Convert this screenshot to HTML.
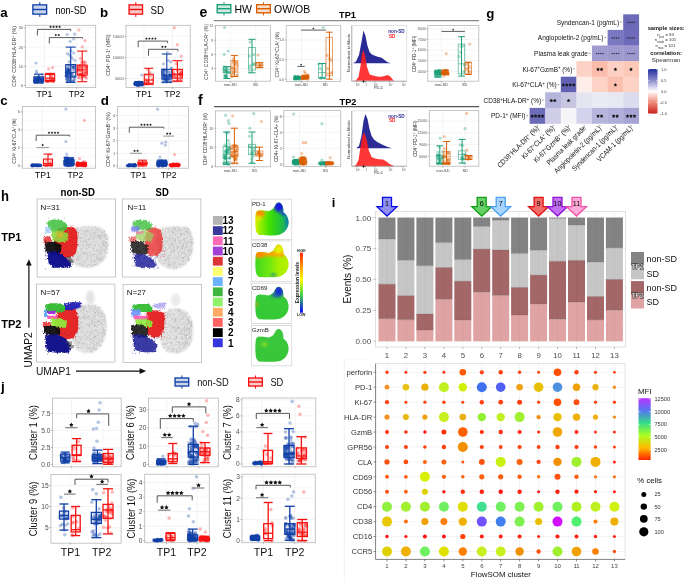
<!DOCTYPE html>
<html><head><meta charset="utf-8"><style>
html,body{margin:0;padding:0;background:#fff;overflow:hidden}
svg{display:block;font-family:"Liberation Sans", sans-serif;will-change:transform}
</style></head><body>
<svg width="685" height="582" viewBox="0 0 685 582">
<defs></defs>
<text x="0.2" y="16.9" font-size="13.3" font-weight="bold" fill="#000">a</text>
<text x="100" y="17.1" font-size="13.3" font-weight="bold" fill="#000">b</text>
<text x="0.2" y="104.6" font-size="13.3" font-weight="bold" fill="#000">c</text>
<text x="100.8" y="105" font-size="13.3" font-weight="bold" fill="#000">d</text>
<line x1="39.8" y1="2.2" x2="39.8" y2="16.9" stroke="#0f3fa6" stroke-width="1"/>
<rect x="32.9" y="4.9" width="13.7" height="9.2" fill="#fff" stroke="#0f3fa6" stroke-width="1.4"/>
<rect x="33.8" y="5.8" width="11.9" height="7.4" fill="#0f3fa6" stroke="none" stroke-width="1" fill-opacity="0.22"/>
<line x1="32.9" y1="9.5" x2="46.6" y2="9.5" stroke="#0f3fa6" stroke-width="1.4"/>
<text transform="translate(55.4 14) scale(0.870 1)" font-size="10.5" fill="#000">non-SD</text>
<line x1="135.8" y1="2.2" x2="135.8" y2="16.9" stroke="#f70f0f" stroke-width="1"/>
<rect x="129.1" y="4.9" width="13.4" height="9.2" fill="#fff" stroke="#f70f0f" stroke-width="1.4"/>
<rect x="130" y="5.8" width="11.6" height="7.4" fill="#f70f0f" stroke="none" stroke-width="1" fill-opacity="0.22"/>
<line x1="129.1" y1="9.5" x2="142.5" y2="9.5" stroke="#f70f0f" stroke-width="1.4"/>
<text transform="translate(150.4 14) scale(0.930 1)" font-size="10.5" fill="#000">SD</text>
<rect x="25.3" y="25.3" width="70.4" height="62.1" fill="#fff" stroke="none" stroke-width="1"/>
<line x1="25.3" y1="85.5" x2="95.7" y2="85.5" stroke="#ececec" stroke-width="0.6"/>
<line x1="25.3" y1="75.9" x2="95.7" y2="75.9" stroke="#f4f4f4" stroke-width="0.5"/>
<line x1="25.3" y1="66.3" x2="95.7" y2="66.3" stroke="#ececec" stroke-width="0.6"/>
<line x1="25.3" y1="56.7" x2="95.7" y2="56.7" stroke="#f4f4f4" stroke-width="0.5"/>
<line x1="25.3" y1="47.1" x2="95.7" y2="47.1" stroke="#ececec" stroke-width="0.6"/>
<line x1="25.3" y1="37.5" x2="95.7" y2="37.5" stroke="#f4f4f4" stroke-width="0.5"/>
<line x1="25.3" y1="27.9" x2="95.7" y2="27.9" stroke="#ececec" stroke-width="0.6"/>
<line x1="44.5" y1="25.3" x2="44.5" y2="87.4" stroke="#ececec" stroke-width="0.6"/>
<line x1="76.7" y1="25.3" x2="76.7" y2="87.4" stroke="#ececec" stroke-width="0.6"/>
<rect x="25.3" y="25.3" width="70.4" height="62.1" fill="none" stroke="#b8b8b8" stroke-width="0.8"/>
<line x1="23.8" y1="85.5" x2="25.3" y2="85.5" stroke="#777" stroke-width="0.5"/>
<text x="23.1" y="86.9" font-size="4" text-anchor="end" fill="#555555">0</text>
<line x1="23.8" y1="66.3" x2="25.3" y2="66.3" stroke="#777" stroke-width="0.5"/>
<text x="23.1" y="67.7" font-size="4" text-anchor="end" fill="#555555">10</text>
<line x1="23.8" y1="47.1" x2="25.3" y2="47.1" stroke="#777" stroke-width="0.5"/>
<text x="23.1" y="48.5" font-size="4" text-anchor="end" fill="#555555">20</text>
<line x1="23.8" y1="27.9" x2="25.3" y2="27.9" stroke="#777" stroke-width="0.5"/>
<text x="23.1" y="29.3" font-size="4" text-anchor="end" fill="#555555">30</text>
<line x1="44.5" y1="87.4" x2="44.5" y2="88.9" stroke="#777" stroke-width="0.5"/>
<line x1="76.7" y1="87.4" x2="76.7" y2="88.9" stroke="#777" stroke-width="0.5"/>
<text transform="translate(16.3 56.3) rotate(-90)" font-size="5.3" text-anchor="middle" fill="#333">CD4<tspan baseline-shift="super" font-size="3.2">+</tspan> CD38<tspan baseline-shift="super" font-size="3.2">+</tspan>HLA-DR<tspan baseline-shift="super" font-size="3.2">+</tspan> (%)</text>
<g fill="#0f3fa6" fill-opacity="0.3">
<circle cx="35" cy="80.9" r="1.6"/>
<circle cx="40.5" cy="79.5" r="1.6"/>
<circle cx="40.1" cy="81.4" r="1.6"/>
<circle cx="43" cy="81.5" r="1.6"/>
<circle cx="41.6" cy="81.3" r="1.6"/>
<circle cx="37" cy="79.6" r="1.6"/>
<circle cx="37.8" cy="82.1" r="1.6"/>
<circle cx="40.2" cy="82.2" r="1.6"/>
<circle cx="34.7" cy="77" r="1.6"/>
<circle cx="38.5" cy="77.5" r="1.6"/>
<circle cx="36" cy="81" r="1.6"/>
<circle cx="35.5" cy="80.2" r="1.6"/>
<circle cx="35" cy="79.1" r="1.6"/>
<circle cx="41.1" cy="79.4" r="1.6"/>
<circle cx="35.6" cy="81.4" r="1.6"/>
<circle cx="36.6" cy="78.4" r="1.6"/>
<circle cx="37.9" cy="80.2" r="1.6"/>
<circle cx="42" cy="79.5" r="1.6"/>
<circle cx="35.2" cy="77.8" r="1.6"/>
<circle cx="38.4" cy="79.2" r="1.6"/>
<circle cx="39.2" cy="77.5" r="1.6"/>
<circle cx="42.1" cy="74.4" r="1.6"/>
<circle cx="41.5" cy="79.7" r="1.6"/>
<circle cx="41.9" cy="80" r="1.6"/>
<circle cx="36.9" cy="78.5" r="1.6"/>
<circle cx="38.1" cy="81.8" r="1.6"/>
<circle cx="37.6" cy="78.3" r="1.6"/>
<circle cx="42.1" cy="78.9" r="1.6"/>
<circle cx="42.7" cy="77.6" r="1.6"/>
<circle cx="35.8" cy="78.2" r="1.6"/>
<circle cx="36" cy="63" r="1.6"/>
<circle cx="36.5" cy="71.1" r="1.6"/>
<circle cx="36.5" cy="73" r="1.6"/>
</g>
<g fill="#0f3fa6" fill-opacity="0.45">
<circle cx="39.6" cy="79.8" r="1.6"/>
<circle cx="34.6" cy="81.1" r="1.6"/>
<circle cx="37.7" cy="80.2" r="1.6"/>
<circle cx="42.7" cy="79.4" r="1.6"/>
<circle cx="38.9" cy="78.6" r="1.6"/>
<circle cx="40.3" cy="79.1" r="1.6"/>
<circle cx="42.2" cy="82.3" r="1.6"/>
<circle cx="42" cy="78.1" r="1.6"/>
<circle cx="37.9" cy="78" r="1.6"/>
<circle cx="35.4" cy="80.3" r="1.6"/>
<circle cx="35.1" cy="79" r="1.6"/>
<circle cx="36.3" cy="82.2" r="1.6"/>
<circle cx="37.4" cy="81.7" r="1.6"/>
<circle cx="34.5" cy="82.3" r="1.6"/>
<circle cx="35.4" cy="81.7" r="1.6"/>
<circle cx="34.7" cy="80.5" r="1.6"/>
<circle cx="39.8" cy="77.6" r="1.6"/>
<circle cx="36.7" cy="81.8" r="1.6"/>
<circle cx="37.6" cy="80.6" r="1.6"/>
<circle cx="41.8" cy="81.9" r="1.6"/>
<circle cx="38.5" cy="76.9" r="1.6"/>
<circle cx="35.3" cy="79.8" r="1.6"/>
<circle cx="37.5" cy="82" r="1.6"/>
<circle cx="41.6" cy="81.1" r="1.6"/>
<circle cx="34.7" cy="81.7" r="1.6"/>
</g>
<line x1="38.8" y1="74.2" x2="38.8" y2="83" stroke="#0f3fa6" stroke-width="1.1"/>
<line x1="34" y1="74.2" x2="43.5" y2="74.2" stroke="#0f3fa6" stroke-width="1.1"/>
<line x1="34" y1="83" x2="43.5" y2="83" stroke="#0f3fa6" stroke-width="1.1"/>
<rect x="34" y="76.9" width="9.5" height="4.8" fill="none" stroke="#0f3fa6" stroke-width="1.1"/>
<line x1="34" y1="79.2" x2="43.5" y2="79.2" stroke="#0f3fa6" stroke-width="1.1"/>
<g fill="#f70f0f" fill-opacity="0.3">
<circle cx="47.4" cy="81.5" r="1.6"/>
<circle cx="47.5" cy="80.3" r="1.6"/>
<circle cx="51.1" cy="74.5" r="1.6"/>
<circle cx="53.4" cy="81.4" r="1.6"/>
<circle cx="52.9" cy="79.5" r="1.6"/>
<circle cx="49.8" cy="80.8" r="1.6"/>
<circle cx="51.3" cy="79.1" r="1.6"/>
<circle cx="52.6" cy="80.7" r="1.6"/>
<circle cx="46.4" cy="80.8" r="1.6"/>
<circle cx="51.4" cy="77.3" r="1.6"/>
<circle cx="53.5" cy="80.3" r="1.6"/>
<circle cx="52.4" cy="78.8" r="1.6"/>
<circle cx="52.1" cy="76.3" r="1.6"/>
<circle cx="49.8" cy="74.2" r="1.6"/>
<circle cx="47.3" cy="81.2" r="1.6"/>
<circle cx="52.5" cy="79.1" r="1.6"/>
<circle cx="48.6" cy="68.8" r="1.6"/>
<circle cx="52.6" cy="67.6" r="1.6"/>
</g>
<line x1="50" y1="73.4" x2="50" y2="81.7" stroke="#f70f0f" stroke-width="1.1"/>
<line x1="45.2" y1="73.4" x2="54.8" y2="73.4" stroke="#f70f0f" stroke-width="1.1"/>
<line x1="45.2" y1="81.7" x2="54.8" y2="81.7" stroke="#f70f0f" stroke-width="1.1"/>
<rect x="45.2" y="74.4" width="9.5" height="6.1" fill="none" stroke="#f70f0f" stroke-width="1.1"/>
<line x1="45.2" y1="78.2" x2="54.8" y2="78.2" stroke="#f70f0f" stroke-width="1.1"/>
<g fill="#0f3fa6" fill-opacity="0.3">
<circle cx="66.6" cy="73.4" r="1.6"/>
<circle cx="73.2" cy="81.5" r="1.6"/>
<circle cx="68.6" cy="75" r="1.6"/>
<circle cx="67.4" cy="81.6" r="1.6"/>
<circle cx="70" cy="78.8" r="1.6"/>
<circle cx="74.4" cy="70.1" r="1.6"/>
<circle cx="73.6" cy="76.7" r="1.6"/>
<circle cx="68.5" cy="79.5" r="1.6"/>
<circle cx="67.5" cy="53.7" r="1.6"/>
<circle cx="74.5" cy="78" r="1.6"/>
<circle cx="71.3" cy="73.9" r="1.6"/>
<circle cx="72.5" cy="73.7" r="1.6"/>
<circle cx="67" cy="75.2" r="1.6"/>
<circle cx="66.7" cy="71.5" r="1.6"/>
<circle cx="72.4" cy="65.7" r="1.6"/>
<circle cx="70" cy="65.6" r="1.6"/>
<circle cx="66.9" cy="70.3" r="1.6"/>
<circle cx="74.6" cy="76.6" r="1.6"/>
<circle cx="71.9" cy="74.6" r="1.6"/>
<circle cx="73.4" cy="67" r="1.6"/>
<circle cx="67" cy="71" r="1.6"/>
<circle cx="73.9" cy="80.6" r="1.6"/>
<circle cx="66.8" cy="70" r="1.6"/>
<circle cx="74" cy="67.6" r="1.6"/>
<circle cx="70.3" cy="73.5" r="1.6"/>
<circle cx="69.3" cy="79.3" r="1.6"/>
<circle cx="71.2" cy="80" r="1.6"/>
<circle cx="74.5" cy="79.6" r="1.6"/>
<circle cx="68.6" cy="68.7" r="1.6"/>
<circle cx="67.4" cy="65.3" r="1.6"/>
<circle cx="70.9" cy="77.2" r="1.6"/>
<circle cx="68.3" cy="70" r="1.6"/>
<circle cx="67.2" cy="81.7" r="1.6"/>
<circle cx="67.7" cy="71.4" r="1.6"/>
<circle cx="66.7" cy="73.9" r="1.6"/>
<circle cx="68" cy="68.6" r="1.6"/>
<circle cx="69" cy="81.6" r="1.6"/>
<circle cx="68.9" cy="81.6" r="1.6"/>
<circle cx="73" cy="81.2" r="1.6"/>
<circle cx="68.8" cy="70.4" r="1.6"/>
<circle cx="70.7" cy="81.5" r="1.6"/>
<circle cx="67.8" cy="70.5" r="1.6"/>
<circle cx="69.3" cy="74.5" r="1.6"/>
<circle cx="66.4" cy="68" r="1.6"/>
<circle cx="68.5" cy="70.1" r="1.6"/>
<circle cx="66.3" cy="76.6" r="1.6"/>
<circle cx="72.8" cy="69.2" r="1.6"/>
<circle cx="71.2" cy="76.1" r="1.6"/>
<circle cx="67.9" cy="77" r="1.6"/>
<circle cx="70.5" cy="73.6" r="1.6"/>
<circle cx="74.6" cy="34.2" r="1.6"/>
<circle cx="67.2" cy="34.6" r="1.6"/>
<circle cx="73.6" cy="39" r="1.6"/>
<circle cx="70.1" cy="41.3" r="1.6"/>
<circle cx="70.7" cy="50.9" r="1.6"/>
<circle cx="73.7" cy="52.9" r="1.6"/>
<circle cx="69.7" cy="54.8" r="1.6"/>
<circle cx="70.8" cy="56.7" r="1.6"/>
<circle cx="72.4" cy="58.6" r="1.6"/>
<circle cx="75" cy="60.5" r="1.6"/>
<circle cx="69.3" cy="61.5" r="1.6"/>
</g>
<g fill="#0f3fa6" fill-opacity="0.45">
<circle cx="72.6" cy="67.3" r="1.6"/>
<circle cx="69.8" cy="70.7" r="1.6"/>
<circle cx="66.7" cy="75.7" r="1.6"/>
<circle cx="66.8" cy="79.4" r="1.6"/>
<circle cx="68.5" cy="68.9" r="1.6"/>
<circle cx="67" cy="78.8" r="1.6"/>
<circle cx="74" cy="67.1" r="1.6"/>
<circle cx="68.7" cy="70.1" r="1.6"/>
<circle cx="68.8" cy="77.5" r="1.6"/>
<circle cx="67.6" cy="73.7" r="1.6"/>
<circle cx="68.6" cy="74" r="1.6"/>
<circle cx="75" cy="65" r="1.6"/>
<circle cx="68.4" cy="72.2" r="1.6"/>
<circle cx="69" cy="65" r="1.6"/>
<circle cx="66.2" cy="75.5" r="1.6"/>
<circle cx="70.5" cy="75.1" r="1.6"/>
<circle cx="68" cy="73" r="1.6"/>
<circle cx="66.2" cy="72.9" r="1.6"/>
</g>
<line x1="70.7" y1="47.1" x2="70.7" y2="82.4" stroke="#0f3fa6" stroke-width="1.1"/>
<line x1="65.7" y1="47.1" x2="75.7" y2="47.1" stroke="#0f3fa6" stroke-width="1.1"/>
<line x1="65.7" y1="82.4" x2="75.7" y2="82.4" stroke="#0f3fa6" stroke-width="1.1"/>
<rect x="65.7" y="64.6" width="10" height="12.3" fill="none" stroke="#0f3fa6" stroke-width="1.1"/>
<line x1="65.7" y1="72.3" x2="75.7" y2="72.3" stroke="#0f3fa6" stroke-width="1.1"/>
<g fill="#f70f0f" fill-opacity="0.3">
<circle cx="80.4" cy="74.2" r="1.6"/>
<circle cx="82.8" cy="74.7" r="1.6"/>
<circle cx="77.8" cy="72.1" r="1.6"/>
<circle cx="78.2" cy="69.3" r="1.6"/>
<circle cx="80.1" cy="67.6" r="1.6"/>
<circle cx="83.7" cy="75.9" r="1.6"/>
<circle cx="83.9" cy="71.9" r="1.6"/>
<circle cx="83.8" cy="62.8" r="1.6"/>
<circle cx="80.3" cy="58.4" r="1.6"/>
<circle cx="82.3" cy="76.9" r="1.6"/>
<circle cx="81.9" cy="70.1" r="1.6"/>
<circle cx="81.9" cy="66.8" r="1.6"/>
<circle cx="78.8" cy="77.8" r="1.6"/>
<circle cx="85.7" cy="77.1" r="1.6"/>
<circle cx="79.5" cy="74.8" r="1.6"/>
<circle cx="86.5" cy="71.5" r="1.6"/>
<circle cx="86.1" cy="66.8" r="1.6"/>
<circle cx="77.9" cy="68.9" r="1.6"/>
<circle cx="81.8" cy="78.5" r="1.6"/>
<circle cx="85.1" cy="67.2" r="1.6"/>
<circle cx="86.4" cy="78.2" r="1.6"/>
<circle cx="81.7" cy="62.4" r="1.6"/>
<circle cx="80.1" cy="74.4" r="1.6"/>
<circle cx="79.6" cy="67.9" r="1.6"/>
<circle cx="86.2" cy="67.7" r="1.6"/>
<circle cx="79.6" cy="74.4" r="1.6"/>
<circle cx="82.9" cy="68.3" r="1.6"/>
<circle cx="79" cy="77.5" r="1.6"/>
<circle cx="82.4" cy="73.7" r="1.6"/>
<circle cx="86.3" cy="67.7" r="1.6"/>
<circle cx="78.9" cy="30" r="1.6"/>
<circle cx="85.1" cy="40.6" r="1.6"/>
<circle cx="82.3" cy="46.9" r="1.6"/>
<circle cx="85.7" cy="62.5" r="1.6"/>
<circle cx="84" cy="61.5" r="1.6"/>
</g>
<g fill="#f70f0f" fill-opacity="0.45">
<circle cx="85.8" cy="73.2" r="1.6"/>
<circle cx="77.9" cy="70.3" r="1.6"/>
<circle cx="82.1" cy="75.9" r="1.6"/>
<circle cx="80.4" cy="70.7" r="1.6"/>
<circle cx="80.8" cy="74.3" r="1.6"/>
<circle cx="85.3" cy="72.3" r="1.6"/>
<circle cx="84.5" cy="75.9" r="1.6"/>
<circle cx="78.8" cy="66.2" r="1.6"/>
<circle cx="84.1" cy="65.2" r="1.6"/>
<circle cx="80.3" cy="65.5" r="1.6"/>
</g>
<line x1="82.2" y1="51.1" x2="82.2" y2="81.7" stroke="#f70f0f" stroke-width="1.1"/>
<line x1="77.2" y1="51.1" x2="87.2" y2="51.1" stroke="#f70f0f" stroke-width="1.1"/>
<line x1="77.2" y1="81.7" x2="87.2" y2="81.7" stroke="#f70f0f" stroke-width="1.1"/>
<rect x="77.2" y="65.1" width="10" height="10" fill="none" stroke="#f70f0f" stroke-width="1.1"/>
<line x1="77.2" y1="69.9" x2="87.2" y2="69.9" stroke="#f70f0f" stroke-width="1.1"/>
<path d="M37.4 35.6 V29.4 H70.7 V31.2" fill="none" stroke="#333" stroke-width="0.8"/>
<path d="M50.60 25.57 L51.01 26.35 L51.88 26.51 L51.27 27.14 L51.39 28.01 L50.60 27.62 L49.81 28.01 L49.93 27.14 L49.32 26.51 L50.19 26.35 Z" fill="#111"/>
<path d="M53.60 25.57 L54.01 26.35 L54.88 26.51 L54.27 27.14 L54.39 28.01 L53.60 27.62 L52.81 28.01 L52.93 27.14 L52.32 26.51 L53.19 26.35 Z" fill="#111"/>
<path d="M56.60 25.57 L57.01 26.35 L57.88 26.51 L57.27 27.14 L57.39 28.01 L56.60 27.62 L55.81 28.01 L55.93 27.14 L55.32 26.51 L56.19 26.35 Z" fill="#111"/>
<path d="M59.60 25.57 L60.01 26.35 L60.88 26.51 L60.27 27.14 L60.39 28.01 L59.60 27.62 L58.81 28.01 L58.93 27.14 L58.32 26.51 L59.19 26.35 Z" fill="#111"/>
<path d="M49.3 43.5 V37.6 H82.5 V38.6" fill="none" stroke="#333" stroke-width="0.8"/>
<path d="M55.80 33.77 L56.21 34.55 L57.08 34.71 L56.47 35.34 L56.59 36.21 L55.80 35.82 L55.01 36.21 L55.13 35.34 L54.52 34.71 L55.39 34.55 Z" fill="#111"/>
<path d="M58.80 33.77 L59.21 34.55 L60.08 34.71 L59.47 35.34 L59.59 36.21 L58.80 35.82 L58.01 36.21 L58.13 35.34 L57.52 34.71 L58.39 34.55 Z" fill="#111"/>
<text x="44.5" y="97" font-size="8.6" text-anchor="middle" fill="#000">TP1</text>
<text x="76.7" y="97" font-size="8.6" text-anchor="middle" fill="#000">TP2</text>
<rect x="126" y="25.3" width="64.2" height="62.1" fill="#fff" stroke="none" stroke-width="1"/>
<line x1="126" y1="78.5" x2="190.2" y2="78.5" stroke="#ececec" stroke-width="0.6"/>
<line x1="126" y1="67.9" x2="190.2" y2="67.9" stroke="#f4f4f4" stroke-width="0.5"/>
<line x1="126" y1="57.4" x2="190.2" y2="57.4" stroke="#ececec" stroke-width="0.6"/>
<line x1="126" y1="46.8" x2="190.2" y2="46.8" stroke="#f4f4f4" stroke-width="0.5"/>
<line x1="126" y1="36.2" x2="190.2" y2="36.2" stroke="#ececec" stroke-width="0.6"/>
<line x1="144" y1="25.3" x2="144" y2="87.4" stroke="#ececec" stroke-width="0.6"/>
<line x1="172.5" y1="25.3" x2="172.5" y2="87.4" stroke="#ececec" stroke-width="0.6"/>
<rect x="126" y="25.3" width="64.2" height="62.1" fill="none" stroke="#b8b8b8" stroke-width="0.8"/>
<line x1="124.5" y1="78.5" x2="126" y2="78.5" stroke="#777" stroke-width="0.5"/>
<text x="123.8" y="79.9" font-size="4" text-anchor="end" fill="#555555">5000</text>
<line x1="124.5" y1="57.4" x2="126" y2="57.4" stroke="#777" stroke-width="0.5"/>
<text x="123.8" y="58.8" font-size="4" text-anchor="end" fill="#555555">10000</text>
<line x1="124.5" y1="36.2" x2="126" y2="36.2" stroke="#777" stroke-width="0.5"/>
<text x="123.8" y="37.6" font-size="4" text-anchor="end" fill="#555555">15000</text>
<line x1="144" y1="87.4" x2="144" y2="88.9" stroke="#777" stroke-width="0.5"/>
<line x1="172.5" y1="87.4" x2="172.5" y2="88.9" stroke="#777" stroke-width="0.5"/>
<text transform="translate(110.4 55.1) rotate(-90)" font-size="5.2" text-anchor="middle" fill="#333">CD4<tspan baseline-shift="super" font-size="3.15">+</tspan> PD-1<tspan baseline-shift="super" font-size="3.15">+</tspan> (MFI)</text>
<g fill="#0f3fa6" fill-opacity="0.3">
<circle cx="141.8" cy="83.8" r="1.6"/>
<circle cx="140.7" cy="85" r="1.6"/>
<circle cx="138" cy="84" r="1.6"/>
<circle cx="138" cy="84.3" r="1.6"/>
<circle cx="138.9" cy="81.8" r="1.6"/>
<circle cx="137.7" cy="84" r="1.6"/>
<circle cx="137.4" cy="84.1" r="1.6"/>
<circle cx="135.2" cy="83" r="1.6"/>
<circle cx="136.9" cy="84.7" r="1.6"/>
<circle cx="142.5" cy="84.8" r="1.6"/>
<circle cx="135.7" cy="82.9" r="1.6"/>
<circle cx="138.7" cy="83.3" r="1.6"/>
<circle cx="139.7" cy="85.2" r="1.6"/>
<circle cx="141.6" cy="84" r="1.6"/>
<circle cx="136.4" cy="84" r="1.6"/>
<circle cx="136.8" cy="85" r="1.6"/>
<circle cx="136.7" cy="83.7" r="1.6"/>
<circle cx="137.9" cy="84.2" r="1.6"/>
<circle cx="138.3" cy="84.1" r="1.6"/>
<circle cx="142.4" cy="84.9" r="1.6"/>
<circle cx="141.5" cy="84.9" r="1.6"/>
<circle cx="141.7" cy="84.1" r="1.6"/>
<circle cx="134.8" cy="83.9" r="1.6"/>
<circle cx="134.9" cy="84.1" r="1.6"/>
<circle cx="140.4" cy="83.6" r="1.6"/>
<circle cx="141.9" cy="75.1" r="1.6"/>
</g>
<g fill="#0f3fa6" fill-opacity="0.45">
<circle cx="139.4" cy="83.9" r="1.6"/>
<circle cx="137.8" cy="85.3" r="1.6"/>
<circle cx="141.3" cy="82.5" r="1.6"/>
<circle cx="142.5" cy="82.7" r="1.6"/>
<circle cx="135.5" cy="84.5" r="1.6"/>
<circle cx="138.9" cy="84.8" r="1.6"/>
<circle cx="142.3" cy="83.2" r="1.6"/>
<circle cx="139.9" cy="83.1" r="1.6"/>
<circle cx="138.4" cy="83" r="1.6"/>
<circle cx="135" cy="83.6" r="1.6"/>
<circle cx="136.5" cy="83" r="1.6"/>
<circle cx="139.9" cy="82.5" r="1.6"/>
<circle cx="135.7" cy="84.4" r="1.6"/>
<circle cx="139.8" cy="84.5" r="1.6"/>
<circle cx="135.6" cy="83.2" r="1.6"/>
<circle cx="138.9" cy="85.1" r="1.6"/>
<circle cx="137.8" cy="83.5" r="1.6"/>
<circle cx="139.5" cy="84.6" r="1.6"/>
<circle cx="137.1" cy="85.2" r="1.6"/>
<circle cx="142.4" cy="83.9" r="1.6"/>
<circle cx="141.8" cy="83.4" r="1.6"/>
<circle cx="136.6" cy="83.9" r="1.6"/>
<circle cx="142.4" cy="84.5" r="1.6"/>
<circle cx="137.1" cy="83.2" r="1.6"/>
<circle cx="138.7" cy="85.2" r="1.6"/>
<circle cx="138.1" cy="83.3" r="1.6"/>
<circle cx="140.1" cy="84.5" r="1.6"/>
<circle cx="136.5" cy="82.5" r="1.6"/>
<circle cx="137.4" cy="85.2" r="1.6"/>
<circle cx="140.2" cy="84" r="1.6"/>
</g>
<line x1="138.7" y1="81.5" x2="138.7" y2="85.3" stroke="#0f3fa6" stroke-width="1.1"/>
<line x1="134.2" y1="81.5" x2="143.2" y2="81.5" stroke="#0f3fa6" stroke-width="1.1"/>
<line x1="134.2" y1="85.3" x2="143.2" y2="85.3" stroke="#0f3fa6" stroke-width="1.1"/>
<rect x="134.2" y="82.9" width="9" height="1.5" fill="none" stroke="#0f3fa6" stroke-width="1.1"/>
<line x1="134.2" y1="83.6" x2="143.2" y2="83.6" stroke="#0f3fa6" stroke-width="1.1"/>
<g fill="#f70f0f" fill-opacity="0.3">
<circle cx="150.8" cy="76.1" r="1.6"/>
<circle cx="145" cy="84.2" r="1.6"/>
<circle cx="150.1" cy="72.5" r="1.6"/>
<circle cx="147.8" cy="81.2" r="1.6"/>
<circle cx="147.8" cy="69.5" r="1.6"/>
<circle cx="147.4" cy="81.5" r="1.6"/>
<circle cx="146.1" cy="79.4" r="1.6"/>
<circle cx="144.8" cy="84.2" r="1.6"/>
<circle cx="147" cy="81.3" r="1.6"/>
<circle cx="147.6" cy="84.2" r="1.6"/>
<circle cx="152.5" cy="79.7" r="1.6"/>
<circle cx="145.8" cy="83.5" r="1.6"/>
<circle cx="152.6" cy="84" r="1.6"/>
<circle cx="146.4" cy="74.8" r="1.6"/>
</g>
<line x1="148.8" y1="68.3" x2="148.8" y2="84.4" stroke="#f70f0f" stroke-width="1.1"/>
<line x1="144.3" y1="68.3" x2="153.3" y2="68.3" stroke="#f70f0f" stroke-width="1.1"/>
<line x1="144.3" y1="84.4" x2="153.3" y2="84.4" stroke="#f70f0f" stroke-width="1.1"/>
<rect x="144.3" y="74.3" width="9" height="8.9" fill="none" stroke="#f70f0f" stroke-width="1.1"/>
<line x1="144.3" y1="80" x2="153.3" y2="80" stroke="#f70f0f" stroke-width="1.1"/>
<g fill="#0f3fa6" fill-opacity="0.3">
<circle cx="163.2" cy="71.1" r="1.6"/>
<circle cx="166.6" cy="82" r="1.6"/>
<circle cx="169.7" cy="75.5" r="1.6"/>
<circle cx="169.9" cy="76.1" r="1.6"/>
<circle cx="170.5" cy="74.8" r="1.6"/>
<circle cx="162.7" cy="82.2" r="1.6"/>
<circle cx="164.9" cy="78.5" r="1.6"/>
<circle cx="163.4" cy="64" r="1.6"/>
<circle cx="164" cy="78.3" r="1.6"/>
<circle cx="171.1" cy="81.5" r="1.6"/>
<circle cx="167.5" cy="78.2" r="1.6"/>
<circle cx="170.7" cy="71.8" r="1.6"/>
<circle cx="165.7" cy="79.3" r="1.6"/>
<circle cx="170.1" cy="76.9" r="1.6"/>
<circle cx="166.3" cy="69.8" r="1.6"/>
<circle cx="164.6" cy="78.7" r="1.6"/>
<circle cx="169.3" cy="74.3" r="1.6"/>
<circle cx="170.8" cy="61.9" r="1.6"/>
<circle cx="163.3" cy="79.9" r="1.6"/>
<circle cx="167.7" cy="77.2" r="1.6"/>
<circle cx="167.9" cy="71.5" r="1.6"/>
<circle cx="164.3" cy="77.2" r="1.6"/>
<circle cx="165.6" cy="81.8" r="1.6"/>
<circle cx="163.6" cy="73.8" r="1.6"/>
<circle cx="164.1" cy="69.6" r="1.6"/>
<circle cx="164.6" cy="81.5" r="1.6"/>
<circle cx="167.7" cy="78.2" r="1.6"/>
<circle cx="168.2" cy="72.2" r="1.6"/>
<circle cx="164.1" cy="76.9" r="1.6"/>
<circle cx="162.4" cy="73.1" r="1.6"/>
<circle cx="165.2" cy="79.6" r="1.6"/>
<circle cx="168.4" cy="60.5" r="1.6"/>
<circle cx="164" cy="73.6" r="1.6"/>
<circle cx="165.1" cy="72" r="1.6"/>
<circle cx="164.1" cy="76.7" r="1.6"/>
<circle cx="169.5" cy="77.6" r="1.6"/>
<circle cx="167.2" cy="81.3" r="1.6"/>
<circle cx="162.9" cy="69.5" r="1.6"/>
<circle cx="163.2" cy="76.9" r="1.6"/>
<circle cx="165.9" cy="79.2" r="1.6"/>
<circle cx="167.3" cy="52.3" r="1.6"/>
</g>
<g fill="#0f3fa6" fill-opacity="0.45">
<circle cx="163.1" cy="71.6" r="1.6"/>
<circle cx="168.6" cy="79.3" r="1.6"/>
<circle cx="164.8" cy="75.3" r="1.6"/>
<circle cx="170.9" cy="76.9" r="1.6"/>
<circle cx="167.4" cy="76.9" r="1.6"/>
<circle cx="166" cy="76.1" r="1.6"/>
<circle cx="171.3" cy="68" r="1.6"/>
<circle cx="164.1" cy="76" r="1.6"/>
<circle cx="164.1" cy="70.2" r="1.6"/>
<circle cx="170.4" cy="81.8" r="1.6"/>
<circle cx="169.7" cy="75.1" r="1.6"/>
<circle cx="170.2" cy="75.4" r="1.6"/>
<circle cx="163.8" cy="74.5" r="1.6"/>
<circle cx="167.3" cy="81.6" r="1.6"/>
</g>
<line x1="166.8" y1="54" x2="166.8" y2="82.3" stroke="#0f3fa6" stroke-width="1.1"/>
<line x1="161.8" y1="54" x2="171.8" y2="54" stroke="#0f3fa6" stroke-width="1.1"/>
<line x1="161.8" y1="82.3" x2="171.8" y2="82.3" stroke="#0f3fa6" stroke-width="1.1"/>
<rect x="161.8" y="69.4" width="10" height="9.7" fill="none" stroke="#0f3fa6" stroke-width="1.1"/>
<line x1="161.8" y1="75.1" x2="171.8" y2="75.1" stroke="#0f3fa6" stroke-width="1.1"/>
<g fill="#f70f0f" fill-opacity="0.3">
<circle cx="173.3" cy="81" r="1.6"/>
<circle cx="178.6" cy="73.9" r="1.6"/>
<circle cx="173.6" cy="75.6" r="1.6"/>
<circle cx="179.5" cy="70.1" r="1.6"/>
<circle cx="179.9" cy="73.8" r="1.6"/>
<circle cx="177.5" cy="80.6" r="1.6"/>
<circle cx="173.4" cy="69.9" r="1.6"/>
<circle cx="177.4" cy="81" r="1.6"/>
<circle cx="176.3" cy="63.6" r="1.6"/>
<circle cx="181.5" cy="80.7" r="1.6"/>
<circle cx="174.1" cy="76" r="1.6"/>
<circle cx="180.6" cy="80.7" r="1.6"/>
<circle cx="181.9" cy="74.6" r="1.6"/>
<circle cx="179.5" cy="74.8" r="1.6"/>
<circle cx="180.2" cy="75.9" r="1.6"/>
<circle cx="174.6" cy="81.1" r="1.6"/>
<circle cx="181.7" cy="71.5" r="1.6"/>
<circle cx="177.3" cy="70.8" r="1.6"/>
<circle cx="181.5" cy="72.9" r="1.6"/>
<circle cx="181.1" cy="72.6" r="1.6"/>
<circle cx="174.4" cy="74.4" r="1.6"/>
<circle cx="180" cy="74.4" r="1.6"/>
<circle cx="181.3" cy="75.3" r="1.6"/>
<circle cx="173.5" cy="72.7" r="1.6"/>
<circle cx="176.1" cy="76" r="1.6"/>
<circle cx="179.7" cy="79.8" r="1.6"/>
<circle cx="174.3" cy="74" r="1.6"/>
<circle cx="181" cy="77" r="1.6"/>
<circle cx="175.4" cy="77.3" r="1.6"/>
<circle cx="180.2" cy="73.7" r="1.6"/>
<circle cx="174.2" cy="27.7" r="1.6"/>
<circle cx="177.4" cy="44.7" r="1.6"/>
<circle cx="181.2" cy="56.1" r="1.6"/>
</g>
<line x1="177.4" y1="60.7" x2="177.4" y2="81.2" stroke="#f70f0f" stroke-width="1.1"/>
<line x1="172.4" y1="60.7" x2="182.4" y2="60.7" stroke="#f70f0f" stroke-width="1.1"/>
<line x1="172.4" y1="81.2" x2="182.4" y2="81.2" stroke="#f70f0f" stroke-width="1.1"/>
<rect x="172.4" y="69.4" width="10" height="8.7" fill="none" stroke="#f70f0f" stroke-width="1.1"/>
<line x1="172.4" y1="74.3" x2="182.4" y2="74.3" stroke="#f70f0f" stroke-width="1.1"/>
<path d="M138.2 47.3 V41.1 H167.6 V43.2" fill="none" stroke="#333" stroke-width="0.8"/>
<path d="M146.40 37.27 L146.81 38.05 L147.68 38.21 L147.07 38.84 L147.19 39.71 L146.40 39.32 L145.61 39.71 L145.73 38.84 L145.12 38.21 L145.99 38.05 Z" fill="#111"/>
<path d="M149.40 37.27 L149.81 38.05 L150.68 38.21 L150.07 38.84 L150.19 39.71 L149.40 39.32 L148.61 39.71 L148.73 38.84 L148.12 38.21 L148.99 38.05 Z" fill="#111"/>
<path d="M152.40 37.27 L152.81 38.05 L153.68 38.21 L153.07 38.84 L153.19 39.71 L152.40 39.32 L151.61 39.71 L151.73 38.84 L151.12 38.21 L151.99 38.05 Z" fill="#111"/>
<path d="M155.40 37.27 L155.81 38.05 L156.68 38.21 L156.07 38.84 L156.19 39.71 L155.40 39.32 L154.61 39.71 L154.73 38.84 L154.12 38.21 L154.99 38.05 Z" fill="#111"/>
<path d="M148.5 55.8 V49.3 H177.9 V51.4" fill="none" stroke="#333" stroke-width="0.8"/>
<path d="M162.40 45.47 L162.81 46.25 L163.68 46.41 L163.07 47.04 L163.19 47.91 L162.40 47.52 L161.61 47.91 L161.73 47.04 L161.12 46.41 L161.99 46.25 Z" fill="#111"/>
<path d="M165.40 45.47 L165.81 46.25 L166.68 46.41 L166.07 47.04 L166.19 47.91 L165.40 47.52 L164.61 47.91 L164.73 47.04 L164.12 46.41 L164.99 46.25 Z" fill="#111"/>
<text x="144" y="97" font-size="8.6" text-anchor="middle" fill="#000">TP1</text>
<text x="172.5" y="97" font-size="8.6" text-anchor="middle" fill="#000">TP2</text>
<rect x="22.3" y="106.4" width="73.2" height="61.8" fill="#fff" stroke="none" stroke-width="1"/>
<line x1="22.3" y1="165.8" x2="95.5" y2="165.8" stroke="#ececec" stroke-width="0.6"/>
<line x1="22.3" y1="156.8" x2="95.5" y2="156.8" stroke="#f4f4f4" stroke-width="0.5"/>
<line x1="22.3" y1="147.8" x2="95.5" y2="147.8" stroke="#ececec" stroke-width="0.6"/>
<line x1="22.3" y1="138.8" x2="95.5" y2="138.8" stroke="#f4f4f4" stroke-width="0.5"/>
<line x1="22.3" y1="129.8" x2="95.5" y2="129.8" stroke="#ececec" stroke-width="0.6"/>
<line x1="22.3" y1="120.8" x2="95.5" y2="120.8" stroke="#f4f4f4" stroke-width="0.5"/>
<line x1="22.3" y1="111.8" x2="95.5" y2="111.8" stroke="#ececec" stroke-width="0.6"/>
<line x1="42.3" y1="106.4" x2="42.3" y2="168.2" stroke="#ececec" stroke-width="0.6"/>
<line x1="75.5" y1="106.4" x2="75.5" y2="168.2" stroke="#ececec" stroke-width="0.6"/>
<rect x="22.3" y="106.4" width="73.2" height="61.8" fill="none" stroke="#b8b8b8" stroke-width="0.8"/>
<line x1="20.8" y1="165.8" x2="22.3" y2="165.8" stroke="#777" stroke-width="0.5"/>
<text x="20.1" y="167.2" font-size="4" text-anchor="end" fill="#555555">0</text>
<line x1="20.8" y1="147.8" x2="22.3" y2="147.8" stroke="#777" stroke-width="0.5"/>
<text x="20.1" y="149.2" font-size="4" text-anchor="end" fill="#555555">2</text>
<line x1="20.8" y1="129.8" x2="22.3" y2="129.8" stroke="#777" stroke-width="0.5"/>
<text x="20.1" y="131.2" font-size="4" text-anchor="end" fill="#555555">4</text>
<line x1="20.8" y1="111.8" x2="22.3" y2="111.8" stroke="#777" stroke-width="0.5"/>
<text x="20.1" y="113.2" font-size="4" text-anchor="end" fill="#555555">6</text>
<line x1="42.3" y1="168.2" x2="42.3" y2="169.7" stroke="#777" stroke-width="0.5"/>
<line x1="75.5" y1="168.2" x2="75.5" y2="169.7" stroke="#777" stroke-width="0.5"/>
<text transform="translate(15.8 141) rotate(-90)" font-size="4.8" text-anchor="middle" fill="#333">CD4<tspan baseline-shift="super" font-size="2.85">+</tspan> Ki-67<tspan baseline-shift="super" font-size="2.85">+</tspan>CLA<tspan baseline-shift="super" font-size="2.85">+</tspan> (%)</text>
<g fill="#0f3fa6" fill-opacity="0.3">
<circle cx="34.4" cy="165.7" r="1.6"/>
<circle cx="40.9" cy="165.7" r="1.6"/>
<circle cx="37.2" cy="165.7" r="1.6"/>
<circle cx="35.2" cy="165.4" r="1.6"/>
<circle cx="38.9" cy="165.8" r="1.6"/>
<circle cx="36" cy="165.5" r="1.6"/>
<circle cx="33.6" cy="165.2" r="1.6"/>
<circle cx="38.7" cy="165.5" r="1.6"/>
<circle cx="32.4" cy="165.1" r="1.6"/>
<circle cx="39.4" cy="165.3" r="1.6"/>
</g>
<g fill="#0f3fa6" fill-opacity="0.45">
<circle cx="37.8" cy="165.5" r="1.6"/>
<circle cx="37.3" cy="164.7" r="1.6"/>
<circle cx="34.8" cy="165.1" r="1.6"/>
<circle cx="32.3" cy="165.8" r="1.6"/>
<circle cx="37.5" cy="165.6" r="1.6"/>
<circle cx="36.6" cy="165.3" r="1.6"/>
<circle cx="33.2" cy="164.8" r="1.6"/>
<circle cx="37.9" cy="165.6" r="1.6"/>
<circle cx="32" cy="165.8" r="1.6"/>
<circle cx="33" cy="165.4" r="1.6"/>
<circle cx="34" cy="165.4" r="1.6"/>
<circle cx="37.3" cy="165.2" r="1.6"/>
<circle cx="37.6" cy="165.6" r="1.6"/>
<circle cx="33.2" cy="165.3" r="1.6"/>
<circle cx="34.2" cy="164.8" r="1.6"/>
<circle cx="32.9" cy="165.6" r="1.6"/>
<circle cx="39.8" cy="165.1" r="1.6"/>
<circle cx="35.6" cy="165" r="1.6"/>
<circle cx="32.1" cy="165.5" r="1.6"/>
<circle cx="37.1" cy="165.1" r="1.6"/>
<circle cx="37.8" cy="165.4" r="1.6"/>
<circle cx="40.4" cy="165.3" r="1.6"/>
<circle cx="34.2" cy="165" r="1.6"/>
<circle cx="32.4" cy="164.8" r="1.6"/>
<circle cx="35.7" cy="165.2" r="1.6"/>
<circle cx="32.5" cy="165.5" r="1.6"/>
<circle cx="32.1" cy="165" r="1.6"/>
<circle cx="40.5" cy="165.2" r="1.6"/>
<circle cx="33.8" cy="165.6" r="1.6"/>
<circle cx="36.6" cy="165.1" r="1.6"/>
<circle cx="39.3" cy="165.1" r="1.6"/>
<circle cx="34.8" cy="165.6" r="1.6"/>
<circle cx="32.4" cy="165.5" r="1.6"/>
<circle cx="39" cy="164.8" r="1.6"/>
<circle cx="32.1" cy="165" r="1.6"/>
</g>
<line x1="36.5" y1="165.1" x2="36.5" y2="165.8" stroke="#0f3fa6" stroke-width="1.1"/>
<line x1="36.5" y1="165.1" x2="36.5" y2="165.1" stroke="#0f3fa6" stroke-width="1.1"/>
<line x1="36.5" y1="165.8" x2="36.5" y2="165.8" stroke="#0f3fa6" stroke-width="1.1"/>
<rect x="31.5" y="165.4" width="10" height="0.4" fill="none" stroke="#0f3fa6" stroke-width="1.1"/>
<line x1="31.5" y1="165.6" x2="41.5" y2="165.6" stroke="#0f3fa6" stroke-width="1.1"/>
<g fill="#f70f0f" fill-opacity="0.3">
<circle cx="45.9" cy="165.6" r="1.6"/>
<circle cx="50" cy="164.5" r="1.6"/>
<circle cx="51.6" cy="163.9" r="1.6"/>
<circle cx="50" cy="163.2" r="1.6"/>
<circle cx="46.6" cy="165.4" r="1.6"/>
<circle cx="51.1" cy="161" r="1.6"/>
<circle cx="46.6" cy="160.4" r="1.6"/>
<circle cx="45.9" cy="163.7" r="1.6"/>
<circle cx="51.3" cy="165.7" r="1.6"/>
<circle cx="49.1" cy="164.2" r="1.6"/>
<circle cx="49.6" cy="154.6" r="1.6"/>
</g>
<line x1="48" y1="154.1" x2="48" y2="165.8" stroke="#f70f0f" stroke-width="1.1"/>
<line x1="43.5" y1="154.1" x2="52.5" y2="154.1" stroke="#f70f0f" stroke-width="1.1"/>
<line x1="43.5" y1="165.8" x2="52.5" y2="165.8" stroke="#f70f0f" stroke-width="1.1"/>
<rect x="43.5" y="159.1" width="9" height="6.3" fill="none" stroke="#f70f0f" stroke-width="1.1"/>
<line x1="43.5" y1="163.6" x2="52.5" y2="163.6" stroke="#f70f0f" stroke-width="1.1"/>
<g fill="#0f3fa6" fill-opacity="0.3">
<circle cx="70.8" cy="165.4" r="1.6"/>
<circle cx="71.6" cy="165" r="1.6"/>
<circle cx="70.2" cy="161.6" r="1.6"/>
<circle cx="67.7" cy="163.5" r="1.6"/>
<circle cx="68.1" cy="162.1" r="1.6"/>
<circle cx="68.1" cy="160.8" r="1.6"/>
<circle cx="72.5" cy="164.8" r="1.6"/>
<circle cx="65.3" cy="160.7" r="1.6"/>
<circle cx="72.5" cy="164.3" r="1.6"/>
<circle cx="64.7" cy="164.7" r="1.6"/>
<circle cx="66.4" cy="165.2" r="1.6"/>
<circle cx="66.9" cy="162.1" r="1.6"/>
<circle cx="72.6" cy="161.2" r="1.6"/>
<circle cx="69" cy="165.7" r="1.6"/>
<circle cx="67.9" cy="165" r="1.6"/>
<circle cx="72.5" cy="164" r="1.6"/>
<circle cx="66.6" cy="164.7" r="1.6"/>
<circle cx="68.6" cy="165.2" r="1.6"/>
<circle cx="69.3" cy="165.5" r="1.6"/>
<circle cx="71.3" cy="164.5" r="1.6"/>
<circle cx="71.3" cy="164.3" r="1.6"/>
<circle cx="70.3" cy="164.8" r="1.6"/>
<circle cx="67.6" cy="163.6" r="1.6"/>
<circle cx="67.4" cy="164.3" r="1.6"/>
<circle cx="65.9" cy="165" r="1.6"/>
<circle cx="72.1" cy="163.7" r="1.6"/>
<circle cx="70.5" cy="161.4" r="1.6"/>
<circle cx="71.2" cy="161.7" r="1.6"/>
<circle cx="66" cy="163.9" r="1.6"/>
<circle cx="68.4" cy="159.8" r="1.6"/>
<circle cx="71.5" cy="164.9" r="1.6"/>
<circle cx="69.7" cy="161.5" r="1.6"/>
<circle cx="65.6" cy="163" r="1.6"/>
<circle cx="68.7" cy="161.3" r="1.6"/>
<circle cx="72.5" cy="162.7" r="1.6"/>
<circle cx="66.6" cy="161.2" r="1.6"/>
<circle cx="66.2" cy="160.7" r="1.6"/>
<circle cx="67.2" cy="163.9" r="1.6"/>
<circle cx="70.8" cy="165.5" r="1.6"/>
<circle cx="72.1" cy="160.1" r="1.6"/>
<circle cx="65.9" cy="109.1" r="1.6"/>
<circle cx="65.9" cy="141.5" r="1.6"/>
<circle cx="66.7" cy="154.1" r="1.6"/>
</g>
<g fill="#0f3fa6" fill-opacity="0.45">
<circle cx="69.2" cy="163.2" r="1.6"/>
<circle cx="67.5" cy="164.5" r="1.6"/>
<circle cx="73.3" cy="164.3" r="1.6"/>
<circle cx="65.4" cy="159.9" r="1.6"/>
<circle cx="65.4" cy="158" r="1.6"/>
<circle cx="73.4" cy="162.7" r="1.6"/>
<circle cx="71.1" cy="159.4" r="1.6"/>
<circle cx="66.3" cy="162.3" r="1.6"/>
<circle cx="65.5" cy="160.6" r="1.6"/>
<circle cx="68" cy="164.1" r="1.6"/>
<circle cx="68.1" cy="165.5" r="1.6"/>
<circle cx="70.7" cy="159.4" r="1.6"/>
<circle cx="70.2" cy="161.7" r="1.6"/>
<circle cx="65.8" cy="162" r="1.6"/>
<circle cx="68.1" cy="160.9" r="1.6"/>
<circle cx="72.7" cy="159.8" r="1.6"/>
<circle cx="69.7" cy="162.3" r="1.6"/>
<circle cx="68.3" cy="159.7" r="1.6"/>
<circle cx="71" cy="163.9" r="1.6"/>
<circle cx="71.5" cy="158.7" r="1.6"/>
<circle cx="72.2" cy="160.1" r="1.6"/>
<circle cx="70.3" cy="160.3" r="1.6"/>
<circle cx="67.3" cy="162.1" r="1.6"/>
<circle cx="65.4" cy="160.7" r="1.6"/>
<circle cx="71.5" cy="162.4" r="1.6"/>
<circle cx="70.2" cy="160" r="1.6"/>
<circle cx="68.3" cy="163.8" r="1.6"/>
<circle cx="70.1" cy="162.1" r="1.6"/>
<circle cx="70.6" cy="162.5" r="1.6"/>
<circle cx="66.1" cy="158.3" r="1.6"/>
<circle cx="71.5" cy="160.5" r="1.6"/>
<circle cx="68.9" cy="162.7" r="1.6"/>
<circle cx="64.8" cy="157.9" r="1.6"/>
<circle cx="65.9" cy="161.4" r="1.6"/>
<circle cx="73" cy="159.5" r="1.6"/>
<circle cx="65.4" cy="161.6" r="1.6"/>
<circle cx="69.4" cy="161.1" r="1.6"/>
<circle cx="69.1" cy="160" r="1.6"/>
<circle cx="72" cy="160.6" r="1.6"/>
<circle cx="68.2" cy="161.6" r="1.6"/>
<circle cx="66.4" cy="158.1" r="1.6"/>
<circle cx="68" cy="160.3" r="1.6"/>
<circle cx="65.6" cy="159.6" r="1.6"/>
<circle cx="67.7" cy="157.8" r="1.6"/>
<circle cx="67" cy="165.3" r="1.6"/>
<circle cx="64.6" cy="162.6" r="1.6"/>
<circle cx="68.3" cy="162.4" r="1.6"/>
<circle cx="67.7" cy="160.1" r="1.6"/>
<circle cx="66.5" cy="163.7" r="1.6"/>
<circle cx="73" cy="159.8" r="1.6"/>
<circle cx="66.5" cy="161.5" r="1.6"/>
<circle cx="68" cy="159.3" r="1.6"/>
<circle cx="65.7" cy="164.1" r="1.6"/>
<circle cx="71.8" cy="159.5" r="1.6"/>
<circle cx="68.7" cy="160.7" r="1.6"/>
<circle cx="66.5" cy="161.2" r="1.6"/>
<circle cx="67.7" cy="158" r="1.6"/>
<circle cx="71.9" cy="160.6" r="1.6"/>
<circle cx="68.7" cy="159.2" r="1.6"/>
<circle cx="69.4" cy="163.4" r="1.6"/>
</g>
<line x1="69" y1="157.7" x2="69" y2="165.8" stroke="#0f3fa6" stroke-width="1.1"/>
<line x1="64" y1="157.7" x2="74" y2="157.7" stroke="#0f3fa6" stroke-width="1.1"/>
<line x1="64" y1="165.8" x2="74" y2="165.8" stroke="#0f3fa6" stroke-width="1.1"/>
<rect x="64" y="160.4" width="10" height="4.5" fill="none" stroke="#0f3fa6" stroke-width="1.1"/>
<line x1="64" y1="163.1" x2="74" y2="163.1" stroke="#0f3fa6" stroke-width="1.1"/>
<g fill="#f70f0f" fill-opacity="0.3">
<circle cx="83" cy="163.8" r="1.6"/>
<circle cx="84.6" cy="163.8" r="1.6"/>
<circle cx="80.4" cy="164.7" r="1.6"/>
<circle cx="80.8" cy="164.6" r="1.6"/>
<circle cx="85.6" cy="165.3" r="1.6"/>
<circle cx="77.7" cy="165.4" r="1.6"/>
<circle cx="82.7" cy="164.5" r="1.6"/>
<circle cx="82.7" cy="164.2" r="1.6"/>
<circle cx="77.3" cy="163" r="1.6"/>
<circle cx="82.5" cy="163.4" r="1.6"/>
<circle cx="83.1" cy="165.7" r="1.6"/>
<circle cx="85.4" cy="165.8" r="1.6"/>
<circle cx="80" cy="163.6" r="1.6"/>
<circle cx="85.8" cy="165.7" r="1.6"/>
<circle cx="81.6" cy="164.9" r="1.6"/>
<circle cx="81.4" cy="165.6" r="1.6"/>
<circle cx="85.1" cy="165.7" r="1.6"/>
<circle cx="77.3" cy="165.4" r="1.6"/>
<circle cx="83.5" cy="165.4" r="1.6"/>
<circle cx="82.6" cy="164" r="1.6"/>
<circle cx="80" cy="164" r="1.6"/>
<circle cx="84.8" cy="163.8" r="1.6"/>
<circle cx="80.3" cy="164.9" r="1.6"/>
<circle cx="81.3" cy="165.1" r="1.6"/>
<circle cx="81.7" cy="165.2" r="1.6"/>
<circle cx="83.9" cy="165.1" r="1.6"/>
<circle cx="78.9" cy="164.5" r="1.6"/>
<circle cx="80.9" cy="163.8" r="1.6"/>
<circle cx="80.8" cy="163.8" r="1.6"/>
<circle cx="82" cy="164.3" r="1.6"/>
<circle cx="84.4" cy="120.3" r="1.6"/>
<circle cx="79.6" cy="158.6" r="1.6"/>
<circle cx="84.4" cy="161.3" r="1.6"/>
</g>
<g fill="#f70f0f" fill-opacity="0.45">
<circle cx="81.5" cy="164.5" r="1.6"/>
<circle cx="81.6" cy="164.9" r="1.6"/>
<circle cx="82.9" cy="162.7" r="1.6"/>
<circle cx="80" cy="163.3" r="1.6"/>
<circle cx="79.7" cy="164.8" r="1.6"/>
<circle cx="82.7" cy="164" r="1.6"/>
<circle cx="77.4" cy="163.3" r="1.6"/>
<circle cx="85" cy="163.5" r="1.6"/>
<circle cx="77.4" cy="164.1" r="1.6"/>
<circle cx="77.1" cy="164.9" r="1.6"/>
<circle cx="85.3" cy="165.2" r="1.6"/>
<circle cx="82.9" cy="163.9" r="1.6"/>
<circle cx="85.2" cy="163.3" r="1.6"/>
<circle cx="82.6" cy="163.9" r="1.6"/>
<circle cx="83.3" cy="163.8" r="1.6"/>
<circle cx="83.1" cy="163.9" r="1.6"/>
<circle cx="83" cy="165.1" r="1.6"/>
<circle cx="83.9" cy="164.4" r="1.6"/>
<circle cx="78.6" cy="165.5" r="1.6"/>
<circle cx="84" cy="165.7" r="1.6"/>
<circle cx="82.9" cy="162.9" r="1.6"/>
<circle cx="84.4" cy="164.6" r="1.6"/>
<circle cx="82.1" cy="163.3" r="1.6"/>
<circle cx="79.7" cy="165" r="1.6"/>
<circle cx="79.9" cy="164.5" r="1.6"/>
<circle cx="82.8" cy="164.4" r="1.6"/>
<circle cx="77.5" cy="162.9" r="1.6"/>
<circle cx="77.4" cy="164" r="1.6"/>
<circle cx="84.3" cy="165.4" r="1.6"/>
<circle cx="85.3" cy="164" r="1.6"/>
<circle cx="77.1" cy="164.4" r="1.6"/>
<circle cx="82.3" cy="164.6" r="1.6"/>
<circle cx="85.8" cy="162.8" r="1.6"/>
<circle cx="80.7" cy="164.3" r="1.6"/>
<circle cx="82.8" cy="165.5" r="1.6"/>
<circle cx="78.4" cy="165.1" r="1.6"/>
<circle cx="77" cy="165.8" r="1.6"/>
<circle cx="78.1" cy="163.6" r="1.6"/>
<circle cx="77.8" cy="162.8" r="1.6"/>
<circle cx="78.2" cy="163.1" r="1.6"/>
</g>
<line x1="81.5" y1="162.7" x2="81.5" y2="165.8" stroke="#f70f0f" stroke-width="1.1"/>
<line x1="76.5" y1="162.7" x2="86.5" y2="162.7" stroke="#f70f0f" stroke-width="1.1"/>
<line x1="76.5" y1="165.8" x2="86.5" y2="165.8" stroke="#f70f0f" stroke-width="1.1"/>
<rect x="76.5" y="163.6" width="10" height="1.8" fill="none" stroke="#f70f0f" stroke-width="1.1"/>
<line x1="76.5" y1="164.5" x2="86.5" y2="164.5" stroke="#f70f0f" stroke-width="1.1"/>
<path d="M36.2 141 V135.2 H69.6 V136.6" fill="none" stroke="#333" stroke-width="0.8"/>
<path d="M49.00 131.37 L49.41 132.15 L50.28 132.31 L49.67 132.94 L49.79 133.81 L49.00 133.42 L48.21 133.81 L48.33 132.94 L47.72 132.31 L48.59 132.15 Z" fill="#111"/>
<path d="M52.00 131.37 L52.41 132.15 L53.28 132.31 L52.67 132.94 L52.79 133.81 L52.00 133.42 L51.21 133.81 L51.33 132.94 L50.72 132.31 L51.59 132.15 Z" fill="#111"/>
<path d="M55.00 131.37 L55.41 132.15 L56.28 132.31 L55.67 132.94 L55.79 133.81 L55.00 133.42 L54.21 133.81 L54.33 132.94 L53.72 132.31 L54.59 132.15 Z" fill="#111"/>
<path d="M58.00 131.37 L58.41 132.15 L59.28 132.31 L58.67 132.94 L58.79 133.81 L58.00 133.42 L57.21 133.81 L57.33 132.94 L56.72 132.31 L57.59 132.15 Z" fill="#111"/>
<line x1="36.5" y1="147.6" x2="48.9" y2="147.6" stroke="#888" stroke-width="0.9"/>
<path d="M42.70 143.77 L43.11 144.55 L43.98 144.71 L43.37 145.34 L43.49 146.21 L42.70 145.82 L41.91 146.21 L42.03 145.34 L41.42 144.71 L42.29 144.55 Z" fill="#111"/>
<text x="43" y="178.3" font-size="8.6" text-anchor="middle" fill="#000">TP1</text>
<text x="75.5" y="178.3" font-size="8.6" text-anchor="middle" fill="#000">TP2</text>
<rect x="117.5" y="106.4" width="70.9" height="61.8" fill="#fff" stroke="none" stroke-width="1"/>
<line x1="117.5" y1="165.9" x2="188.4" y2="165.9" stroke="#ececec" stroke-width="0.6"/>
<line x1="117.5" y1="159.6" x2="188.4" y2="159.6" stroke="#f4f4f4" stroke-width="0.5"/>
<line x1="117.5" y1="153.3" x2="188.4" y2="153.3" stroke="#ececec" stroke-width="0.6"/>
<line x1="117.5" y1="147" x2="188.4" y2="147" stroke="#f4f4f4" stroke-width="0.5"/>
<line x1="117.5" y1="140.7" x2="188.4" y2="140.7" stroke="#ececec" stroke-width="0.6"/>
<line x1="117.5" y1="134.4" x2="188.4" y2="134.4" stroke="#f4f4f4" stroke-width="0.5"/>
<line x1="117.5" y1="128.1" x2="188.4" y2="128.1" stroke="#ececec" stroke-width="0.6"/>
<line x1="117.5" y1="121.8" x2="188.4" y2="121.8" stroke="#f4f4f4" stroke-width="0.5"/>
<line x1="117.5" y1="115.5" x2="188.4" y2="115.5" stroke="#ececec" stroke-width="0.6"/>
<line x1="138.5" y1="106.4" x2="138.5" y2="168.2" stroke="#ececec" stroke-width="0.6"/>
<line x1="168.6" y1="106.4" x2="168.6" y2="168.2" stroke="#ececec" stroke-width="0.6"/>
<rect x="117.5" y="106.4" width="70.9" height="61.8" fill="none" stroke="#b8b8b8" stroke-width="0.8"/>
<line x1="116" y1="165.9" x2="117.5" y2="165.9" stroke="#777" stroke-width="0.5"/>
<text x="115.3" y="167.3" font-size="4" text-anchor="end" fill="#555555">0</text>
<line x1="116" y1="153.3" x2="117.5" y2="153.3" stroke="#777" stroke-width="0.5"/>
<text x="115.3" y="154.7" font-size="4" text-anchor="end" fill="#555555">1</text>
<line x1="116" y1="140.7" x2="117.5" y2="140.7" stroke="#777" stroke-width="0.5"/>
<text x="115.3" y="142.1" font-size="4" text-anchor="end" fill="#555555">2</text>
<line x1="116" y1="128.1" x2="117.5" y2="128.1" stroke="#777" stroke-width="0.5"/>
<text x="115.3" y="129.5" font-size="4" text-anchor="end" fill="#555555">3</text>
<line x1="116" y1="115.5" x2="117.5" y2="115.5" stroke="#777" stroke-width="0.5"/>
<text x="115.3" y="116.9" font-size="4" text-anchor="end" fill="#555555">4</text>
<line x1="138.5" y1="168.2" x2="138.5" y2="169.7" stroke="#777" stroke-width="0.5"/>
<line x1="168.6" y1="168.2" x2="168.6" y2="169.7" stroke="#777" stroke-width="0.5"/>
<text transform="translate(110.2 139.5) rotate(-90)" font-size="5.3" text-anchor="middle" fill="#333">CD4<tspan baseline-shift="super" font-size="3.16">+</tspan> Ki-67<tspan baseline-shift="super" font-size="3.16">+</tspan>GzmB<tspan baseline-shift="super" font-size="3.16">+</tspan> (%)</text>
<g fill="#0f3fa6" fill-opacity="0.3">
<circle cx="128.5" cy="165.4" r="1.6"/>
<circle cx="134.7" cy="165.4" r="1.6"/>
<circle cx="131.4" cy="165.9" r="1.6"/>
<circle cx="127.5" cy="165.9" r="1.6"/>
<circle cx="130.3" cy="165.4" r="1.6"/>
<circle cx="132.2" cy="165" r="1.6"/>
<circle cx="130.9" cy="165.3" r="1.6"/>
<circle cx="133.1" cy="165.9" r="1.6"/>
<circle cx="128.3" cy="165.9" r="1.6"/>
<circle cx="134.2" cy="165.4" r="1.6"/>
</g>
<g fill="#0f3fa6" fill-opacity="0.45">
<circle cx="132.8" cy="165.4" r="1.6"/>
<circle cx="130.8" cy="165.1" r="1.6"/>
<circle cx="134.1" cy="165.4" r="1.6"/>
<circle cx="134.1" cy="164.7" r="1.6"/>
<circle cx="129.6" cy="165.2" r="1.6"/>
<circle cx="135.8" cy="165.8" r="1.6"/>
<circle cx="134.4" cy="165" r="1.6"/>
<circle cx="132.5" cy="165.5" r="1.6"/>
<circle cx="134.5" cy="164.7" r="1.6"/>
<circle cx="129.8" cy="165.1" r="1.6"/>
<circle cx="135" cy="165.4" r="1.6"/>
<circle cx="133.2" cy="165.4" r="1.6"/>
<circle cx="135.1" cy="165.1" r="1.6"/>
<circle cx="129.5" cy="164.9" r="1.6"/>
<circle cx="129.4" cy="165.9" r="1.6"/>
<circle cx="132.3" cy="165.4" r="1.6"/>
<circle cx="135" cy="164.9" r="1.6"/>
<circle cx="134.5" cy="165.8" r="1.6"/>
<circle cx="134.8" cy="164.9" r="1.6"/>
<circle cx="129.5" cy="165.2" r="1.6"/>
<circle cx="134.3" cy="164.8" r="1.6"/>
<circle cx="135.2" cy="165" r="1.6"/>
<circle cx="127.8" cy="165.5" r="1.6"/>
<circle cx="134.2" cy="165.2" r="1.6"/>
<circle cx="133.8" cy="165.6" r="1.6"/>
<circle cx="129.1" cy="164.7" r="1.6"/>
<circle cx="133.1" cy="165.1" r="1.6"/>
<circle cx="128.9" cy="165.3" r="1.6"/>
<circle cx="133.8" cy="165.6" r="1.6"/>
<circle cx="131.1" cy="164.9" r="1.6"/>
<circle cx="134.3" cy="165.8" r="1.6"/>
<circle cx="129.1" cy="164.9" r="1.6"/>
<circle cx="135.1" cy="165.2" r="1.6"/>
<circle cx="131.7" cy="164.8" r="1.6"/>
<circle cx="132.3" cy="165.3" r="1.6"/>
</g>
<line x1="131.5" y1="164.9" x2="131.5" y2="165.9" stroke="#0f3fa6" stroke-width="1.1"/>
<line x1="131.5" y1="164.9" x2="131.5" y2="164.9" stroke="#0f3fa6" stroke-width="1.1"/>
<line x1="131.5" y1="165.9" x2="131.5" y2="165.9" stroke="#0f3fa6" stroke-width="1.1"/>
<rect x="126.5" y="165.3" width="10" height="0.6" fill="none" stroke="#0f3fa6" stroke-width="1.1"/>
<line x1="126.5" y1="165.6" x2="136.5" y2="165.6" stroke="#0f3fa6" stroke-width="1.1"/>
<g fill="#f70f0f" fill-opacity="0.3">
<circle cx="140.5" cy="164.2" r="1.6"/>
<circle cx="138.8" cy="162.9" r="1.6"/>
<circle cx="140.1" cy="163.2" r="1.6"/>
<circle cx="139.9" cy="163.3" r="1.6"/>
<circle cx="139.1" cy="164.5" r="1.6"/>
<circle cx="138.9" cy="165.7" r="1.6"/>
<circle cx="143" cy="165.7" r="1.6"/>
<circle cx="145.5" cy="163.8" r="1.6"/>
<circle cx="142.2" cy="164.6" r="1.6"/>
<circle cx="146.1" cy="162.1" r="1.6"/>
<circle cx="145.8" cy="163.5" r="1.6"/>
<circle cx="139" cy="162.7" r="1.6"/>
<circle cx="143.3" cy="162.3" r="1.6"/>
<circle cx="141.7" cy="164.7" r="1.6"/>
</g>
<line x1="142.5" y1="160.2" x2="142.5" y2="165.9" stroke="#f70f0f" stroke-width="1.1"/>
<line x1="138" y1="160.2" x2="147" y2="160.2" stroke="#f70f0f" stroke-width="1.1"/>
<line x1="138" y1="165.9" x2="147" y2="165.9" stroke="#f70f0f" stroke-width="1.1"/>
<rect x="138" y="162.1" width="9" height="2.5" fill="none" stroke="#f70f0f" stroke-width="1.1"/>
<line x1="138" y1="163.4" x2="147" y2="163.4" stroke="#f70f0f" stroke-width="1.1"/>
<g fill="#0f3fa6" fill-opacity="0.3">
<circle cx="160.1" cy="162.2" r="1.6"/>
<circle cx="166.3" cy="163.5" r="1.6"/>
<circle cx="157.6" cy="165.5" r="1.6"/>
<circle cx="164.8" cy="163.9" r="1.6"/>
<circle cx="160.6" cy="162.2" r="1.6"/>
<circle cx="158.8" cy="165.9" r="1.6"/>
<circle cx="157.5" cy="164.2" r="1.6"/>
<circle cx="165" cy="165.4" r="1.6"/>
<circle cx="162.2" cy="162.8" r="1.6"/>
<circle cx="159.2" cy="165.3" r="1.6"/>
<circle cx="161.4" cy="164.8" r="1.6"/>
<circle cx="165.7" cy="165.5" r="1.6"/>
<circle cx="159.5" cy="163.4" r="1.6"/>
<circle cx="162.6" cy="164.9" r="1.6"/>
<circle cx="158.7" cy="164.9" r="1.6"/>
<circle cx="159.1" cy="164.7" r="1.6"/>
<circle cx="164.4" cy="164.8" r="1.6"/>
<circle cx="163.9" cy="162.5" r="1.6"/>
<circle cx="159.3" cy="165.2" r="1.6"/>
<circle cx="158.2" cy="160.8" r="1.6"/>
<circle cx="158.3" cy="165.8" r="1.6"/>
<circle cx="163" cy="165" r="1.6"/>
<circle cx="162" cy="165.5" r="1.6"/>
<circle cx="160" cy="164.2" r="1.6"/>
<circle cx="159.4" cy="163.1" r="1.6"/>
<circle cx="163" cy="164.6" r="1.6"/>
<circle cx="163.9" cy="163" r="1.6"/>
<circle cx="164.8" cy="164.8" r="1.6"/>
<circle cx="162.7" cy="164.4" r="1.6"/>
<circle cx="159.3" cy="164.4" r="1.6"/>
<circle cx="158.1" cy="165.5" r="1.6"/>
<circle cx="164.1" cy="164.3" r="1.6"/>
<circle cx="161.2" cy="160.4" r="1.6"/>
<circle cx="164" cy="162.5" r="1.6"/>
<circle cx="158" cy="164" r="1.6"/>
<circle cx="164.8" cy="164.5" r="1.6"/>
<circle cx="160.5" cy="164.1" r="1.6"/>
<circle cx="165.1" cy="165.3" r="1.6"/>
<circle cx="165.3" cy="164.4" r="1.6"/>
<circle cx="161.9" cy="162.4" r="1.6"/>
<circle cx="157.6" cy="109.2" r="1.6"/>
<circle cx="165.7" cy="142" r="1.6"/>
<circle cx="161.8" cy="143.2" r="1.6"/>
<circle cx="165.3" cy="145.1" r="1.6"/>
<circle cx="159.9" cy="157.1" r="1.6"/>
</g>
<g fill="#0f3fa6" fill-opacity="0.45">
<circle cx="165" cy="165" r="1.6"/>
<circle cx="159" cy="164" r="1.6"/>
<circle cx="162.9" cy="164" r="1.6"/>
<circle cx="162.2" cy="165.9" r="1.6"/>
<circle cx="162.1" cy="163.7" r="1.6"/>
<circle cx="163.9" cy="165.3" r="1.6"/>
<circle cx="165.3" cy="161.8" r="1.6"/>
<circle cx="163.9" cy="164.3" r="1.6"/>
<circle cx="164.3" cy="164" r="1.6"/>
<circle cx="165.4" cy="165.6" r="1.6"/>
<circle cx="162" cy="161.1" r="1.6"/>
<circle cx="162.3" cy="163.3" r="1.6"/>
<circle cx="157.7" cy="163.2" r="1.6"/>
<circle cx="159.5" cy="161" r="1.6"/>
<circle cx="158.4" cy="165" r="1.6"/>
<circle cx="164.9" cy="164.6" r="1.6"/>
<circle cx="158.4" cy="165.7" r="1.6"/>
<circle cx="159.3" cy="162.4" r="1.6"/>
<circle cx="162.9" cy="165.8" r="1.6"/>
<circle cx="162.2" cy="163" r="1.6"/>
<circle cx="158.4" cy="162.4" r="1.6"/>
<circle cx="164" cy="161.5" r="1.6"/>
<circle cx="158.6" cy="165.7" r="1.6"/>
<circle cx="162" cy="163.4" r="1.6"/>
<circle cx="158.6" cy="164.5" r="1.6"/>
<circle cx="158.7" cy="163.9" r="1.6"/>
<circle cx="165.2" cy="162.9" r="1.6"/>
<circle cx="162.7" cy="165.2" r="1.6"/>
<circle cx="159" cy="162.1" r="1.6"/>
<circle cx="165.9" cy="161.7" r="1.6"/>
<circle cx="161.3" cy="163.9" r="1.6"/>
<circle cx="162.2" cy="161.7" r="1.6"/>
<circle cx="166" cy="163.9" r="1.6"/>
<circle cx="160.5" cy="162" r="1.6"/>
<circle cx="160.5" cy="164.7" r="1.6"/>
<circle cx="166.3" cy="163.7" r="1.6"/>
<circle cx="165.7" cy="161.8" r="1.6"/>
<circle cx="165.1" cy="161.8" r="1.6"/>
<circle cx="162.2" cy="165.6" r="1.6"/>
<circle cx="165.9" cy="161.1" r="1.6"/>
<circle cx="161.3" cy="164.6" r="1.6"/>
<circle cx="160.8" cy="162.7" r="1.6"/>
<circle cx="158.1" cy="163.2" r="1.6"/>
<circle cx="162" cy="163.7" r="1.6"/>
<circle cx="158.8" cy="165.8" r="1.6"/>
<circle cx="164.5" cy="161" r="1.6"/>
<circle cx="163.2" cy="161.2" r="1.6"/>
<circle cx="165.5" cy="161.8" r="1.6"/>
<circle cx="157.8" cy="161.4" r="1.6"/>
<circle cx="159.9" cy="162.7" r="1.6"/>
<circle cx="160" cy="162.5" r="1.6"/>
<circle cx="165.8" cy="163.2" r="1.6"/>
<circle cx="159.8" cy="162.8" r="1.6"/>
<circle cx="161.4" cy="163.3" r="1.6"/>
<circle cx="160.1" cy="161.1" r="1.6"/>
<circle cx="163.3" cy="164.4" r="1.6"/>
<circle cx="162.8" cy="165.3" r="1.6"/>
<circle cx="162.1" cy="161.1" r="1.6"/>
<circle cx="161.7" cy="164.5" r="1.6"/>
<circle cx="158.8" cy="163.2" r="1.6"/>
</g>
<line x1="162" y1="160.2" x2="162" y2="165.9" stroke="#0f3fa6" stroke-width="1.1"/>
<line x1="157" y1="160.2" x2="167" y2="160.2" stroke="#0f3fa6" stroke-width="1.1"/>
<line x1="157" y1="165.9" x2="167" y2="165.9" stroke="#0f3fa6" stroke-width="1.1"/>
<rect x="157" y="162.1" width="10" height="3.2" fill="none" stroke="#0f3fa6" stroke-width="1.1"/>
<line x1="157" y1="164" x2="167" y2="164" stroke="#0f3fa6" stroke-width="1.1"/>
<g fill="#f70f0f" fill-opacity="0.3">
<circle cx="173.4" cy="165.5" r="1.6"/>
<circle cx="174.1" cy="165.1" r="1.6"/>
<circle cx="174.1" cy="165.3" r="1.6"/>
<circle cx="176.5" cy="165" r="1.6"/>
<circle cx="172.6" cy="165.8" r="1.6"/>
<circle cx="173.5" cy="164.4" r="1.6"/>
<circle cx="175" cy="165" r="1.6"/>
<circle cx="173.5" cy="165.5" r="1.6"/>
<circle cx="172.9" cy="165.4" r="1.6"/>
<circle cx="177.1" cy="165.2" r="1.6"/>
<circle cx="177.6" cy="165.6" r="1.6"/>
<circle cx="174.5" cy="164.6" r="1.6"/>
<circle cx="174" cy="164.9" r="1.6"/>
<circle cx="171.7" cy="165.3" r="1.6"/>
<circle cx="172.7" cy="164.2" r="1.6"/>
<circle cx="171.3" cy="165.6" r="1.6"/>
<circle cx="175.2" cy="165.9" r="1.6"/>
<circle cx="175.2" cy="165.1" r="1.6"/>
<circle cx="170.8" cy="165.6" r="1.6"/>
<circle cx="178.3" cy="165.9" r="1.6"/>
<circle cx="172.9" cy="165.2" r="1.6"/>
<circle cx="177.6" cy="165.7" r="1.6"/>
<circle cx="177.5" cy="165.7" r="1.6"/>
<circle cx="178.6" cy="165.8" r="1.6"/>
<circle cx="171.8" cy="165.7" r="1.6"/>
<circle cx="173.8" cy="164.6" r="1.6"/>
<circle cx="178.2" cy="164.7" r="1.6"/>
<circle cx="170.1" cy="165" r="1.6"/>
<circle cx="170.4" cy="165.8" r="1.6"/>
<circle cx="175.1" cy="165.7" r="1.6"/>
<circle cx="174.5" cy="154.6" r="1.6"/>
</g>
<g fill="#f70f0f" fill-opacity="0.45">
<circle cx="177" cy="164.2" r="1.6"/>
<circle cx="179" cy="164.9" r="1.6"/>
<circle cx="174.7" cy="164.9" r="1.6"/>
<circle cx="173.5" cy="164.6" r="1.6"/>
<circle cx="175.4" cy="165.2" r="1.6"/>
<circle cx="178.5" cy="165.2" r="1.6"/>
<circle cx="174.7" cy="164.6" r="1.6"/>
<circle cx="173.4" cy="165.7" r="1.6"/>
<circle cx="175.1" cy="165.1" r="1.6"/>
<circle cx="177.9" cy="164.8" r="1.6"/>
<circle cx="174.4" cy="164.1" r="1.6"/>
<circle cx="175.6" cy="165.1" r="1.6"/>
<circle cx="173.1" cy="164" r="1.6"/>
<circle cx="177.3" cy="164.9" r="1.6"/>
<circle cx="172.9" cy="165.6" r="1.6"/>
<circle cx="177.4" cy="164.1" r="1.6"/>
<circle cx="171" cy="164.9" r="1.6"/>
<circle cx="176.2" cy="164.2" r="1.6"/>
<circle cx="178.9" cy="164.3" r="1.6"/>
<circle cx="173.8" cy="164.2" r="1.6"/>
<circle cx="172.6" cy="165.6" r="1.6"/>
<circle cx="174.5" cy="164.9" r="1.6"/>
<circle cx="171.6" cy="165.5" r="1.6"/>
<circle cx="175.4" cy="164.7" r="1.6"/>
<circle cx="178.9" cy="165.2" r="1.6"/>
<circle cx="170.4" cy="164.7" r="1.6"/>
<circle cx="177.1" cy="165.1" r="1.6"/>
<circle cx="176.2" cy="165.3" r="1.6"/>
<circle cx="172.7" cy="165.9" r="1.6"/>
<circle cx="175.3" cy="164.3" r="1.6"/>
<circle cx="171.8" cy="164.6" r="1.6"/>
<circle cx="175" cy="165" r="1.6"/>
<circle cx="175.8" cy="165.4" r="1.6"/>
<circle cx="179" cy="164.9" r="1.6"/>
<circle cx="173.7" cy="164.8" r="1.6"/>
<circle cx="171.4" cy="165.7" r="1.6"/>
<circle cx="171" cy="164.5" r="1.6"/>
<circle cx="171.5" cy="165.7" r="1.6"/>
<circle cx="177.4" cy="164.9" r="1.6"/>
<circle cx="177.3" cy="164.7" r="1.6"/>
</g>
<line x1="174.5" y1="163.4" x2="174.5" y2="165.9" stroke="#f70f0f" stroke-width="1.1"/>
<line x1="174.5" y1="163.4" x2="174.5" y2="163.4" stroke="#f70f0f" stroke-width="1.1"/>
<line x1="174.5" y1="165.9" x2="174.5" y2="165.9" stroke="#f70f0f" stroke-width="1.1"/>
<rect x="169.5" y="164.4" width="10" height="1.3" fill="none" stroke="#f70f0f" stroke-width="1.1"/>
<line x1="169.5" y1="165.1" x2="179.5" y2="165.1" stroke="#f70f0f" stroke-width="1.1"/>
<path d="M129.3 132.8 V127.2 H163.7 V128.6" fill="none" stroke="#333" stroke-width="0.8"/>
<path d="M141.50 123.37 L141.91 124.15 L142.78 124.31 L142.17 124.94 L142.29 125.81 L141.50 125.42 L140.71 125.81 L140.83 124.94 L140.22 124.31 L141.09 124.15 Z" fill="#111"/>
<path d="M144.50 123.37 L144.91 124.15 L145.78 124.31 L145.17 124.94 L145.29 125.81 L144.50 125.42 L143.71 125.81 L143.83 124.94 L143.22 124.31 L144.09 124.15 Z" fill="#111"/>
<path d="M147.50 123.37 L147.91 124.15 L148.78 124.31 L148.17 124.94 L148.29 125.81 L147.50 125.42 L146.71 125.81 L146.83 124.94 L146.22 124.31 L147.09 124.15 Z" fill="#111"/>
<path d="M150.50 123.37 L150.91 124.15 L151.78 124.31 L151.17 124.94 L151.29 125.81 L150.50 125.42 L149.71 125.81 L149.83 124.94 L149.22 124.31 L150.09 124.15 Z" fill="#111"/>
<line x1="130.1" y1="153.3" x2="142" y2="153.3" stroke="#888" stroke-width="0.9"/>
<path d="M134.55 149.47 L134.96 150.25 L135.83 150.41 L135.22 151.04 L135.34 151.91 L134.55 151.52 L133.76 151.91 L133.88 151.04 L133.27 150.41 L134.14 150.25 Z" fill="#111"/>
<path d="M137.55 149.47 L137.96 150.25 L138.83 150.41 L138.22 151.04 L138.34 151.91 L137.55 151.52 L136.76 151.91 L136.88 151.04 L136.27 150.41 L137.14 150.25 Z" fill="#111"/>
<line x1="163.2" y1="136.1" x2="174.1" y2="136.1" stroke="#888" stroke-width="0.9"/>
<path d="M167.15 132.27 L167.56 133.05 L168.43 133.21 L167.82 133.84 L167.94 134.71 L167.15 134.32 L166.36 134.71 L166.48 133.84 L165.87 133.21 L166.74 133.05 Z" fill="#111"/>
<path d="M170.15 132.27 L170.56 133.05 L171.43 133.21 L170.82 133.84 L170.94 134.71 L170.15 134.32 L169.36 134.71 L169.48 133.84 L168.87 133.21 L169.74 133.05 Z" fill="#111"/>
<text x="138.5" y="178.3" font-size="8.6" text-anchor="middle" fill="#000">TP1</text>
<text x="168.6" y="178.3" font-size="8.6" text-anchor="middle" fill="#000">TP2</text>
<text x="199.5" y="17.1" font-size="14" font-weight="bold" fill="#000">e</text>
<text x="198" y="105.4" font-size="14" font-weight="bold" fill="#000">f</text>
<line x1="224" y1="2.2" x2="224" y2="15.4" stroke="#1b9e77" stroke-width="1"/>
<rect x="217.2" y="4.7" width="13.6" height="8.1" fill="#fff" stroke="#1b9e77" stroke-width="1.4"/>
<rect x="218.1" y="5.6" width="11.8" height="6.3" fill="#1b9e77" stroke="none" stroke-width="1" fill-opacity="0.22"/>
<line x1="217.2" y1="8.7" x2="230.8" y2="8.7" stroke="#1b9e77" stroke-width="1.4"/>
<text x="234.4" y="12.8" font-size="10.5" fill="#000">HW</text>
<line x1="263.5" y1="2.2" x2="263.5" y2="15.4" stroke="#d95f02" stroke-width="1"/>
<rect x="256.7" y="4.7" width="13.6" height="8.1" fill="#fff" stroke="#d95f02" stroke-width="1.4"/>
<rect x="257.6" y="5.6" width="11.8" height="6.3" fill="#d95f02" stroke="none" stroke-width="1" fill-opacity="0.22"/>
<line x1="256.7" y1="8.7" x2="270.3" y2="8.7" stroke="#d95f02" stroke-width="1.4"/>
<text x="274" y="12.8" font-size="10.5" fill="#000">OW/OB</text>
<line x1="213.7" y1="20.6" x2="479" y2="20.6" stroke="#8a8a8a" stroke-width="1.3"/>
<text x="347.5" y="18.2" font-size="9.2" text-anchor="middle" font-weight="bold" fill="#000">TP1</text>
<line x1="214" y1="106.6" x2="479" y2="106.6" stroke="#555" stroke-width="1.1"/>
<text x="348" y="105.3" font-size="9.2" text-anchor="middle" font-weight="bold" fill="#000">TP2</text>
<rect x="215.5" y="25.6" width="55" height="55.6" fill="#fff" stroke="none" stroke-width="1"/>
<line x1="215.5" y1="68.5" x2="270.5" y2="68.5" stroke="#ececec" stroke-width="0.6"/>
<line x1="215.5" y1="61.5" x2="270.5" y2="61.5" stroke="#f4f4f4" stroke-width="0.5"/>
<line x1="215.5" y1="54.4" x2="270.5" y2="54.4" stroke="#ececec" stroke-width="0.6"/>
<line x1="215.5" y1="47.3" x2="270.5" y2="47.3" stroke="#f4f4f4" stroke-width="0.5"/>
<line x1="215.5" y1="40.2" x2="270.5" y2="40.2" stroke="#ececec" stroke-width="0.6"/>
<line x1="215.5" y1="33.2" x2="270.5" y2="33.2" stroke="#f4f4f4" stroke-width="0.5"/>
<line x1="215.5" y1="26.1" x2="270.5" y2="26.1" stroke="#ececec" stroke-width="0.6"/>
<line x1="230.4" y1="25.6" x2="230.4" y2="81.2" stroke="#ececec" stroke-width="0.6"/>
<line x1="255.7" y1="25.6" x2="255.7" y2="81.2" stroke="#ececec" stroke-width="0.6"/>
<rect x="215.5" y="25.6" width="55" height="55.6" fill="none" stroke="#b8b8b8" stroke-width="0.8"/>
<line x1="214" y1="68.5" x2="215.5" y2="68.5" stroke="#777" stroke-width="0.5"/>
<text x="213.3" y="69.8" font-size="3.5" text-anchor="end" fill="#555555">3</text>
<line x1="214" y1="54.4" x2="215.5" y2="54.4" stroke="#777" stroke-width="0.5"/>
<text x="213.3" y="55.7" font-size="3.5" text-anchor="end" fill="#555555">6</text>
<line x1="214" y1="40.2" x2="215.5" y2="40.2" stroke="#777" stroke-width="0.5"/>
<text x="213.3" y="41.5" font-size="3.5" text-anchor="end" fill="#555555">9</text>
<line x1="214" y1="26.1" x2="215.5" y2="26.1" stroke="#777" stroke-width="0.5"/>
<text x="213.3" y="27.4" font-size="3.5" text-anchor="end" fill="#555555">12</text>
<line x1="230.4" y1="81.2" x2="230.4" y2="82.7" stroke="#777" stroke-width="0.5"/>
<line x1="255.7" y1="81.2" x2="255.7" y2="82.7" stroke="#777" stroke-width="0.5"/>
<text transform="translate(208.4 52) rotate(-90)" font-size="4.9" text-anchor="middle" fill="#333">CD4<tspan baseline-shift="super" font-size="3.0">+</tspan> CD38<tspan baseline-shift="super" font-size="3.0">+</tspan>HLA-DR<tspan baseline-shift="super" font-size="3.0">+</tspan> (%)</text>
<g fill="#1b9e77" fill-opacity="0.35">
<circle cx="229.8" cy="72.7" r="1.6"/>
<circle cx="225.5" cy="71.3" r="1.6"/>
<circle cx="227.2" cy="71.8" r="1.6"/>
<circle cx="224.4" cy="72.2" r="1.6"/>
<circle cx="227" cy="76.5" r="1.6"/>
<circle cx="226.1" cy="70.4" r="1.6"/>
<circle cx="226.2" cy="67.3" r="1.6"/>
<circle cx="224.1" cy="66.9" r="1.6"/>
<circle cx="224.4" cy="69" r="1.6"/>
<circle cx="228.9" cy="72.5" r="1.6"/>
<circle cx="225.9" cy="76.7" r="1.6"/>
<circle cx="225.2" cy="76.7" r="1.6"/>
<circle cx="224.9" cy="75.7" r="1.6"/>
<circle cx="225.4" cy="75.6" r="1.6"/>
<circle cx="225.1" cy="76.4" r="1.6"/>
<circle cx="223.9" cy="70.1" r="1.6"/>
<circle cx="227.8" cy="71.7" r="1.6"/>
<circle cx="225.8" cy="71.7" r="1.6"/>
<circle cx="224.6" cy="27.5" r="1.6"/>
<circle cx="228.1" cy="51.1" r="1.6"/>
<circle cx="224.2" cy="54.4" r="1.6"/>
</g>
<line x1="226.8" y1="66.7" x2="226.8" y2="78.5" stroke="#1b9e77" stroke-width="1"/>
<line x1="223.3" y1="66.7" x2="230.3" y2="66.7" stroke="#1b9e77" stroke-width="1"/>
<line x1="223.3" y1="78.5" x2="230.3" y2="78.5" stroke="#1b9e77" stroke-width="1"/>
<rect x="223.3" y="66.7" width="7" height="6.1" fill="none" stroke="#1b9e77" stroke-width="0.8" stroke-opacity="0.7"/>
<line x1="223.3" y1="69.3" x2="230.3" y2="69.3" stroke="#1b9e77" stroke-width="0.8" stroke-opacity="0.7"/>
<g fill="#d95f02" fill-opacity="0.35">
<circle cx="233.3" cy="63.2" r="1.6"/>
<circle cx="235.4" cy="69.5" r="1.6"/>
<circle cx="231.9" cy="76.6" r="1.6"/>
<circle cx="234.8" cy="65" r="1.6"/>
<circle cx="233.5" cy="61.2" r="1.6"/>
<circle cx="234.4" cy="61.3" r="1.6"/>
<circle cx="233.1" cy="72.9" r="1.6"/>
<circle cx="231.7" cy="74.5" r="1.6"/>
<circle cx="233.2" cy="58.7" r="1.6"/>
<circle cx="232.7" cy="70.7" r="1.6"/>
<circle cx="232" cy="66.8" r="1.6"/>
<circle cx="235.8" cy="62.6" r="1.6"/>
<circle cx="233" cy="68.3" r="1.6"/>
<circle cx="233.8" cy="72.2" r="1.6"/>
<circle cx="237" cy="65.4" r="1.6"/>
<circle cx="236.1" cy="71.6" r="1.6"/>
<circle cx="236.8" cy="75.2" r="1.6"/>
<circle cx="236.7" cy="62.9" r="1.6"/>
</g>
<line x1="234.4" y1="55.6" x2="234.4" y2="76.6" stroke="#d95f02" stroke-width="1"/>
<line x1="230.9" y1="55.6" x2="237.9" y2="55.6" stroke="#d95f02" stroke-width="1"/>
<line x1="230.9" y1="76.6" x2="237.9" y2="76.6" stroke="#d95f02" stroke-width="1"/>
<rect x="230.9" y="60.5" width="7" height="16" fill="none" stroke="#d95f02" stroke-width="0.8" stroke-opacity="0.7"/>
<line x1="230.9" y1="68.1" x2="237.9" y2="68.1" stroke="#d95f02" stroke-width="0.8" stroke-opacity="0.7"/>
<g fill="#1b9e77" fill-opacity="0.35">
<circle cx="254.6" cy="63.8" r="1.6"/>
<circle cx="253.5" cy="54.7" r="1.6"/>
<circle cx="253.3" cy="63.9" r="1.6"/>
<circle cx="249.1" cy="72.1" r="1.6"/>
<circle cx="249.1" cy="56.1" r="1.6"/>
<circle cx="249.9" cy="67.4" r="1.6"/>
<circle cx="250.1" cy="42.1" r="1.6"/>
</g>
<line x1="252" y1="39.3" x2="252" y2="72.8" stroke="#1b9e77" stroke-width="1"/>
<line x1="248.5" y1="39.3" x2="255.5" y2="39.3" stroke="#1b9e77" stroke-width="1"/>
<line x1="248.5" y1="72.8" x2="255.5" y2="72.8" stroke="#1b9e77" stroke-width="1"/>
<rect x="248.5" y="47.6" width="7" height="22.4" fill="none" stroke="#1b9e77" stroke-width="0.8" stroke-opacity="0.7"/>
<line x1="248.5" y1="65.2" x2="255.5" y2="65.2" stroke="#1b9e77" stroke-width="0.8" stroke-opacity="0.7"/>
<g fill="#d95f02" fill-opacity="0.35">
<circle cx="260.6" cy="65.7" r="1.6"/>
<circle cx="258.4" cy="66.1" r="1.6"/>
<circle cx="256.3" cy="63.8" r="1.6"/>
<circle cx="261.5" cy="64.1" r="1.6"/>
<circle cx="261.1" cy="65.5" r="1.6"/>
<circle cx="258.1" cy="55.1" r="1.6"/>
</g>
<line x1="259.4" y1="62.7" x2="259.4" y2="67.6" stroke="#d95f02" stroke-width="1"/>
<line x1="255.9" y1="62.7" x2="262.9" y2="62.7" stroke="#d95f02" stroke-width="1"/>
<line x1="255.9" y1="67.6" x2="262.9" y2="67.6" stroke="#d95f02" stroke-width="1"/>
<rect x="255.9" y="62.7" width="7" height="5" fill="none" stroke="#d95f02" stroke-width="0.8" stroke-opacity="0.7"/>
<line x1="255.9" y1="65.2" x2="262.9" y2="65.2" stroke="#d95f02" stroke-width="0.8" stroke-opacity="0.7"/>
<text x="230.4" y="86" font-size="3.9" text-anchor="middle" fill="#444">non-SD</text>
<text x="255.7" y="86" font-size="3.9" text-anchor="middle" fill="#444">SD</text>
<rect x="286.2" y="25.6" width="54.5" height="56" fill="#fff" stroke="none" stroke-width="1"/>
<line x1="286.2" y1="79.2" x2="340.7" y2="79.2" stroke="#ececec" stroke-width="0.6"/>
<line x1="286.2" y1="69.4" x2="340.7" y2="69.4" stroke="#f4f4f4" stroke-width="0.5"/>
<line x1="286.2" y1="59.6" x2="340.7" y2="59.6" stroke="#ececec" stroke-width="0.6"/>
<line x1="286.2" y1="49.8" x2="340.7" y2="49.8" stroke="#f4f4f4" stroke-width="0.5"/>
<line x1="286.2" y1="40" x2="340.7" y2="40" stroke="#ececec" stroke-width="0.6"/>
<line x1="301.5" y1="25.6" x2="301.5" y2="81.6" stroke="#ececec" stroke-width="0.6"/>
<line x1="325.2" y1="25.6" x2="325.2" y2="81.6" stroke="#ececec" stroke-width="0.6"/>
<rect x="286.2" y="25.6" width="54.5" height="56" fill="none" stroke="#b8b8b8" stroke-width="0.8"/>
<line x1="284.7" y1="79.2" x2="286.2" y2="79.2" stroke="#777" stroke-width="0.5"/>
<text x="284" y="80.5" font-size="3.5" text-anchor="end" fill="#555555">0.0</text>
<line x1="284.7" y1="59.6" x2="286.2" y2="59.6" stroke="#777" stroke-width="0.5"/>
<text x="284" y="60.9" font-size="3.5" text-anchor="end" fill="#555555">0.5</text>
<line x1="284.7" y1="40" x2="286.2" y2="40" stroke="#777" stroke-width="0.5"/>
<text x="284" y="41.3" font-size="3.5" text-anchor="end" fill="#555555">1.0</text>
<line x1="301.5" y1="81.6" x2="301.5" y2="83.1" stroke="#777" stroke-width="0.5"/>
<line x1="325.2" y1="81.6" x2="325.2" y2="83.1" stroke="#777" stroke-width="0.5"/>
<text transform="translate(278.5 54.7) rotate(-90)" font-size="4.8" text-anchor="middle" fill="#333">CD4<tspan baseline-shift="super" font-size="3.0">+</tspan> Ki-67<tspan baseline-shift="super" font-size="3.0">+</tspan>CLA<tspan baseline-shift="super" font-size="3.0">+</tspan> (%)</text>
<g fill="#1b9e77" fill-opacity="0.35">
<circle cx="298.6" cy="77.5" r="1.6"/>
<circle cx="296.9" cy="78.8" r="1.6"/>
<circle cx="297.5" cy="77.6" r="1.6"/>
<circle cx="300.1" cy="77.4" r="1.6"/>
<circle cx="295.1" cy="77.4" r="1.6"/>
<circle cx="299.1" cy="77.6" r="1.6"/>
<circle cx="294.5" cy="79.1" r="1.6"/>
<circle cx="298.7" cy="76.4" r="1.6"/>
<circle cx="299.3" cy="78.9" r="1.6"/>
<circle cx="295.9" cy="79.2" r="1.6"/>
</g>
<g fill="#1b9e77" fill-opacity="0.45">
<circle cx="300.4" cy="77.5" r="1.6"/>
<circle cx="297.7" cy="77.2" r="1.6"/>
<circle cx="294.6" cy="78.4" r="1.6"/>
<circle cx="296.8" cy="78.1" r="1.6"/>
<circle cx="296.2" cy="78.6" r="1.6"/>
<circle cx="298.7" cy="78.8" r="1.6"/>
<circle cx="295.7" cy="77.1" r="1.6"/>
<circle cx="297.5" cy="78.4" r="1.6"/>
<circle cx="300.1" cy="77.8" r="1.6"/>
<circle cx="296.1" cy="78.1" r="1.6"/>
<circle cx="295.1" cy="76.4" r="1.6"/>
<circle cx="296.4" cy="77.4" r="1.6"/>
<circle cx="297.7" cy="76.6" r="1.6"/>
<circle cx="295.3" cy="76.8" r="1.6"/>
<circle cx="298" cy="77.1" r="1.6"/>
<circle cx="299.1" cy="77.8" r="1.6"/>
<circle cx="295" cy="76.6" r="1.6"/>
<circle cx="296.5" cy="78.3" r="1.6"/>
<circle cx="294.6" cy="78.6" r="1.6"/>
<circle cx="295.5" cy="78.3" r="1.6"/>
<circle cx="297.1" cy="77" r="1.6"/>
<circle cx="296.3" cy="78.8" r="1.6"/>
<circle cx="296.5" cy="77.7" r="1.6"/>
<circle cx="294.7" cy="78.7" r="1.6"/>
<circle cx="300.5" cy="79.2" r="1.6"/>
</g>
<line x1="297.4" y1="76.1" x2="297.4" y2="79.2" stroke="#1b9e77" stroke-width="1"/>
<line x1="297.4" y1="76.1" x2="297.4" y2="76.1" stroke="#1b9e77" stroke-width="1"/>
<line x1="297.4" y1="79.2" x2="297.4" y2="79.2" stroke="#1b9e77" stroke-width="1"/>
<rect x="293.9" y="77.2" width="7" height="1.6" fill="none" stroke="#1b9e77" stroke-width="0.8" stroke-opacity="0.7"/>
<line x1="293.9" y1="78" x2="300.9" y2="78" stroke="#1b9e77" stroke-width="0.8" stroke-opacity="0.7"/>
<g fill="#d95f02" fill-opacity="0.35">
<circle cx="307.4" cy="76.3" r="1.6"/>
<circle cx="307.9" cy="79.1" r="1.6"/>
<circle cx="303.1" cy="77.4" r="1.6"/>
<circle cx="307" cy="77.1" r="1.6"/>
<circle cx="307.3" cy="76.3" r="1.6"/>
<circle cx="306.7" cy="78.5" r="1.6"/>
<circle cx="304.1" cy="78.6" r="1.6"/>
<circle cx="303.2" cy="78.4" r="1.6"/>
<circle cx="307.2" cy="79" r="1.6"/>
<circle cx="304.1" cy="76.9" r="1.6"/>
<circle cx="304.4" cy="71.4" r="1.6"/>
<circle cx="305.5" cy="73.3" r="1.6"/>
</g>
<g fill="#d95f02" fill-opacity="0.45">
<circle cx="307.3" cy="77.8" r="1.6"/>
<circle cx="302.3" cy="78.3" r="1.6"/>
<circle cx="306" cy="77" r="1.6"/>
<circle cx="306.5" cy="76" r="1.6"/>
<circle cx="308" cy="75.7" r="1.6"/>
<circle cx="305.2" cy="77.3" r="1.6"/>
<circle cx="303.9" cy="78.6" r="1.6"/>
<circle cx="302.6" cy="76.9" r="1.6"/>
<circle cx="303.1" cy="76.5" r="1.6"/>
<circle cx="308.2" cy="77.5" r="1.6"/>
<circle cx="302.3" cy="78.8" r="1.6"/>
<circle cx="303.3" cy="77.5" r="1.6"/>
<circle cx="302.1" cy="76.4" r="1.6"/>
<circle cx="307.4" cy="75.9" r="1.6"/>
<circle cx="304.7" cy="76.1" r="1.6"/>
<circle cx="306.2" cy="78.1" r="1.6"/>
<circle cx="304.7" cy="77.2" r="1.6"/>
<circle cx="304.8" cy="77.9" r="1.6"/>
<circle cx="307.3" cy="76.6" r="1.6"/>
<circle cx="303.1" cy="75.7" r="1.6"/>
<circle cx="304.8" cy="78" r="1.6"/>
<circle cx="304.2" cy="77" r="1.6"/>
<circle cx="302.6" cy="78.4" r="1.6"/>
<circle cx="305" cy="77.9" r="1.6"/>
<circle cx="307.8" cy="75.4" r="1.6"/>
</g>
<line x1="305.2" y1="74.5" x2="305.2" y2="79.2" stroke="#d95f02" stroke-width="1"/>
<line x1="305.2" y1="74.5" x2="305.2" y2="74.5" stroke="#d95f02" stroke-width="1"/>
<line x1="305.2" y1="79.2" x2="305.2" y2="79.2" stroke="#d95f02" stroke-width="1"/>
<rect x="301.7" y="76.1" width="7" height="2.4" fill="none" stroke="#d95f02" stroke-width="0.8" stroke-opacity="0.7"/>
<line x1="301.7" y1="77.2" x2="308.7" y2="77.2" stroke="#d95f02" stroke-width="0.8" stroke-opacity="0.7"/>
<g fill="#1b9e77" fill-opacity="0.35">
<circle cx="320.8" cy="78" r="1.6"/>
<circle cx="321.1" cy="78" r="1.6"/>
<circle cx="324.5" cy="78" r="1.6"/>
<circle cx="319.1" cy="64.2" r="1.6"/>
<circle cx="320.1" cy="68.6" r="1.6"/>
<circle cx="323.2" cy="27.5" r="1.6"/>
</g>
<line x1="322.1" y1="63.5" x2="322.1" y2="78" stroke="#1b9e77" stroke-width="1"/>
<line x1="318.6" y1="63.5" x2="325.6" y2="63.5" stroke="#1b9e77" stroke-width="1"/>
<line x1="318.6" y1="78" x2="325.6" y2="78" stroke="#1b9e77" stroke-width="1"/>
<rect x="318.6" y="63.5" width="7" height="14.5" fill="none" stroke="#1b9e77" stroke-width="0.8" stroke-opacity="0.7"/>
<line x1="318.6" y1="72.5" x2="325.6" y2="72.5" stroke="#1b9e77" stroke-width="0.8" stroke-opacity="0.7"/>
<g fill="#d95f02" fill-opacity="0.35">
<circle cx="331.7" cy="72.4" r="1.6"/>
<circle cx="329.7" cy="58.4" r="1.6"/>
<circle cx="327.1" cy="55.3" r="1.6"/>
<circle cx="331.5" cy="60.4" r="1.6"/>
<circle cx="328" cy="68.7" r="1.6"/>
</g>
<line x1="329.4" y1="32.2" x2="329.4" y2="79.2" stroke="#d95f02" stroke-width="1"/>
<line x1="326.1" y1="32.2" x2="332.6" y2="32.2" stroke="#d95f02" stroke-width="1"/>
<line x1="326.1" y1="79.2" x2="332.6" y2="79.2" stroke="#d95f02" stroke-width="1"/>
<rect x="326.1" y="37.3" width="6.5" height="38.4" fill="none" stroke="#d95f02" stroke-width="0.8" stroke-opacity="0.7"/>
<line x1="326.1" y1="73.3" x2="332.6" y2="73.3" stroke="#d95f02" stroke-width="0.8" stroke-opacity="0.7"/>
<line x1="301.1" y1="30.1" x2="325.8" y2="30.1" stroke="#333" stroke-width="0.8"/>
<path d="M313.45 27.39 L313.79 28.02 L314.50 28.15 L313.99 28.66 L314.10 29.37 L313.45 29.06 L312.80 29.37 L312.91 28.66 L312.40 28.15 L313.11 28.02 Z" fill="#111"/>
<line x1="297.4" y1="66.4" x2="304.8" y2="66.4" stroke="#333" stroke-width="0.8"/>
<path d="M301.10 63.69 L301.44 64.32 L302.15 64.45 L301.64 64.96 L301.75 65.67 L301.10 65.36 L300.45 65.67 L300.56 64.96 L300.05 64.45 L300.76 64.32 Z" fill="#111"/>
<text x="301.5" y="86" font-size="3.9" text-anchor="middle" fill="#444">non-SD</text>
<text x="325.2" y="86" font-size="3.9" text-anchor="middle" fill="#444">SD</text>
<rect x="351.8" y="25.6" width="55" height="55.6" fill="#fff" stroke="#d0d0d0" stroke-width="0.6"/>
<line x1="351.8" y1="25.6" x2="351.8" y2="81.2" stroke="#999" stroke-width="0.7"/>
<path d="M353 63.3 L356 61.5 L359 55 L361.5 42 L363.5 30.5 L365.5 36 L367.5 46 L369.7 52.2 L372 54.5 L375 55.8 L378.4 57 L381 57.5 L383 58.8 L385.5 60.8 L387.7 62.2 L390.8 63.3 Z" fill="#2b2b96" stroke="none" stroke-width="1" fill-opacity="1.0"/>
<path d="M352.5 80.8 L356 80.3 L358.5 77 L360.5 66 L362 54 L363.3 50.3 L365 55 L367 67 L369.7 74.4 L373 75.5 L377 76.6 L381 76.8 L384.5 76 L387.7 75 L390 76.2 L392.5 79.2 L394 80.8 Z" fill="#ff1a1a" stroke="none" stroke-width="1" fill-opacity="0.88"/>
<line x1="351.8" y1="81.2" x2="406.8" y2="81.2" stroke="#999" stroke-width="0.7"/>
<line x1="357" y1="81.2" x2="357" y2="82.7" stroke="#666" stroke-width="0.5"/>
<line x1="365.5" y1="81.2" x2="365.5" y2="82.7" stroke="#666" stroke-width="0.5"/>
<line x1="375" y1="81.2" x2="375" y2="82.7" stroke="#666" stroke-width="0.5"/>
<line x1="389.5" y1="81.2" x2="389.5" y2="82.7" stroke="#666" stroke-width="0.5"/>
<line x1="403" y1="81.2" x2="403" y2="82.7" stroke="#666" stroke-width="0.5"/>
<text x="356" y="85.5" font-size="2.6" fill="#444">10<tspan font-size="1.8" baseline-shift="super">0</tspan></text>
<text x="374" y="85.5" font-size="2.6" fill="#444">10<tspan font-size="1.8" baseline-shift="super">0</tspan></text>
<text x="388.5" y="85.5" font-size="2.6" fill="#444">10<tspan font-size="1.8" baseline-shift="super">0</tspan></text>
<text x="402" y="85.5" font-size="2.6" fill="#444">10<tspan font-size="1.8" baseline-shift="super">0</tspan></text>
<text x="365.5" y="85.5" font-size="2.6" fill="#444">1</text>
<circle cx="363.5" cy="81.4" r="1" fill="#000"/>
<text x="378.5" y="89.4" font-size="4" text-anchor="middle" fill="#333">PD-1</text>
<text transform="translate(349.9 53) rotate(-90)" font-size="4.3" text-anchor="middle" fill="#333">Normalized to Mode</text>
<text x="388.3" y="32.9" font-size="4.6" font-weight="bold" fill="#2b2b96">non-SD</text>
<text x="388.9" y="37.5" font-size="4.6" font-weight="bold" fill="#ff1a1a">SD</text>
<rect x="427.8" y="25.6" width="51" height="55.6" fill="#fff" stroke="none" stroke-width="1"/>
<line x1="427.8" y1="71.3" x2="478.8" y2="71.3" stroke="#ececec" stroke-width="0.6"/>
<line x1="427.8" y1="66" x2="478.8" y2="66" stroke="#f4f4f4" stroke-width="0.5"/>
<line x1="427.8" y1="60.6" x2="478.8" y2="60.6" stroke="#ececec" stroke-width="0.6"/>
<line x1="427.8" y1="55.3" x2="478.8" y2="55.3" stroke="#f4f4f4" stroke-width="0.5"/>
<line x1="427.8" y1="50" x2="478.8" y2="50" stroke="#ececec" stroke-width="0.6"/>
<line x1="427.8" y1="44.7" x2="478.8" y2="44.7" stroke="#f4f4f4" stroke-width="0.5"/>
<line x1="427.8" y1="39.4" x2="478.8" y2="39.4" stroke="#ececec" stroke-width="0.6"/>
<line x1="427.8" y1="34" x2="478.8" y2="34" stroke="#f4f4f4" stroke-width="0.5"/>
<line x1="427.8" y1="28.7" x2="478.8" y2="28.7" stroke="#ececec" stroke-width="0.6"/>
<line x1="441.4" y1="25.6" x2="441.4" y2="81.2" stroke="#ececec" stroke-width="0.6"/>
<line x1="464.6" y1="25.6" x2="464.6" y2="81.2" stroke="#ececec" stroke-width="0.6"/>
<rect x="427.8" y="25.6" width="51" height="55.6" fill="none" stroke="#b8b8b8" stroke-width="0.8"/>
<line x1="426.3" y1="71.3" x2="427.8" y2="71.3" stroke="#777" stroke-width="0.5"/>
<text x="425.6" y="72.6" font-size="3.5" text-anchor="end" fill="#555555">4000</text>
<line x1="426.3" y1="60.6" x2="427.8" y2="60.6" stroke="#777" stroke-width="0.5"/>
<text x="425.6" y="61.9" font-size="3.5" text-anchor="end" fill="#555555">5000</text>
<line x1="426.3" y1="50" x2="427.8" y2="50" stroke="#777" stroke-width="0.5"/>
<text x="425.6" y="51.3" font-size="3.5" text-anchor="end" fill="#555555">6000</text>
<line x1="426.3" y1="39.4" x2="427.8" y2="39.4" stroke="#777" stroke-width="0.5"/>
<text x="425.6" y="40.6" font-size="3.5" text-anchor="end" fill="#555555">7000</text>
<line x1="426.3" y1="28.7" x2="427.8" y2="28.7" stroke="#777" stroke-width="0.5"/>
<text x="425.6" y="30" font-size="3.5" text-anchor="end" fill="#555555">8000</text>
<line x1="441.4" y1="81.2" x2="441.4" y2="82.7" stroke="#777" stroke-width="0.5"/>
<line x1="464.6" y1="81.2" x2="464.6" y2="82.7" stroke="#777" stroke-width="0.5"/>
<text transform="translate(416.2 54) rotate(-90)" font-size="4.6" text-anchor="middle" fill="#333">CD4<tspan baseline-shift="super" font-size="3.0">+</tspan> PD-1<tspan baseline-shift="super" font-size="3.0">+</tspan> (MFI)</text>
<g fill="#1b9e77" fill-opacity="0.35">
<circle cx="438.8" cy="72.5" r="1.6"/>
<circle cx="440.3" cy="72.7" r="1.6"/>
<circle cx="438.4" cy="73.7" r="1.6"/>
<circle cx="440.6" cy="74.1" r="1.6"/>
<circle cx="440.3" cy="72.3" r="1.6"/>
<circle cx="435.9" cy="73" r="1.6"/>
<circle cx="439.5" cy="72.9" r="1.6"/>
<circle cx="437" cy="75.3" r="1.6"/>
<circle cx="439.7" cy="70.3" r="1.6"/>
<circle cx="439.1" cy="71.9" r="1.6"/>
<circle cx="440.1" cy="73.9" r="1.6"/>
<circle cx="435.6" cy="75.1" r="1.6"/>
<circle cx="437.2" cy="71.6" r="1.6"/>
<circle cx="439.5" cy="73.6" r="1.6"/>
<circle cx="440.8" cy="74.4" r="1.6"/>
<circle cx="439.4" cy="73.7" r="1.6"/>
<circle cx="435.1" cy="71.9" r="1.6"/>
<circle cx="438.7" cy="71.2" r="1.6"/>
</g>
<g fill="#1b9e77" fill-opacity="0.45">
<circle cx="438.3" cy="76" r="1.6"/>
<circle cx="435.6" cy="71.5" r="1.6"/>
<circle cx="439.1" cy="70.7" r="1.6"/>
<circle cx="436.1" cy="75" r="1.6"/>
<circle cx="440.1" cy="73.8" r="1.6"/>
<circle cx="435.6" cy="72.9" r="1.6"/>
<circle cx="435.5" cy="76.5" r="1.6"/>
<circle cx="436" cy="71.5" r="1.6"/>
<circle cx="436.7" cy="73.1" r="1.6"/>
<circle cx="437.2" cy="72.2" r="1.6"/>
<circle cx="440.4" cy="75.7" r="1.6"/>
<circle cx="439.2" cy="73.2" r="1.6"/>
</g>
<line x1="438" y1="70.2" x2="438" y2="77.2" stroke="#1b9e77" stroke-width="1"/>
<line x1="434.5" y1="70.2" x2="441.5" y2="70.2" stroke="#1b9e77" stroke-width="1"/>
<line x1="434.5" y1="77.2" x2="441.5" y2="77.2" stroke="#1b9e77" stroke-width="1"/>
<rect x="434.5" y="70.8" width="7" height="3.7" fill="none" stroke="#1b9e77" stroke-width="0.8" stroke-opacity="0.7"/>
<line x1="434.5" y1="72.9" x2="441.5" y2="72.9" stroke="#1b9e77" stroke-width="0.8" stroke-opacity="0.7"/>
<g fill="#d95f02" fill-opacity="0.35">
<circle cx="445.1" cy="74.5" r="1.6"/>
<circle cx="443.6" cy="73.4" r="1.6"/>
<circle cx="445.5" cy="70.7" r="1.6"/>
<circle cx="445.3" cy="74.2" r="1.6"/>
<circle cx="448" cy="74.3" r="1.6"/>
<circle cx="448.2" cy="73.4" r="1.6"/>
<circle cx="442.2" cy="71" r="1.6"/>
<circle cx="445.5" cy="73.7" r="1.6"/>
<circle cx="446.8" cy="70.6" r="1.6"/>
<circle cx="447.4" cy="73.8" r="1.6"/>
<circle cx="446.8" cy="72.6" r="1.6"/>
<circle cx="445.9" cy="71.8" r="1.6"/>
<circle cx="445.9" cy="72.6" r="1.6"/>
<circle cx="444.2" cy="71.8" r="1.6"/>
<circle cx="443.7" cy="73.9" r="1.6"/>
<circle cx="447" cy="70.3" r="1.6"/>
<circle cx="447.4" cy="73.4" r="1.6"/>
<circle cx="447.9" cy="73.9" r="1.6"/>
<circle cx="446.2" cy="53.7" r="1.6"/>
<circle cx="443.9" cy="76.1" r="1.6"/>
</g>
<g fill="#d95f02" fill-opacity="0.45">
<circle cx="446.6" cy="71.1" r="1.6"/>
<circle cx="446" cy="72.1" r="1.6"/>
<circle cx="445.4" cy="72.7" r="1.6"/>
<circle cx="442.3" cy="72.4" r="1.6"/>
<circle cx="444" cy="72.7" r="1.6"/>
<circle cx="445" cy="70.3" r="1.6"/>
<circle cx="443.5" cy="72.6" r="1.6"/>
<circle cx="444.2" cy="73.1" r="1.6"/>
<circle cx="442" cy="73.5" r="1.6"/>
<circle cx="444.8" cy="70.7" r="1.6"/>
<circle cx="445.5" cy="72.3" r="1.6"/>
<circle cx="443" cy="72.8" r="1.6"/>
</g>
<line x1="445.1" y1="70.2" x2="445.1" y2="74.5" stroke="#d95f02" stroke-width="1"/>
<line x1="441.6" y1="70.2" x2="448.6" y2="70.2" stroke="#d95f02" stroke-width="1"/>
<line x1="441.6" y1="74.5" x2="448.6" y2="74.5" stroke="#d95f02" stroke-width="1"/>
<rect x="441.6" y="70.2" width="7" height="3.7" fill="none" stroke="#d95f02" stroke-width="0.8" stroke-opacity="0.7"/>
<line x1="441.6" y1="72.4" x2="448.6" y2="72.4" stroke="#d95f02" stroke-width="0.8" stroke-opacity="0.7"/>
<g fill="#1b9e77" fill-opacity="0.35">
<circle cx="464.4" cy="65" r="1.6"/>
<circle cx="460.7" cy="52.3" r="1.6"/>
<circle cx="463.1" cy="46" r="1.6"/>
<circle cx="461.1" cy="46.5" r="1.6"/>
<circle cx="463.7" cy="71.6" r="1.6"/>
<circle cx="459" cy="56.7" r="1.6"/>
</g>
<line x1="461.5" y1="36.7" x2="461.5" y2="76.1" stroke="#1b9e77" stroke-width="1"/>
<line x1="458.2" y1="36.7" x2="464.8" y2="36.7" stroke="#1b9e77" stroke-width="1"/>
<line x1="458.2" y1="76.1" x2="464.8" y2="76.1" stroke="#1b9e77" stroke-width="1"/>
<rect x="458.2" y="44.1" width="6.5" height="29.8" fill="none" stroke="#1b9e77" stroke-width="0.8" stroke-opacity="0.7"/>
<line x1="458.2" y1="63.8" x2="464.8" y2="63.8" stroke="#1b9e77" stroke-width="0.8" stroke-opacity="0.7"/>
<g fill="#d95f02" fill-opacity="0.35">
<circle cx="466.5" cy="63.9" r="1.6"/>
<circle cx="468.9" cy="71.1" r="1.6"/>
<circle cx="470.4" cy="72.1" r="1.6"/>
<circle cx="469.2" cy="66.1" r="1.6"/>
<circle cx="466.5" cy="69.5" r="1.6"/>
<circle cx="469.7" cy="44.1" r="1.6"/>
</g>
<line x1="468.3" y1="62.2" x2="468.3" y2="74.5" stroke="#d95f02" stroke-width="1"/>
<line x1="465.1" y1="62.2" x2="471.6" y2="62.2" stroke="#d95f02" stroke-width="1"/>
<line x1="465.1" y1="74.5" x2="471.6" y2="74.5" stroke="#d95f02" stroke-width="1"/>
<rect x="465.1" y="62.8" width="6.5" height="11.2" fill="none" stroke="#d95f02" stroke-width="0.8" stroke-opacity="0.7"/>
<line x1="465.1" y1="68.1" x2="471.6" y2="68.1" stroke="#d95f02" stroke-width="0.8" stroke-opacity="0.7"/>
<line x1="441.4" y1="31.4" x2="464.9" y2="31.4" stroke="#333" stroke-width="0.8"/>
<path d="M453.15 28.68 L453.49 29.32 L454.20 29.45 L453.69 29.96 L453.80 30.67 L453.15 30.36 L452.50 30.67 L452.61 29.96 L452.10 29.45 L452.81 29.32 Z" fill="#111"/>
<text x="441.4" y="86" font-size="3.9" text-anchor="middle" fill="#444">non-SD</text>
<text x="464.6" y="86" font-size="3.9" text-anchor="middle" fill="#444">SD</text>
<rect x="215.5" y="110.9" width="55" height="55.9" fill="#fff" stroke="none" stroke-width="1"/>
<line x1="215.5" y1="166.2" x2="270.5" y2="166.2" stroke="#ececec" stroke-width="0.6"/>
<line x1="215.5" y1="156.7" x2="270.5" y2="156.7" stroke="#f4f4f4" stroke-width="0.5"/>
<line x1="215.5" y1="147.2" x2="270.5" y2="147.2" stroke="#ececec" stroke-width="0.6"/>
<line x1="215.5" y1="137.7" x2="270.5" y2="137.7" stroke="#f4f4f4" stroke-width="0.5"/>
<line x1="215.5" y1="128.2" x2="270.5" y2="128.2" stroke="#ececec" stroke-width="0.6"/>
<line x1="230.4" y1="110.9" x2="230.4" y2="166.8" stroke="#ececec" stroke-width="0.6"/>
<line x1="254.5" y1="110.9" x2="254.5" y2="166.8" stroke="#ececec" stroke-width="0.6"/>
<rect x="215.5" y="110.9" width="55" height="55.9" fill="none" stroke="#b8b8b8" stroke-width="0.8"/>
<line x1="214" y1="166.2" x2="215.5" y2="166.2" stroke="#777" stroke-width="0.5"/>
<text x="213.3" y="167.5" font-size="3.5" text-anchor="end" fill="#555555">0</text>
<line x1="214" y1="147.2" x2="215.5" y2="147.2" stroke="#777" stroke-width="0.5"/>
<text x="213.3" y="148.5" font-size="3.5" text-anchor="end" fill="#555555">10</text>
<line x1="214" y1="128.2" x2="215.5" y2="128.2" stroke="#777" stroke-width="0.5"/>
<text x="213.3" y="129.5" font-size="3.5" text-anchor="end" fill="#555555">20</text>
<line x1="230.4" y1="166.8" x2="230.4" y2="168.3" stroke="#777" stroke-width="0.5"/>
<line x1="254.5" y1="166.8" x2="254.5" y2="168.3" stroke="#777" stroke-width="0.5"/>
<text transform="translate(207.3 139.3) rotate(-90)" font-size="4.5" text-anchor="middle" fill="#333">CD4<tspan baseline-shift="super" font-size="3.0">+</tspan> CD38<tspan baseline-shift="super" font-size="3.0">+</tspan>HLA-DR<tspan baseline-shift="super" font-size="3.0">+</tspan> (%)</text>
<g fill="#1b9e77" fill-opacity="0.35">
<circle cx="223.9" cy="163.8" r="1.6"/>
<circle cx="227.5" cy="162.4" r="1.6"/>
<circle cx="226" cy="156.3" r="1.6"/>
<circle cx="228.9" cy="148.1" r="1.6"/>
<circle cx="223.8" cy="163.1" r="1.6"/>
<circle cx="227" cy="149.6" r="1.6"/>
<circle cx="226" cy="146.2" r="1.6"/>
<circle cx="229.2" cy="157.9" r="1.6"/>
<circle cx="229.4" cy="158.1" r="1.6"/>
<circle cx="227.4" cy="153.1" r="1.6"/>
<circle cx="224.9" cy="155.5" r="1.6"/>
<circle cx="225" cy="158.4" r="1.6"/>
<circle cx="225.1" cy="158.7" r="1.6"/>
<circle cx="226.2" cy="151.3" r="1.6"/>
<circle cx="224.9" cy="163.4" r="1.6"/>
<circle cx="224.7" cy="156.9" r="1.6"/>
<circle cx="228.2" cy="140.6" r="1.6"/>
<circle cx="227.5" cy="152.2" r="1.6"/>
<circle cx="225.3" cy="152" r="1.6"/>
<circle cx="229.7" cy="162.4" r="1.6"/>
<circle cx="224.8" cy="144.9" r="1.6"/>
<circle cx="227" cy="162.5" r="1.6"/>
<circle cx="224.4" cy="161.7" r="1.6"/>
<circle cx="228.9" cy="152.3" r="1.6"/>
<circle cx="228.9" cy="164.3" r="1.6"/>
<circle cx="225.1" cy="150.8" r="1.6"/>
<circle cx="228.2" cy="132.5" r="1.6"/>
<circle cx="228.6" cy="149.5" r="1.6"/>
<circle cx="225.2" cy="158.3" r="1.6"/>
<circle cx="225.5" cy="157.9" r="1.6"/>
<circle cx="226.5" cy="152" r="1.6"/>
<circle cx="229.1" cy="147.4" r="1.6"/>
<circle cx="224.5" cy="156.8" r="1.6"/>
<circle cx="227.8" cy="149.8" r="1.6"/>
<circle cx="227.2" cy="164.1" r="1.6"/>
<circle cx="226.3" cy="132.9" r="1.6"/>
<circle cx="227.1" cy="151" r="1.6"/>
<circle cx="229" cy="149" r="1.6"/>
<circle cx="224.8" cy="154.7" r="1.6"/>
<circle cx="229" cy="144" r="1.6"/>
<circle cx="225.7" cy="115.3" r="1.6"/>
<circle cx="228.4" cy="120.6" r="1.6"/>
<circle cx="228.9" cy="123.4" r="1.6"/>
</g>
<line x1="226.6" y1="132" x2="226.6" y2="164.3" stroke="#1b9e77" stroke-width="1"/>
<line x1="223.1" y1="132" x2="230.1" y2="132" stroke="#1b9e77" stroke-width="1"/>
<line x1="223.1" y1="164.3" x2="230.1" y2="164.3" stroke="#1b9e77" stroke-width="1"/>
<rect x="223.1" y="146.6" width="7" height="12" fill="none" stroke="#1b9e77" stroke-width="0.8" stroke-opacity="0.7"/>
<line x1="223.1" y1="154.2" x2="230.1" y2="154.2" stroke="#1b9e77" stroke-width="0.8" stroke-opacity="0.7"/>
<g fill="#d95f02" fill-opacity="0.35">
<circle cx="237.1" cy="146.9" r="1.6"/>
<circle cx="232.9" cy="163.2" r="1.6"/>
<circle cx="235.1" cy="145.6" r="1.6"/>
<circle cx="233.6" cy="146.3" r="1.6"/>
<circle cx="232.8" cy="148.3" r="1.6"/>
<circle cx="232.5" cy="154.8" r="1.6"/>
<circle cx="232" cy="156.4" r="1.6"/>
<circle cx="236.6" cy="157.5" r="1.6"/>
<circle cx="236.2" cy="159.4" r="1.6"/>
<circle cx="237" cy="163.1" r="1.6"/>
<circle cx="231.6" cy="154.1" r="1.6"/>
<circle cx="235.6" cy="155.5" r="1.6"/>
<circle cx="233.3" cy="145.4" r="1.6"/>
<circle cx="235.3" cy="146.7" r="1.6"/>
<circle cx="234.7" cy="151.1" r="1.6"/>
<circle cx="233.2" cy="151.8" r="1.6"/>
<circle cx="237.4" cy="148.9" r="1.6"/>
<circle cx="231.3" cy="148.3" r="1.6"/>
<circle cx="236" cy="155.4" r="1.6"/>
<circle cx="236.6" cy="151" r="1.6"/>
<circle cx="234.5" cy="159.8" r="1.6"/>
<circle cx="235" cy="158.5" r="1.6"/>
<circle cx="237.5" cy="154.7" r="1.6"/>
<circle cx="232.7" cy="155.9" r="1.6"/>
<circle cx="235.2" cy="150.9" r="1.6"/>
<circle cx="235.9" cy="150.4" r="1.6"/>
<circle cx="233.6" cy="156.6" r="1.6"/>
<circle cx="235.7" cy="159.7" r="1.6"/>
<circle cx="233.7" cy="148.8" r="1.6"/>
<circle cx="234.6" cy="158.6" r="1.6"/>
<circle cx="235.1" cy="153.1" r="1.6"/>
<circle cx="235.5" cy="145.6" r="1.6"/>
<circle cx="233.3" cy="152.3" r="1.6"/>
<circle cx="235.2" cy="155.1" r="1.6"/>
<circle cx="234.7" cy="146.7" r="1.6"/>
<circle cx="232.7" cy="115.8" r="1.6"/>
</g>
<line x1="234.4" y1="128.2" x2="234.4" y2="163.3" stroke="#d95f02" stroke-width="1"/>
<line x1="230.9" y1="128.2" x2="237.9" y2="128.2" stroke="#d95f02" stroke-width="1"/>
<line x1="230.9" y1="163.3" x2="237.9" y2="163.3" stroke="#d95f02" stroke-width="1"/>
<rect x="230.9" y="145.3" width="7" height="11.4" fill="none" stroke="#d95f02" stroke-width="0.8" stroke-opacity="0.7"/>
<line x1="230.9" y1="151.9" x2="237.9" y2="151.9" stroke="#d95f02" stroke-width="0.8" stroke-opacity="0.7"/>
<g fill="#1b9e77" fill-opacity="0.35">
<circle cx="249.5" cy="136.2" r="1.6"/>
<circle cx="251.1" cy="147.3" r="1.6"/>
<circle cx="253.9" cy="149.8" r="1.6"/>
<circle cx="252.1" cy="153.3" r="1.6"/>
<circle cx="251.7" cy="158.9" r="1.6"/>
<circle cx="249.4" cy="146.3" r="1.6"/>
<circle cx="251.3" cy="153" r="1.6"/>
<circle cx="255.1" cy="147.3" r="1.6"/>
<circle cx="253.2" cy="155.9" r="1.6"/>
<circle cx="251.7" cy="150.8" r="1.6"/>
<circle cx="251.9" cy="162.3" r="1.6"/>
<circle cx="253.9" cy="152.2" r="1.6"/>
<circle cx="253.6" cy="113.6" r="1.6"/>
<circle cx="249.8" cy="128.2" r="1.6"/>
</g>
<line x1="252" y1="132" x2="252" y2="163.3" stroke="#1b9e77" stroke-width="1"/>
<line x1="248.5" y1="132" x2="255.5" y2="132" stroke="#1b9e77" stroke-width="1"/>
<line x1="248.5" y1="163.3" x2="255.5" y2="163.3" stroke="#1b9e77" stroke-width="1"/>
<rect x="248.5" y="144.3" width="7" height="10.4" fill="none" stroke="#1b9e77" stroke-width="0.8" stroke-opacity="0.7"/>
<line x1="248.5" y1="147.6" x2="255.5" y2="147.6" stroke="#1b9e77" stroke-width="0.8" stroke-opacity="0.7"/>
<g fill="#d95f02" fill-opacity="0.35">
<circle cx="261.2" cy="155.5" r="1.6"/>
<circle cx="260.1" cy="154" r="1.6"/>
<circle cx="258.6" cy="153.9" r="1.6"/>
<circle cx="256.5" cy="154.8" r="1.6"/>
<circle cx="259" cy="155.5" r="1.6"/>
<circle cx="258.6" cy="152.3" r="1.6"/>
<circle cx="260.7" cy="154.2" r="1.6"/>
<circle cx="258.1" cy="151.8" r="1.6"/>
<circle cx="258.8" cy="152.7" r="1.6"/>
<circle cx="260.3" cy="156.8" r="1.6"/>
<circle cx="261.4" cy="121.5" r="1.6"/>
</g>
<line x1="259.4" y1="147.2" x2="259.4" y2="160.5" stroke="#d95f02" stroke-width="1"/>
<line x1="255.9" y1="147.2" x2="262.9" y2="147.2" stroke="#d95f02" stroke-width="1"/>
<line x1="255.9" y1="160.5" x2="262.9" y2="160.5" stroke="#d95f02" stroke-width="1"/>
<rect x="255.9" y="151" width="7" height="4.8" fill="none" stroke="#d95f02" stroke-width="0.8" stroke-opacity="0.7"/>
<line x1="255.9" y1="153.8" x2="262.9" y2="153.8" stroke="#d95f02" stroke-width="0.8" stroke-opacity="0.7"/>
<text x="230.4" y="171.5" font-size="3.9" text-anchor="middle" fill="#444">non-SD</text>
<text x="254.5" y="171.5" font-size="3.9" text-anchor="middle" fill="#444">SD</text>
<rect x="283.8" y="110.6" width="56.9" height="56" fill="#fff" stroke="none" stroke-width="1"/>
<line x1="283.8" y1="164.2" x2="340.7" y2="164.2" stroke="#ececec" stroke-width="0.6"/>
<line x1="283.8" y1="156.2" x2="340.7" y2="156.2" stroke="#f4f4f4" stroke-width="0.5"/>
<line x1="283.8" y1="148.3" x2="340.7" y2="148.3" stroke="#ececec" stroke-width="0.6"/>
<line x1="283.8" y1="140.3" x2="340.7" y2="140.3" stroke="#f4f4f4" stroke-width="0.5"/>
<line x1="283.8" y1="132.3" x2="340.7" y2="132.3" stroke="#ececec" stroke-width="0.6"/>
<line x1="283.8" y1="124.4" x2="340.7" y2="124.4" stroke="#f4f4f4" stroke-width="0.5"/>
<line x1="283.8" y1="116.4" x2="340.7" y2="116.4" stroke="#ececec" stroke-width="0.6"/>
<line x1="299.5" y1="110.6" x2="299.5" y2="166.6" stroke="#ececec" stroke-width="0.6"/>
<line x1="325.5" y1="110.6" x2="325.5" y2="166.6" stroke="#ececec" stroke-width="0.6"/>
<rect x="283.8" y="110.6" width="56.9" height="56" fill="none" stroke="#b8b8b8" stroke-width="0.8"/>
<line x1="282.3" y1="164.2" x2="283.8" y2="164.2" stroke="#777" stroke-width="0.5"/>
<text x="281.6" y="165.5" font-size="3.5" text-anchor="end" fill="#555555">0</text>
<line x1="282.3" y1="148.3" x2="283.8" y2="148.3" stroke="#777" stroke-width="0.5"/>
<text x="281.6" y="149.5" font-size="3.5" text-anchor="end" fill="#555555">2</text>
<line x1="282.3" y1="132.3" x2="283.8" y2="132.3" stroke="#777" stroke-width="0.5"/>
<text x="281.6" y="133.6" font-size="3.5" text-anchor="end" fill="#555555">4</text>
<line x1="282.3" y1="116.4" x2="283.8" y2="116.4" stroke="#777" stroke-width="0.5"/>
<text x="281.6" y="117.7" font-size="3.5" text-anchor="end" fill="#555555">6</text>
<line x1="299.5" y1="166.6" x2="299.5" y2="168.1" stroke="#777" stroke-width="0.5"/>
<line x1="325.5" y1="166.6" x2="325.5" y2="168.1" stroke="#777" stroke-width="0.5"/>
<text transform="translate(278.2 138.7) rotate(-90)" font-size="4.6" text-anchor="middle" fill="#333">CD4+ Ki-67+CLA+ (%)</text>
<g fill="#1b9e77" fill-opacity="0.35">
<circle cx="297.2" cy="162.7" r="1.6"/>
<circle cx="297.6" cy="161.2" r="1.6"/>
<circle cx="295.5" cy="161.1" r="1.6"/>
<circle cx="293.2" cy="161.6" r="1.6"/>
<circle cx="297.2" cy="163.6" r="1.6"/>
<circle cx="296.4" cy="162.4" r="1.6"/>
<circle cx="297.8" cy="161.3" r="1.6"/>
<circle cx="297.8" cy="162" r="1.6"/>
<circle cx="293.7" cy="162.5" r="1.6"/>
<circle cx="294.3" cy="162.6" r="1.6"/>
<circle cx="293.4" cy="162.6" r="1.6"/>
<circle cx="298.1" cy="161.5" r="1.6"/>
<circle cx="293.6" cy="114" r="1.6"/>
<circle cx="293.5" cy="157" r="1.6"/>
</g>
<g fill="#1b9e77" fill-opacity="0.45">
<circle cx="296.5" cy="161.2" r="1.6"/>
<circle cx="297.2" cy="164" r="1.6"/>
<circle cx="296" cy="161.4" r="1.6"/>
<circle cx="297.3" cy="164" r="1.6"/>
<circle cx="296.6" cy="162.5" r="1.6"/>
<circle cx="298.1" cy="160.2" r="1.6"/>
<circle cx="293.9" cy="160.7" r="1.6"/>
<circle cx="296.2" cy="162.9" r="1.6"/>
<circle cx="299.2" cy="164.2" r="1.6"/>
<circle cx="294.6" cy="163.1" r="1.6"/>
<circle cx="294.6" cy="163" r="1.6"/>
<circle cx="296.5" cy="160.8" r="1.6"/>
<circle cx="295.6" cy="162.2" r="1.6"/>
<circle cx="294.9" cy="164" r="1.6"/>
<circle cx="298" cy="160.7" r="1.6"/>
<circle cx="294.6" cy="160.8" r="1.6"/>
<circle cx="293.3" cy="163.4" r="1.6"/>
<circle cx="295.3" cy="162.1" r="1.6"/>
<circle cx="296" cy="162.4" r="1.6"/>
<circle cx="295.3" cy="161.9" r="1.6"/>
<circle cx="294.2" cy="161" r="1.6"/>
<circle cx="296.5" cy="160.5" r="1.6"/>
<circle cx="294.9" cy="164" r="1.6"/>
<circle cx="295.5" cy="162.1" r="1.6"/>
<circle cx="295" cy="161.9" r="1.6"/>
<circle cx="298" cy="163.1" r="1.6"/>
<circle cx="297.4" cy="163" r="1.6"/>
<circle cx="296.7" cy="161" r="1.6"/>
<circle cx="298.8" cy="162.4" r="1.6"/>
<circle cx="298.5" cy="162.4" r="1.6"/>
<circle cx="295.7" cy="164" r="1.6"/>
<circle cx="293.3" cy="161.7" r="1.6"/>
<circle cx="293.4" cy="160.8" r="1.6"/>
<circle cx="294.1" cy="161.8" r="1.6"/>
<circle cx="296.5" cy="160.5" r="1.6"/>
<circle cx="296.1" cy="161" r="1.6"/>
<circle cx="297.2" cy="161.5" r="1.6"/>
<circle cx="294.3" cy="163" r="1.6"/>
<circle cx="293.9" cy="160.9" r="1.6"/>
<circle cx="294.3" cy="160.5" r="1.6"/>
</g>
<line x1="296.1" y1="159.4" x2="296.1" y2="164.2" stroke="#1b9e77" stroke-width="1"/>
<line x1="293.6" y1="159.4" x2="298.6" y2="159.4" stroke="#1b9e77" stroke-width="1"/>
<line x1="293.6" y1="164.2" x2="298.6" y2="164.2" stroke="#1b9e77" stroke-width="1"/>
<rect x="292.6" y="161" width="7" height="2.8" fill="none" stroke="#1b9e77" stroke-width="0.8" stroke-opacity="0.7"/>
<line x1="292.6" y1="162.6" x2="299.6" y2="162.6" stroke="#1b9e77" stroke-width="0.8" stroke-opacity="0.7"/>
<g fill="#d95f02" fill-opacity="0.35">
<circle cx="301.3" cy="163.1" r="1.6"/>
<circle cx="303.3" cy="163.9" r="1.6"/>
<circle cx="300.4" cy="158" r="1.6"/>
<circle cx="302.8" cy="164.1" r="1.6"/>
<circle cx="304.4" cy="158.7" r="1.6"/>
<circle cx="302.6" cy="162.7" r="1.6"/>
<circle cx="304.1" cy="162.4" r="1.6"/>
<circle cx="300.6" cy="162.9" r="1.6"/>
<circle cx="305.1" cy="158.7" r="1.6"/>
<circle cx="300.6" cy="160.9" r="1.6"/>
<circle cx="305.7" cy="164.2" r="1.6"/>
<circle cx="306.1" cy="161.4" r="1.6"/>
<circle cx="305.8" cy="142.7" r="1.6"/>
<circle cx="303.2" cy="142.7" r="1.6"/>
<circle cx="301.7" cy="153.4" r="1.6"/>
</g>
<g fill="#d95f02" fill-opacity="0.45">
<circle cx="304.6" cy="162" r="1.6"/>
<circle cx="305.7" cy="161" r="1.6"/>
<circle cx="302.9" cy="163.6" r="1.6"/>
<circle cx="303.6" cy="158.7" r="1.6"/>
<circle cx="300.4" cy="160.8" r="1.6"/>
<circle cx="301.6" cy="163.3" r="1.6"/>
<circle cx="305.2" cy="158.5" r="1.6"/>
<circle cx="305.7" cy="162.8" r="1.6"/>
<circle cx="303.6" cy="164" r="1.6"/>
<circle cx="302" cy="158" r="1.6"/>
<circle cx="304" cy="158.2" r="1.6"/>
<circle cx="301.9" cy="163.9" r="1.6"/>
<circle cx="301.4" cy="161.3" r="1.6"/>
<circle cx="301" cy="159.5" r="1.6"/>
<circle cx="301.7" cy="159.2" r="1.6"/>
<circle cx="303.4" cy="163.8" r="1.6"/>
<circle cx="303.3" cy="163.6" r="1.6"/>
<circle cx="303.6" cy="159.2" r="1.6"/>
<circle cx="300.1" cy="161.3" r="1.6"/>
<circle cx="300.5" cy="160.9" r="1.6"/>
<circle cx="300.7" cy="160.1" r="1.6"/>
<circle cx="302.1" cy="160.5" r="1.6"/>
<circle cx="304" cy="161.8" r="1.6"/>
<circle cx="300.9" cy="163.2" r="1.6"/>
<circle cx="301.9" cy="158.2" r="1.6"/>
<circle cx="305.4" cy="158.8" r="1.6"/>
<circle cx="300.8" cy="161.1" r="1.6"/>
<circle cx="305.4" cy="163.6" r="1.6"/>
<circle cx="303" cy="163.5" r="1.6"/>
<circle cx="300.6" cy="160.8" r="1.6"/>
<circle cx="300.9" cy="161.2" r="1.6"/>
<circle cx="303" cy="160.8" r="1.6"/>
<circle cx="301.1" cy="161.9" r="1.6"/>
<circle cx="301.1" cy="161.6" r="1.6"/>
<circle cx="301.4" cy="163.4" r="1.6"/>
<circle cx="303" cy="158.6" r="1.6"/>
<circle cx="299.9" cy="158.5" r="1.6"/>
<circle cx="302.9" cy="158.2" r="1.6"/>
<circle cx="303.4" cy="159.2" r="1.6"/>
<circle cx="301.3" cy="159.8" r="1.6"/>
</g>
<line x1="303" y1="157" x2="303" y2="164.2" stroke="#d95f02" stroke-width="1"/>
<line x1="300.5" y1="157" x2="305.5" y2="157" stroke="#d95f02" stroke-width="1"/>
<line x1="300.5" y1="164.2" x2="305.5" y2="164.2" stroke="#d95f02" stroke-width="1"/>
<rect x="299.5" y="160.2" width="7" height="3.2" fill="none" stroke="#d95f02" stroke-width="0.8" stroke-opacity="0.7"/>
<line x1="299.5" y1="161.8" x2="306.5" y2="161.8" stroke="#d95f02" stroke-width="0.8" stroke-opacity="0.7"/>
<g fill="#1b9e77" fill-opacity="0.35">
<circle cx="323.7" cy="164" r="1.6"/>
<circle cx="324.5" cy="163.5" r="1.6"/>
<circle cx="321.5" cy="163.6" r="1.6"/>
<circle cx="324.5" cy="163.5" r="1.6"/>
<circle cx="322.3" cy="163.3" r="1.6"/>
<circle cx="325.2" cy="164.2" r="1.6"/>
<circle cx="319.4" cy="163.3" r="1.6"/>
<circle cx="325.3" cy="163.4" r="1.6"/>
<circle cx="321.9" cy="123.6" r="1.6"/>
<circle cx="321.9" cy="160.2" r="1.6"/>
</g>
<g fill="#1b9e77" fill-opacity="0.45">
<circle cx="320.9" cy="164.1" r="1.6"/>
<circle cx="323.6" cy="163" r="1.6"/>
<circle cx="321.5" cy="164" r="1.6"/>
<circle cx="320.6" cy="164" r="1.6"/>
<circle cx="321.4" cy="163.9" r="1.6"/>
<circle cx="325.6" cy="162.6" r="1.6"/>
<circle cx="322.4" cy="162.9" r="1.6"/>
<circle cx="324.3" cy="163.4" r="1.6"/>
<circle cx="324.1" cy="162.8" r="1.6"/>
<circle cx="320.6" cy="163.2" r="1.6"/>
<circle cx="324.7" cy="163.2" r="1.6"/>
<circle cx="319.9" cy="162.9" r="1.6"/>
<circle cx="321.5" cy="163.1" r="1.6"/>
<circle cx="325.4" cy="163.9" r="1.6"/>
<circle cx="324" cy="163.1" r="1.6"/>
<circle cx="324.6" cy="164" r="1.6"/>
<circle cx="325.1" cy="162.7" r="1.6"/>
<circle cx="324.6" cy="163" r="1.6"/>
<circle cx="323.1" cy="162.9" r="1.6"/>
<circle cx="324.5" cy="163.5" r="1.6"/>
<circle cx="324.8" cy="163" r="1.6"/>
<circle cx="325.4" cy="163.7" r="1.6"/>
<circle cx="325.3" cy="163.4" r="1.6"/>
<circle cx="325.5" cy="164" r="1.6"/>
<circle cx="320.9" cy="162.9" r="1.6"/>
</g>
<line x1="322.5" y1="162.6" x2="322.5" y2="164.2" stroke="#1b9e77" stroke-width="1"/>
<line x1="322.5" y1="162.6" x2="322.5" y2="162.6" stroke="#1b9e77" stroke-width="1"/>
<line x1="322.5" y1="164.2" x2="322.5" y2="164.2" stroke="#1b9e77" stroke-width="1"/>
<rect x="319" y="163" width="7" height="0.8" fill="none" stroke="#1b9e77" stroke-width="0.8" stroke-opacity="0.7"/>
<line x1="319" y1="163.4" x2="326" y2="163.4" stroke="#1b9e77" stroke-width="0.8" stroke-opacity="0.7"/>
<g fill="#d95f02" fill-opacity="0.35">
<circle cx="331.6" cy="164" r="1.6"/>
<circle cx="331.3" cy="163.5" r="1.6"/>
<circle cx="326.4" cy="162.7" r="1.6"/>
<circle cx="329.4" cy="164" r="1.6"/>
<circle cx="326.5" cy="163.9" r="1.6"/>
<circle cx="327" cy="164" r="1.6"/>
<circle cx="331.5" cy="163" r="1.6"/>
<circle cx="329" cy="163.3" r="1.6"/>
<circle cx="330.2" cy="157.8" r="1.6"/>
</g>
<g fill="#d95f02" fill-opacity="0.45">
<circle cx="328.5" cy="163.3" r="1.6"/>
<circle cx="328.6" cy="163.8" r="1.6"/>
<circle cx="330.3" cy="162.5" r="1.6"/>
<circle cx="326.9" cy="163.6" r="1.6"/>
<circle cx="330.8" cy="163.7" r="1.6"/>
<circle cx="330.5" cy="163.3" r="1.6"/>
<circle cx="327.1" cy="162.6" r="1.6"/>
<circle cx="326.6" cy="162.8" r="1.6"/>
<circle cx="327.5" cy="162.6" r="1.6"/>
<circle cx="332.4" cy="163.7" r="1.6"/>
<circle cx="327.8" cy="163.5" r="1.6"/>
<circle cx="330.2" cy="162.4" r="1.6"/>
<circle cx="328.8" cy="162.4" r="1.6"/>
<circle cx="332.4" cy="163.2" r="1.6"/>
<circle cx="332.6" cy="163.2" r="1.6"/>
<circle cx="331.6" cy="163.8" r="1.6"/>
<circle cx="329.7" cy="163.9" r="1.6"/>
<circle cx="327.5" cy="164.2" r="1.6"/>
<circle cx="329.2" cy="162.3" r="1.6"/>
<circle cx="327.9" cy="162.6" r="1.6"/>
<circle cx="327" cy="163.5" r="1.6"/>
<circle cx="331.8" cy="163.1" r="1.6"/>
<circle cx="328.7" cy="163.2" r="1.6"/>
<circle cx="332" cy="162.4" r="1.6"/>
<circle cx="326.8" cy="162.9" r="1.6"/>
</g>
<line x1="329.5" y1="162.2" x2="329.5" y2="164.2" stroke="#d95f02" stroke-width="1"/>
<line x1="329.5" y1="162.2" x2="329.5" y2="162.2" stroke="#d95f02" stroke-width="1"/>
<line x1="329.5" y1="164.2" x2="329.5" y2="164.2" stroke="#d95f02" stroke-width="1"/>
<rect x="326" y="162.6" width="7" height="1.2" fill="none" stroke="#d95f02" stroke-width="0.8" stroke-opacity="0.7"/>
<line x1="326" y1="163.2" x2="333" y2="163.2" stroke="#d95f02" stroke-width="0.8" stroke-opacity="0.7"/>
<text x="299.5" y="171.5" font-size="3.9" text-anchor="middle" fill="#444">non-SD</text>
<text x="325.5" y="171.5" font-size="3.9" text-anchor="middle" fill="#444">SD</text>
<rect x="351.8" y="110.9" width="55" height="55.3" fill="#fff" stroke="#d0d0d0" stroke-width="0.6"/>
<line x1="351.8" y1="110.9" x2="351.8" y2="166.2" stroke="#999" stroke-width="0.7"/>
<path d="M356.1 148.3 L359 146 L361.5 136 L363.5 121 L365.4 113.9 L367.5 119 L369.5 129 L371.6 135.9 L374 139.5 L377.2 142 L382.1 144.5 L387 146.8 L392 148.3 Z" fill="#2b2b96" stroke="none" stroke-width="1" fill-opacity="1.0"/>
<path d="M353.5 166.2 L356 165 L358.5 160 L360.5 147 L362.5 136 L364.2 132.5 L366.5 139 L369 151 L371.6 157 L375 158.5 L379 159.2 L383 159.5 L386.5 161.5 L389.5 164 L394.5 166.2 Z" fill="#ff1a1a" stroke="none" stroke-width="1" fill-opacity="0.88"/>
<line x1="351.8" y1="166.2" x2="406.8" y2="166.2" stroke="#999" stroke-width="0.7"/>
<line x1="357" y1="166.2" x2="357" y2="167.7" stroke="#666" stroke-width="0.5"/>
<line x1="365.5" y1="166.2" x2="365.5" y2="167.7" stroke="#666" stroke-width="0.5"/>
<line x1="375" y1="166.2" x2="375" y2="167.7" stroke="#666" stroke-width="0.5"/>
<line x1="389.5" y1="166.2" x2="389.5" y2="167.7" stroke="#666" stroke-width="0.5"/>
<line x1="403" y1="166.2" x2="403" y2="167.7" stroke="#666" stroke-width="0.5"/>
<text x="356" y="170.5" font-size="2.6" fill="#444">10<tspan font-size="1.8" baseline-shift="super">0</tspan></text>
<text x="374" y="170.5" font-size="2.6" fill="#444">10<tspan font-size="1.8" baseline-shift="super">0</tspan></text>
<text x="388.5" y="170.5" font-size="2.6" fill="#444">10<tspan font-size="1.8" baseline-shift="super">0</tspan></text>
<text x="402" y="170.5" font-size="2.6" fill="#444">10<tspan font-size="1.8" baseline-shift="super">0</tspan></text>
<text x="365.5" y="170.5" font-size="2.6" fill="#444">1</text>
<circle cx="363.5" cy="166.4" r="1" fill="#000"/>
<text x="378.5" y="174.4" font-size="4" text-anchor="middle" fill="#333">PD-1</text>
<text transform="translate(349.9 139.6) rotate(-90)" font-size="4.3" text-anchor="middle" fill="#333">Normalized to Mode</text>
<text x="388.3" y="117.6" font-size="4.6" font-weight="bold" fill="#2b2b96">non-SD</text>
<text x="388.9" y="122.2" font-size="4.6" font-weight="bold" fill="#ff1a1a">SD</text>
<rect x="429.3" y="110.6" width="49.5" height="55.6" fill="#fff" stroke="none" stroke-width="1"/>
<line x1="429.3" y1="156.3" x2="478.8" y2="156.3" stroke="#ececec" stroke-width="0.6"/>
<line x1="429.3" y1="150.4" x2="478.8" y2="150.4" stroke="#f4f4f4" stroke-width="0.5"/>
<line x1="429.3" y1="144.6" x2="478.8" y2="144.6" stroke="#ececec" stroke-width="0.6"/>
<line x1="429.3" y1="138.7" x2="478.8" y2="138.7" stroke="#f4f4f4" stroke-width="0.5"/>
<line x1="429.3" y1="132.8" x2="478.8" y2="132.8" stroke="#ececec" stroke-width="0.6"/>
<line x1="429.3" y1="127" x2="478.8" y2="127" stroke="#f4f4f4" stroke-width="0.5"/>
<line x1="429.3" y1="121.1" x2="478.8" y2="121.1" stroke="#ececec" stroke-width="0.6"/>
<line x1="442.9" y1="110.6" x2="442.9" y2="166.2" stroke="#ececec" stroke-width="0.6"/>
<line x1="465.2" y1="110.6" x2="465.2" y2="166.2" stroke="#ececec" stroke-width="0.6"/>
<rect x="429.3" y="110.6" width="49.5" height="55.6" fill="none" stroke="#b8b8b8" stroke-width="0.8"/>
<line x1="427.8" y1="156.3" x2="429.3" y2="156.3" stroke="#777" stroke-width="0.5"/>
<text x="427.1" y="157.6" font-size="3.5" text-anchor="end" fill="#555555">6000</text>
<line x1="427.8" y1="144.6" x2="429.3" y2="144.6" stroke="#777" stroke-width="0.5"/>
<text x="427.1" y="145.8" font-size="3.5" text-anchor="end" fill="#555555">9000</text>
<line x1="427.8" y1="132.8" x2="429.3" y2="132.8" stroke="#777" stroke-width="0.5"/>
<text x="427.1" y="134.1" font-size="3.5" text-anchor="end" fill="#555555">12000</text>
<line x1="427.8" y1="121.1" x2="429.3" y2="121.1" stroke="#777" stroke-width="0.5"/>
<text x="427.1" y="122.4" font-size="3.5" text-anchor="end" fill="#555555">15000</text>
<line x1="442.9" y1="166.2" x2="442.9" y2="167.7" stroke="#777" stroke-width="0.5"/>
<line x1="465.2" y1="166.2" x2="465.2" y2="167.7" stroke="#777" stroke-width="0.5"/>
<text transform="translate(416.8 138.7) rotate(-90)" font-size="4.6" text-anchor="middle" fill="#333">CD4<tspan baseline-shift="super" font-size="3.0">+</tspan> PD-1<tspan baseline-shift="super" font-size="3.0">+</tspan> (MFI)</text>
<g fill="#1b9e77" fill-opacity="0.35">
<circle cx="439.1" cy="146.9" r="1.6"/>
<circle cx="442.7" cy="157.8" r="1.6"/>
<circle cx="442.7" cy="156.9" r="1.6"/>
<circle cx="437.8" cy="163.4" r="1.6"/>
<circle cx="438.6" cy="155.3" r="1.6"/>
<circle cx="442.6" cy="156.4" r="1.6"/>
<circle cx="437.9" cy="163.4" r="1.6"/>
<circle cx="438.7" cy="163.3" r="1.6"/>
<circle cx="439.4" cy="160.4" r="1.6"/>
<circle cx="437.3" cy="155.5" r="1.6"/>
<circle cx="438.3" cy="155.6" r="1.6"/>
<circle cx="439.1" cy="162.7" r="1.6"/>
<circle cx="439.1" cy="157.1" r="1.6"/>
<circle cx="442.7" cy="151.8" r="1.6"/>
<circle cx="438.3" cy="158.7" r="1.6"/>
<circle cx="437.9" cy="155.3" r="1.6"/>
<circle cx="442.4" cy="163.3" r="1.6"/>
<circle cx="439.5" cy="155.4" r="1.6"/>
<circle cx="441.9" cy="163.5" r="1.6"/>
<circle cx="440.7" cy="158.5" r="1.6"/>
<circle cx="441.6" cy="163.5" r="1.6"/>
<circle cx="438.6" cy="159" r="1.6"/>
<circle cx="437.6" cy="152.3" r="1.6"/>
<circle cx="441.4" cy="160.6" r="1.6"/>
<circle cx="439.6" cy="160.7" r="1.6"/>
<circle cx="440.2" cy="138.1" r="1.6"/>
</g>
<line x1="439.8" y1="145.8" x2="439.8" y2="163.7" stroke="#1b9e77" stroke-width="1"/>
<line x1="436.3" y1="145.8" x2="443.3" y2="145.8" stroke="#1b9e77" stroke-width="1"/>
<line x1="436.3" y1="163.7" x2="443.3" y2="163.7" stroke="#1b9e77" stroke-width="1"/>
<rect x="436.3" y="155.1" width="7" height="8" fill="none" stroke="#1b9e77" stroke-width="0.8" stroke-opacity="0.7"/>
<line x1="436.3" y1="158.2" x2="443.3" y2="158.2" stroke="#1b9e77" stroke-width="0.8" stroke-opacity="0.7"/>
<g fill="#d95f02" fill-opacity="0.35">
<circle cx="448.6" cy="163.5" r="1.6"/>
<circle cx="447.5" cy="152.4" r="1.6"/>
<circle cx="449" cy="159.7" r="1.6"/>
<circle cx="444.3" cy="148.7" r="1.6"/>
<circle cx="447.9" cy="153.4" r="1.6"/>
<circle cx="447.9" cy="159" r="1.6"/>
<circle cx="447.3" cy="161" r="1.6"/>
<circle cx="445.2" cy="156.7" r="1.6"/>
<circle cx="443.9" cy="163.5" r="1.6"/>
<circle cx="447.3" cy="159.9" r="1.6"/>
<circle cx="448.6" cy="163.3" r="1.6"/>
<circle cx="445.2" cy="163.5" r="1.6"/>
<circle cx="444.8" cy="163.5" r="1.6"/>
<circle cx="444.9" cy="153.7" r="1.6"/>
<circle cx="444" cy="160.9" r="1.6"/>
<circle cx="447.7" cy="163.4" r="1.6"/>
<circle cx="449.6" cy="163.6" r="1.6"/>
<circle cx="448.5" cy="162.3" r="1.6"/>
<circle cx="445.7" cy="157.2" r="1.6"/>
<circle cx="447.9" cy="163.4" r="1.6"/>
<circle cx="443.9" cy="156.4" r="1.6"/>
<circle cx="448.7" cy="153.2" r="1.6"/>
<circle cx="445.5" cy="163.6" r="1.6"/>
<circle cx="443.5" cy="163.4" r="1.6"/>
<circle cx="447.4" cy="163.3" r="1.6"/>
<circle cx="444.3" cy="136.5" r="1.6"/>
</g>
<line x1="446.6" y1="141.5" x2="446.6" y2="163.7" stroke="#d95f02" stroke-width="1"/>
<line x1="443.1" y1="141.5" x2="450.1" y2="141.5" stroke="#d95f02" stroke-width="1"/>
<line x1="443.1" y1="163.7" x2="450.1" y2="163.7" stroke="#d95f02" stroke-width="1"/>
<rect x="443.1" y="151.4" width="7" height="11.7" fill="none" stroke="#d95f02" stroke-width="0.8" stroke-opacity="0.7"/>
<line x1="443.1" y1="156.3" x2="450.1" y2="156.3" stroke="#d95f02" stroke-width="0.8" stroke-opacity="0.7"/>
<g fill="#1b9e77" fill-opacity="0.35">
<circle cx="462.9" cy="158.9" r="1.6"/>
<circle cx="463.5" cy="154.6" r="1.6"/>
<circle cx="462.6" cy="145.3" r="1.6"/>
<circle cx="461.5" cy="157.5" r="1.6"/>
<circle cx="462.2" cy="158.6" r="1.6"/>
<circle cx="462.7" cy="157.5" r="1.6"/>
<circle cx="460.4" cy="144.9" r="1.6"/>
<circle cx="464.4" cy="163" r="1.6"/>
<circle cx="465.2" cy="154.6" r="1.6"/>
<circle cx="464" cy="158.9" r="1.6"/>
<circle cx="465" cy="128.7" r="1.6"/>
</g>
<line x1="462.1" y1="139.4" x2="462.1" y2="163.1" stroke="#1b9e77" stroke-width="1"/>
<line x1="458.6" y1="139.4" x2="465.6" y2="139.4" stroke="#1b9e77" stroke-width="1"/>
<line x1="458.6" y1="163.1" x2="465.6" y2="163.1" stroke="#1b9e77" stroke-width="1"/>
<rect x="458.6" y="150.8" width="7" height="8.6" fill="none" stroke="#1b9e77" stroke-width="0.8" stroke-opacity="0.7"/>
<line x1="458.6" y1="154.5" x2="465.6" y2="154.5" stroke="#1b9e77" stroke-width="0.8" stroke-opacity="0.7"/>
<g fill="#d95f02" fill-opacity="0.35">
<circle cx="466.7" cy="155.6" r="1.6"/>
<circle cx="470.1" cy="157.5" r="1.6"/>
<circle cx="468.7" cy="157.6" r="1.6"/>
<circle cx="468.2" cy="159.4" r="1.6"/>
<circle cx="466.7" cy="158.7" r="1.6"/>
<circle cx="469.9" cy="158.3" r="1.6"/>
<circle cx="466.7" cy="113.4" r="1.6"/>
<circle cx="467.1" cy="150.1" r="1.6"/>
</g>
<line x1="468.6" y1="155.5" x2="468.6" y2="159.4" stroke="#d95f02" stroke-width="1"/>
<line x1="465.1" y1="155.5" x2="472.1" y2="155.5" stroke="#d95f02" stroke-width="1"/>
<line x1="465.1" y1="159.4" x2="472.1" y2="159.4" stroke="#d95f02" stroke-width="1"/>
<rect x="465.1" y="155.5" width="7" height="3.9" fill="none" stroke="#d95f02" stroke-width="0.8" stroke-opacity="0.7"/>
<line x1="465.1" y1="156.7" x2="472.1" y2="156.7" stroke="#d95f02" stroke-width="0.8" stroke-opacity="0.7"/>
<text x="442.9" y="171.5" font-size="3.9" text-anchor="middle" fill="#444">non-SD</text>
<text x="465.2" y="171.5" font-size="3.9" text-anchor="middle" fill="#444">SD</text>
<text x="486.3" y="18.4" font-size="13.3" font-weight="bold" fill="#000">g</text>
<rect x="623.2" y="14.3" width="15.9" height="15.9" fill="#6a6ab8" stroke="none" stroke-width="1"/>
<rect x="607.6" y="29.9" width="15.9" height="15.9" fill="#7a78c0" stroke="none" stroke-width="1"/>
<rect x="623.2" y="29.9" width="15.9" height="15.9" fill="#6e6cba" stroke="none" stroke-width="1"/>
<rect x="592" y="45.5" width="15.9" height="15.9" fill="#a09cd2" stroke="none" stroke-width="1"/>
<rect x="607.6" y="45.5" width="15.9" height="15.9" fill="#9e9ad0" stroke="none" stroke-width="1"/>
<rect x="623.2" y="45.5" width="15.9" height="15.9" fill="#9c98cf" stroke="none" stroke-width="1"/>
<rect x="576.4" y="61.1" width="15.9" height="15.9" fill="#fdd2c6" stroke="none" stroke-width="1"/>
<rect x="592" y="61.1" width="15.9" height="15.9" fill="#fbbcab" stroke="none" stroke-width="1"/>
<rect x="607.6" y="61.1" width="15.9" height="15.9" fill="#fdd0c3" stroke="none" stroke-width="1"/>
<rect x="623.2" y="61.1" width="15.9" height="15.9" fill="#fcc8b8" stroke="none" stroke-width="1"/>
<rect x="560.8" y="76.7" width="15.9" height="15.9" fill="#6262b4" stroke="none" stroke-width="1"/>
<rect x="576.4" y="76.7" width="15.9" height="15.9" fill="#fdeeea" stroke="none" stroke-width="1"/>
<rect x="592" y="76.7" width="15.9" height="15.9" fill="#fdd3c7" stroke="none" stroke-width="1"/>
<rect x="607.6" y="76.7" width="15.9" height="15.9" fill="#fbbfae" stroke="none" stroke-width="1"/>
<rect x="623.2" y="76.7" width="15.9" height="15.9" fill="#fdd3c6" stroke="none" stroke-width="1"/>
<rect x="545.2" y="92.3" width="15.9" height="15.9" fill="#b4b4dc" stroke="none" stroke-width="1"/>
<rect x="560.8" y="92.3" width="15.9" height="15.9" fill="#c8c5e3" stroke="none" stroke-width="1"/>
<rect x="576.4" y="92.3" width="15.9" height="15.9" fill="#e5e5f2" stroke="none" stroke-width="1"/>
<rect x="592" y="92.3" width="15.9" height="15.9" fill="#ebebf5" stroke="none" stroke-width="1"/>
<rect x="607.6" y="92.3" width="15.9" height="15.9" fill="#e8e8f3" stroke="none" stroke-width="1"/>
<rect x="623.2" y="92.3" width="15.9" height="15.9" fill="#dddcef" stroke="none" stroke-width="1"/>
<rect x="529.6" y="107.9" width="15.9" height="15.9" fill="#6c6cb9" stroke="none" stroke-width="1"/>
<rect x="545.2" y="107.9" width="15.9" height="15.9" fill="#cfcde8" stroke="none" stroke-width="1"/>
<rect x="560.8" y="107.9" width="15.9" height="15.9" fill="#f5f5f8" stroke="none" stroke-width="1"/>
<rect x="576.4" y="107.9" width="15.9" height="15.9" fill="#d4d2ec" stroke="none" stroke-width="1"/>
<rect x="592" y="107.9" width="15.9" height="15.9" fill="#b8b5dd" stroke="none" stroke-width="1"/>
<rect x="607.6" y="107.9" width="15.9" height="15.9" fill="#b2afda" stroke="none" stroke-width="1"/>
<rect x="623.2" y="107.9" width="15.9" height="15.9" fill="#a7a3d5" stroke="none" stroke-width="1"/>
<path d="M627.77 21.35 L628.08 21.93 L628.73 22.04 L628.27 22.51 L628.36 23.16 L627.77 22.87 L627.19 23.16 L627.28 22.51 L626.82 22.04 L627.47 21.93 Z" fill="#222"/>
<path d="M629.92 21.35 L630.23 21.93 L630.88 22.04 L630.42 22.51 L630.51 23.16 L629.92 22.87 L629.34 23.16 L629.43 22.51 L628.97 22.04 L629.62 21.93 Z" fill="#222"/>
<path d="M632.07 21.35 L632.38 21.93 L633.03 22.04 L632.57 22.51 L632.66 23.16 L632.07 22.87 L631.49 23.16 L631.58 22.51 L631.12 22.04 L631.77 21.93 Z" fill="#222"/>
<path d="M634.23 21.35 L634.53 21.93 L635.18 22.04 L634.72 22.51 L634.81 23.16 L634.23 22.87 L633.64 23.16 L633.73 22.51 L633.27 22.04 L633.92 21.93 Z" fill="#222"/>
<path d="M612.17 36.95 L612.48 37.53 L613.13 37.64 L612.67 38.11 L612.76 38.76 L612.17 38.47 L611.59 38.76 L611.68 38.11 L611.22 37.64 L611.87 37.53 Z" fill="#222"/>
<path d="M614.32 36.95 L614.63 37.53 L615.28 37.64 L614.82 38.11 L614.91 38.76 L614.32 38.47 L613.74 38.76 L613.83 38.11 L613.37 37.64 L614.02 37.53 Z" fill="#222"/>
<path d="M616.47 36.95 L616.78 37.53 L617.43 37.64 L616.97 38.11 L617.06 38.76 L616.47 38.47 L615.89 38.76 L615.98 38.11 L615.52 37.64 L616.17 37.53 Z" fill="#222"/>
<path d="M618.62 36.95 L618.93 37.53 L619.58 37.64 L619.12 38.11 L619.21 38.76 L618.62 38.47 L618.04 38.76 L618.13 38.11 L617.67 37.64 L618.32 37.53 Z" fill="#222"/>
<path d="M627.77 36.95 L628.08 37.53 L628.73 37.64 L628.27 38.11 L628.36 38.76 L627.77 38.47 L627.19 38.76 L627.28 38.11 L626.82 37.64 L627.47 37.53 Z" fill="#222"/>
<path d="M629.92 36.95 L630.23 37.53 L630.88 37.64 L630.42 38.11 L630.51 38.76 L629.92 38.47 L629.34 38.76 L629.43 38.11 L628.97 37.64 L629.62 37.53 Z" fill="#222"/>
<path d="M632.07 36.95 L632.38 37.53 L633.03 37.64 L632.57 38.11 L632.66 38.76 L632.07 38.47 L631.49 38.76 L631.58 38.11 L631.12 37.64 L631.77 37.53 Z" fill="#222"/>
<path d="M634.23 36.95 L634.53 37.53 L635.18 37.64 L634.72 38.11 L634.81 38.76 L634.23 38.47 L633.64 38.76 L633.73 38.11 L633.27 37.64 L633.92 37.53 Z" fill="#222"/>
<path d="M596.57 52.55 L596.88 53.13 L597.53 53.24 L597.07 53.71 L597.16 54.36 L596.57 54.07 L595.99 54.36 L596.08 53.71 L595.62 53.24 L596.27 53.13 Z" fill="#222"/>
<path d="M598.72 52.55 L599.03 53.13 L599.68 53.24 L599.22 53.71 L599.31 54.36 L598.72 54.07 L598.14 54.36 L598.23 53.71 L597.77 53.24 L598.42 53.13 Z" fill="#222"/>
<path d="M600.87 52.55 L601.18 53.13 L601.83 53.24 L601.37 53.71 L601.46 54.36 L600.87 54.07 L600.29 54.36 L600.38 53.71 L599.92 53.24 L600.57 53.13 Z" fill="#222"/>
<path d="M603.02 52.55 L603.33 53.13 L603.98 53.24 L603.52 53.71 L603.61 54.36 L603.02 54.07 L602.44 54.36 L602.53 53.71 L602.07 53.24 L602.72 53.13 Z" fill="#222"/>
<path d="M612.17 52.55 L612.48 53.13 L613.13 53.24 L612.67 53.71 L612.76 54.36 L612.17 54.07 L611.59 54.36 L611.68 53.71 L611.22 53.24 L611.87 53.13 Z" fill="#222"/>
<path d="M614.32 52.55 L614.63 53.13 L615.28 53.24 L614.82 53.71 L614.91 54.36 L614.32 54.07 L613.74 54.36 L613.83 53.71 L613.37 53.24 L614.02 53.13 Z" fill="#222"/>
<path d="M616.47 52.55 L616.78 53.13 L617.43 53.24 L616.97 53.71 L617.06 54.36 L616.47 54.07 L615.89 54.36 L615.98 53.71 L615.52 53.24 L616.17 53.13 Z" fill="#222"/>
<path d="M618.62 52.55 L618.93 53.13 L619.58 53.24 L619.12 53.71 L619.21 54.36 L618.62 54.07 L618.04 54.36 L618.13 53.71 L617.67 53.24 L618.32 53.13 Z" fill="#222"/>
<path d="M627.77 52.55 L628.08 53.13 L628.73 53.24 L628.27 53.71 L628.36 54.36 L627.77 54.07 L627.19 54.36 L627.28 53.71 L626.82 53.24 L627.47 53.13 Z" fill="#222"/>
<path d="M629.92 52.55 L630.23 53.13 L630.88 53.24 L630.42 53.71 L630.51 54.36 L629.92 54.07 L629.34 54.36 L629.43 53.71 L628.97 53.24 L629.62 53.13 Z" fill="#222"/>
<path d="M632.07 52.55 L632.38 53.13 L633.03 53.24 L632.57 53.71 L632.66 54.36 L632.07 54.07 L631.49 54.36 L631.58 53.71 L631.12 53.24 L631.77 53.13 Z" fill="#222"/>
<path d="M634.23 52.55 L634.53 53.13 L635.18 53.24 L634.72 53.71 L634.81 54.36 L634.23 54.07 L633.64 54.36 L633.73 53.71 L633.27 53.24 L633.92 53.13 Z" fill="#222"/>
<path d="M598.05 67.44 L598.65 68.57 L599.90 68.79 L599.01 69.71 L599.20 70.97 L598.05 70.41 L596.90 70.97 L597.09 69.71 L596.20 68.79 L597.45 68.57 Z" fill="#111"/>
<path d="M601.55 67.44 L602.15 68.57 L603.40 68.79 L602.51 69.71 L602.70 70.97 L601.55 70.41 L600.40 70.97 L600.59 69.71 L599.70 68.79 L600.95 68.57 Z" fill="#111"/>
<path d="M615.40 67.44 L616.00 68.57 L617.25 68.79 L616.36 69.71 L616.55 70.97 L615.40 70.41 L614.25 70.97 L614.44 69.71 L613.55 68.79 L614.80 68.57 Z" fill="#111"/>
<path d="M631.00 67.44 L631.60 68.57 L632.85 68.79 L631.96 69.71 L632.15 70.97 L631.00 70.41 L629.85 70.97 L630.04 69.71 L629.15 68.79 L630.40 68.57 Z" fill="#111"/>
<path d="M563.35 83.04 L563.95 84.17 L565.20 84.39 L564.31 85.31 L564.50 86.57 L563.35 86.01 L562.20 86.57 L562.39 85.31 L561.50 84.39 L562.75 84.17 Z" fill="#111"/>
<path d="M566.85 83.04 L567.45 84.17 L568.70 84.39 L567.81 85.31 L568.00 86.57 L566.85 86.01 L565.70 86.57 L565.89 85.31 L565.00 84.39 L566.25 84.17 Z" fill="#111"/>
<path d="M570.35 83.04 L570.95 84.17 L572.20 84.39 L571.31 85.31 L571.50 86.57 L570.35 86.01 L569.20 86.57 L569.39 85.31 L568.50 84.39 L569.75 84.17 Z" fill="#111"/>
<path d="M573.85 83.04 L574.45 84.17 L575.70 84.39 L574.81 85.31 L575.00 86.57 L573.85 86.01 L572.70 86.57 L572.89 85.31 L572.00 84.39 L573.25 84.17 Z" fill="#111"/>
<path d="M615.40 83.04 L616.00 84.17 L617.25 84.39 L616.36 85.31 L616.55 86.57 L615.40 86.01 L614.25 86.57 L614.44 85.31 L613.55 84.39 L614.80 84.17 Z" fill="#111"/>
<path d="M551.25 98.64 L551.85 99.77 L553.10 99.99 L552.21 100.91 L552.40 102.17 L551.25 101.61 L550.10 102.17 L550.29 100.91 L549.40 99.99 L550.65 99.77 Z" fill="#111"/>
<path d="M554.75 98.64 L555.35 99.77 L556.60 99.99 L555.71 100.91 L555.90 102.17 L554.75 101.61 L553.60 102.17 L553.79 100.91 L552.90 99.99 L554.15 99.77 Z" fill="#111"/>
<path d="M568.60 98.64 L569.20 99.77 L570.45 99.99 L569.56 100.91 L569.75 102.17 L568.60 101.61 L567.45 102.17 L567.64 100.91 L566.75 99.99 L568.00 99.77 Z" fill="#111"/>
<path d="M532.15 114.24 L532.75 115.37 L534.00 115.59 L533.11 116.51 L533.30 117.77 L532.15 117.21 L531.00 117.77 L531.19 116.51 L530.30 115.59 L531.55 115.37 Z" fill="#111"/>
<path d="M535.65 114.24 L536.25 115.37 L537.50 115.59 L536.61 116.51 L536.80 117.77 L535.65 117.21 L534.50 117.77 L534.69 116.51 L533.80 115.59 L535.05 115.37 Z" fill="#111"/>
<path d="M539.15 114.24 L539.75 115.37 L541.00 115.59 L540.11 116.51 L540.30 117.77 L539.15 117.21 L538.00 117.77 L538.19 116.51 L537.30 115.59 L538.55 115.37 Z" fill="#111"/>
<path d="M542.65 114.24 L543.25 115.37 L544.50 115.59 L543.61 116.51 L543.80 117.77 L542.65 117.21 L541.50 117.77 L541.69 116.51 L540.80 115.59 L542.05 115.37 Z" fill="#111"/>
<path d="M598.05 114.24 L598.65 115.37 L599.90 115.59 L599.01 116.51 L599.20 117.77 L598.05 117.21 L596.90 117.77 L597.09 116.51 L596.20 115.59 L597.45 115.37 Z" fill="#111"/>
<path d="M601.55 114.24 L602.15 115.37 L603.40 115.59 L602.51 116.51 L602.70 117.77 L601.55 117.21 L600.40 117.77 L600.59 116.51 L599.70 115.59 L600.95 115.37 Z" fill="#111"/>
<path d="M613.65 114.24 L614.25 115.37 L615.50 115.59 L614.61 116.51 L614.80 117.77 L613.65 117.21 L612.50 117.77 L612.69 116.51 L611.80 115.59 L613.05 115.37 Z" fill="#111"/>
<path d="M617.15 114.24 L617.75 115.37 L619.00 115.59 L618.11 116.51 L618.30 117.77 L617.15 117.21 L616.00 117.77 L616.19 116.51 L615.30 115.59 L616.55 115.37 Z" fill="#111"/>
<path d="M627.50 114.24 L628.10 115.37 L629.35 115.59 L628.46 116.51 L628.65 117.77 L627.50 117.21 L626.35 117.77 L626.54 116.51 L625.65 115.59 L626.90 115.37 Z" fill="#111"/>
<path d="M631.00 114.24 L631.60 115.37 L632.85 115.59 L631.96 116.51 L632.15 117.77 L631.00 117.21 L629.85 117.77 L630.04 116.51 L629.15 115.59 L630.40 115.37 Z" fill="#111"/>
<path d="M634.50 114.24 L635.10 115.37 L636.35 115.59 L635.46 116.51 L635.65 117.77 L634.50 117.21 L633.35 117.77 L633.54 116.51 L632.65 115.59 L633.90 115.37 Z" fill="#111"/>
<line x1="620" y1="22.1" x2="621.7" y2="22.1" stroke="#444" stroke-width="0.6"/>
<text transform="translate(619.1 24.7) scale(0.890 1)" font-size="7.3" text-anchor="end" fill="#111">Syndencan-1 (pg/mL)</text>
<line x1="604.4" y1="37.7" x2="606.1" y2="37.7" stroke="#444" stroke-width="0.6"/>
<text transform="translate(603.5 40.3) scale(0.890 1)" font-size="7.3" text-anchor="end" fill="#111">Angiopoietin-2 (pg/mL)</text>
<line x1="588.8" y1="53.3" x2="590.5" y2="53.3" stroke="#444" stroke-width="0.6"/>
<text transform="translate(587.9 55.9) scale(0.890 1)" font-size="7.3" text-anchor="end" fill="#111">Plasma leak grade</text>
<line x1="573.2" y1="68.9" x2="574.9" y2="68.9" stroke="#444" stroke-width="0.6"/>
<text transform="translate(572.3 71.5) scale(0.890 1)" font-size="7.3" text-anchor="end" fill="#111">Ki-67<tspan baseline-shift="super" font-size="4.6">+</tspan>GzmB<tspan baseline-shift="super" font-size="4.6">+</tspan> (%)</text>
<line x1="557.6" y1="84.5" x2="559.3" y2="84.5" stroke="#444" stroke-width="0.6"/>
<text transform="translate(556.7 87.1) scale(0.890 1)" font-size="7.3" text-anchor="end" fill="#111">Ki-67<tspan baseline-shift="super" font-size="4.6">+</tspan>CLA<tspan baseline-shift="super" font-size="4.6">+</tspan> (%)</text>
<line x1="542" y1="100.1" x2="543.7" y2="100.1" stroke="#444" stroke-width="0.6"/>
<text transform="translate(541.1 102.7) scale(0.890 1)" font-size="7.3" text-anchor="end" fill="#111">CD38<tspan baseline-shift="super" font-size="4.6">+</tspan>HLA-DR<tspan baseline-shift="super" font-size="4.6">+</tspan> (%)</text>
<line x1="526.4" y1="115.7" x2="528.1" y2="115.7" stroke="#444" stroke-width="0.6"/>
<text transform="translate(525.5 118.3) scale(0.890 1)" font-size="7.3" text-anchor="end" fill="#111">PD-1<tspan baseline-shift="super" font-size="4.6">+</tspan> (MFI)</text>
<line x1="537.4" y1="125" x2="537.4" y2="126.7" stroke="#444" stroke-width="0.6"/>
<text transform="translate(539.4 128.9) rotate(-45) scale(0.860 1)" font-size="7.3" text-anchor="end" fill="#111">CD38<tspan baseline-shift="super" font-size="4.6">+</tspan>HLA-DR<tspan baseline-shift="super" font-size="4.6">+</tspan> (%)</text>
<line x1="553" y1="125" x2="553" y2="126.7" stroke="#444" stroke-width="0.6"/>
<text transform="translate(555 128.9) rotate(-45) scale(0.860 1)" font-size="7.3" text-anchor="end" fill="#111">Ki-67<tspan baseline-shift="super" font-size="4.6">+</tspan>CLA<tspan baseline-shift="super" font-size="4.6">+</tspan> (%)</text>
<line x1="568.6" y1="125" x2="568.6" y2="126.7" stroke="#444" stroke-width="0.6"/>
<text transform="translate(570.6 128.9) rotate(-45) scale(0.860 1)" font-size="7.3" text-anchor="end" fill="#111">Ki-67<tspan baseline-shift="super" font-size="4.6">+</tspan>GzmB<tspan baseline-shift="super" font-size="4.6">+</tspan> (%)</text>
<line x1="584.2" y1="125" x2="584.2" y2="126.7" stroke="#444" stroke-width="0.6"/>
<text transform="translate(586.2 128.9) rotate(-45) scale(0.860 1)" font-size="7.3" text-anchor="end" fill="#111">Plasma leak grade</text>
<line x1="599.8" y1="125" x2="599.8" y2="126.7" stroke="#444" stroke-width="0.6"/>
<text transform="translate(601.8 128.9) rotate(-45) scale(0.860 1)" font-size="7.3" text-anchor="end" fill="#111">Angiopoietin-2 (pg/mL)</text>
<line x1="615.4" y1="125" x2="615.4" y2="126.7" stroke="#444" stroke-width="0.6"/>
<text transform="translate(617.4 128.9) rotate(-45) scale(0.860 1)" font-size="7.3" text-anchor="end" fill="#111">Syndencan-1 (pg/mL)</text>
<line x1="631" y1="125" x2="631" y2="126.7" stroke="#444" stroke-width="0.6"/>
<text transform="translate(633 128.9) rotate(-45) scale(0.860 1)" font-size="7.3" text-anchor="end" fill="#111">VCAM-1 (pg/mL)</text>
<text transform="translate(666.2 30.3) scale(0.920 1)" font-size="6.2" text-anchor="middle" font-weight="bold" fill="#111">sample sizes:</text>
<text x="665.5" y="36.3" font-size="4.3" text-anchor="middle" fill="#333">n<tspan font-size="2.8" baseline-shift="sub">pair</tspan> = 94</text>
<text x="665.5" y="41.4" font-size="4.3" text-anchor="middle" fill="#333">n<tspan font-size="2.8" baseline-shift="sub">mode</tspan> = 101</text>
<text x="665.5" y="46.6" font-size="4.3" text-anchor="middle" fill="#333">n<tspan font-size="2.8" baseline-shift="sub">max</tspan> = 101</text>
<text transform="translate(666 55.3) scale(0.930 1)" font-size="6.2" text-anchor="middle" font-weight="bold" fill="#111">correlation:</text>
<text x="666" y="62.2" font-size="6.2" text-anchor="middle" fill="#333">Spearman</text>
<defs><linearGradient id="gcb" x1="0" y1="0" x2="0" y2="1"><stop offset="0" stop-color="#1f2f9e"/><stop offset="0.25" stop-color="#8a8acb"/><stop offset="0.5" stop-color="#ffffff"/><stop offset="0.75" stop-color="#f08a78"/><stop offset="1" stop-color="#c8201c"/></linearGradient></defs>
<rect x="648" y="69" width="9.5" height="44.6" fill="url(#gcb)" stroke="none" stroke-width="1"/>
<line x1="648" y1="69.5" x2="649.5" y2="69.5" stroke="#fff" stroke-width="0.5"/>
<line x1="656" y1="69.5" x2="657.5" y2="69.5" stroke="#fff" stroke-width="0.5"/>
<text x="661" y="70.9" font-size="4" fill="#444">1.0</text>
<line x1="648" y1="80.5" x2="649.5" y2="80.5" stroke="#fff" stroke-width="0.5"/>
<line x1="656" y1="80.5" x2="657.5" y2="80.5" stroke="#fff" stroke-width="0.5"/>
<text x="661" y="82" font-size="4" fill="#444">0.5</text>
<line x1="648" y1="91.6" x2="649.5" y2="91.6" stroke="#fff" stroke-width="0.5"/>
<line x1="656" y1="91.6" x2="657.5" y2="91.6" stroke="#fff" stroke-width="0.5"/>
<text x="661" y="93" font-size="4" fill="#444">0.0</text>
<line x1="648" y1="102.7" x2="649.5" y2="102.7" stroke="#fff" stroke-width="0.5"/>
<line x1="656" y1="102.7" x2="657.5" y2="102.7" stroke="#fff" stroke-width="0.5"/>
<text x="660" y="104.1" font-size="4" fill="#444">-0.5</text>
<line x1="648" y1="113.7" x2="649.5" y2="113.7" stroke="#fff" stroke-width="0.5"/>
<line x1="656" y1="113.7" x2="657.5" y2="113.7" stroke="#fff" stroke-width="0.5"/>
<text x="660" y="115.1" font-size="4" fill="#444">-1.0</text>
<defs><filter id="bl1" x="-20%" y="-20%" width="140%" height="140%"><feGaussianBlur stdDeviation="0.6"/></filter><filter id="rough" x="-30%" y="-30%" width="160%" height="160%"><feTurbulence type="fractalNoise" baseFrequency="0.7" numOctaves="2" seed="4" result="t"/><feDisplacementMap in="SourceGraphic" in2="t" scale="3.5" xChannelSelector="R" yChannelSelector="G" result="d"/><feGaussianBlur in="d" stdDeviation="0.35"/></filter><filter id="bl2" x="-20%" y="-20%" width="140%" height="140%"><feGaussianBlur stdDeviation="1.0"/></filter><filter id="bl05" x="-10%" y="-10%" width="120%" height="120%"><feGaussianBlur stdDeviation="0.4"/></filter><filter id="bl15" x="-50%" y="-50%" width="200%" height="200%"><feGaussianBlur stdDeviation="1.4"/></filter><linearGradient id="gpd1" x1="0" y1="0" x2="1" y2="0"><stop offset="0.08" stop-color="#e8f000"/><stop offset="0.2" stop-color="#a0f000"/><stop offset="0.45" stop-color="#40e000"/><stop offset="0.75" stop-color="#20c040"/><stop offset="0.95" stop-color="#1090a0"/></linearGradient><radialGradient id="gpdb" cx="0.72" cy="0.1" r="0.25"><stop offset="0" stop-color="#1020e0"/><stop offset="0.6" stop-color="#1040d0" stop-opacity="0.9"/><stop offset="1" stop-color="#20a080" stop-opacity="0"/></radialGradient><linearGradient id="gcd38" x1="0" y1="0" x2="1" y2="0"><stop offset="0.1" stop-color="#40d820"/><stop offset="0.45" stop-color="#70e810"/><stop offset="0.7" stop-color="#a8f000"/><stop offset="1" stop-color="#b8f000"/></linearGradient><linearGradient id="gcd69" x1="0" y1="0" x2="0" y2="1"><stop offset="0" stop-color="#3ccc3c"/><stop offset="1" stop-color="#34c834"/></linearGradient><linearGradient id="ggzmb" x1="0" y1="0" x2="0" y2="1"><stop offset="0" stop-color="#3ec83e"/><stop offset="1" stop-color="#36c636"/></linearGradient><linearGradient id="gexp" x1="0" y1="0" x2="0" y2="1"><stop offset="0" stop-color="#ff2000"/><stop offset="0.25" stop-color="#ffa000"/><stop offset="0.45" stop-color="#ffff00"/><stop offset="0.7" stop-color="#40d040"/><stop offset="1" stop-color="#0000ff"/></linearGradient></defs>
<text transform="translate(0.9 200.8) scale(0.950 1)" font-size="13.8" font-weight="bold" fill="#000">h</text>
<text transform="translate(77.8 195.7) scale(0.970 1)" font-size="10" text-anchor="middle" font-weight="bold" fill="#000">non-SD</text>
<text transform="translate(162.2 195.7) scale(0.950 1)" font-size="10" text-anchor="middle" font-weight="bold" fill="#000">SD</text>
<text x="1.2" y="241" font-size="11" font-weight="bold" fill="#000">TP1</text>
<text x="1.2" y="328.4" font-size="11" font-weight="bold" fill="#000">TP2</text>
<rect x="37.1" y="199" width="78.5" height="78" fill="#fff" stroke="#bdbdbd" stroke-width="0.8"/>
<path d="M72 232 L76 227.5 L86 226.3 L97.7 226.4 L104 229.5 L108 237 L108.3 247 L106 257 L100 264 L92 267.5 L82 267.4 L74 264.5 L68.5 260 L70 248 Z" fill="#dedede" filter="url(#bl2)"/>
<path d="M90.8 255.2h0M105.1 256.1h0M97.2 252.3h0M82.6 233h0M108 238.9h0M75.5 240.9h0M72.7 232.6h0M87.3 267.1h0M100.1 245.9h0M96.8 265.2h0M100.8 261h0M101.5 258.7h0M93.4 262.8h0M104.6 242.1h0M86.7 250.4h0M97.3 228.5h0M84.4 254h0M78 253.1h0M87.3 232.1h0M84.1 258.8h0M95.2 264.6h0M105.1 237.1h0M88.9 230.7h0M90.6 260.1h0M93.2 250.8h0M90.2 238.3h0M69.5 260.5h0M86.7 231.3h0M107.4 248.8h0M72.2 256.4h0M102.3 230.5h0M92.6 266.6h0M89.2 245.1h0M92.8 253h0M97.7 259.1h0M95.6 261.3h0M103.4 233.7h0M72.3 244.5h0M94.5 264.7h0M98.5 237.6h0M81.6 258h0M103.9 259h0M93.5 241.4h0M89.6 253.1h0M105.8 243.1h0M78.9 255.8h0M75.5 244.3h0M96 257h0M96 234.9h0M106.9 252.8h0M94.6 250.9h0M95.9 244.6h0M101.5 235.6h0M100.5 253.9h0M104.5 232.8h0M74.2 230.3h0M83.7 253.2h0M102.4 231.7h0M99.9 236.7h0M100.2 238.1h0M98.9 235.5h0M94 245.7h0M70.5 253.6h0M73.1 245.3h0M82.9 245.6h0M98.1 249.5h0M97.6 229.4h0M81.1 234.8h0M82.9 231.2h0M87.2 256.8h0M77.8 246.9h0M94.4 232.3h0M102.6 241.5h0M75.7 235.6h0M74.1 234.2h0M91.7 265h0M95.5 226.8h0M106.2 246.6h0M93.2 235.2h0M86.7 235.6h0M95.1 227.2h0M92.7 236.9h0M78.1 231.3h0M77.8 233.2h0M86.5 243.1h0M94.8 261.7h0M80 238.2h0M103.1 243.6h0M102.3 259.6h0M94.7 250.5h0M76.2 229.4h0M91.2 233.8h0M98 252h0M87.4 254.2h0M94.3 233.7h0M99.8 235.9h0M106.6 234.8h0M91.7 265.1h0M95.4 232.9h0M101.8 252.8h0M78.7 260.1h0M77.7 237.2h0M75 230.1h0M96.2 237.1h0M97.5 240.4h0M96.1 242.2h0M77.6 259.1h0M96.7 259.4h0M77.7 230.1h0M91.7 230.7h0M97.3 235.4h0M94 254.8h0M104.4 234.7h0M77.5 258.1h0M100.1 239.1h0M97.2 228.6h0M88.9 232.5h0M103.4 245.3h0M82.9 255.8h0M95.1 235.4h0M87.5 255.6h0M83.3 244.7h0M105.7 251.8h0M104.7 231.6h0M98.4 258.1h0M75 248.2h0M75.2 233.5h0M73.2 237h0M87.3 265.7h0M80 245.5h0M97.7 231.6h0M100.9 240.3h0M78.7 245.6h0M76 243.5h0M98.9 251.3h0M106.4 239.8h0M101.1 237.3h0M72.9 235.7h0M84.8 252.5h0M98.6 236.4h0M97.5 257.4h0M101.9 231.8h0M102.1 261.2h0M98.1 254.2h0M90.3 245.1h0M99.7 258.5h0M86.9 242.9h0M106.5 239.1h0M104.1 245.7h0M97.7 239.1h0M91.3 230.7h0M101.5 247.7h0M85.1 262.6h0M92 244.1h0M85.6 230.1h0M101.2 258.8h0M77.3 257h0M77.2 262.7h0M85.8 242h0M105.5 234.6h0M90.3 246.9h0M100.1 233.9h0M90.4 257.6h0M106.5 247.3h0M90.8 232.2h0M100.5 243.8h0M97 257.1h0M91.8 256h0M96.8 255.6h0M86.8 252.6h0M87.6 244.4h0M87.9 265.2h0M75.2 229.3h0M107 242.9h0M85.4 240.8h0M84.1 232.6h0M91.3 226.6h0M97.5 240.9h0M105.1 242.8h0M80.4 249.1h0M74.3 241.4h0M100 250.6h0M82 265.2h0M104.1 240.7h0M105.5 252.6h0M81.7 242.2h0M99.8 237h0M83.9 241.2h0M89.9 237.7h0M101.2 232.9h0M97.7 256h0M106.2 249h0M85.8 234.2h0M103.2 257.3h0M92.7 254h0M74.6 240.8h0M70.8 248.1h0M100 250h0M103.6 251.1h0M84.3 265.2h0M104.9 249.4h0M75.5 242.1h0M68.7 259.3h0M89 226.5h0M85 253.9h0M97.5 243.1h0M93 239.3h0M79.2 263.5h0M99.9 260.1h0M95.9 239.4h0M102.6 246.4h0M105.5 257.5h0M98.8 249.9h0M91.8 243.9h0M79.5 231h0M94.5 237.7h0M91.3 259.6h0M86.7 261.9h0M106.3 245.8h0M98.3 232.3h0M87.5 229.9h0M87 245.6h0M97.5 240.4h0M75.9 231.9h0M81.9 233h0M104.8 235.4h0M92.9 266.3h0M93.6 248.3h0M86.2 230.4h0M100.6 254.4h0M77.7 245.4h0M83.1 249.1h0M92 233h0M83.1 265.8h0M74.1 250.3h0M73.4 238h0M90.9 265.4h0M82.9 265.4h0M90.1 261.8h0M107.1 236.4h0M90.5 234.8h0M73.2 260.8h0M95.7 264.5h0M107.1 239.2h0M104.4 250.6h0M105.6 237.3h0M89 239.6h0M74.4 241.3h0M94.5 232.9h0M90.4 241.1h0M74.4 250.5h0M90.8 243.3h0M85.3 236.1h0M95.2 260.7h0M88.5 264.4h0M81.7 230h0M85.4 239h0M105.8 236.4h0M80.7 239.7h0M102.2 253h0M93.4 228.7h0M81.8 230.5h0M95.1 244.2h0M81.8 237.3h0M77.4 242.8h0M90.1 267.1h0M100.7 238.3h0M100.9 245.8h0M87.8 231.5h0M96.3 250.1h0M70.3 255.8h0M91.7 256.1h0M96.2 241.4h0M97.4 261.9h0M74.7 262.2h0M73.1 242h0M82.6 262.3h0M81.2 263.7h0M102.9 250.5h0M94.1 265.4h0M81.9 241.7h0M88.5 247.1h0M94.9 233.9h0M79.5 258h0M99.6 247.6h0M105.3 247.3h0M80.1 242.9h0M101.1 246.2h0M80.7 241.1h0M97.7 234.8h0M99.7 253.3h0M93.8 254.9h0M106.8 247.9h0M100.2 256.7h0M83.2 237.4h0M96.8 263.2h0M103 244.4h0M74.8 237.9h0M102.4 240h0M104 243.9h0M104.4 244.4h0M80.2 234.5h0M104.7 235.9h0M81.4 252.8h0M104.4 231.1h0M100.2 259.7h0M99.4 246h0M77.6 252h0M102 248.9h0M100.3 230.6h0M98.5 244.4h0M88.7 238.2h0M88.8 246.6h0M102.8 234.9h0M82.7 240.1h0M106.5 241.5h0M94.6 248.2h0M84.5 233h0M95 244.7h0M101.6 241.7h0M95.4 246.8h0M76.4 233.4h0M96.1 237h0M88.8 239.2h0M73.8 246.2h0M73.9 239h0M90.2 251.7h0M91.2 235.5h0M101.5 249.6h0M83 244.8h0M92.9 227.7h0M103.9 244.4h0M95.9 248.2h0M80.1 237.8h0M107.9 244.4h0M79.7 264.5h0M105.3 249h0M102.8 232.2h0M87 258.7h0M79.7 257h0M77.4 235.3h0M83.2 247.3h0M69.6 257.3h0M103.4 241h0M82.3 256.5h0M105.1 245.7h0M99.8 234.5h0M85.9 226.4h0M78.6 260.5h0M99.4 238.3h0M99.8 254.2h0M85.9 254h0M103 242.3h0M87.4 248.5h0M99 249.8h0M97.4 235.7h0M94.3 241.6h0M71.1 252.8h0M74.6 249h0M72.5 260.9h0M86.9 241.6h0M97.3 231h0M72.8 255h0M105.6 242.5h0M88.9 244.5h0M99.1 260.5h0M75.6 243h0M84.7 253.5h0M83.2 262.6h0M93.7 261h0M73.7 238.7h0M97.5 234.7h0M86.1 239.7h0M81.9 231.6h0M97.6 229.1h0M85 231.3h0M85.8 235.7h0M81.3 252.9h0M104.9 238.8h0M96.8 228.9h0M72.8 238.7h0M78.5 236.2h0M106.1 243.1h0M96.1 250.5h0M85.9 237.9h0M80.4 237.6h0M88.6 255.9h0M78.7 259.9h0M94.3 259.7h0M94.8 230.6h0M96.2 256.8h0M84.5 249.8h0M108 245.5h0M78.1 256.9h0M103.5 237.3h0M87.4 239.2h0M100.3 261h0M91.1 235h0M72.6 232.7h0M102.3 238.8h0M84.2 226.8h0M83.6 226.8h0M106.7 235.7h0M96.7 250.3h0M78.3 238.1h0M83.3 267.1h0M96.8 259.7h0M90 237.3h0M76.1 255.5h0M99.5 252.2h0M91.1 239.7h0M96.6 264.7h0M94.9 264.9h0M86.2 245.3h0M81.1 230.8h0M100.7 236.5h0M104 231.6h0M88.1 240.1h0M108.2 244.7h0M93.6 233.4h0M84.9 265.6h0M102.3 258.4h0M84.2 252.9h0M81.4 251.3h0M85.3 260.8h0M83.8 237.1h0M97.6 259.3h0M73.1 251h0M95 237.7h0M80.3 257.7h0M81.7 248.7h0M91.1 263.9h0M86.8 249.1h0M107.1 252h0M93.7 248.3h0M100 227.6h0M100.4 236.1h0M92.6 239.7h0M106.4 236.5h0M83.9 240.6h0M75.5 249.3h0M79.3 246.6h0M80.6 255.2h0M74.2 260.1h0M77.1 265h0M103 260.3h0M99 258.2h0M81.5 260.7h0M81 254.5h0M102.3 249.7h0M78.1 255h0M73.3 258.4h0M99.2 245.5h0M98.5 230.1h0M71.8 236.5h0M103.3 243.2h0M78.1 258.8h0M99.7 248.2h0M81.4 237.9h0M93.9 246.1h0M86.4 249.7h0M85.7 267.1h0M83.7 260.9h0M83.5 231.4h0M98 264.3h0M86.3 245.6h0M105.2 252.7h0M102.2 260.1h0M101.5 235.1h0M83.4 243.4h0M86.3 266.8h0M105.9 250.6h0M88.1 244.7h0M74.8 240.5h0M103.9 236h0M86.1 248.4h0M95.1 254.7h0M80.5 229.1h0M87.9 227.7h0M93.4 237.8h0" stroke="#808080" stroke-width="0.6" stroke-linecap="round" stroke-opacity="0.5"/>
<path d="M77.8 234h0M75.7 259.9h0M86.5 255.8h0M82.3 259.5h0M92.2 253.2h0M84.1 249.4h0M95.3 248.2h0M93.9 230.4h0M81.8 235.8h0M86.2 262.1h0M99.6 255.9h0M80.5 235.9h0M96.5 238.6h0M97.3 240.7h0M98.8 249.9h0M83.6 266.9h0M84 258h0M81 234.9h0M99.7 249h0M98.6 246.5h0M70 258.1h0M77.2 245.7h0M95 257.8h0M93.8 244.6h0M97.7 253.9h0M76.7 248.3h0M92.3 256.3h0M76.4 239.1h0M82.2 230.3h0M82.4 256.4h0M91.5 233.4h0M97.6 231.1h0M98.4 232.4h0M72.3 236.7h0M89 237.4h0M79.8 257.2h0M96.2 249.4h0M78.6 265.4h0M81.6 239.5h0M76.4 244h0M101.8 239h0M79.3 235h0M73.1 241.4h0M73.3 233.7h0M78.5 250.1h0M86.3 238.9h0M89.4 258.2h0M97.3 240.5h0M90.9 245.9h0M81.6 231.8h0M103.7 251.4h0M96.4 236.1h0M89.8 260.7h0M82.5 246.8h0M95 234.2h0M93.4 243.8h0M96.8 228h0M79.4 231.2h0M74.4 248.1h0M75.4 259h0M72.3 252h0M102.8 231.5h0M77.2 257.8h0M87.2 264.7h0M81.9 242.7h0M106.6 240.5h0M76.5 248.8h0M102.3 258.2h0M98.3 251.1h0M72.6 258.6h0M97.3 239.4h0M95.7 243.2h0M98.4 228.1h0M105.7 242.1h0M100.5 245.7h0M100.8 238.7h0M90.2 227.3h0M88 229.6h0M102.7 254.2h0M85.4 266.4h0M71.8 255.3h0M97.5 251.3h0M86 250.8h0M100.9 237.6h0M79.3 228h0M97.9 234.9h0M74.3 263.3h0M95 250.3h0M73.7 243.3h0M85.2 228.6h0M97.6 228h0M96.2 246.6h0M88.1 232.3h0M88.9 259.3h0M73.7 262.4h0M85.2 237.3h0M78 245.2h0M94.3 249.8h0M103.9 247.4h0M88.9 267h0M81.6 239.2h0M73.4 243.5h0M87.8 262.5h0M96.3 256.4h0M98.7 238.7h0M97.5 234.8h0M90.6 250.8h0M99.4 233.2h0M82.2 260.3h0M73.2 235h0M72.7 256.1h0M98.2 253h0M99.5 247.6h0M90.9 264.2h0M94.3 253.3h0M91.9 246.6h0M98.6 249.9h0M73.6 243.8h0M85.3 244.1h0M90.8 241.2h0M84.1 243.9h0M83.3 266.3h0M97.2 242.6h0M86.4 250.7h0M83.1 236.2h0M105.9 238.1h0M87 239.6h0M101.8 236.2h0M78.6 255.1h0M100.2 245.6h0M83.9 235.9h0M100.3 261.9h0M102.6 231h0M92.1 266.9h0M97 245.2h0M97.6 229.1h0M100.7 253.7h0M87.3 263h0M105.6 251.7h0M72.5 250.5h0M85.3 236.6h0M105.5 256.4h0M73.3 235.7h0M82.1 249.9h0M81.4 244.4h0M100.9 233.8h0M97.2 239.9h0M81.5 251.3h0M72.9 243.2h0M93.3 252.6h0M82.1 227.7h0M73.4 249.4h0M75.3 238.9h0M93.1 263.4h0M89 236.8h0M91.8 237.7h0M99.6 232.7h0M78.9 244.4h0M104.6 233.1h0M76.2 231.7h0M77 240h0M84.2 257.6h0M84.6 245.9h0M84.3 258.2h0M104.4 243.8h0M105.2 236.6h0M107.4 247.9h0M95.6 242h0M79.3 231.9h0M103.7 241.1h0M96.3 245.3h0M89.5 234.8h0M75.5 240.2h0M95.6 248.7h0M85.7 229.1h0M78.8 235h0M101.2 249h0M81.5 236.5h0M80.1 237.8h0M82.3 258.9h0M99.9 255.1h0M103.7 253.2h0M75 236.9h0M89.5 260.2h0M91.8 244h0M98.5 240.4h0M78.7 261.2h0M73.2 253.2h0M82.7 262.9h0M80.3 230.5h0M76.4 259.5h0M95.6 237.9h0M79.3 229.9h0M92.9 240.7h0M75.9 244.3h0M105.5 236.5h0M75.1 252.2h0M94.7 247.3h0M75.6 262.3h0M72.9 233.5h0M78.1 247.5h0M87.5 249.1h0M97.4 263.1h0M87.1 228h0M81.2 232.2h0M92.5 258.5h0M73.6 238.4h0M102.4 254.7h0M72.8 254.6h0M100.1 243.1h0M74.7 253.5h0M81.2 231.8h0M75.1 242.9h0M73.6 242.2h0M90.4 249h0M84.6 259.3h0M72 239.9h0M105.1 257.8h0M89.8 258.7h0M91.3 231.1h0M78.7 230.3h0M103.3 239.6h0M84.7 248.5h0M72.5 255.4h0M100.2 259.1h0M103.6 239.4h0M74.3 257.7h0M96.1 241.6h0M82.2 232.6h0M101.6 245.3h0M100.8 240.3h0M81.3 247.4h0M98.2 262.7h0M82.6 254.9h0M84.6 261.8h0M98.8 249.2h0M82.9 237.6h0M103.7 259.3h0M80.6 229.8h0M70.1 259.7h0M89.6 249.1h0M90 243.2h0M90.7 230h0M74 254h0M94 259.5h0M96.1 264.6h0M77.9 258.4h0M74.6 248.2h0M99.2 232.7h0M89.5 263.4h0M98.2 242.7h0M87.6 237.7h0M95.6 238.8h0M97.6 246.4h0M100.3 241.3h0M103.6 254.5h0M86.4 249.5h0M100.5 248.1h0M104.2 255.7h0M88 261.3h0M74.4 240.2h0M96.9 260.2h0M83.3 267.3h0M94.3 228.2h0M91.2 239.6h0M78.9 244.7h0M101.9 249.3h0M86.2 239h0M92.5 240.6h0M97.4 260.3h0M82.3 231.5h0M85.3 266.9h0M77.3 235.4h0M70.7 248.1h0M80.5 254.1h0M90.8 250.9h0M80.4 256.6h0M95.9 255.7h0M87.3 245.4h0M79.9 228h0M87 251.7h0M75.9 261.7h0M101 246.4h0M75.5 237.5h0M82.6 240.7h0M92.3 230.9h0M102.1 240.2h0M104.7 239.9h0M80.7 233.5h0M106.9 250.6h0M101.4 228.9h0M90.1 256.5h0M72.6 241.7h0M106.6 236.7h0M79 249.4h0M82.9 250.1h0M103.4 236.9h0M85.1 265.2h0M78.6 241.4h0M91.7 236h0M96.7 253.2h0M71.3 255h0M82.4 232.2h0M100.3 245.2h0M105.4 248.2h0M79.4 247.7h0M95.2 261h0M84.8 249.3h0M102.3 234.5h0M89.9 250h0M74.3 264.3h0M86 233.9h0M84.9 250.7h0M85.6 226.4h0M72.2 255.7h0M73.7 236.8h0M100.6 261.8h0M103.6 233.5h0M92.3 241.3h0M77.9 250.5h0" stroke="#f6f6f6" stroke-width="0.7" stroke-linecap="round" stroke-opacity="0.75"/>
<path d="M58 228 L66 227 L74 227.5 L77.3 232 L77.5 245 L76 253 L72 257 L64 258 L57 254 L54 242 Z" fill="#e41a1a" fill-opacity="0.95" filter="url(#rough)"/>
<path d="M78.5 232.6h0M54.5 249.1h0M55.4 233.1h0M64.1 259h0M61.1 236.2h0M65.1 231h0M63.2 249.3h0M61.1 252.6h0M57.4 229h0M69.1 240.9h0M76.8 229.1h0M72.3 248.3h0M62.3 229.9h0M68.7 251.3h0M65 241.6h0M70.7 246.2h0M63.7 231.8h0M64.8 244.2h0M76.3 259.3h0M67.3 236.7h0M58.4 246.9h0M72.1 233.9h0M70.8 259.5h0M62.9 257.4h0M64.1 247.7h0M75.5 232.4h0M61.7 259h0M54.2 235.9h0M65.1 250.8h0M69.2 257.1h0M70.2 225.6h0M54.4 226.7h0M63.9 226.4h0M66.4 247h0M57.9 254.6h0M63.5 258.1h0M62 246.6h0M66.9 234.4h0M73.2 225.6h0M59.1 236.4h0" stroke="#e41a1a" stroke-width="0.9" stroke-linecap="round" stroke-opacity="0.7"/>
<path d="M43.5 237 L50 236 L52 242 L46 245 L43.5 243 Z" fill="#e63030" fill-opacity="0.85" filter="url(#rough)"/>
<path d="M47 222 L52 219.5 L60 220 L67 224 L67.4 229 L62 231.5 L53 231.5 L48 228 Z" fill="#3cbf3c" fill-opacity="0.85" filter="url(#rough)"/>
<path d="M66.1 225.5h0M46.4 222.5h0M59.8 230.1h0M48.1 229.7h0M54.6 225.9h0M55.4 224.6h0M68.7 231.8h0M67 229h0M61.9 220.1h0M46.3 230.5h0M61.2 227.5h0M52.8 222h0M67 226h0M46 223.1h0M53.7 219h0M68.4 231.5h0M64.6 218.1h0M55.3 219.7h0M62.5 230.1h0M64 229.9h0M48.3 218.2h0M47.7 230.6h0M64.9 225.7h0M51 230.9h0M48.3 222.9h0M45.5 232.7h0M55.2 229.6h0M64.3 226.7h0M68.6 229.6h0M67.2 232.5h0" stroke="#3cbf3c" stroke-width="0.9" stroke-linecap="round" stroke-opacity="0.7"/>
<path d="M45 227 L50 226.5 L51 233 L45.5 233.5 Z" fill="#a8ccff" fill-opacity="0.8" filter="url(#rough)"/>
<path d="M52 231 L62 230.5 L68.5 234 L67.5 241.5 L59 242.5 L52 240 Z" fill="#8fd83a" fill-opacity="0.9" filter="url(#rough)"/>
<path d="M56 232 L64 233 L62 238 L57 237 Z" fill="#e8b030" fill-opacity="0.6" filter="url(#rough)"/>
<path d="M45 242.5 L55 241.5 L61.5 245 L61 253 L53 254.5 L45.5 252 Z" fill="#0c0c0c" fill-opacity="0.95" filter="url(#rough)"/>
<path d="M45.1 252h0M47.9 245.2h0M50.2 255.8h0M44.7 247h0M46 256h0M53.2 251.2h0M53.6 252.3h0M50.1 246.6h0M58 251.2h0M60.8 244.9h0M60 251.8h0M54.7 246.5h0M54.6 241.2h0M45.4 245h0M45.9 240.8h0M57.5 251.7h0M55.5 243.3h0M57.6 253.2h0M55.6 243.6h0M54.5 246.3h0M48.7 242.4h0M60.4 250.1h0M61.7 242.8h0M48.7 248.1h0M44.7 244.8h0" stroke="#0c0c0c" stroke-width="0.8" stroke-linecap="round" stroke-opacity="0.7"/>
<path d="M47 252 L56 251.5 L63 255 L69 260 L72 266.5 L64 267.8 L53 267.8 L48.5 263 Z" fill="#12128c" fill-opacity="0.97" filter="url(#rough)"/>
<path d="M60.6 259.3h0M71 261.1h0M63.4 261.3h0M67.5 257.1h0M45.5 268.9h0M67.7 252.4h0M48.6 254.3h0M63.9 252.5h0M46.1 259.5h0M45.7 255h0M56.2 254h0M45.6 255h0M52.3 256.3h0M57.1 256.9h0M54.6 250.4h0M68.9 264.2h0M59.3 250.1h0M52 267.4h0M58.3 254h0M68.5 267.2h0" stroke="#12128c" stroke-width="0.9" stroke-linecap="round" stroke-opacity="0.7"/>
<path d="M66 258 L70 256 L74 262 L71 264 Z" fill="#444444" fill-opacity="0.6" filter="url(#rough)"/>
<text x="40.6" y="209.5" font-size="8" fill="#111">N=31</text>
<rect x="122.3" y="199" width="78.5" height="78" fill="#fff" stroke="#bdbdbd" stroke-width="0.8"/>
<path d="M157 232 L162 227.5 L172 226.5 L187.4 227 L191 232 L193.2 240 L193 250 L190 259 L184 266 L175 269.6 L166 268 L159 263 L155.5 255 L156 243 Z" fill="#dedede" filter="url(#bl2)"/>
<path d="M159.9 240.3h0M180.9 253.6h0M184.5 233.9h0M163.1 263.6h0M186.9 242.9h0M165.3 251.2h0M166 254.1h0M175.3 263.3h0M168.7 264.7h0M184.6 236.9h0M175.5 241.2h0M170.4 244.7h0M184.5 249.7h0M182.3 247.6h0M182.1 257.7h0M191 245.8h0M168.6 248.1h0M168.8 240.3h0M170.6 243.1h0M172.1 251.3h0M179.7 252.1h0M168.1 228.1h0M183.6 242.6h0M165.7 247.5h0M159.9 235.6h0M158.3 244.4h0M189 241.9h0M173.3 264.9h0M157.4 233.6h0M165.4 266.2h0M174.7 252.8h0M191.5 252.1h0M188.4 233.6h0M182.6 249.7h0M165.2 258.6h0M160.7 248.3h0M189 245.9h0M172.7 248.8h0M162.5 238.5h0M183.8 244.8h0M158.4 243.3h0M177.4 245.7h0M186.8 256.3h0M165.4 253.9h0M160.2 260.6h0M160.4 252.8h0M165.4 237.9h0M159.7 260.7h0M178.4 253h0M165 260.8h0M169 268h0M164.5 250.9h0M169.4 245.2h0M174.6 240h0M186.4 246.6h0M166.4 237.5h0M175.6 236.1h0M190.9 237.2h0M179.3 227.6h0M181.1 241h0M181.2 233.4h0M185.2 255.8h0M190.3 250.4h0M173 266.9h0M173.4 266.5h0M181.9 252.2h0M174.4 228h0M176 233.6h0M160.9 263.8h0M176.5 267.6h0M188.5 231h0M173 228.5h0M179.9 265.5h0M176 266.8h0M192.6 249.7h0M174.1 240.6h0M182.3 246.3h0M161.5 247.4h0M158 238.2h0M158.7 247.5h0M184.8 228.6h0M178.9 247.3h0M175.2 234.4h0M160.4 239.9h0M176.9 248.5h0M174.1 243.1h0M180.1 233.3h0M166.2 261.2h0M187 249.9h0M187.2 237.5h0M169.1 229.8h0M181.3 247.6h0M188.7 229.5h0M181.4 249.5h0M165.3 236.1h0M168.4 266.9h0M192.1 238.4h0M174.4 267.7h0M169.2 238.4h0M187.8 229.5h0M179.9 243.3h0M178.4 249.2h0M184.9 254.4h0M189.4 242.2h0M179.4 229.2h0M183.4 233.3h0M182.5 250.1h0M185.9 253.6h0M187.9 260.2h0M191.3 242h0M187.7 249.5h0M172.1 246.3h0M190.8 232.4h0M165.3 244.7h0M171.9 244.5h0M175.1 238.6h0M181 242.2h0M175.6 238.6h0M172.7 250.5h0M189.7 236.6h0M162.4 232.7h0M177.3 237.3h0M181 245h0M179.6 230.3h0M188.1 242.6h0M187.1 227.6h0M178.7 253.2h0M171.5 232.8h0M165.9 231.8h0M177.2 238.4h0M163.4 254.4h0M167.8 229.9h0M162.5 239.7h0M159.7 246.9h0M174.6 228.4h0M187.2 242.8h0M183.2 233.5h0M161.7 254.7h0M175.2 227.1h0M187 247h0M170.8 229.7h0M181.5 253.1h0M191.3 239.2h0M170.5 265h0M184.3 252.4h0M191.3 241.1h0M181.1 262.7h0M172.6 243.5h0M180.2 249.8h0M173 230.7h0M164 232.3h0M181 244.2h0M176.3 267.4h0M175.8 246.4h0M181.5 231.3h0M159 249.7h0M188.2 234.4h0M185.9 247.2h0M182.9 245.8h0M188.2 243.4h0M163.9 247.3h0M169.1 255h0M166.4 250h0M162.1 239.7h0M172.3 236.6h0M159.8 248.9h0M183.6 253h0M171.2 238.7h0M188.4 250.6h0M184.3 238.5h0M169.6 246.9h0M180.6 233.8h0M161.6 240h0M192.6 242.3h0M163.1 228h0M173.3 241.4h0M174.1 268.1h0M189.2 250.9h0M184.4 251.2h0M181.7 244h0M177.5 232.5h0M183.9 227.2h0M176.1 257.3h0M173.5 247.1h0M188.7 258.2h0M176.4 226.9h0M179.3 231.4h0M189.8 253.3h0M167 257.2h0M188.7 229.5h0M164.9 261.1h0M173.1 265.4h0M177.1 258.2h0M170.6 248h0M163.6 237.8h0M187.4 256.6h0M174.7 251.2h0M186.6 227.9h0M185.6 263.9h0M190.6 242.5h0M191.3 250h0M165.5 231.1h0M181.1 234.8h0M186.9 260.4h0M167.8 258.4h0M172.5 232.3h0M160.4 258.8h0M167.4 249.9h0M178.8 243.2h0M180.1 264.5h0M182.7 248.3h0M159.5 252.3h0M173.5 238.1h0M170.5 246.1h0M160.2 242h0M192.9 239.6h0M165.1 246.9h0M187.3 254.6h0M191.5 236h0M179.9 232.8h0M180.9 236.5h0M163.5 264.1h0M188.9 260.1h0M177.8 247.7h0M175.6 238.5h0M175.1 264h0M163.4 248.4h0M177.3 246.3h0M181.4 264.5h0M174 239.2h0M183.2 242.5h0M190.4 233.4h0M191.6 242.7h0M185.8 240.3h0M185.9 244.4h0M173 257.9h0M173.5 232.2h0M171 237.1h0M167.9 227.5h0M183.9 264.4h0M177.8 229.9h0M183.7 261.5h0M185.3 238.8h0M185.9 230.8h0M176 260.9h0M182.8 248.4h0M187.6 256.8h0M182.9 228.2h0M165.2 259.5h0M169.1 248.9h0M190.4 254.5h0M176.1 244.3h0M183.7 264.7h0M187.4 231.9h0M183.6 260.2h0M178.5 254.7h0M189.1 255.1h0M182.1 257.8h0M165.1 247.5h0M184.7 227.1h0M175.6 229.7h0M163.8 244.6h0M190.8 250.6h0M186 231.4h0M178.3 237.6h0M175.4 242.8h0M158.9 244.6h0M170.5 248.3h0M186.1 258.2h0M182.3 235.1h0M162.1 241.7h0M191.3 253h0M191 245.8h0M181.4 234.2h0M192 237.4h0M172.1 244.5h0M169.2 264.2h0M182.3 245.8h0M176.8 239.9h0M171.3 249.9h0M193 241.9h0M191.5 249.2h0M179 256.5h0M169.8 232.3h0M163.7 254h0M177.4 247.5h0M175.2 241h0M168.3 262.9h0M185.5 247.7h0M187.3 231.6h0M162.8 247.1h0M160.7 238h0M164.5 239.9h0M159.4 255.5h0M160.1 237h0M183.9 246.9h0M165.1 234.7h0M177.9 248.8h0M175.5 240.1h0M173.8 232.5h0M171.8 262.7h0M191.7 251.5h0M168.2 231h0M190.7 255h0M178.4 258.6h0M163.9 229.9h0M172.5 231.9h0M165.5 237.8h0M178.8 258.7h0M172 246h0M169 260.1h0M184.8 240.7h0M182.6 240.3h0M187.3 232.5h0M157.8 253.7h0M181.7 243.6h0M188.9 229.5h0M174.7 249.7h0M179.7 267.1h0M190 231.5h0M167.5 266.2h0M170.2 249.1h0M182.6 241.2h0M183.2 242.9h0M189.6 242.4h0M166.3 243.4h0M174.5 258h0M164.8 241h0M176.8 256.2h0M180.3 247.4h0M190.8 241.7h0M186.6 245.7h0M172.3 238.7h0M171.8 242.2h0M178.5 264.6h0M160.8 233.7h0M178.8 227.5h0M178.9 242.3h0M169.3 236h0M173.2 263.4h0M171.4 261.1h0M184 256.9h0M192.9 239.8h0M156.1 242h0M180.9 255.5h0M158.9 262.3h0M173.5 250.7h0M174.1 247h0M183.3 258.2h0M184.8 242.7h0M169.7 265.3h0M184.8 242.9h0M189.1 251.2h0M182.8 257.5h0M171.4 231.6h0M188.6 257.6h0M174.3 248.7h0M174 246.2h0M189.7 234.1h0M169.9 252.2h0M183.4 239.5h0M169.4 260.2h0M189.3 249.1h0M170.2 257.8h0M168.4 244.3h0M185.3 250.6h0M166.8 259.5h0M165 263.2h0M177.2 234.5h0M167.8 237.8h0M169.1 258.5h0M169.7 227.9h0M176.3 251.5h0M170.9 265.6h0M178 226.9h0M171 251.2h0M165.6 249.3h0M179.6 241.7h0M180.7 229.3h0M181.5 233.4h0M168.8 264.3h0M183.9 254h0M174.8 254.8h0M170.8 255.8h0M163.4 241.8h0M173.8 234.6h0M181.1 236h0M166.9 240.7h0M188.5 260.6h0M172.7 235.2h0M170.4 234.9h0M181.5 248.7h0M182.7 258.6h0M185.3 244.2h0M188.4 240.4h0M177.6 245.9h0M182.1 261.8h0M174.5 249.9h0M172.4 233.4h0M176.5 258.4h0M168.1 233.6h0M173 227h0M173 233.6h0M180 259.1h0M189.1 232.8h0M187.5 245.3h0M187.5 242.9h0M167.2 241.7h0M169.3 239h0M192.6 250.6h0M190.6 242.7h0M176 231.1h0M171.6 252.7h0M180.6 256.1h0M185.8 261.5h0M186.5 231.9h0M179.7 239.7h0M190.9 239.6h0M182.8 251h0M188.8 258.8h0M170.1 262h0M183.7 245.7h0M178.4 229.9h0M180.3 235h0M181.4 233.6h0M173.3 262h0M181.7 230.1h0M172.7 232.6h0M179.1 250.2h0M162.5 247.1h0M178.8 237h0M188.6 228.8h0M184.1 235h0M183.9 248.3h0M157.1 232.3h0M193 244h0M178 231.6h0M169.4 258.3h0M181.7 234.3h0M190 234h0M178.1 240.2h0M184.3 256.7h0M164.7 256.2h0M191.5 251.6h0M188.8 260.2h0M172.8 251.8h0M166.5 228.5h0M178.9 243.6h0M187.5 232.3h0M169.7 255.5h0M191.9 243.7h0M184.3 238.5h0M189.1 255.4h0M182.5 245.6h0M191 234.8h0M188.7 258.8h0M170.7 244.5h0M166.2 241.8h0M164.4 245h0M174.5 228.9h0M177 236.5h0M188.5 229.3h0M170.9 253.5h0M188.6 252.3h0M170.2 240.5h0M168.4 256.3h0M179.6 240.7h0M182.8 257.2h0M171.1 229.3h0M183.7 246.3h0M185.9 249.5h0M175.6 228.8h0M162 255.3h0M169.2 247.6h0M188.9 260h0M158.1 241.9h0M171.9 243.3h0M157 254.4h0M159.8 244.5h0M176.3 243.3h0" stroke="#808080" stroke-width="0.6" stroke-linecap="round" stroke-opacity="0.5"/>
<path d="M190.4 256.4h0M193.2 240.9h0M173.1 242.3h0M188.2 242.3h0M181.1 234.1h0M175.9 238.1h0M189.9 242.3h0M191.4 250.9h0M168.4 250.2h0M190.6 256.4h0M186.6 250.9h0M178.8 232.5h0M186.9 254.1h0M179.9 239.6h0M184.3 249.2h0M184.6 255.8h0M187.2 256.5h0M170 267.7h0M189.6 255.4h0M171.9 248.1h0M186.8 252.1h0M173.1 261.1h0M156.3 243.8h0M164.9 252.7h0M168.9 252.7h0M189.3 244.2h0M187 246.7h0M172.1 227.8h0M167.6 246.9h0M177.1 236.1h0M179.8 254.1h0M166.7 230.9h0M166.4 235.7h0M165.9 258.6h0M186.2 260.8h0M156.4 251.8h0M187.6 253.8h0M178.3 244.8h0M186.5 249.5h0M168.8 247.9h0M173.3 234.6h0M180.9 262.5h0M180.1 226.9h0M170.8 259.5h0M160.4 248.3h0M181.3 249.5h0M168 227.2h0M182 233.7h0M178.2 249.1h0M182.8 231.3h0M188.4 234.5h0M182.7 242.8h0M181.9 256.6h0M170.9 267.3h0M172 246.6h0M182.5 233h0M189.3 240.8h0M189 232.8h0M160.2 252h0M164.6 245.5h0M163 257.7h0M183.3 256.1h0M177.5 230h0M182.5 250.1h0M180.2 262.2h0M174.6 239h0M157.8 256.8h0M180.6 253.8h0M174.8 246.1h0M190.2 242.7h0M184.2 265.1h0M192.7 245.3h0M161.4 247.7h0M174 243.2h0M185.1 237.3h0M166.2 262.3h0M164.3 257.7h0M165.8 244.1h0M173.2 237.1h0M190.4 233.4h0M156.5 245.5h0M183.4 250.1h0M181.2 237.8h0M170.6 229.3h0M170.3 258.9h0M167.4 234.5h0M175.8 265.1h0M179.8 231.2h0M171.8 236.4h0M186.1 244.5h0M172.2 264.3h0M166.7 245.8h0M192.5 239.7h0M175.8 254.4h0M168.1 253.6h0M171.4 262.3h0M176.5 257.8h0M177.1 256.5h0M170.2 232.9h0M169.2 240.5h0M175.3 247.2h0M182.1 229.4h0M160.2 257.4h0M174.7 268.2h0M187.9 244.1h0M168.5 245.2h0M184.5 246.4h0M183.7 248.6h0M183.5 247.8h0M177.4 244.6h0M176.9 250.6h0M159.4 250.9h0M190.5 236.9h0M184.7 237.5h0M182.4 238.7h0M178 259.9h0M175.2 237h0M167.1 250.4h0M183.4 234.2h0M158.1 236.5h0M179.4 243.9h0M184.3 257.8h0M169.4 251.9h0M161 252.8h0M179.9 236.7h0M180.6 232.5h0M192.1 250.1h0M190.3 255.3h0M163.6 258.1h0M178.7 242.8h0M181.6 259.3h0M181.1 235.9h0M171.9 266.4h0M193 241.3h0M162.7 237h0M174 232.7h0M164.4 258.1h0M156.2 252.9h0M170.9 257.1h0M165.3 247.1h0M188.1 242.3h0M166.6 266.8h0M169.5 249.8h0M160.8 244.2h0M164.2 228.8h0M160.4 254.5h0M176.1 242.4h0M182.3 236h0M178.4 244.5h0M160.8 259.9h0M162.4 261h0M184.2 245.3h0M172.6 235.3h0M160.8 256.5h0M169.5 250.8h0M169.4 238h0M161.6 259.4h0M171.8 233.1h0M188.4 233.1h0M164.1 233.3h0M176.6 260h0M182 262.3h0M171.4 245.3h0M159 237.8h0M188.3 238.8h0M190.2 232.6h0M171.4 262.4h0M167.2 237h0M156.3 249.5h0M176.2 235.6h0M165.3 253.8h0M162 260.4h0M188.4 244.6h0M160.4 251.1h0M166.6 231h0M182.2 250.6h0M165.7 237.2h0M182.8 266h0M168.8 251.7h0M163.8 246.5h0M177.4 239.7h0M178.3 249.9h0M171.1 232.9h0M176.1 252.1h0M179.1 264.7h0M178.4 259.8h0M190.5 252h0M186.7 250.2h0M171.9 233.4h0M173.6 257.2h0M175 267.2h0M169.5 227.3h0M171.6 249.8h0M184.6 236.6h0M162.7 263.2h0M176.8 232.4h0M175.1 259.8h0M157.6 232.9h0M177.9 255.7h0M178.2 266.3h0M163.1 228.5h0M175.8 241.6h0M170.4 243.5h0M188.8 238.8h0M181.6 251h0M166.2 265.8h0M165.1 239.5h0M162.8 256.7h0M181.6 242.2h0M159.9 252.2h0M168.2 250.2h0M188.2 230.3h0M163.9 244.9h0M186.9 239.8h0M182.7 265.9h0M168.7 267.7h0M189.6 238.3h0M163.6 243.4h0M184.5 251.2h0M190.1 245.2h0M172.4 233.7h0M165.8 264.2h0M165.4 265.1h0M185.8 251.1h0M159.9 262.2h0M166.1 266.9h0M172.1 242.4h0M181.1 238.8h0M159.5 234.4h0M165.4 234.8h0M177 240.1h0M163.6 264.3h0M155.9 250.3h0M156.6 250.5h0M156.5 246.7h0M178.8 249.8h0M163.7 262.6h0M169.4 249.9h0M171.1 260.4h0M161.8 236.3h0M172.5 250h0M192.9 241h0M188.6 230.6h0M175.1 252.3h0M187.1 240.6h0M178.4 267.6h0M192.2 250.8h0M168.3 254.5h0M183 255.8h0M181 243.1h0M182.5 241.7h0M164.3 230.8h0M176.4 233.8h0M166.1 239.3h0M169.5 244.5h0M192.2 249.2h0M176.2 243.8h0M176.1 261.6h0M175.2 248.6h0M168.7 234.5h0M163.5 230.3h0M166.2 228.2h0M171.2 251.2h0M159.8 259.1h0M172.5 253.4h0M171.7 260.7h0M181.1 231.7h0M176.2 237.9h0M183.7 242.5h0M163.9 228h0M165 266.6h0M157.4 244.2h0M171.8 255.8h0M167.5 230.1h0M165.6 253.2h0M189.2 230.8h0M165.6 264.8h0M177.6 243.7h0M163.7 253.1h0M157.7 248.2h0M166.3 244.3h0M178.5 258.2h0M181.1 245.2h0M168.2 253.5h0M172.8 266.5h0M175.4 251.7h0M180.6 247.3h0M174.1 255.1h0M167 247.8h0M176.4 239.6h0M162.2 244.4h0M171.6 245.1h0M165.2 247.2h0M177.1 230.9h0M180.3 257.1h0M162.9 237.2h0M156.9 246.8h0M181 244.2h0M177.7 252.6h0M174.6 266.4h0M182.1 245.7h0M165.3 232.2h0M179.9 259.5h0M170.3 230.2h0M165.9 257h0M184.6 243.8h0M188.9 243.3h0M189.1 256.9h0M158.8 238.8h0M170.4 247.2h0M175.5 237.9h0M156.7 251.1h0M180.6 229h0M167.2 251.6h0M171.2 235.9h0M180.6 239.4h0M173.2 264.1h0M160.9 253.6h0M164.3 265.5h0M169.9 248.4h0" stroke="#f6f6f6" stroke-width="0.7" stroke-linecap="round" stroke-opacity="0.75"/>
<path d="M147 228 L155 227.5 L161 230 L163 240 L162 250 L158 255.5 L150 256 L145 250 L144.5 238 Z" fill="#e83030" fill-opacity="0.8" filter="url(#rough)"/>
<path d="M149.9 237.1h0M163.5 256.5h0M164.4 254.6h0M153.5 246.8h0M162.5 239.6h0M162.8 251.1h0M149.1 237.3h0M157.8 231.2h0M148.5 232.1h0M145.3 254.6h0M164.4 251.8h0M153.8 249.5h0M157.8 239.9h0M154.2 230h0M148.2 236.8h0M150.7 246.8h0M148.2 233.5h0M161.8 250.6h0M163 250.5h0M147.2 241.4h0M160.9 251.4h0M147.9 241.2h0M155.7 226.3h0M148.2 249.4h0M157.3 240.1h0M155.3 242.6h0M150.4 228.7h0M159 250.3h0M152.4 250.2h0M160.8 247.8h0M160.4 256.4h0M143.9 255.7h0M152.7 250.5h0M158.8 229.1h0M155.6 228.8h0M158.7 236.7h0M151.1 234.6h0M160.4 246.2h0M149.4 249.3h0M147 251.3h0" stroke="#e83030" stroke-width="0.9" stroke-linecap="round" stroke-opacity="0.7"/>
<path d="M129 237 L136 236.5 L137 242.7 L130 243 Z" fill="#e85050" fill-opacity="0.7" filter="url(#rough)"/>
<path d="M132.5 222 L138 219.8 L146 220 L151.8 224 L151 229.5 L143 230.5 L134 229.5 Z" fill="#40c040" fill-opacity="0.8" filter="url(#rough)"/>
<path d="M144.5 228.8h0M144.7 231.8h0M146.5 224.7h0M144.2 226.1h0M137.4 222.5h0M148.8 229.5h0M152.5 227.7h0M142.3 223.7h0M146.7 227.2h0M152 228.5h0M139.6 222.1h0M132 229h0M140.5 223.7h0M132.2 225.1h0M151 222.1h0M147.6 228.7h0M145.7 226.5h0M136.6 227.5h0M144 231.5h0M142.5 223.2h0M151.2 226.9h0M138.6 227.2h0M134.4 220.9h0M150.7 224.6h0M148.9 221.2h0M141.5 221.5h0M148.9 226.5h0M139.8 223.6h0M135.7 221.2h0M146.4 222.6h0" stroke="#40c040" stroke-width="0.9" stroke-linecap="round" stroke-opacity="0.7"/>
<path d="M130.8 226.5 L139.5 226.4 L139 231.6 L131 231.6 Z" fill="#7a7ef0" fill-opacity="0.8" filter="url(#rough)"/>
<path d="M136 231 L147 230.5 L153.5 234 L152 241.5 L143 241.5 L136 239 Z" fill="#9ccf60" fill-opacity="0.75" filter="url(#rough)"/>
<path d="M135 231.5 L144 231.3 L143 234 L136 234.3 Z" fill="#ff66b8" fill-opacity="0.6" filter="url(#rough)"/>
<path d="M130.8 241.5 L141 241 L147.7 245 L147.5 254 L139 255.5 L131.5 252 Z" fill="#151515" fill-opacity="0.85" filter="url(#rough)"/>
<path d="M131.4 246.3h0M138.3 256.8h0M137 246.6h0M148.6 252.1h0M138.4 246.5h0M133.8 242.2h0M138.7 250.7h0M131.4 247.8h0M132.7 250h0M136.2 251.2h0M144.9 246.6h0M136.9 240.9h0M133.5 250.4h0M145.4 241.9h0M148.7 255.5h0M136.6 248.9h0M142.7 245.3h0M136.6 252.1h0M138.9 247.1h0M140.5 241.5h0M138.7 244.7h0M132.6 248.7h0M143.3 248.7h0M139.2 251.2h0M137.7 256.7h0M133.6 239.6h0M140.6 251.7h0M136.9 246.5h0M136.1 243.8h0M145.1 254.6h0" stroke="#151515" stroke-width="0.8" stroke-linecap="round" stroke-opacity="0.7"/>
<path d="M133.7 254.4 L143 254 L151 258 L157 264 L154 267.8 L143 267.8 L136 266.5 L134 260 Z" fill="#1a1a96" fill-opacity="0.82" filter="url(#rough)"/>
<path d="M139.5 262h0M144.3 254.7h0M151.5 261.4h0M158.3 267.8h0M156 256.9h0M135.1 266.1h0M135 264h0M136.8 264.3h0M133.6 254h0M155 261.2h0M144 268.8h0M152.8 256.3h0M150.8 259h0M144.4 257.8h0M138.2 257.6h0M139.4 255.7h0M155.2 258.9h0M146.9 266.1h0M150 255.1h0M157.3 268.2h0M154.3 258h0M154 263.3h0M133 258.8h0M150.6 261.6h0M157.1 265.8h0M154.2 269h0M141.2 267.8h0M132.3 265.9h0M134.5 260.9h0M143.8 253.7h0M148.9 265.7h0M138.1 256.6h0M152.5 261.4h0M132.7 257.7h0M157 257.1h0M139.8 260.1h0M155.5 266.1h0M142.3 263.7h0M132.9 253.6h0M142 263.2h0" stroke="#1a1a96" stroke-width="0.9" stroke-linecap="round" stroke-opacity="0.7"/>
<text x="127.5" y="209.5" font-size="8" fill="#111">N=11</text>
<rect x="36.4" y="284.1" width="78.5" height="78" fill="#fff" stroke="#bdbdbd" stroke-width="0.8"/>
<path d="M76 308 L84 304.5 L94 304.5 L101 308 L105 315 L106.6 325 L105.5 336 L101 346 L93 352.5 L83 352.8 L76 349 L72 340 L72.5 322 Z" fill="#dedede" filter="url(#bl2)"/>
<path d="M81.9 332.5h0M92.1 309.8h0M87.4 317.3h0M99 345.3h0M82 329h0M92.7 317.3h0M89.2 319.5h0M104.2 314.5h0M87 332.8h0M75.1 328.9h0M99.3 340h0M105 334.5h0M93 331.8h0M92.6 323.5h0M80.1 317.5h0M96.9 325.2h0M97.4 311.7h0M82.1 343.2h0M76.9 345.6h0M80.4 325.1h0M84.8 316.9h0M80.7 327.8h0M76.7 328.6h0M105.4 322.2h0M95.8 308.1h0M103.1 329.3h0M78.3 328.1h0M91.2 351.8h0M97.5 333.5h0M83.6 326.9h0M80.8 322.4h0M98.4 324.5h0M85.4 311.1h0M95.3 312.3h0M102 325.3h0M89.3 309.7h0M89.5 308.6h0M101.1 333h0M81.6 310.3h0M77 337.1h0M96.4 311.3h0M78.3 327.9h0M87.6 348.7h0M93.4 341.5h0M81.2 338.8h0M101.8 341.9h0M89.1 317.8h0M94.6 335.1h0M96.4 348.3h0M94.4 347.4h0M96.8 345.4h0M79.3 325.8h0M98.1 310.8h0M102.7 324.4h0M86.4 311.3h0M86.6 346.7h0M101.7 339.6h0M89.7 339.1h0M103.1 341h0M101.3 318.3h0M101.3 336.2h0M82.4 336.6h0M102.6 338.2h0M89.9 351.7h0M101.1 313.3h0M78.8 320.9h0M98.2 307.7h0M95.2 305.9h0M93.9 348.7h0M78.9 347.5h0M84.1 308h0M99.7 340h0M92.9 311.3h0M103.9 330.2h0M75 316.9h0M83 318h0M73.2 342.6h0M82.6 305.9h0M100 341.4h0M78.4 347.5h0M78.7 307.9h0M104.5 320.7h0M86.6 339.4h0M98.5 337.1h0M99.9 315.8h0M92.8 317.1h0M79.3 325.9h0M94.6 344.2h0M101.9 336.7h0M101 333.3h0M99.9 346.3h0M101.7 322.6h0M96.2 330.1h0M77.2 310h0M76.1 324.7h0M76.8 330.5h0M91.7 321.3h0M101.1 334.4h0M89.8 347.5h0M91.2 343h0M90 315.4h0M86.5 324.1h0M88.7 325h0M86.7 314.3h0M82.6 316.9h0M76 342.2h0M89.4 344.7h0M85.8 338.3h0M83.4 309.5h0M103.6 316.3h0M90.5 318.2h0M89.8 323.8h0M97.2 335.1h0M103.6 330.2h0M81 322.7h0M82.5 323.6h0M101.6 325.6h0M85.7 316.9h0M94 339.4h0M84.1 318.9h0M87.1 324.5h0M89.6 307.1h0M103.3 336.1h0M74.1 332.3h0M83.5 310.9h0M91.2 332.2h0M100.8 320h0M105.9 330.7h0M77.1 342.8h0M82.3 312.4h0M104.2 316.5h0M96.6 349.3h0M94.9 316.1h0M95.3 306.9h0M102.8 334.2h0M89.7 338h0M97.6 342.2h0M79.3 306.6h0M101.3 345.3h0M92.7 349.7h0M86.7 350.7h0M104.1 338.6h0M103.9 330.7h0M105.1 316h0M84.2 327.8h0M84.5 315.7h0M104.3 334.1h0M78.8 329h0M91.7 342.8h0M87.3 337.8h0M87.2 329.6h0M84.7 337.2h0M101.5 316.1h0M80.9 343.3h0M76.9 333.1h0M83.9 308.3h0M93.3 325.3h0M84 315.7h0M85.2 339h0M79.9 318h0M78.5 323.2h0M103.7 333h0M81.6 347.8h0M92.8 320.1h0M94.6 350.7h0M99.2 313.4h0M94.5 337.1h0M95.6 348.6h0M85.7 337.6h0M95.8 349.3h0M105.1 316.6h0M104.7 318.7h0M98.2 321.5h0M101.7 326.1h0M73.6 326.5h0M75.4 325.9h0M74.9 340.2h0M99.4 307.8h0M94.8 312.8h0M84.3 308h0M77.7 320.5h0M94.5 336.8h0M79 337.6h0M79 336.1h0M79.1 329h0M77.8 332.9h0M88.3 331.5h0M83.5 313.1h0M94.8 349.8h0M92 324.3h0M80.8 339.4h0M95.7 325.8h0M78.5 316.2h0M92.3 324h0M89 318.7h0M86.9 347.9h0M88.7 305.1h0M89.2 335.3h0M95.9 345h0M79.8 343.8h0M103.4 321.8h0M99.6 312.6h0M86.8 310.3h0M88 316.4h0M96.5 332.2h0M77.8 336.7h0M101.3 316.4h0M87.8 332.1h0M93.4 347h0M95.7 312.1h0M95 323.2h0M76 340.6h0M104.3 332.2h0M89.2 323.4h0M99.6 316.1h0M79.3 342.5h0M96.6 323.8h0M95.1 312.8h0M99.5 324.3h0M82.1 307.6h0M74.6 326.6h0M91.3 329.1h0M90.8 313.9h0M90.2 349.9h0M84 306.2h0M83.9 310.1h0M93.3 321.5h0M90.2 333.7h0M79.9 321.1h0M98.1 343.3h0M88.2 317.3h0M93 338.8h0M77.3 314.4h0M76.5 347.3h0M93.8 317.1h0M98.5 321.2h0M92.8 348.4h0M95.2 330.8h0M92.9 337.8h0M103 320.6h0M92 320.1h0M93.4 309.4h0M100.4 337.3h0M104.9 330.4h0M96.3 342.8h0M102.8 341.5h0M95.2 311.8h0M105.4 318.1h0M75.7 321.3h0M99.3 320.3h0M88.5 347.8h0M94.1 326.7h0M101.4 322.9h0M79.7 317h0M94.6 321.4h0M92.3 333.1h0M91.6 350.9h0M88.7 305.1h0M76 317.4h0M91.7 307.7h0M93.2 313.7h0M93.3 329.7h0M91.2 339.9h0M92.9 323.1h0M94.7 326h0M85.1 318.5h0M102.4 313.9h0M90.4 335.3h0M90 334.9h0M94.8 336h0M99.5 310.8h0M88.9 326.4h0M80.7 311h0M106.1 325.8h0M102.5 315.3h0M83.5 343.5h0M104.3 332.3h0M82.3 319.8h0M89.6 312.1h0M102.4 319.6h0M78 313.4h0M105.8 323.8h0M83.7 316.6h0M75.1 323.2h0M79 345.2h0M78.9 308.2h0M75.3 345.1h0M81.9 311.5h0M96.4 310.5h0M82.4 348.5h0M97.1 329.2h0M83.5 327.2h0M86.6 326h0M79.7 328.6h0M97.4 348.7h0M83.4 346.5h0M90.6 341.9h0M90 325.8h0M99.6 332.1h0M83.1 310.6h0M102.1 313h0M91.1 327.9h0M76.1 317.4h0M86.8 332.6h0M85.7 307.6h0M105.6 330.7h0M89.8 311.5h0M95.9 309.5h0M100.9 313.8h0M102.3 311.9h0M86.9 312.6h0M96.2 330.7h0M88.4 316.5h0M101.4 312.1h0M94.8 330.3h0M104 315.5h0M88.3 315h0M91.4 352.3h0M79.6 341.4h0M96 322.3h0M81 340h0M97.7 320.1h0M82.9 331h0M77.3 345.3h0M98.9 308.9h0M97.9 343.5h0M104.3 325.1h0M88.4 319.1h0M99.1 320.1h0M92.5 305.5h0M102 335.8h0M98.2 318.7h0M94.7 305.3h0M83.4 316.7h0M93.9 314.8h0M97.6 332h0M90.5 350.1h0M87.1 314.2h0M86.6 343.6h0M93.4 308.5h0M76.5 330.4h0M88.9 307h0M81.5 311.3h0M89.9 325.3h0M91.3 336.7h0M97.8 321.8h0M93.7 345.4h0M100.3 344.2h0M80.5 318.8h0M81.5 327.9h0M78.9 342.9h0M75 312.3h0M77.7 343.1h0M102.2 340.1h0M104.6 318.6h0M90.2 331.3h0M90.1 309.3h0M78.6 325.4h0M98.1 312.3h0M105.5 334.9h0M72.7 339.8h0M93.9 311.4h0M76.5 314h0M81.2 326.3h0M76 336.8h0M92.2 323.1h0M80.3 323h0M85.2 307.5h0M76.8 331.7h0M98.6 333.1h0M79.9 324.4h0M102.8 333h0M89.3 348.7h0M97.7 307.4h0M104.3 319h0M74.5 322.3h0M90.9 347.7h0M94.3 325.1h0M99.6 307.3h0M93.7 337.5h0M94.6 324.8h0M73.3 324.4h0M91.9 321h0M105.8 327h0M100.4 345.6h0M95.1 318.9h0M99.8 322h0M86 306.1h0M102.8 328h0M105.6 323.2h0M76.8 348.9h0M90.2 339.7h0M95.1 309.7h0M102.2 327.5h0M84.9 334.5h0M78.6 331.5h0M91.1 333.3h0M80.2 336.7h0M95.6 336.3h0M80.8 332.3h0M85.6 352h0M90.8 333.4h0M87.8 347.9h0M82.3 345.2h0M87.6 311.3h0M94.4 310.1h0M78.7 308h0M95.2 316.2h0M78 328.1h0M78.4 350.2h0M82.4 306.8h0M78.9 347.6h0M99.1 342h0M100.8 322.8h0M87.7 338.6h0M80.9 338.5h0M93.7 341.1h0M98.1 324.7h0M97.3 321.3h0M81.9 305.7h0M85.1 344h0M87.3 336.4h0M83.4 313.9h0M86.9 308.8h0M85.7 318.8h0M97.5 307.7h0M98.5 335.3h0M73.1 338.6h0M91.9 319.4h0M102 331.8h0M96.2 339.3h0M105 327.5h0M95.9 307.1h0M92.2 305.7h0M100 339.8h0M77.8 340.7h0M96 314.3h0M93.1 343.1h0M95.6 336.9h0M81.5 322.5h0M92.6 317.9h0M89.9 351.8h0M97.4 321.2h0M88.6 337h0M90.1 313h0M87.3 344.7h0M81.9 331.4h0M94.4 319.4h0M83.3 309.7h0M95.8 317h0M103.2 335.2h0M79.3 342.4h0M80.3 314.3h0M104.9 319.9h0M103.5 329.4h0M99.5 329.8h0M96.6 327.4h0M74.5 343.4h0M85.2 334.9h0M99.6 339.1h0M83.7 342.9h0M105.3 320.1h0M101.8 341.2h0M94.6 306.1h0M91 339.2h0M79.9 308.6h0M92.4 348.9h0M87.6 318.3h0M103 313.6h0M105.3 323.1h0M84.6 334.9h0M96.3 325.2h0M81.9 308.7h0M89.2 347.5h0M87.1 325.8h0M104.5 333.5h0M98.4 315h0M96.8 342h0M80.4 306.2h0M72.5 329.6h0" stroke="#808080" stroke-width="0.6" stroke-linecap="round" stroke-opacity="0.5"/>
<path d="M76.9 325.6h0M90.7 311.8h0M79 334h0M78 311.9h0M79.6 349.8h0M91.8 324.4h0M94.5 305.4h0M105.2 318.3h0M84 350.3h0M76.8 310.8h0M88.3 319.6h0M83 332.6h0M104.9 324.5h0M73.5 322.5h0M101.5 325.4h0M74.1 316.6h0M79.8 321.4h0M83 336.9h0M96.9 306.7h0M77 344.2h0M102.3 342.6h0M78.1 338h0M74.6 337.1h0M79.7 345.1h0M101.2 327.1h0M102.9 335.8h0M93.3 321.7h0M95.6 311.3h0M87.8 308.6h0M75.2 336.8h0M86.7 314.5h0M104.8 318.5h0M90.7 328.2h0M98.2 347.6h0M82.4 348.5h0M78.2 312h0M96.3 306.9h0M88.1 321.6h0M97.2 306.7h0M82.3 324h0M97.6 319.3h0M79.7 327.2h0M77.1 331.4h0M85.6 351.5h0M100 344.3h0M85.2 336.6h0M75.9 321.3h0M78 328.4h0M86 334.4h0M92.5 317.1h0M102.4 326.2h0M98.8 339.4h0M105.9 329.4h0M92.4 341.8h0M79.9 306.7h0M100.1 338h0M97.9 343.2h0M78.9 346.9h0M94.2 350.1h0M91.2 346.3h0M91.1 336.7h0M85.4 308h0M102.8 315.8h0M96.4 333.1h0M80.2 320.4h0M80.3 330.2h0M81.6 330.8h0M81.8 310.3h0M96.1 317.1h0M104.8 324.1h0M81.1 339.2h0M103.2 322.4h0M97.4 320.5h0M90.8 334.7h0M81.9 324.5h0M86.1 322h0M78.6 330.8h0M95.1 305.8h0M102.5 317h0M88.4 315h0M95.3 324.1h0M92.1 324.2h0M89.6 308.7h0M106 325.1h0M83.5 345.4h0M82.2 342.7h0M86.7 310.1h0M91.9 318h0M104.4 327.3h0M99.9 336.9h0M82.5 310.8h0M92.1 313.7h0M98.1 333.2h0M79.6 342h0M105.5 327.7h0M105.6 326.2h0M72.6 326.8h0M84.2 348.8h0M90.1 350.9h0M77.6 323h0M96.6 306.1h0M79.7 325.5h0M103.9 315.9h0M72.2 338.4h0M96.1 311.2h0M90.9 338.4h0M76.3 335.6h0M84.3 320.7h0M82.8 308.4h0M100 341.4h0M72.3 329.3h0M72.8 330.8h0M83 329.8h0M81.1 348.2h0M79.8 340.5h0M84.9 346.1h0M83.3 310.6h0M87.7 308.7h0M77.3 329.8h0M91.9 314.8h0M78.2 329.7h0M87.4 327.8h0M95.2 311.3h0M99.5 338.4h0M77.3 320.5h0M82.7 349.1h0M86.3 339h0M79.8 335.5h0M87.5 346.6h0M100.5 336.6h0M85.8 311.5h0M93.2 328.9h0M88.1 334.7h0M86 327.3h0M93.9 338.2h0M96.5 324.5h0M77.9 346.5h0M78.6 333.2h0M93.5 309.3h0M89.8 332.3h0M95.8 308.1h0M97.2 317.6h0M85.3 310.5h0M101.1 334.4h0M100.1 329.4h0M75.8 323.9h0M85.5 306.5h0M73.1 322.1h0M82.7 352.2h0M103.9 323.2h0M95.2 342.9h0M84.3 304.6h0M84.9 337.9h0M105.4 325.8h0M86.2 322.9h0M93 305.6h0M82.9 311.5h0M98.6 346.5h0M90.9 350.1h0M79.9 314h0M85.3 326.3h0M78.9 349h0M98 318.4h0M79.8 318.2h0M85.7 336.1h0M74.8 313.9h0M85.1 350.5h0M87.8 339.2h0M100.7 326.8h0M85 342h0M81.4 350.5h0M88.8 346.5h0M94.2 331.7h0M81.7 328.1h0M100.4 313.5h0M99 308.8h0M84.1 326.9h0M96.7 329.7h0M101.4 338h0M85.3 329.7h0M85.5 346.6h0M82.5 313.2h0M80.5 316.6h0M100 337.7h0M80.5 324.8h0M79.7 350.1h0M83.1 350.6h0M73.1 337.7h0M91.8 312h0M80.2 350h0M102 315.2h0M83.9 334.1h0M82.5 314.8h0M102.1 309.9h0M93.9 324.1h0M88.3 346.6h0M97.8 341.9h0M79.8 339.8h0M102.1 330.5h0M81 344.1h0M99.5 315.3h0M91.7 325.7h0M97.6 323.7h0M83 341.3h0M96.1 322h0M96.7 317.2h0M89.3 313.6h0M83.9 324.7h0M75.1 319.6h0M84.2 320.3h0M89.5 347.9h0M101.4 318.8h0M76.7 308.7h0M102.6 341.2h0M97.6 348.4h0M85.9 312.8h0M75.1 323.8h0M98.6 308.6h0M87.1 308.4h0M79.4 331.2h0M94.5 350h0M83.1 315.7h0M76 330.4h0M87.8 348.3h0M88.8 308.7h0M77 338.3h0M80.1 321.2h0M87.1 325.4h0M81.8 312h0M85.2 337.7h0M79.2 309.9h0M99.6 330h0M80.1 327.8h0M90.7 313.9h0M87.5 349.4h0M87.5 352.3h0M97 310.7h0M103.8 337.9h0M87.3 313.6h0M94.8 313.7h0M88 311.8h0M86.3 351.2h0M92.7 329.3h0M93.4 336.1h0M92.8 318.3h0M79.4 333.8h0M88.9 318.8h0M92.3 306.8h0M89.2 342.3h0M78.9 327.7h0M93.1 351.1h0M75.7 310.7h0M88.8 342.8h0M73 322.9h0M96.6 324.8h0M78.2 307.9h0M98.3 329.1h0M90.6 337.5h0M98.4 323.9h0M84.6 348.9h0M74.6 342h0M87.9 330.2h0M80.7 350h0M82.5 320h0M77.1 318.4h0M73 328.5h0M101.4 339.3h0M89.4 351.8h0M82.5 319.9h0M81.2 333.6h0M88.1 310.5h0M89 351.2h0M102.4 334.6h0M101.8 328h0M89.2 338.1h0M79 333.2h0M89.4 318.9h0M89.2 313.1h0M94.2 310h0M87.5 307.2h0M90.7 309.2h0M99.9 318.9h0M105 320.4h0M77 336.8h0M80.4 343.8h0M88.5 317.4h0M92.4 315.3h0M81.2 308.5h0M80.2 315.1h0M77.5 324.6h0M87.5 333.2h0M91.1 337.5h0M93.2 327.2h0M101.6 311.3h0M86.1 345.2h0M91.4 349.5h0M103.2 320.5h0M81.7 324.6h0M105.1 327.1h0M84.5 305.7h0M85.3 349.2h0M86.5 342.9h0M97.4 328.5h0M82.4 349.9h0M99.9 340.4h0M73.9 335.8h0M95.9 311h0M83.3 326.5h0M80.8 309.7h0M77.3 326.6h0M86.4 318h0M80.7 319.8h0M92.7 339h0M86.9 339h0M91.8 343.7h0M97.2 341.5h0M72.8 321.5h0M76 344.6h0M77.7 349.1h0M83.9 311.9h0" stroke="#f6f6f6" stroke-width="0.7" stroke-linecap="round" stroke-opacity="0.75"/>
<ellipse cx="90.3" cy="297.5" rx="4.3" ry="7" fill="#e4e4e4" filter="url(#bl2)"/>
<path d="M58 310 L66 309 L75 309 L78.4 316 L78 330 L74 338 L66 339.7 L58 336 L55 322 Z" fill="#e41a1a" fill-opacity="0.95" filter="url(#rough)"/>
<path d="M71.9 313.7h0M63.1 322.3h0M70.2 324.9h0M71 334.2h0M79 328.4h0M64.8 324.2h0M62.7 335.6h0M67.9 331h0M75.1 331h0M76.9 322.8h0M71.9 337.3h0M66.4 335.2h0M60.9 312.9h0M76 326.1h0M78.9 327.7h0M60.3 311.6h0M77.2 316h0M57.9 325.3h0M72.4 326.8h0M54.8 333.8h0M71.3 318.5h0M77.9 324.2h0M73.8 310.6h0M61.6 333h0M71.6 331.1h0M71.8 308.4h0M76.1 308.9h0M59.9 317.7h0M66.7 310.7h0M64.8 312.2h0M62.4 319.1h0M56.5 334.6h0M54.3 314.3h0M77.1 321.2h0M78.5 317.9h0M67.2 325.3h0M64.2 340.8h0M64.1 334.4h0M66.9 319.3h0M75.8 338.6h0" stroke="#e41a1a" stroke-width="0.9" stroke-linecap="round" stroke-opacity="0.7"/>
<path d="M42.6 322 L50.8 322 L50.8 327 L43 327.5 Z" fill="#e63030" fill-opacity="0.85" filter="url(#rough)"/>
<path d="M64 304 L72 302 L82 302.5 L81 307 L72 310.2 L65 310 Z" fill="#1a1ab4" fill-opacity="0.95" filter="url(#rough)"/>
<path d="M45.2 305 L50 303.3 L60 303.3 L65.2 306 L65 311 L58 312.7 L46 312.5 Z" fill="#33bb33" fill-opacity="0.97" filter="url(#rough)"/>
<path d="M44.5 310.8 L55.2 310.8 L55.2 314 L44.5 314 Z" fill="#a028e0" fill-opacity="0.95" filter="url(#rough)"/>
<path d="M43.9 310 L47 310 L47 317 L43.9 317 Z" fill="#60a8ff" fill-opacity="0.95" filter="url(#rough)"/>
<path d="M47.7 315.6 L57.7 315.6 L57.7 319 L47.7 319 Z" fill="#ff58b0" fill-opacity="0.95" filter="url(#rough)"/>
<path d="M50.8 319 L60 318.3 L67 321 L66 327.8 L56 327.8 L51 325 Z" fill="#8ee83a" fill-opacity="0.95" filter="url(#rough)"/>
<path d="M43.9 326 L55 325.9 L60.2 329 L60 335.3 L50 335.3 L44 333 Z" fill="#0c0c0c" fill-opacity="0.95" filter="url(#rough)"/>
<path d="M42.7 331.8h0M57 330.7h0M50.2 333.3h0M45.4 330.3h0M46.3 335.1h0M57.6 329.3h0M57.6 331.1h0M55 327.4h0M57.3 332.4h0M61.6 327.7h0M50.2 334.1h0M47.4 333.9h0M58.8 326.5h0M56.5 328h0M47.7 328.8h0M57.4 332.3h0M49.8 332.9h0M58.1 326.8h0M59.1 330.9h0M54.7 335.1h0" stroke="#0c0c0c" stroke-width="0.8" stroke-linecap="round" stroke-opacity="0.7"/>
<path d="M45.2 335 L56 334.6 L65 338 L70.9 345 L69 352.8 L56 352.8 L47 351.5 L45.5 343 Z" fill="#10108a" fill-opacity="0.97" filter="url(#rough)"/>
<path d="M49.8 343h0M64.1 333.4h0M54.9 344.6h0M56.6 343.8h0M67.7 335.5h0M64.4 339.1h0M46.1 342.9h0M47.4 342.8h0M48.5 342.5h0M47.6 354.2h0M49.7 342.5h0M61 347.4h0M47.4 351.1h0M54.4 334.9h0M56 346.3h0M54.1 348.5h0M52.6 350.4h0M70.5 350.4h0M45.5 342h0M59 341.2h0" stroke="#10108a" stroke-width="0.9" stroke-linecap="round" stroke-opacity="0.7"/>
<path d="M66 342 L71 341 L74 348 L70 349 Z" fill="#444444" fill-opacity="0.55" filter="url(#rough)"/>
<text x="40.6" y="294.6" font-size="8" fill="#111">N=57</text>
<rect x="123.1" y="284.4" width="78.5" height="78" fill="#fff" stroke="#bdbdbd" stroke-width="0.8"/>
<path d="M163 313 L170 309 L180 308.5 L187 312 L192 320 L193.2 330 L192 341 L187 349 L178 353.5 L168 352.5 L162 347 L159.5 335 L160 322 Z" fill="#e0e0e0" filter="url(#bl2)"/>
<path d="M165.1 327.3h0M172.4 352h0M181.3 349.6h0M184.4 329.7h0M181.1 311.8h0M174.1 314.6h0M178.3 328.5h0M181.1 312.4h0M185.1 335.9h0M171.8 350.6h0M179.4 333.8h0M168.9 309.7h0M191.4 335.5h0M161 333h0M185.5 329.7h0M179 347.4h0M167.8 316.9h0M190.4 323h0M162.4 318.7h0M185.4 314.2h0M178.9 333.6h0M160.7 340.4h0M177.1 319.1h0M174 320.3h0M185.2 345.6h0M178.1 310.1h0M182.8 318.5h0M175.5 331.8h0M179.6 311.5h0M185.7 342.1h0M161.3 339.4h0M190.7 329.7h0M168 335.6h0M183.4 318.1h0M191.1 323.4h0M180.7 333.4h0M182.1 337.7h0M183.9 329.6h0M182.7 342.6h0M177.9 342.4h0M184 322.8h0M187.3 319.6h0M189.4 323.3h0M184.4 334.9h0M166.9 344h0M169.8 325.2h0M177.2 330.6h0M191.1 322.8h0M187.9 318.7h0M179 310.4h0M186.5 319.2h0M183.9 333.7h0M176.7 338.5h0M184.3 342.2h0M170 315.1h0M171.5 342.1h0M172.7 350.9h0M182.7 311.2h0M167.2 316.9h0M186.1 326h0M160.6 337.7h0M187.7 313.5h0M162.7 340.1h0M186.2 334.9h0M178.3 331h0M170.3 345.2h0M167.5 334.8h0M176.3 323.1h0M182.8 316.7h0M173.3 327.3h0M185.1 316.2h0M176 309.2h0M189.7 336h0M174.3 340.1h0M176.8 325.6h0M187.1 328.2h0M185.1 347.6h0M177.3 313.1h0M165.9 343.3h0M164.1 334.6h0M188.1 325.4h0M177.4 327.3h0M191.4 324.8h0M162.3 326.2h0M186.6 328.9h0M164.2 344.4h0M166.8 338.6h0M171.6 318.9h0M163.7 338.9h0M180 349.3h0M176.7 328.9h0M187.3 341.9h0M170.9 344h0M188.8 323.4h0M184.2 341.2h0M189.1 323h0M162.6 316.8h0M177.9 351.4h0M189.3 344.9h0M181.5 310.1h0M175.6 330.4h0M173 348.9h0M184 344.2h0M171.2 332h0M191.3 340.4h0M180.6 334.1h0M177.3 336.2h0M177.9 338.6h0M170.2 335.9h0M186.7 330.1h0M179 327.2h0M177 321.1h0M170.7 337.6h0M178.3 310.6h0M172.9 319.5h0M191.4 325.1h0M180.9 342.9h0M176.3 336.8h0M192.3 324.2h0M173.2 348.9h0M167.4 343.6h0M165.1 344.1h0M187 324.2h0M172.8 322.2h0M185.3 332.4h0M174.9 329.4h0M175.9 339.6h0M169.8 314h0M189.2 345.2h0M189.5 343.6h0M162.7 338.9h0M191.4 325.7h0M188.5 344.1h0M177.8 342.4h0M182.9 312.5h0M186.1 342.7h0M190.8 327.2h0M180.9 331.8h0M173.6 349.5h0M176.4 350h0M183.4 313.9h0M189.6 344.2h0M163.3 331.9h0M179.3 309.5h0M182.4 342.9h0M178.3 320.8h0M172.5 321.1h0M167.6 337.3h0M173.5 310.5h0M163.1 319.3h0M189.7 320.7h0M164 337.9h0M188 335.2h0M172.8 315.2h0M179.3 347.8h0M176.5 336.7h0M167.8 342.4h0M180.7 312.8h0M162.6 336.9h0M172.4 328h0M178.3 352.6h0M182.3 318.6h0M178 313.8h0M180.8 314.1h0M192.6 326h0M189.8 328.3h0M190.3 337.5h0M175 344.3h0M181.9 323.5h0M189.4 329h0M170.3 351.4h0M166.7 327.8h0M185.6 343.9h0M166.1 337.8h0M181 313.2h0M189.4 322h0M184.4 327.9h0M187.4 341.7h0M181.7 331.5h0M173.5 334h0M184.6 314.5h0M176.7 317.4h0M175.5 318.5h0M181.1 351.3h0M185.7 336.6h0M187.3 313.5h0M191.3 329.2h0M184.5 315.9h0M177 342.1h0M187 335.7h0M184.6 325.7h0M172.2 350h0M182.9 323.7h0M167 315.1h0M188.4 333.4h0M175.3 309.3h0M178.5 343.9h0M181.2 348h0M174.1 313.4h0M174 321.5h0M178.8 326.7h0M173.4 330.9h0M179.2 342.6h0M185.3 349.7h0M166.9 314.4h0M178.8 315h0M181 315.3h0M175.5 350.5h0M189.9 317h0M181.9 345.1h0M170 310.8h0M186.8 323.1h0M176.4 331.1h0M167.8 328h0M181.9 319.2h0M171.6 309.6h0M173.9 328.1h0M185.3 324.9h0M186.7 335.1h0M177 349.2h0M185.1 313.2h0M182.6 336.6h0M190.8 326.3h0M186.7 329h0M188 328.6h0M183.2 319.1h0M170.6 331.6h0M169 323.2h0M169.8 311.7h0M184 345.3h0M186.9 313h0M182.8 334h0M175.1 327.8h0M180 346.6h0M169.6 330.5h0M181.3 324.7h0M167.7 312.8h0M186.6 344.3h0M182.5 318h0M191.4 333.3h0M171.7 326.4h0M164.6 327.1h0M189.3 320.4h0M174.1 317.2h0M182.1 338.9h0M191 322.3h0M173.6 319.9h0M186.2 338.4h0M169.4 321h0M164.4 317.9h0M191.2 331.4h0M177.9 318.9h0M180.7 346.1h0M188.6 338.9h0M176.2 350.8h0M166.1 318h0M177.9 327.5h0M166.5 327.3h0M166.6 330.2h0M172.1 330.3h0M190.5 325.9h0M179.2 342.1h0M192.1 322.2h0M177.6 318.4h0M186.1 341.1h0M167.3 337.1h0M175.1 321.6h0M191.9 338.4h0M189.3 342.4h0M165.1 320.9h0M164 313.2h0M179 328.3h0M186.9 343.4h0M190.8 337h0M174.2 324h0M187.7 331.8h0M163.3 347.8h0M170.3 337.7h0M175 337.6h0M177.3 329.1h0M175.4 318.9h0M192 340.5h0M169.1 326.9h0M189.5 333.3h0M180.4 345.1h0M179.7 310.3h0M179.9 344.3h0M190.7 338.5h0M187.9 342.7h0M190.1 340.6h0M178.1 337.5h0M186 345.9h0M191.3 323.9h0M168 313.6h0M181.1 330.6h0M170.5 349.2h0M178.2 325.8h0M174.2 327.3h0M163.6 318h0M177.8 326.8h0M183.2 345.4h0M171.8 314.4h0M163.6 347.5h0M166.3 344.2h0M186.2 337.4h0M177.6 308.8h0M174.2 335.2h0M185.5 323.3h0M171.6 343.5h0M185.8 317.3h0M164.1 343.5h0M191.8 322.9h0M180.4 329.4h0M182.9 334.4h0M178.8 321.3h0M185.2 323.3h0M186 333.8h0M167 332.5h0M170.7 309.4h0M176.5 352h0M171 316.5h0M177.2 351.3h0M187.2 322.2h0M176.7 352.8h0M191.6 323.2h0M161.5 321.6h0M180 321.5h0M183.2 347.4h0M162.5 343.7h0M189.1 338.1h0M188.7 330.7h0M162.4 329.1h0M180.2 332h0M191.9 334.8h0M167.3 340.1h0M188.6 320.5h0M163.3 331.3h0M175.3 338.3h0M191.2 324.5h0M185.1 344.3h0M168.5 347.4h0M179.5 323.6h0M185.2 335h0M190.5 332.3h0M164.1 322.4h0M191.5 340.1h0M174.4 339.3h0M183.8 347h0M178.2 347.8h0M187.3 328h0M187.4 344.2h0M175.4 320.3h0M181.9 338.6h0M188.7 320.3h0M176.2 311.2h0M188.5 328.1h0M164.6 344.8h0M169.5 338.3h0M176.1 339.4h0M188.8 333.4h0M169.4 323.7h0M189.3 322.1h0M191.3 325.6h0M182.3 350.9h0M181.3 313.4h0M184.4 346.2h0M186.5 338.2h0M185.6 339h0M172.7 318.2h0M188.3 324.4h0M171.7 324.4h0M186.5 330.7h0M175.9 330.5h0M186.2 326.5h0M179.6 310.1h0M189.3 337.3h0M179.1 311h0M166.3 329.5h0M182.4 332.1h0M170.8 328.7h0M166.9 350.8h0M192 325.9h0M189.1 337.5h0M187.7 346.6h0M176.9 324.9h0M167 350.9h0M184.2 330.5h0M174 332.1h0M175 319.4h0M173.2 344.8h0M189.3 331.4h0M175 322.4h0M172.6 313.9h0M189.2 333.1h0M169.7 325.7h0M170.1 316.4h0M184.2 332.2h0M191.5 330.3h0M160.9 330.8h0M184 344.3h0M190.5 326.9h0M185.3 343.2h0M172.2 327.2h0M190.1 336.2h0M162.4 344.3h0M187.9 319.1h0M188.8 338.9h0M184.4 337.3h0M192.3 327.2h0M174.7 350.4h0M171.2 322.1h0M187.2 322.6h0M182.2 339h0M177.8 309.6h0M167.6 347h0M182.7 339.4h0M187.3 319.9h0M171.4 342.4h0M163.8 312.9h0M190.2 324.2h0M181 333.7h0M176.9 345.2h0M185.3 335h0M189.5 333.7h0M178.7 328h0M179.2 341.1h0M172.7 345.9h0M183.8 330.9h0M182.2 351.3h0M185.7 331.2h0M183.5 322.8h0M183 329.1h0M179.6 318.6h0M184.6 327.5h0M189.6 316.7h0M175.7 320.1h0M186.4 324.5h0M187.1 312.4h0M181.4 319.3h0M189.6 331.4h0M183.9 348.9h0M173.6 348.5h0M170.1 342.7h0M170.7 320.6h0M164.1 321.1h0M169 348.7h0M175 321.8h0M191.3 321.1h0M185.3 321.6h0M187.1 321.4h0M185 313.5h0M186.3 339.3h0M176.1 337.9h0M182.8 333.5h0M177.8 327.9h0M172.5 339.1h0M185.4 315.9h0M180 316.1h0M173.5 325.1h0M181.3 343.9h0M180.7 337.5h0M182.4 328.8h0M183.6 316.1h0M187.1 316.8h0M168.8 339h0M190 322h0M187.3 341.3h0M189.1 328.9h0M186.2 330.7h0M180.2 328.2h0M188.7 320.6h0M183.5 343.3h0M170.1 339.6h0M188.5 329.3h0M177.8 333.9h0M186 333.7h0M165.5 324.2h0M175.2 326.5h0M179.5 350.8h0M167.7 318.1h0" stroke="#808080" stroke-width="0.6" stroke-linecap="round" stroke-opacity="0.5"/>
<path d="M168.5 350.4h0M174 313h0M184.1 341.7h0M172 330.6h0M174 324.3h0M180.6 328.8h0M170.2 330.3h0M177.8 310.3h0M170.3 319.9h0M168.8 324.6h0M168.8 325h0M182.6 319h0M169.4 341.2h0M181.5 322.3h0M169.1 340.7h0M172.2 344.7h0M182.2 319h0M178.6 348.8h0M180.9 347.9h0M170.9 321.3h0M177.8 324.7h0M177.2 319.9h0M166.5 335.9h0M163.3 318.9h0M162.5 339.5h0M164.8 320.8h0M188.4 332h0M175.2 323.3h0M176.9 343.5h0M171.6 314.7h0M165.7 340h0M175.6 350.4h0M166.9 340.6h0M172.6 321.2h0M183.7 322.9h0M167 328.7h0M173.8 312.3h0M192.7 326.4h0M171.7 314.2h0M164.5 316.8h0M161.9 333.2h0M181.3 346.8h0M168.3 344.7h0M184.7 311.1h0M166.2 317.6h0M188.8 342.1h0M161.6 319.4h0M165 336.7h0M174 351h0M187.7 321.3h0M168.7 331.1h0M173.2 344.3h0M166 347.5h0M179.3 326.2h0M192.1 324.2h0M174.4 343.4h0M187.6 321.9h0M174.8 349.9h0M185.8 322.2h0M185.6 313.7h0M172.8 334.3h0M178.9 336.1h0M181.8 316h0M177.8 310.2h0M166.4 330.9h0M172.2 339.3h0M164 331.7h0M173.7 317.3h0M189.9 324.2h0M169.5 344.8h0M178.1 335.1h0M183.5 332h0M187.1 333.5h0M175.7 349.2h0M175.9 339.6h0M177.4 350.4h0M162.1 321.2h0M165.1 347.7h0M169.1 319.6h0M179.9 340.4h0M168.1 345.7h0M174.7 330.9h0M171.8 329h0M192.1 321.5h0M171.3 352.5h0M169.9 312.7h0M188.8 326.5h0M181.4 321.9h0M163.8 318.4h0M185.3 332.8h0M181.8 341.3h0M178.8 339.1h0M166 316.8h0M174.2 346.4h0M167 343.5h0M187.4 341.6h0M163.2 314.3h0M186.7 318.4h0M160.3 334.8h0M183 345.5h0M183.6 335.4h0M171.6 350.2h0M168.5 328.9h0M163.3 334.4h0M182.6 331.7h0M172.1 310.5h0M180.9 310.4h0M185.1 336.3h0M188.6 338.2h0M185.2 321.2h0M191.2 334.9h0M178 325.8h0M187.9 336.9h0M178.2 336.1h0M169.1 328.1h0M184.2 345.1h0M171 322.3h0M177.4 330.1h0M173.1 322h0M171.3 349.6h0M180.6 313.4h0M165.5 325.3h0M166.1 313.2h0M185.3 330.6h0M164.6 331.7h0M182.4 346.1h0M174.2 318h0M160.8 335h0M177.3 353.3h0M167.8 310.9h0M177.4 339.8h0M167.4 320.9h0M165.9 346.5h0M178.9 320.9h0M171.6 320h0M185.4 322.7h0M171.1 350.4h0M168.4 340.1h0M190.4 322.2h0M185.9 322.8h0M165.4 339.8h0M171.1 329h0M188.4 315.7h0M167.1 336.2h0M167.4 328.8h0M166.9 337.1h0M181.6 310.7h0M169.6 343.9h0M169.9 349h0M191.7 340.3h0M173.3 324h0M165.7 348.2h0M190.9 340.4h0M190.4 323.6h0M162.3 330.1h0M187.7 337.7h0M173.4 330.4h0M167.6 326.1h0M180.1 340.3h0M170.4 337.5h0M173.1 341.8h0M167.6 350.9h0M185.3 314.8h0M185.8 318.1h0M183.5 310.7h0M186.5 324.2h0M182.7 311.6h0M176.3 325.9h0M164.4 327.5h0M191.9 323.9h0M186.6 345.1h0M179.1 336.3h0M192.2 328.5h0M186.7 330.2h0M184.6 316.4h0M185.2 349.8h0M183 341.3h0M171.9 316.3h0M172.3 313.2h0M190 327.8h0M174.9 335.7h0M172 340.4h0M189.4 332.7h0M170.5 343.9h0M163 322.2h0M176.1 347.1h0M179.2 329.2h0M180.6 350.4h0M172.1 316.9h0M177.6 314.6h0M167.7 338.1h0M174.7 316.5h0M187.9 337.1h0M178.3 330h0M191.4 337.6h0M181.7 350.2h0M167.3 330.7h0M178.7 323.1h0M179.4 334.7h0M190.6 329.3h0M173.2 333.2h0M188.7 342.6h0M168.3 336.2h0M164.6 332.7h0M177.2 339h0M162.6 341.2h0M167.5 323.2h0M189.6 340h0M163.3 335.8h0M169.5 344.5h0M163 341h0M173 315.6h0M168 344.5h0M180.6 326h0M160.8 340.8h0M177.6 318.2h0M177.5 312.1h0M165.5 330.3h0M181.1 313.5h0M176.2 333.4h0M177.6 321.4h0M167 322.1h0M167.8 351.8h0M165.2 317.8h0M160.6 326.2h0M178.3 338.1h0M166.9 335.9h0M187.3 314h0M177.8 350.4h0M173.3 337.3h0M185.3 324.9h0M163.1 339.7h0M175.7 333.4h0M164.3 332.6h0M174.3 337.9h0M162.6 321.4h0M177.7 343.3h0M181.8 309.7h0M191.2 326.3h0M187.7 324.7h0M168.1 331.4h0M176.4 314.5h0M180.1 346.4h0M165.5 336.3h0M177.6 318.1h0M188.4 314.7h0M185.8 311.8h0M189.5 320.7h0M183 338.4h0M182.2 343.2h0M168.6 328.3h0M179.5 340.5h0M173.3 324.4h0M180.6 312.7h0M177.7 326.5h0M182.5 323.2h0M161.4 339.9h0M170.3 311.7h0M176.4 314.8h0M161.7 333.6h0M174.1 310.6h0M177.8 331.4h0M179.1 313.4h0M172.6 347.5h0M177.3 315.1h0M164.4 345.4h0M167.3 335.3h0M171.3 322.2h0M171.9 336.4h0M171.6 323.6h0M171.6 346.7h0M185.1 325.6h0M184.1 338.8h0M183.3 322.8h0M181.1 346.8h0M192.7 325.9h0M184.1 314.9h0M176.4 314.6h0M185.7 332.6h0M176.1 346.9h0M190.4 334.9h0M174.3 339.1h0M176.3 316.7h0M190.4 340.7h0M177.4 346.2h0M170.7 321.1h0M186 348.3h0M178.3 332.3h0M180.2 326h0M173.8 311.6h0M179.3 344.7h0M171.4 340.1h0M184.2 339.4h0M165.4 328.6h0M179.8 348.2h0M166 344.2h0M164.8 332.6h0M169.7 339.7h0M173.9 320.8h0M177.4 348.6h0M188.6 332.6h0M183.6 350.1h0M183.4 336.3h0M185.5 313.6h0M178.8 320.3h0M176.3 312.3h0M169.1 331.8h0M192.4 336.5h0M186.8 326.1h0M163.6 322.3h0M182.3 333.8h0M163.3 318.3h0M182.6 350.8h0M174.5 331.8h0M189.7 341.8h0M182.2 332.9h0M187 323.1h0M182.4 313h0M191.2 329.3h0M174.9 312h0" stroke="#f6f6f6" stroke-width="0.7" stroke-linecap="round" stroke-opacity="0.75"/>
<ellipse cx="175.6" cy="300" rx="4.8" ry="6.5" fill="#ececec" filter="url(#bl2)"/>
<path d="M146.8 311 L156 310.2 L164.4 313 L164.4 328 L161 336 L153 338.4 L147 333 L146 320 Z" fill="#e41a1a" fill-opacity="0.92" filter="url(#rough)"/>
<path d="M147.7 333.9h0M159.6 326.5h0M155.8 319.8h0M161.4 339.2h0M146.4 317h0M161 330.2h0M161.2 313h0M153.3 323.4h0M145 326.4h0M148 324.3h0M160.9 311.6h0M164.6 332h0M152.3 311.6h0M159.2 322.2h0M165.8 323.4h0M157.6 319.3h0M147.7 321.5h0M149.2 324.5h0M149.8 331.3h0M162.8 329.8h0M150.6 310.4h0M160.6 321.2h0M165.4 312.5h0M157.7 335.5h0M151.1 321h0M150.1 309.2h0M165.1 321.2h0M162.2 308.8h0M163.8 324h0M162.3 318.2h0M149.5 323.1h0M153.3 319.1h0M148.3 309.6h0M144.9 313.2h0M148.9 334.7h0M158.7 326.2h0M146.1 318.5h0M164.9 336.6h0M163.7 319.9h0M158.4 316.5h0" stroke="#e41a1a" stroke-width="0.9" stroke-linecap="round" stroke-opacity="0.7"/>
<path d="M151.8 305 L160 302.7 L166.9 303 L165 308 L156 309 Z" fill="#8a80e8" fill-opacity="0.6" filter="url(#rough)"/>
<path d="M132.4 306 L138 304 L148 304 L152.5 307 L152 312 L142 312 L133 311.5 Z" fill="#33bb33" fill-opacity="0.95" filter="url(#rough)"/>
<path d="M131.2 309.6 L140.6 309.6 L140.6 315 L135 317 L131.2 316 Z" fill="#6a94ff" fill-opacity="0.9" filter="url(#rough)"/>
<path d="M133.7 315.8 L148 315.8 L148 319.6 L133.7 319.6 Z" fill="#ff58b0" fill-opacity="0.9" filter="url(#rough)"/>
<path d="M135.5 319.5 L146 319 L153 321 L152 327.1 L142 327.1 L136 325 Z" fill="#8ee83a" fill-opacity="0.9" filter="url(#rough)"/>
<path d="M131.2 325 L141 324.6 L148 328 L147.5 337.2 L139 337.2 L132 334 Z" fill="#141414" fill-opacity="0.9" filter="url(#rough)"/>
<path d="M142.4 331.4h0M141.3 323.9h0M134.3 327.5h0M140 327.9h0M137.1 330.8h0M140.9 328.7h0M136.6 332h0M142.1 334.6h0M142.2 325h0M136.7 333.1h0M143.8 337.2h0M144.2 332.4h0M141.8 327.3h0M141.1 328.8h0M136.3 326.6h0M148.6 338.2h0M135.8 331.1h0M131 336h0M135 336.4h0M134.3 331.1h0M143.4 332.4h0M147.6 334.6h0M139.2 329.2h0M137.5 330.2h0M146.1 323.6h0" stroke="#141414" stroke-width="0.8" stroke-linecap="round" stroke-opacity="0.7"/>
<path d="M132.4 335 L142 334.6 L152 339 L157.5 346 L155 352.2 L143 352.2 L135 350 L133 342 Z" fill="#161694" fill-opacity="0.85" filter="url(#rough)"/>
<path d="M139.4 347.5h0M134 349.6h0M140.8 351.3h0M137.6 349h0M155 339.8h0M146.8 349.1h0M157.4 344.9h0M156 351.4h0M158.2 337.3h0M143.7 345.8h0M148.1 335.2h0M147.1 352.1h0M146.1 336.8h0M139.6 351.8h0M142.7 334.8h0M138.9 344.9h0M135.5 343.2h0M144.5 346.8h0M138.7 337h0M144 336.8h0M146.6 341.2h0M154.8 336.9h0M145.8 338.8h0M134.8 335.9h0M146.6 343.8h0M148.3 347.1h0M133 353.1h0M157.2 338.5h0M135.7 349.5h0M133.3 346.3h0M139.6 353h0M134.7 343.2h0M134.4 335.7h0M151 349.3h0M135.3 353.6h0" stroke="#161694" stroke-width="0.9" stroke-linecap="round" stroke-opacity="0.7"/>
<text x="126.7" y="294.9" font-size="8" fill="#111">N=27</text>
<line x1="28.9" y1="327.6" x2="28.9" y2="263" stroke="#111" stroke-width="1.2"/>
<path d="M26.1 265.5 L28.9 259.2 L31.7 265.5 Z" fill="#111" stroke="none" stroke-width="1"/>
<text transform="translate(31.5 367.4) rotate(-90)" font-size="10.2" fill="#111">UMAP2</text>
<text x="35.9" y="374.9" font-size="10.2" fill="#111">UMAP1</text>
<line x1="76" y1="371.1" x2="141" y2="371.1" stroke="#111" stroke-width="1.2"/>
<path d="M139.6 368.3 L146.2 371.1 L139.6 373.9 Z" fill="#111" stroke="none" stroke-width="1"/>
<rect x="212.9" y="216" width="9.8" height="8.8" fill="#b4b4b4" stroke="none" stroke-width="1"/>
<text x="233.6" y="224.1" font-size="10" text-anchor="end" font-weight="bold" fill="#000">13</text>
<rect x="212.9" y="226.2" width="9.8" height="8.8" fill="#3a3a9c" stroke="none" stroke-width="1"/>
<text x="233.6" y="234.3" font-size="10" text-anchor="end" font-weight="bold" fill="#000">12</text>
<rect x="212.9" y="236.4" width="9.8" height="8.8" fill="#ff6ab8" stroke="none" stroke-width="1"/>
<text x="233.6" y="244.5" font-size="10" text-anchor="end" font-weight="bold" fill="#000">11</text>
<rect x="212.9" y="246.6" width="9.8" height="8.8" fill="#a33fd6" stroke="none" stroke-width="1"/>
<text x="233.6" y="254.7" font-size="10" text-anchor="end" font-weight="bold" fill="#000">10</text>
<rect x="212.9" y="256.8" width="9.8" height="8.8" fill="#dd3535" stroke="none" stroke-width="1"/>
<text x="233.6" y="264.9" font-size="10" text-anchor="end" font-weight="bold" fill="#000">9</text>
<rect x="212.9" y="267" width="9.8" height="8.8" fill="#ffff70" stroke="none" stroke-width="1"/>
<text x="233.6" y="275.1" font-size="10" text-anchor="end" font-weight="bold" fill="#000">8</text>
<rect x="212.9" y="277.2" width="9.8" height="8.8" fill="#6cb2ff" stroke="none" stroke-width="1"/>
<text x="233.6" y="285.3" font-size="10" text-anchor="end" font-weight="bold" fill="#000">7</text>
<rect x="212.9" y="287.4" width="9.8" height="8.8" fill="#3fb53f" stroke="none" stroke-width="1"/>
<text x="233.6" y="295.5" font-size="10" text-anchor="end" font-weight="bold" fill="#000">6</text>
<rect x="212.9" y="297.6" width="9.8" height="8.8" fill="#8ff06a" stroke="none" stroke-width="1"/>
<text x="233.6" y="305.7" font-size="10" text-anchor="end" font-weight="bold" fill="#000">5</text>
<rect x="212.9" y="307.8" width="9.8" height="8.8" fill="#ffab66" stroke="none" stroke-width="1"/>
<text x="233.6" y="315.9" font-size="10" text-anchor="end" font-weight="bold" fill="#000">4</text>
<rect x="212.9" y="318" width="9.8" height="8.8" fill="#ff6363" stroke="none" stroke-width="1"/>
<text x="233.6" y="326.1" font-size="10" text-anchor="end" font-weight="bold" fill="#000">3</text>
<rect x="212.9" y="328.2" width="9.8" height="8.8" fill="#000000" stroke="none" stroke-width="1"/>
<text x="233.6" y="336.3" font-size="10" text-anchor="end" font-weight="bold" fill="#000">2</text>
<rect x="212.9" y="338.4" width="9.8" height="8.8" fill="#3535dc" stroke="none" stroke-width="1"/>
<text x="233.6" y="346.5" font-size="10" text-anchor="end" font-weight="bold" fill="#000">1</text>
<rect x="251.4" y="199.1" width="40.4" height="40.4" fill="#fff" stroke="#cfcfcf" stroke-width="0.7"/>
<clipPath id="cp199"><path d="M4.3 15 C4.6 12.5 6 11.2 8 11.2 C11 11.2 14 11.8 17 12.2 C19 11.8 20.5 10.5 22 9.5 C23.5 7 25 3.5 27 3.5 C29.5 3.5 31.5 6 31.9 10 L32 13.4 C34.5 14.5 36.5 17.5 37.1 21.7 C37.5 25.5 36.5 28.5 35 30.5 C33 33.5 30 35.3 27 35.8 C22 36.6 12 36.3 7.6 36 C5.5 34.5 4.5 32.5 4.3 30 C3.8 26 3.8 20 4.3 15 Z"/></clipPath>
<g transform="translate(251.4 199.1)"><g clip-path="url(#cp199)">
<rect x="0" y="0" width="40" height="40" fill="url(#gpd1)"/>
<ellipse cx="8.5" cy="14.5" rx="5" ry="3.6" fill="#ff8800" filter="url(#bl15)"/>
<ellipse cx="7" cy="19" rx="3" ry="2.5" fill="#f0e000" filter="url(#bl15)"/>
<ellipse cx="27.5" cy="7.5" rx="4.8" ry="5.5" fill="#1818e0" filter="url(#bl15)"/>
<ellipse cx="33" cy="14" rx="4" ry="2" fill="#1830d8" filter="url(#bl15)"/>
<ellipse cx="36.5" cy="21" rx="1.6" ry="6" fill="#1070b0" filter="url(#bl15)"/>
</g></g>
<text x="252" y="205.5" font-size="6" fill="#222">PD-1</text>
<rect x="251.4" y="240.9" width="40.4" height="40.4" fill="#fff" stroke="#cfcfcf" stroke-width="0.7"/>
<clipPath id="cp240"><path d="M4.3 15 C4.6 12.5 6 11.2 8 11.2 C11 11.2 14 11.8 17 12.2 C19 11.8 20.5 10.5 22 9.5 C23.5 7 25 3.5 27 3.5 C29.5 3.5 31.5 6 31.9 10 L32 13.4 C34.5 14.5 36.5 17.5 37.1 21.7 C37.5 25.5 36.5 28.5 35 30.5 C33 33.5 30 35.3 27 35.8 C22 36.6 12 36.3 7.6 36 C5.5 34.5 4.5 32.5 4.3 30 C3.8 26 3.8 20 4.3 15 Z"/></clipPath>
<g transform="translate(251.4 240.9)"><g clip-path="url(#cp240)">
<rect x="0" y="0" width="40" height="40" fill="url(#gcd38)"/>
<rect x="3" y="10" width="31" height="5.5" fill="#ffa000" filter="url(#bl15)"/>
<ellipse cx="8" cy="13.5" rx="5" ry="3.5" fill="#ff8800" filter="url(#bl15)"/>
<ellipse cx="27.5" cy="8" rx="4.5" ry="5" fill="#e8f000" filter="url(#bl15)"/>
<ellipse cx="26" cy="4.5" rx="2" ry="1.5" fill="#ffb000" filter="url(#bl15)"/>
<ellipse cx="22" cy="34" rx="3" ry="1.2" fill="#1080a0" filter="url(#bl15)"/>
</g></g>
<text x="252" y="247.3" font-size="6" fill="#222">CD38</text>
<rect x="251.4" y="283.2" width="40.4" height="40.4" fill="#fff" stroke="#cfcfcf" stroke-width="0.7"/>
<clipPath id="cp283"><path d="M4.3 15 C4.6 12.5 6 11.2 8 11.2 C11 11.2 14 11.8 17 12.2 C19 11.8 20.5 10.5 22 9.5 C23.5 7 25 3.5 27 3.5 C29.5 3.5 31.5 6 31.9 10 L32 13.4 C34.5 14.5 36.5 17.5 37.1 21.7 C37.5 25.5 36.5 28.5 35 30.5 C33 33.5 30 35.3 27 35.8 C22 36.6 12 36.3 7.6 36 C5.5 34.5 4.5 32.5 4.3 30 C3.8 26 3.8 20 4.3 15 Z"/></clipPath>
<g transform="translate(251.4 283.2)"><g clip-path="url(#cp283)">
<rect x="0" y="0" width="40" height="40" fill="url(#gcd69)"/>
<ellipse cx="27.5" cy="8" rx="4.8" ry="5.5" fill="#1830d0" filter="url(#bl15)"/>
<ellipse cx="24" cy="12" rx="4" ry="1.6" fill="#2050c0" filter="url(#bl15)"/>
<ellipse cx="5" cy="21" rx="1.5" ry="1.5" fill="#ff9000" filter="url(#bl15)"/>
</g></g>
<text x="252" y="289.6" font-size="6" fill="#222">CD69</text>
<rect x="251.4" y="325.4" width="40.4" height="40.4" fill="#fff" stroke="#cfcfcf" stroke-width="0.7"/>
<clipPath id="cp325"><path d="M4.3 15 C4.6 12.5 6 11.2 8 11.2 C11 11.2 14 11.8 17 12.2 C19 11.8 20.5 10.5 22 9.5 C23.5 7 25 3.5 27 3.5 C29.5 3.5 31.5 6 31.9 10 L32 13.4 C34.5 14.5 36.5 17.5 37.1 21.7 C37.5 25.5 36.5 28.5 35 30.5 C33 33.5 30 35.3 27 35.8 C22 36.6 12 36.3 7.6 36 C5.5 34.5 4.5 32.5 4.3 30 C3.8 26 3.8 20 4.3 15 Z"/></clipPath>
<g transform="translate(251.4 325.4)"><g clip-path="url(#cp325)">
<rect x="0" y="0" width="40" height="40" fill="url(#ggzmb)"/>
<ellipse cx="13" cy="19" rx="3" ry="1.8" fill="#90e020" filter="url(#bl15)"/>
</g></g>
<text x="252" y="331.8" font-size="6" fill="#222">GzmB</text>
<rect x="300" y="252.7" width="2.9" height="60" fill="url(#gexp)" stroke="none" stroke-width="1"/>
<text x="301.3" y="251.6" font-size="3.4" text-anchor="middle" font-weight="bold" fill="#222">HIGH</text>
<text x="301.3" y="315.8" font-size="3.6" text-anchor="middle" font-weight="bold" fill="#222">LOW</text>
<text transform="translate(298.7 282.7) rotate(-90)" font-size="4.9" text-anchor="middle" font-weight="bold" fill="#222">Expression levels</text>
<text x="331.8" y="207" font-size="13" font-weight="bold" fill="#000">i</text>
<rect x="375.5" y="211.5" width="250.1" height="135.5" fill="#fff" stroke="#d9d9d9" stroke-width="0.8"/>
<line x1="375.5" y1="341.3" x2="625.6" y2="341.3" stroke="#ebebeb" stroke-width="0.6"/>
<line x1="375.5" y1="310.4" x2="625.6" y2="310.4" stroke="#ebebeb" stroke-width="0.6"/>
<line x1="375.5" y1="279.4" x2="625.6" y2="279.4" stroke="#ebebeb" stroke-width="0.6"/>
<line x1="375.5" y1="248.5" x2="625.6" y2="248.5" stroke="#ebebeb" stroke-width="0.6"/>
<line x1="375.5" y1="217.6" x2="625.6" y2="217.6" stroke="#ebebeb" stroke-width="0.6"/>
<line x1="375.5" y1="325.8" x2="625.6" y2="325.8" stroke="#f5f5f5" stroke-width="0.5"/>
<line x1="375.5" y1="294.9" x2="625.6" y2="294.9" stroke="#f5f5f5" stroke-width="0.5"/>
<line x1="375.5" y1="264" x2="625.6" y2="264" stroke="#f5f5f5" stroke-width="0.5"/>
<line x1="375.5" y1="233.1" x2="625.6" y2="233.1" stroke="#f5f5f5" stroke-width="0.5"/>
<line x1="387" y1="211.5" x2="387" y2="347" stroke="#ebebeb" stroke-width="0.6"/>
<line x1="405.9" y1="211.5" x2="405.9" y2="347" stroke="#ebebeb" stroke-width="0.6"/>
<line x1="424.9" y1="211.5" x2="424.9" y2="347" stroke="#ebebeb" stroke-width="0.6"/>
<line x1="443.9" y1="211.5" x2="443.9" y2="347" stroke="#ebebeb" stroke-width="0.6"/>
<line x1="462.8" y1="211.5" x2="462.8" y2="347" stroke="#ebebeb" stroke-width="0.6"/>
<line x1="481.8" y1="211.5" x2="481.8" y2="347" stroke="#ebebeb" stroke-width="0.6"/>
<line x1="500.7" y1="211.5" x2="500.7" y2="347" stroke="#ebebeb" stroke-width="0.6"/>
<line x1="519.6" y1="211.5" x2="519.6" y2="347" stroke="#ebebeb" stroke-width="0.6"/>
<line x1="538.6" y1="211.5" x2="538.6" y2="347" stroke="#ebebeb" stroke-width="0.6"/>
<line x1="557.5" y1="211.5" x2="557.5" y2="347" stroke="#ebebeb" stroke-width="0.6"/>
<line x1="576.5" y1="211.5" x2="576.5" y2="347" stroke="#ebebeb" stroke-width="0.6"/>
<line x1="595.5" y1="211.5" x2="595.5" y2="347" stroke="#ebebeb" stroke-width="0.6"/>
<line x1="614.4" y1="211.5" x2="614.4" y2="347" stroke="#ebebeb" stroke-width="0.6"/>
<rect x="378.5" y="217.6" width="17" height="21.5" fill="#838383" stroke="none" stroke-width="1"/>
<rect x="378.5" y="239.1" width="17" height="45" fill="#c6c6c6" stroke="none" stroke-width="1"/>
<rect x="378.5" y="284.2" width="17" height="34.6" fill="#a36767" stroke="none" stroke-width="1"/>
<rect x="378.5" y="318.8" width="17" height="22.5" fill="#e0a3a3" stroke="none" stroke-width="1"/>
<line x1="378.5" y1="239.1" x2="395.5" y2="239.1" stroke="#555" stroke-width="0.4" stroke-dasharray="0.8 0.8"/>
<line x1="378.5" y1="284.2" x2="395.5" y2="284.2" stroke="#555" stroke-width="0.4" stroke-dasharray="0.8 0.8"/>
<line x1="378.5" y1="318.8" x2="395.5" y2="318.8" stroke="#555" stroke-width="0.4" stroke-dasharray="0.8 0.8"/>
<line x1="387" y1="217.6" x2="387" y2="341.3" stroke="#000" stroke-width="0.4" stroke-opacity="0.08"/>
<rect x="397.4" y="217.6" width="17" height="42.8" fill="#838383" stroke="none" stroke-width="1"/>
<rect x="397.4" y="260.4" width="17" height="35.3" fill="#c6c6c6" stroke="none" stroke-width="1"/>
<rect x="397.4" y="295.7" width="17" height="24.1" fill="#a36767" stroke="none" stroke-width="1"/>
<rect x="397.4" y="319.8" width="17" height="21.5" fill="#e0a3a3" stroke="none" stroke-width="1"/>
<line x1="397.4" y1="260.4" x2="414.4" y2="260.4" stroke="#555" stroke-width="0.4" stroke-dasharray="0.8 0.8"/>
<line x1="397.4" y1="295.7" x2="414.4" y2="295.7" stroke="#555" stroke-width="0.4" stroke-dasharray="0.8 0.8"/>
<line x1="397.4" y1="319.8" x2="414.4" y2="319.8" stroke="#555" stroke-width="0.4" stroke-dasharray="0.8 0.8"/>
<line x1="405.9" y1="217.6" x2="405.9" y2="341.3" stroke="#000" stroke-width="0.4" stroke-opacity="0.08"/>
<rect x="416.4" y="217.6" width="17" height="48.2" fill="#838383" stroke="none" stroke-width="1"/>
<rect x="416.4" y="265.8" width="17" height="48.1" fill="#c6c6c6" stroke="none" stroke-width="1"/>
<rect x="416.4" y="314" width="17" height="16.1" fill="#a36767" stroke="none" stroke-width="1"/>
<rect x="416.4" y="330" width="17" height="11.3" fill="#e0a3a3" stroke="none" stroke-width="1"/>
<line x1="416.4" y1="265.8" x2="433.4" y2="265.8" stroke="#555" stroke-width="0.4" stroke-dasharray="0.8 0.8"/>
<line x1="416.4" y1="314" x2="433.4" y2="314" stroke="#555" stroke-width="0.4" stroke-dasharray="0.8 0.8"/>
<line x1="416.4" y1="330" x2="433.4" y2="330" stroke="#555" stroke-width="0.4" stroke-dasharray="0.8 0.8"/>
<line x1="424.9" y1="217.6" x2="424.9" y2="341.3" stroke="#000" stroke-width="0.4" stroke-opacity="0.08"/>
<rect x="435.4" y="217.6" width="17" height="25.1" fill="#838383" stroke="none" stroke-width="1"/>
<rect x="435.4" y="242.7" width="17" height="24.7" fill="#c6c6c6" stroke="none" stroke-width="1"/>
<rect x="435.4" y="267.5" width="17" height="32" fill="#a36767" stroke="none" stroke-width="1"/>
<rect x="435.4" y="299.5" width="17" height="41.8" fill="#e0a3a3" stroke="none" stroke-width="1"/>
<line x1="435.4" y1="242.7" x2="452.4" y2="242.7" stroke="#555" stroke-width="0.4" stroke-dasharray="0.8 0.8"/>
<line x1="435.4" y1="267.5" x2="452.4" y2="267.5" stroke="#555" stroke-width="0.4" stroke-dasharray="0.8 0.8"/>
<line x1="435.4" y1="299.5" x2="452.4" y2="299.5" stroke="#555" stroke-width="0.4" stroke-dasharray="0.8 0.8"/>
<line x1="443.9" y1="217.6" x2="443.9" y2="341.3" stroke="#000" stroke-width="0.4" stroke-opacity="0.08"/>
<rect x="454.3" y="217.6" width="17" height="42.1" fill="#838383" stroke="none" stroke-width="1"/>
<rect x="454.3" y="259.7" width="17" height="21.5" fill="#c6c6c6" stroke="none" stroke-width="1"/>
<rect x="454.3" y="281.2" width="17" height="39" fill="#a36767" stroke="none" stroke-width="1"/>
<rect x="454.3" y="320.1" width="17" height="21.2" fill="#e0a3a3" stroke="none" stroke-width="1"/>
<line x1="454.3" y1="259.7" x2="471.3" y2="259.7" stroke="#555" stroke-width="0.4" stroke-dasharray="0.8 0.8"/>
<line x1="454.3" y1="281.2" x2="471.3" y2="281.2" stroke="#555" stroke-width="0.4" stroke-dasharray="0.8 0.8"/>
<line x1="454.3" y1="320.1" x2="471.3" y2="320.1" stroke="#555" stroke-width="0.4" stroke-dasharray="0.8 0.8"/>
<line x1="462.8" y1="217.6" x2="462.8" y2="341.3" stroke="#000" stroke-width="0.4" stroke-opacity="0.08"/>
<rect x="473.2" y="217.6" width="17" height="9" fill="#838383" stroke="none" stroke-width="1"/>
<rect x="473.2" y="226.6" width="17" height="22.5" fill="#c6c6c6" stroke="none" stroke-width="1"/>
<rect x="473.2" y="249.1" width="17" height="43.3" fill="#a36767" stroke="none" stroke-width="1"/>
<rect x="473.2" y="292.4" width="17" height="48.9" fill="#e0a3a3" stroke="none" stroke-width="1"/>
<line x1="473.2" y1="226.6" x2="490.2" y2="226.6" stroke="#555" stroke-width="0.4" stroke-dasharray="0.8 0.8"/>
<line x1="473.2" y1="249.1" x2="490.2" y2="249.1" stroke="#555" stroke-width="0.4" stroke-dasharray="0.8 0.8"/>
<line x1="473.2" y1="292.4" x2="490.2" y2="292.4" stroke="#555" stroke-width="0.4" stroke-dasharray="0.8 0.8"/>
<line x1="481.8" y1="217.6" x2="481.8" y2="341.3" stroke="#000" stroke-width="0.4" stroke-opacity="0.08"/>
<rect x="492.2" y="217.6" width="17" height="2.8" fill="#838383" stroke="none" stroke-width="1"/>
<rect x="492.2" y="220.4" width="17" height="29.6" fill="#c6c6c6" stroke="none" stroke-width="1"/>
<rect x="492.2" y="250" width="17" height="45.6" fill="#a36767" stroke="none" stroke-width="1"/>
<rect x="492.2" y="295.7" width="17" height="45.6" fill="#e0a3a3" stroke="none" stroke-width="1"/>
<line x1="492.2" y1="220.4" x2="509.2" y2="220.4" stroke="#555" stroke-width="0.4" stroke-dasharray="0.8 0.8"/>
<line x1="492.2" y1="250" x2="509.2" y2="250" stroke="#555" stroke-width="0.4" stroke-dasharray="0.8 0.8"/>
<line x1="492.2" y1="295.7" x2="509.2" y2="295.7" stroke="#555" stroke-width="0.4" stroke-dasharray="0.8 0.8"/>
<line x1="500.7" y1="217.6" x2="500.7" y2="341.3" stroke="#000" stroke-width="0.4" stroke-opacity="0.08"/>
<rect x="511.1" y="217.6" width="17" height="36" fill="#838383" stroke="none" stroke-width="1"/>
<rect x="511.1" y="253.6" width="17" height="33.8" fill="#c6c6c6" stroke="none" stroke-width="1"/>
<rect x="511.1" y="287.4" width="17" height="27.6" fill="#a36767" stroke="none" stroke-width="1"/>
<rect x="511.1" y="315" width="17" height="26.3" fill="#e0a3a3" stroke="none" stroke-width="1"/>
<line x1="511.1" y1="253.6" x2="528.1" y2="253.6" stroke="#555" stroke-width="0.4" stroke-dasharray="0.8 0.8"/>
<line x1="511.1" y1="287.4" x2="528.1" y2="287.4" stroke="#555" stroke-width="0.4" stroke-dasharray="0.8 0.8"/>
<line x1="511.1" y1="315" x2="528.1" y2="315" stroke="#555" stroke-width="0.4" stroke-dasharray="0.8 0.8"/>
<line x1="519.6" y1="217.6" x2="519.6" y2="341.3" stroke="#000" stroke-width="0.4" stroke-opacity="0.08"/>
<rect x="530.1" y="217.6" width="17" height="32.8" fill="#838383" stroke="none" stroke-width="1"/>
<rect x="530.1" y="250.4" width="17" height="24.7" fill="#c6c6c6" stroke="none" stroke-width="1"/>
<rect x="530.1" y="275.1" width="17" height="28.9" fill="#a36767" stroke="none" stroke-width="1"/>
<rect x="530.1" y="304.1" width="17" height="37.2" fill="#e0a3a3" stroke="none" stroke-width="1"/>
<line x1="530.1" y1="250.4" x2="547.1" y2="250.4" stroke="#555" stroke-width="0.4" stroke-dasharray="0.8 0.8"/>
<line x1="530.1" y1="275.1" x2="547.1" y2="275.1" stroke="#555" stroke-width="0.4" stroke-dasharray="0.8 0.8"/>
<line x1="530.1" y1="304.1" x2="547.1" y2="304.1" stroke="#555" stroke-width="0.4" stroke-dasharray="0.8 0.8"/>
<line x1="538.6" y1="217.6" x2="538.6" y2="341.3" stroke="#000" stroke-width="0.4" stroke-opacity="0.08"/>
<rect x="549" y="217.6" width="17" height="1" fill="#838383" stroke="none" stroke-width="1"/>
<rect x="549" y="218.6" width="17" height="42.7" fill="#c6c6c6" stroke="none" stroke-width="1"/>
<rect x="549" y="261.3" width="17" height="58.1" fill="#a36767" stroke="none" stroke-width="1"/>
<rect x="549" y="319.4" width="17" height="21.9" fill="#e0a3a3" stroke="none" stroke-width="1"/>
<line x1="549" y1="218.6" x2="566" y2="218.6" stroke="#555" stroke-width="0.4" stroke-dasharray="0.8 0.8"/>
<line x1="549" y1="261.3" x2="566" y2="261.3" stroke="#555" stroke-width="0.4" stroke-dasharray="0.8 0.8"/>
<line x1="549" y1="319.4" x2="566" y2="319.4" stroke="#555" stroke-width="0.4" stroke-dasharray="0.8 0.8"/>
<line x1="557.5" y1="217.6" x2="557.5" y2="341.3" stroke="#000" stroke-width="0.4" stroke-opacity="0.08"/>
<rect x="568" y="217.6" width="17" height="7.4" fill="#838383" stroke="none" stroke-width="1"/>
<rect x="568" y="225" width="17" height="35.4" fill="#c6c6c6" stroke="none" stroke-width="1"/>
<rect x="568" y="260.4" width="17" height="41.7" fill="#a36767" stroke="none" stroke-width="1"/>
<rect x="568" y="302.1" width="17" height="39.2" fill="#e0a3a3" stroke="none" stroke-width="1"/>
<line x1="568" y1="225" x2="585" y2="225" stroke="#555" stroke-width="0.4" stroke-dasharray="0.8 0.8"/>
<line x1="568" y1="260.4" x2="585" y2="260.4" stroke="#555" stroke-width="0.4" stroke-dasharray="0.8 0.8"/>
<line x1="568" y1="302.1" x2="585" y2="302.1" stroke="#555" stroke-width="0.4" stroke-dasharray="0.8 0.8"/>
<line x1="576.5" y1="217.6" x2="576.5" y2="341.3" stroke="#000" stroke-width="0.4" stroke-opacity="0.08"/>
<rect x="587" y="217.6" width="17" height="44.5" fill="#838383" stroke="none" stroke-width="1"/>
<rect x="587" y="262.1" width="17" height="34.4" fill="#c6c6c6" stroke="none" stroke-width="1"/>
<rect x="587" y="296.5" width="17" height="23.4" fill="#a36767" stroke="none" stroke-width="1"/>
<rect x="587" y="319.9" width="17" height="21.4" fill="#e0a3a3" stroke="none" stroke-width="1"/>
<line x1="587" y1="262.1" x2="604" y2="262.1" stroke="#555" stroke-width="0.4" stroke-dasharray="0.8 0.8"/>
<line x1="587" y1="296.5" x2="604" y2="296.5" stroke="#555" stroke-width="0.4" stroke-dasharray="0.8 0.8"/>
<line x1="587" y1="319.9" x2="604" y2="319.9" stroke="#555" stroke-width="0.4" stroke-dasharray="0.8 0.8"/>
<line x1="595.5" y1="217.6" x2="595.5" y2="341.3" stroke="#000" stroke-width="0.4" stroke-opacity="0.08"/>
<rect x="605.9" y="217.6" width="17" height="30.3" fill="#838383" stroke="none" stroke-width="1"/>
<rect x="605.9" y="247.9" width="17" height="31.5" fill="#c6c6c6" stroke="none" stroke-width="1"/>
<rect x="605.9" y="279.4" width="17" height="30.9" fill="#a36767" stroke="none" stroke-width="1"/>
<rect x="605.9" y="310.4" width="17" height="30.9" fill="#e0a3a3" stroke="none" stroke-width="1"/>
<line x1="605.9" y1="247.9" x2="622.9" y2="247.9" stroke="#555" stroke-width="0.4" stroke-dasharray="0.8 0.8"/>
<line x1="605.9" y1="279.4" x2="622.9" y2="279.4" stroke="#555" stroke-width="0.4" stroke-dasharray="0.8 0.8"/>
<line x1="605.9" y1="310.4" x2="622.9" y2="310.4" stroke="#555" stroke-width="0.4" stroke-dasharray="0.8 0.8"/>
<line x1="614.4" y1="217.6" x2="614.4" y2="341.3" stroke="#000" stroke-width="0.4" stroke-opacity="0.08"/>
<line x1="373.5" y1="341.3" x2="375.5" y2="341.3" stroke="#888" stroke-width="0.6"/>
<text x="371.2" y="344.2" font-size="8" text-anchor="end" fill="#4d4d4d">0.00</text>
<line x1="373.5" y1="310.4" x2="375.5" y2="310.4" stroke="#888" stroke-width="0.6"/>
<text x="371.2" y="313.3" font-size="8" text-anchor="end" fill="#4d4d4d">0.25</text>
<line x1="373.5" y1="279.4" x2="375.5" y2="279.4" stroke="#888" stroke-width="0.6"/>
<text x="371.2" y="282.3" font-size="8" text-anchor="end" fill="#4d4d4d">0.50</text>
<line x1="373.5" y1="248.5" x2="375.5" y2="248.5" stroke="#888" stroke-width="0.6"/>
<text x="371.2" y="251.4" font-size="8" text-anchor="end" fill="#4d4d4d">0.75</text>
<line x1="373.5" y1="217.6" x2="375.5" y2="217.6" stroke="#888" stroke-width="0.6"/>
<text x="371.2" y="220.5" font-size="8" text-anchor="end" fill="#4d4d4d">1.00</text>
<line x1="387" y1="347" x2="387" y2="349" stroke="#888" stroke-width="0.6"/>
<text x="387" y="358.2" font-size="7.8" text-anchor="middle" fill="#4d4d4d">1</text>
<line x1="405.9" y1="347" x2="405.9" y2="349" stroke="#888" stroke-width="0.6"/>
<text x="405.9" y="358.2" font-size="7.8" text-anchor="middle" fill="#4d4d4d">2</text>
<line x1="424.9" y1="347" x2="424.9" y2="349" stroke="#888" stroke-width="0.6"/>
<text x="424.9" y="358.2" font-size="7.8" text-anchor="middle" fill="#4d4d4d">3</text>
<line x1="443.9" y1="347" x2="443.9" y2="349" stroke="#888" stroke-width="0.6"/>
<text x="443.9" y="358.2" font-size="7.8" text-anchor="middle" fill="#4d4d4d">4</text>
<line x1="462.8" y1="347" x2="462.8" y2="349" stroke="#888" stroke-width="0.6"/>
<text x="462.8" y="358.2" font-size="7.8" text-anchor="middle" fill="#4d4d4d">5</text>
<line x1="481.8" y1="347" x2="481.8" y2="349" stroke="#888" stroke-width="0.6"/>
<text x="481.8" y="358.2" font-size="7.8" text-anchor="middle" fill="#4d4d4d">6</text>
<line x1="500.7" y1="347" x2="500.7" y2="349" stroke="#888" stroke-width="0.6"/>
<text x="500.7" y="358.2" font-size="7.8" text-anchor="middle" fill="#4d4d4d">7</text>
<line x1="519.6" y1="347" x2="519.6" y2="349" stroke="#888" stroke-width="0.6"/>
<text x="519.6" y="358.2" font-size="7.8" text-anchor="middle" fill="#4d4d4d">8</text>
<line x1="538.6" y1="347" x2="538.6" y2="349" stroke="#888" stroke-width="0.6"/>
<text x="538.6" y="358.2" font-size="7.8" text-anchor="middle" fill="#4d4d4d">9</text>
<line x1="557.5" y1="347" x2="557.5" y2="349" stroke="#888" stroke-width="0.6"/>
<text x="557.5" y="358.2" font-size="7.8" text-anchor="middle" fill="#4d4d4d">10</text>
<line x1="576.5" y1="347" x2="576.5" y2="349" stroke="#888" stroke-width="0.6"/>
<text x="576.5" y="358.2" font-size="7.8" text-anchor="middle" fill="#4d4d4d">11</text>
<line x1="595.5" y1="347" x2="595.5" y2="349" stroke="#888" stroke-width="0.6"/>
<text x="595.5" y="358.2" font-size="7.8" text-anchor="middle" fill="#4d4d4d">12</text>
<line x1="614.4" y1="347" x2="614.4" y2="349" stroke="#888" stroke-width="0.6"/>
<text x="614.4" y="358.2" font-size="7.8" text-anchor="middle" fill="#4d4d4d">13</text>
<text transform="translate(350.9 279) rotate(-90)" font-size="10" text-anchor="middle" fill="#111">Events (%)</text>
<path d="M382.5 197.4 H391.5 V206.6 H397 L387 216 L377 206.6 H382.5 V197.4 Z" fill="#9090f0" stroke="#0a0ae8" stroke-width="1.3" stroke-linejoin="miter"/>
<text x="387" y="205.9" font-size="7.2" text-anchor="middle" fill="#000">1</text>
<path d="M477.2 197.4 H486.2 V206.6 H491.8 L481.8 216 L471.8 206.6 H477.2 V197.4 Z" fill="#66d066" stroke="#10a010" stroke-width="1.3" stroke-linejoin="miter"/>
<text x="481.8" y="205.9" font-size="7.2" text-anchor="middle" fill="#000">6</text>
<path d="M496.2 197.4 H505.2 V206.6 H510.7 L500.7 216 L490.7 206.6 H496.2 V197.4 Z" fill="#a8d4ff" stroke="#4aa0f0" stroke-width="1.3" stroke-linejoin="miter"/>
<text x="500.7" y="205.9" font-size="7.2" text-anchor="middle" fill="#000">7</text>
<path d="M534.1 197.4 H543.1 V206.6 H548.6 L538.6 216 L528.6 206.6 H534.1 V197.4 Z" fill="#f06a6a" stroke="#e01010" stroke-width="1.3" stroke-linejoin="miter"/>
<text x="538.6" y="205.9" font-size="7.2" text-anchor="middle" fill="#000">9</text>
<path d="M553 197.4 H562 V206.6 H567.5 L557.5 216 L547.5 206.6 H553 V197.4 Z" fill="#c070f0" stroke="#9010d8" stroke-width="1.3" stroke-linejoin="miter"/>
<text x="557.5" y="205.9" font-size="7.2" text-anchor="middle" fill="#000">10</text>
<path d="M572 197.4 H581 V206.6 H586.5 L576.5 216 L566.5 206.6 H572 V197.4 Z" fill="#ffaad8" stroke="#f050a8" stroke-width="1.3" stroke-linejoin="miter"/>
<text x="576.5" y="205.9" font-size="7.2" text-anchor="middle" fill="#000">11</text>
<rect x="631" y="252" width="13" height="13.4" fill="#838383" stroke="none" stroke-width="1"/>
<rect x="631" y="265.4" width="13" height="13.9" fill="#c6c6c6" stroke="none" stroke-width="1"/>
<rect x="631" y="281.1" width="13" height="13.2" fill="#a36767" stroke="none" stroke-width="1"/>
<rect x="631" y="294.3" width="13" height="14.2" fill="#e0a3a3" stroke="none" stroke-width="1"/>
<text transform="translate(637.5 269.4) scale(0.950 1)" font-size="7" text-anchor="middle" fill="#fff" stroke="#222" stroke-width="1.1" paint-order="stroke">TP1</text>
<text transform="translate(637.5 298.4) scale(0.950 1)" font-size="7" text-anchor="middle" fill="#fff" stroke="#222" stroke-width="1.1" paint-order="stroke">TP2</text>
<text x="646.6" y="261.6" font-size="9" fill="#111">non-SD</text>
<text x="646.6" y="276.5" font-size="9" fill="#111">SD</text>
<text x="646.6" y="290.7" font-size="9" fill="#111">non-SD</text>
<text x="646.6" y="305.1" font-size="9" fill="#111">SD</text>
<line x1="344.3" y1="359" x2="344.3" y2="582" stroke="#efefef" stroke-width="0.8"/>
<line x1="344.3" y1="359" x2="372" y2="359" stroke="#f3f3f3" stroke-width="0.6"/>
<rect x="375.6" y="363.7" width="249.5" height="195.7" fill="#fff" stroke="#d9d9d9" stroke-width="0.8"/>
<line x1="375.6" y1="372.3" x2="625.1" y2="372.3" stroke="#ececec" stroke-width="0.6"/>
<line x1="375.6" y1="387.2" x2="625.1" y2="387.2" stroke="#ececec" stroke-width="0.6"/>
<line x1="375.6" y1="402.2" x2="625.1" y2="402.2" stroke="#ececec" stroke-width="0.6"/>
<line x1="375.6" y1="417.1" x2="625.1" y2="417.1" stroke="#ececec" stroke-width="0.6"/>
<line x1="375.6" y1="432" x2="625.1" y2="432" stroke="#ececec" stroke-width="0.6"/>
<line x1="375.6" y1="447" x2="625.1" y2="447" stroke="#ececec" stroke-width="0.6"/>
<line x1="375.6" y1="461.9" x2="625.1" y2="461.9" stroke="#ececec" stroke-width="0.6"/>
<line x1="375.6" y1="476.8" x2="625.1" y2="476.8" stroke="#ececec" stroke-width="0.6"/>
<line x1="375.6" y1="491.7" x2="625.1" y2="491.7" stroke="#ececec" stroke-width="0.6"/>
<line x1="375.6" y1="506.7" x2="625.1" y2="506.7" stroke="#ececec" stroke-width="0.6"/>
<line x1="375.6" y1="521.6" x2="625.1" y2="521.6" stroke="#ececec" stroke-width="0.6"/>
<line x1="375.6" y1="536.5" x2="625.1" y2="536.5" stroke="#ececec" stroke-width="0.6"/>
<line x1="375.6" y1="551.5" x2="625.1" y2="551.5" stroke="#ececec" stroke-width="0.6"/>
<line x1="387" y1="363.7" x2="387" y2="559.4" stroke="#ececec" stroke-width="0.6"/>
<line x1="405.9" y1="363.7" x2="405.9" y2="559.4" stroke="#ececec" stroke-width="0.6"/>
<line x1="424.9" y1="363.7" x2="424.9" y2="559.4" stroke="#ececec" stroke-width="0.6"/>
<line x1="443.9" y1="363.7" x2="443.9" y2="559.4" stroke="#ececec" stroke-width="0.6"/>
<line x1="462.8" y1="363.7" x2="462.8" y2="559.4" stroke="#ececec" stroke-width="0.6"/>
<line x1="481.8" y1="363.7" x2="481.8" y2="559.4" stroke="#ececec" stroke-width="0.6"/>
<line x1="500.7" y1="363.7" x2="500.7" y2="559.4" stroke="#ececec" stroke-width="0.6"/>
<line x1="519.6" y1="363.7" x2="519.6" y2="559.4" stroke="#ececec" stroke-width="0.6"/>
<line x1="538.6" y1="363.7" x2="538.6" y2="559.4" stroke="#ececec" stroke-width="0.6"/>
<line x1="557.5" y1="363.7" x2="557.5" y2="559.4" stroke="#ececec" stroke-width="0.6"/>
<line x1="576.5" y1="363.7" x2="576.5" y2="559.4" stroke="#ececec" stroke-width="0.6"/>
<line x1="595.5" y1="363.7" x2="595.5" y2="559.4" stroke="#ececec" stroke-width="0.6"/>
<line x1="614.4" y1="363.7" x2="614.4" y2="559.4" stroke="#ececec" stroke-width="0.6"/>
<line x1="375.6" y1="363.7" x2="375.6" y2="559.4" stroke="#444" stroke-width="0.6"/>
<line x1="375.6" y1="559.4" x2="625.1" y2="559.4" stroke="#444" stroke-width="0.6"/>
<line x1="373.6" y1="372.3" x2="375.6" y2="372.3" stroke="#444" stroke-width="0.6"/>
<text x="372.2" y="375" font-size="7.6" text-anchor="end" fill="#333">perforin</text>
<line x1="373.6" y1="387.2" x2="375.6" y2="387.2" stroke="#444" stroke-width="0.6"/>
<text x="372.2" y="389.9" font-size="7.6" text-anchor="end" fill="#333">PD-1</text>
<line x1="373.6" y1="402.2" x2="375.6" y2="402.2" stroke="#444" stroke-width="0.6"/>
<text x="372.2" y="404.9" font-size="7.6" text-anchor="end" fill="#333">Ki-67</text>
<line x1="373.6" y1="417.1" x2="375.6" y2="417.1" stroke="#444" stroke-width="0.6"/>
<text x="372.2" y="419.8" font-size="7.6" text-anchor="end" fill="#333">HLA-DR</text>
<line x1="373.6" y1="432" x2="375.6" y2="432" stroke="#444" stroke-width="0.6"/>
<text x="372.2" y="434.7" font-size="7.6" text-anchor="end" fill="#333">GzmB</text>
<line x1="373.6" y1="447" x2="375.6" y2="447" stroke="#444" stroke-width="0.6"/>
<text x="372.2" y="449.7" font-size="7.6" text-anchor="end" fill="#333">GPR56</text>
<line x1="373.6" y1="461.9" x2="375.6" y2="461.9" stroke="#444" stroke-width="0.6"/>
<text x="372.2" y="464.6" font-size="7.6" text-anchor="end" fill="#333">CLA</text>
<line x1="373.6" y1="476.8" x2="375.6" y2="476.8" stroke="#444" stroke-width="0.6"/>
<text x="372.2" y="479.5" font-size="7.6" text-anchor="end" fill="#333">CD69</text>
<line x1="373.6" y1="491.7" x2="375.6" y2="491.7" stroke="#444" stroke-width="0.6"/>
<text x="372.2" y="494.4" font-size="7.6" text-anchor="end" fill="#333">CD56</text>
<line x1="373.6" y1="506.7" x2="375.6" y2="506.7" stroke="#444" stroke-width="0.6"/>
<text x="372.2" y="509.4" font-size="7.6" text-anchor="end" fill="#333">CD4</text>
<line x1="373.6" y1="521.6" x2="375.6" y2="521.6" stroke="#444" stroke-width="0.6"/>
<text x="372.2" y="524.3" font-size="7.6" text-anchor="end" fill="#333">CD38</text>
<line x1="373.6" y1="536.5" x2="375.6" y2="536.5" stroke="#444" stroke-width="0.6"/>
<text x="372.2" y="539.2" font-size="7.6" text-anchor="end" fill="#333">CD16</text>
<line x1="373.6" y1="551.5" x2="375.6" y2="551.5" stroke="#444" stroke-width="0.6"/>
<text x="372.2" y="554.2" font-size="7.6" text-anchor="end" fill="#333">CCR5</text>
<line x1="387" y1="559.4" x2="387" y2="561.4" stroke="#444" stroke-width="0.6"/>
<text x="387" y="568.2" font-size="6" text-anchor="middle" fill="#444">1</text>
<line x1="405.9" y1="559.4" x2="405.9" y2="561.4" stroke="#444" stroke-width="0.6"/>
<text x="405.9" y="568.2" font-size="6" text-anchor="middle" fill="#444">2</text>
<line x1="424.9" y1="559.4" x2="424.9" y2="561.4" stroke="#444" stroke-width="0.6"/>
<text x="424.9" y="568.2" font-size="6" text-anchor="middle" fill="#444">3</text>
<line x1="443.9" y1="559.4" x2="443.9" y2="561.4" stroke="#444" stroke-width="0.6"/>
<text x="443.9" y="568.2" font-size="6" text-anchor="middle" fill="#444">4</text>
<line x1="462.8" y1="559.4" x2="462.8" y2="561.4" stroke="#444" stroke-width="0.6"/>
<text x="462.8" y="568.2" font-size="6" text-anchor="middle" fill="#444">5</text>
<line x1="481.8" y1="559.4" x2="481.8" y2="561.4" stroke="#444" stroke-width="0.6"/>
<text x="481.8" y="568.2" font-size="6" text-anchor="middle" fill="#444">6</text>
<line x1="500.7" y1="559.4" x2="500.7" y2="561.4" stroke="#444" stroke-width="0.6"/>
<text x="500.7" y="568.2" font-size="6" text-anchor="middle" fill="#444">7</text>
<line x1="519.6" y1="559.4" x2="519.6" y2="561.4" stroke="#444" stroke-width="0.6"/>
<text x="519.6" y="568.2" font-size="6" text-anchor="middle" fill="#444">8</text>
<line x1="538.6" y1="559.4" x2="538.6" y2="561.4" stroke="#444" stroke-width="0.6"/>
<text x="538.6" y="568.2" font-size="6" text-anchor="middle" fill="#444">9</text>
<line x1="557.5" y1="559.4" x2="557.5" y2="561.4" stroke="#444" stroke-width="0.6"/>
<text x="557.5" y="568.2" font-size="6" text-anchor="middle" fill="#444">10</text>
<line x1="576.5" y1="559.4" x2="576.5" y2="561.4" stroke="#444" stroke-width="0.6"/>
<text x="576.5" y="568.2" font-size="6" text-anchor="middle" fill="#444">11</text>
<line x1="595.5" y1="559.4" x2="595.5" y2="561.4" stroke="#444" stroke-width="0.6"/>
<text x="595.5" y="568.2" font-size="6" text-anchor="middle" fill="#444">12</text>
<line x1="614.4" y1="559.4" x2="614.4" y2="561.4" stroke="#444" stroke-width="0.6"/>
<text x="614.4" y="568.2" font-size="6" text-anchor="middle" fill="#444">13</text>
<text x="500.9" y="576.9" font-size="7.9" text-anchor="middle" fill="#111">FlowSOM cluster</text>
<circle cx="387" cy="372.3" r="1.7" fill="#ff3a10"/>
<circle cx="405.9" cy="372.3" r="1.5" fill="#ff3a10"/>
<circle cx="424.9" cy="372.3" r="1.6" fill="#ff3a10"/>
<circle cx="443.9" cy="372.3" r="1.5" fill="#ff3a10"/>
<circle cx="462.8" cy="372.3" r="3.3" fill="#ff5a00"/>
<circle cx="481.8" cy="372.3" r="2.1" fill="#ff4010"/>
<circle cx="500.7" cy="372.3" r="2.2" fill="#ff4010"/>
<circle cx="519.6" cy="372.3" r="1.7" fill="#ff4010"/>
<circle cx="538.6" cy="372.3" r="1.5" fill="#ff4010"/>
<circle cx="557.5" cy="372.3" r="3.8" fill="#ff5000"/>
<circle cx="576.5" cy="372.3" r="2.2" fill="#ff4010"/>
<circle cx="595.5" cy="372.3" r="1.6" fill="#ff4010"/>
<circle cx="614.4" cy="372.3" r="1.4" fill="#ff4010"/>
<circle cx="387" cy="387.2" r="2.4" fill="#f59020"/>
<circle cx="405.9" cy="387.2" r="3.3" fill="#e8c010"/>
<circle cx="424.9" cy="387.2" r="3.6" fill="#e8b000"/>
<circle cx="443.9" cy="387.2" r="5" fill="#c0f020"/>
<circle cx="462.8" cy="387.2" r="4.2" fill="#d0f000"/>
<circle cx="481.8" cy="387.2" r="5" fill="#4070f0"/>
<circle cx="500.7" cy="387.2" r="4.8" fill="#5060f0"/>
<circle cx="519.6" cy="387.2" r="3.3" fill="#f0a010"/>
<circle cx="538.6" cy="387.2" r="4.8" fill="#e8c000"/>
<circle cx="557.5" cy="387.2" r="4.8" fill="#5090e0"/>
<circle cx="576.5" cy="387.2" r="3.7" fill="#f0a000"/>
<circle cx="595.5" cy="387.2" r="3.1" fill="#e8b010"/>
<circle cx="614.4" cy="387.2" r="1.7" fill="#f09020"/>
<circle cx="387" cy="402.2" r="2.1" fill="#ff4010"/>
<circle cx="405.9" cy="402.2" r="1.5" fill="#ff4010"/>
<circle cx="424.9" cy="402.2" r="1.6" fill="#ff4010"/>
<circle cx="443.9" cy="402.2" r="1.7" fill="#ff4010"/>
<circle cx="462.8" cy="402.2" r="1.5" fill="#ff4010"/>
<circle cx="481.8" cy="402.2" r="2.2" fill="#ff4010"/>
<circle cx="500.7" cy="402.2" r="2.4" fill="#ff4010"/>
<circle cx="519.6" cy="402.2" r="2.5" fill="#ff4010"/>
<circle cx="538.6" cy="402.2" r="1.6" fill="#ff4010"/>
<circle cx="557.5" cy="402.2" r="3.8" fill="#ff5000"/>
<circle cx="576.5" cy="402.2" r="2.9" fill="#ff5010"/>
<circle cx="595.5" cy="402.2" r="1.6" fill="#ff4010"/>
<circle cx="614.4" cy="402.2" r="1.6" fill="#ff4010"/>
<circle cx="387" cy="417.1" r="2.6" fill="#f59020"/>
<circle cx="405.9" cy="417.1" r="3" fill="#e8b810"/>
<circle cx="424.9" cy="417.1" r="2.6" fill="#f0a010"/>
<circle cx="443.9" cy="417.1" r="5" fill="#c8f020"/>
<circle cx="462.8" cy="417.1" r="3.3" fill="#e8b010"/>
<circle cx="481.8" cy="417.1" r="4.2" fill="#90f030"/>
<circle cx="500.7" cy="417.1" r="4.2" fill="#c0f020"/>
<circle cx="519.6" cy="417.1" r="5" fill="#a0f030"/>
<circle cx="538.6" cy="417.1" r="2.2" fill="#f09010"/>
<circle cx="557.5" cy="417.1" r="4.2" fill="#e8c000"/>
<circle cx="576.5" cy="417.1" r="3.7" fill="#f0b000"/>
<circle cx="595.5" cy="417.1" r="2.6" fill="#f0b010"/>
<circle cx="614.4" cy="417.1" r="1.7" fill="#f09020"/>
<circle cx="387" cy="432" r="2" fill="#ff3010"/>
<circle cx="405.9" cy="432" r="1.8" fill="#ff3010"/>
<circle cx="424.9" cy="432" r="1.7" fill="#ff1010"/>
<circle cx="443.9" cy="432" r="2.5" fill="#ff3000"/>
<circle cx="462.8" cy="432" r="4.8" fill="#ff6000"/>
<circle cx="481.8" cy="432" r="2.1" fill="#ff3010"/>
<circle cx="500.7" cy="432" r="2.2" fill="#ff3010"/>
<circle cx="519.6" cy="432" r="2.1" fill="#ff3010"/>
<circle cx="538.6" cy="432" r="1.6" fill="#ff3010"/>
<circle cx="557.5" cy="432" r="4.8" fill="#f0a800"/>
<circle cx="576.5" cy="432" r="2" fill="#ff3010"/>
<circle cx="595.5" cy="432" r="1.5" fill="#ff3010"/>
<circle cx="614.4" cy="432" r="1.5" fill="#ff3010"/>
<circle cx="387" cy="447" r="2" fill="#ff4010"/>
<circle cx="405.9" cy="447" r="2" fill="#ff4010"/>
<circle cx="424.9" cy="447" r="1.8" fill="#ff4010"/>
<circle cx="443.9" cy="447" r="2.2" fill="#ff4010"/>
<circle cx="462.8" cy="447" r="5" fill="#f09000"/>
<circle cx="481.8" cy="447" r="2.1" fill="#ff4010"/>
<circle cx="500.7" cy="447" r="1.9" fill="#ff4010"/>
<circle cx="519.6" cy="447" r="2.1" fill="#ff4010"/>
<circle cx="538.6" cy="447" r="1.9" fill="#ff4010"/>
<circle cx="557.5" cy="447" r="2.2" fill="#ff4010"/>
<circle cx="576.5" cy="447" r="2.1" fill="#ff4010"/>
<circle cx="595.5" cy="447" r="1.7" fill="#ff4010"/>
<circle cx="614.4" cy="447" r="1.5" fill="#ff4010"/>
<circle cx="387" cy="461.9" r="2.6" fill="#ff5010"/>
<circle cx="405.9" cy="461.9" r="2.4" fill="#ff5010"/>
<circle cx="424.9" cy="461.9" r="2" fill="#ff6010"/>
<circle cx="443.9" cy="461.9" r="2.5" fill="#ff6010"/>
<circle cx="462.8" cy="461.9" r="1.5" fill="#ff5010"/>
<circle cx="481.8" cy="461.9" r="2.9" fill="#ff5010"/>
<circle cx="500.7" cy="461.9" r="5" fill="#c8f010"/>
<circle cx="519.6" cy="461.9" r="3" fill="#ff6010"/>
<circle cx="538.6" cy="461.9" r="2.1" fill="#ff4010"/>
<circle cx="557.5" cy="461.9" r="4.2" fill="#f09000"/>
<circle cx="576.5" cy="461.9" r="5" fill="#a0f030"/>
<circle cx="595.5" cy="461.9" r="5" fill="#f0b000"/>
<circle cx="614.4" cy="461.9" r="1.5" fill="#ff2010"/>
<circle cx="387" cy="476.8" r="2" fill="#ff6010"/>
<circle cx="405.9" cy="476.8" r="1.9" fill="#ff6010"/>
<circle cx="424.9" cy="476.8" r="5" fill="#d8f000"/>
<circle cx="443.9" cy="476.8" r="2.1" fill="#ff6010"/>
<circle cx="462.8" cy="476.8" r="1.8" fill="#ff6010"/>
<circle cx="481.8" cy="476.8" r="2.6" fill="#ff6010"/>
<circle cx="500.7" cy="476.8" r="2.6" fill="#ff6010"/>
<circle cx="519.6" cy="476.8" r="2.2" fill="#ff6010"/>
<circle cx="538.6" cy="476.8" r="1.7" fill="#ff7010"/>
<circle cx="557.5" cy="476.8" r="3" fill="#ff5010"/>
<circle cx="576.5" cy="476.8" r="2.2" fill="#ff6010"/>
<circle cx="595.5" cy="476.8" r="1.6" fill="#ff7010"/>
<circle cx="614.4" cy="476.8" r="1.6" fill="#ff7010"/>
<circle cx="387" cy="491.7" r="2" fill="#ff5010"/>
<circle cx="405.9" cy="491.7" r="1.9" fill="#ff6010"/>
<circle cx="424.9" cy="491.7" r="3" fill="#e0d000"/>
<circle cx="443.9" cy="491.7" r="1.7" fill="#ff1010"/>
<circle cx="462.8" cy="491.7" r="2.2" fill="#ff3010"/>
<circle cx="481.8" cy="491.7" r="2.2" fill="#ff2010"/>
<circle cx="500.7" cy="491.7" r="2.2" fill="#ff1010"/>
<circle cx="519.6" cy="491.7" r="2.2" fill="#ff2010"/>
<circle cx="538.6" cy="491.7" r="1.5" fill="#ff1010"/>
<circle cx="557.5" cy="491.7" r="2.2" fill="#ff2010"/>
<circle cx="576.5" cy="491.7" r="2.1" fill="#ff2010"/>
<circle cx="595.5" cy="491.7" r="1.6" fill="#ff2010"/>
<circle cx="614.4" cy="491.7" r="1.5" fill="#ff2010"/>
<circle cx="387" cy="506.7" r="5" fill="#90f040"/>
<circle cx="405.9" cy="506.7" r="5" fill="#a0f030"/>
<circle cx="424.9" cy="506.7" r="5" fill="#a0f030"/>
<circle cx="443.9" cy="506.7" r="5" fill="#70f060"/>
<circle cx="462.8" cy="506.7" r="5" fill="#e0e000"/>
<circle cx="481.8" cy="506.7" r="5" fill="#40e090"/>
<circle cx="500.7" cy="506.7" r="5" fill="#70f060"/>
<circle cx="519.6" cy="506.7" r="5" fill="#80f050"/>
<circle cx="538.6" cy="506.7" r="5" fill="#a0f030"/>
<circle cx="557.5" cy="506.7" r="5" fill="#70f060"/>
<circle cx="576.5" cy="506.7" r="5" fill="#b0f020"/>
<circle cx="595.5" cy="506.7" r="5" fill="#c0f020"/>
<circle cx="614.4" cy="506.7" r="5" fill="#d0f010"/>
<circle cx="387" cy="521.6" r="5" fill="#e8c800"/>
<circle cx="405.9" cy="521.6" r="2" fill="#ff7010"/>
<circle cx="424.9" cy="521.6" r="3.5" fill="#f0a000"/>
<circle cx="443.9" cy="521.6" r="3.5" fill="#ff8010"/>
<circle cx="462.8" cy="521.6" r="4.2" fill="#f0b000"/>
<circle cx="481.8" cy="521.6" r="5" fill="#7050ff"/>
<circle cx="500.7" cy="521.6" r="5" fill="#4080f0"/>
<circle cx="519.6" cy="521.6" r="5" fill="#80f050"/>
<circle cx="538.6" cy="521.6" r="3.5" fill="#e8c000"/>
<circle cx="557.5" cy="521.6" r="5" fill="#d010ff"/>
<circle cx="576.5" cy="521.6" r="5" fill="#50f070"/>
<circle cx="595.5" cy="521.6" r="2.1" fill="#ff8010"/>
<circle cx="614.4" cy="521.6" r="4" fill="#f0b000"/>
<circle cx="387" cy="536.5" r="1.7" fill="#ff1010"/>
<circle cx="405.9" cy="536.5" r="1.6" fill="#ff1010"/>
<circle cx="424.9" cy="536.5" r="2" fill="#ff1010"/>
<circle cx="443.9" cy="536.5" r="1.9" fill="#ff1010"/>
<circle cx="462.8" cy="536.5" r="2.6" fill="#ff4000"/>
<circle cx="481.8" cy="536.5" r="2" fill="#ff2010"/>
<circle cx="500.7" cy="536.5" r="2" fill="#ff2010"/>
<circle cx="519.6" cy="536.5" r="2" fill="#ff2010"/>
<circle cx="538.6" cy="536.5" r="1.5" fill="#ff2010"/>
<circle cx="557.5" cy="536.5" r="2.1" fill="#ff2010"/>
<circle cx="576.5" cy="536.5" r="2" fill="#ff2010"/>
<circle cx="595.5" cy="536.5" r="1.7" fill="#ff2010"/>
<circle cx="614.4" cy="536.5" r="1.5" fill="#ff2010"/>
<circle cx="387" cy="551.5" r="5" fill="#e0d000"/>
<circle cx="405.9" cy="551.5" r="5" fill="#f0b000"/>
<circle cx="424.9" cy="551.5" r="5" fill="#70f060"/>
<circle cx="443.9" cy="551.5" r="5" fill="#e0e000"/>
<circle cx="462.8" cy="551.5" r="4.2" fill="#ff8000"/>
<circle cx="481.8" cy="551.5" r="5" fill="#c8f020"/>
<circle cx="500.7" cy="551.5" r="5" fill="#c8f020"/>
<circle cx="519.6" cy="551.5" r="4.2" fill="#f09000"/>
<circle cx="538.6" cy="551.5" r="2.2" fill="#ff5010"/>
<circle cx="557.5" cy="551.5" r="5" fill="#a0f030"/>
<circle cx="576.5" cy="551.5" r="4.8" fill="#f0a000"/>
<circle cx="595.5" cy="551.5" r="3.3" fill="#ff8000"/>
<circle cx="614.4" cy="551.5" r="1.7" fill="#ff5010"/>
<text x="638" y="393.6" font-size="7.8" fill="#111">MFI</text>
<defs><linearGradient id="gmfi" x1="0" y1="0" x2="0" y2="1"><stop offset="0" stop-color="#bb33ff"/><stop offset="0.2" stop-color="#5577ee"/><stop offset="0.4" stop-color="#33dd88"/><stop offset="0.6" stop-color="#aaff22"/><stop offset="0.8" stop-color="#ffbb00"/><stop offset="1" stop-color="#ff2200"/></linearGradient></defs>
<rect x="638.5" y="398.2" width="12.2" height="61.8" fill="url(#gmfi)" stroke="none" stroke-width="1"/>
<line x1="638.5" y1="399" x2="640.5" y2="399" stroke="#fff" stroke-width="0.5"/>
<line x1="648.7" y1="399" x2="650.7" y2="399" stroke="#fff" stroke-width="0.5"/>
<text x="654.5" y="401" font-size="5.6" fill="#333">12500</text>
<line x1="638.5" y1="411.6" x2="640.5" y2="411.6" stroke="#fff" stroke-width="0.5"/>
<line x1="648.7" y1="411.6" x2="650.7" y2="411.6" stroke="#fff" stroke-width="0.5"/>
<text x="654.5" y="413.6" font-size="5.6" fill="#333">10000</text>
<line x1="638.5" y1="424.4" x2="640.5" y2="424.4" stroke="#fff" stroke-width="0.5"/>
<line x1="648.7" y1="424.4" x2="650.7" y2="424.4" stroke="#fff" stroke-width="0.5"/>
<text x="654.5" y="426.4" font-size="5.6" fill="#333">7500</text>
<line x1="638.5" y1="437.1" x2="640.5" y2="437.1" stroke="#fff" stroke-width="0.5"/>
<line x1="648.7" y1="437.1" x2="650.7" y2="437.1" stroke="#fff" stroke-width="0.5"/>
<text x="654.5" y="439.1" font-size="5.6" fill="#333">5000</text>
<line x1="638.5" y1="449.9" x2="640.5" y2="449.9" stroke="#fff" stroke-width="0.5"/>
<line x1="648.7" y1="449.9" x2="650.7" y2="449.9" stroke="#fff" stroke-width="0.5"/>
<text x="654.5" y="451.9" font-size="5.6" fill="#333">2500</text>
<text x="637.3" y="483.2" font-size="7.8" fill="#111">% cells</text>
<circle cx="643.8" cy="494.4" r="2.5" fill="#000"/>
<text x="654.5" y="496.4" font-size="5.6" fill="#333">25</text>
<circle cx="643.8" cy="506.6" r="3.2" fill="#000"/>
<text x="654.5" y="508.6" font-size="5.6" fill="#333">50</text>
<circle cx="643.8" cy="518.8" r="3.9" fill="#000"/>
<text x="654.5" y="520.8" font-size="5.6" fill="#333">75</text>
<circle cx="643.8" cy="531.8" r="4.6" fill="#000"/>
<text x="654.5" y="533.8" font-size="5.6" fill="#333">100</text>
<text x="0.9" y="390.8" font-size="13.5" font-weight="bold" fill="#000">j</text>
<line x1="181.9" y1="375.5" x2="181.9" y2="388.6" stroke="#0f3fa6" stroke-width="1"/>
<rect x="175.1" y="378" width="13.6" height="8" fill="#fff" stroke="#0f3fa6" stroke-width="1.4"/>
<rect x="176" y="378.9" width="11.8" height="6.2" fill="#0f3fa6" stroke="none" stroke-width="1" fill-opacity="0.22"/>
<line x1="175.1" y1="382" x2="188.7" y2="382" stroke="#0f3fa6" stroke-width="1.4"/>
<text transform="translate(197.2 386.1) scale(0.930 1)" font-size="10" fill="#111">non-SD</text>
<line x1="255.5" y1="375.5" x2="255.5" y2="388.6" stroke="#f70f0f" stroke-width="1"/>
<rect x="248.7" y="378" width="13.6" height="8" fill="#fff" stroke="#f70f0f" stroke-width="1.4"/>
<rect x="249.6" y="378.9" width="11.8" height="6.2" fill="#f70f0f" stroke="none" stroke-width="1" fill-opacity="0.22"/>
<line x1="248.7" y1="382" x2="262.3" y2="382" stroke="#f70f0f" stroke-width="1.4"/>
<text transform="translate(270.4 386.1) scale(0.930 1)" font-size="10" fill="#111">SD</text>
<rect x="52.6" y="398.1" width="68.6" height="68.7" fill="#fff" stroke="none" stroke-width="1"/>
<line x1="52.6" y1="464.3" x2="121.2" y2="464.3" stroke="#ececec" stroke-width="0.6"/>
<line x1="52.6" y1="455.8" x2="121.2" y2="455.8" stroke="#f4f4f4" stroke-width="0.5"/>
<line x1="52.6" y1="447.4" x2="121.2" y2="447.4" stroke="#ececec" stroke-width="0.6"/>
<line x1="52.6" y1="438.9" x2="121.2" y2="438.9" stroke="#f4f4f4" stroke-width="0.5"/>
<line x1="52.6" y1="430.4" x2="121.2" y2="430.4" stroke="#ececec" stroke-width="0.6"/>
<line x1="52.6" y1="422" x2="121.2" y2="422" stroke="#f4f4f4" stroke-width="0.5"/>
<line x1="52.6" y1="413.5" x2="121.2" y2="413.5" stroke="#ececec" stroke-width="0.6"/>
<line x1="71.5" y1="398.1" x2="71.5" y2="466.8" stroke="#ececec" stroke-width="0.6"/>
<line x1="102.8" y1="398.1" x2="102.8" y2="466.8" stroke="#ececec" stroke-width="0.6"/>
<rect x="52.6" y="398.1" width="68.6" height="68.7" fill="none" stroke="#b8b8b8" stroke-width="0.8"/>
<line x1="51.1" y1="464.3" x2="52.6" y2="464.3" stroke="#777" stroke-width="0.5"/>
<text x="50.4" y="466.7" font-size="6.6" text-anchor="end" fill="#4d4d4d">0.0</text>
<line x1="51.1" y1="447.4" x2="52.6" y2="447.4" stroke="#777" stroke-width="0.5"/>
<text x="50.4" y="449.7" font-size="6.6" text-anchor="end" fill="#4d4d4d">2.5</text>
<line x1="51.1" y1="430.4" x2="52.6" y2="430.4" stroke="#777" stroke-width="0.5"/>
<text x="50.4" y="432.8" font-size="6.6" text-anchor="end" fill="#4d4d4d">5.0</text>
<line x1="51.1" y1="413.5" x2="52.6" y2="413.5" stroke="#777" stroke-width="0.5"/>
<text x="50.4" y="415.9" font-size="6.6" text-anchor="end" fill="#4d4d4d">7.5</text>
<line x1="71.5" y1="466.8" x2="71.5" y2="468.3" stroke="#777" stroke-width="0.5"/>
<line x1="102.8" y1="466.8" x2="102.8" y2="468.3" stroke="#777" stroke-width="0.5"/>
<text transform="translate(37.3 432.5) rotate(-90) scale(0.940 1)" font-size="10" text-anchor="middle" fill="#111">Cluster 1 (%)</text>
<g fill="#0f3fa6" fill-opacity="0.3">
<circle cx="63.5" cy="459.1" r="1.8"/>
<circle cx="64.4" cy="459.3" r="1.8"/>
<circle cx="68" cy="461" r="1.8"/>
<circle cx="64.4" cy="461.2" r="1.8"/>
<circle cx="65.8" cy="461.3" r="1.8"/>
<circle cx="65.9" cy="454.6" r="1.8"/>
<circle cx="67.5" cy="461.5" r="1.8"/>
<circle cx="64.8" cy="462.6" r="1.8"/>
<circle cx="68.3" cy="457.8" r="1.8"/>
<circle cx="63" cy="462.5" r="1.8"/>
<circle cx="69.2" cy="456.4" r="1.8"/>
<circle cx="61.2" cy="455.3" r="1.8"/>
<circle cx="67.7" cy="458.2" r="1.8"/>
<circle cx="65.3" cy="458.9" r="1.8"/>
<circle cx="68.2" cy="460.3" r="1.8"/>
<circle cx="62.4" cy="462.2" r="1.8"/>
<circle cx="61.9" cy="456.9" r="1.8"/>
<circle cx="67.4" cy="456.2" r="1.8"/>
<circle cx="64.5" cy="458.4" r="1.8"/>
<circle cx="63.4" cy="454.9" r="1.8"/>
</g>
<g fill="#0f3fa6" fill-opacity="0.45">
<circle cx="66" cy="454.9" r="1.8"/>
<circle cx="65.8" cy="461" r="1.8"/>
<circle cx="61.5" cy="457.3" r="1.8"/>
<circle cx="66" cy="458" r="1.8"/>
<circle cx="68.4" cy="461.2" r="1.8"/>
<circle cx="65.7" cy="459.4" r="1.8"/>
<circle cx="64.7" cy="459.9" r="1.8"/>
<circle cx="64.2" cy="453.7" r="1.8"/>
<circle cx="63.2" cy="458.5" r="1.8"/>
<circle cx="63.5" cy="459.1" r="1.8"/>
</g>
<line x1="65.2" y1="452.1" x2="65.2" y2="462.9" stroke="#0f3fa6" stroke-width="1.3"/>
<line x1="60.7" y1="452.1" x2="69.7" y2="452.1" stroke="#0f3fa6" stroke-width="1.3"/>
<line x1="60.7" y1="462.9" x2="69.7" y2="462.9" stroke="#0f3fa6" stroke-width="1.3"/>
<rect x="60.7" y="454.1" width="9" height="7" fill="none" stroke="#0f3fa6" stroke-width="1.3"/>
<line x1="60.7" y1="457.5" x2="69.7" y2="457.5" stroke="#0f3fa6" stroke-width="1.3"/>
<g fill="#f70f0f" fill-opacity="0.3">
<circle cx="76" cy="460.7" r="1.8"/>
<circle cx="73.1" cy="457.5" r="1.8"/>
<circle cx="78.2" cy="441.5" r="1.8"/>
<circle cx="73.5" cy="458.8" r="1.8"/>
<circle cx="73.4" cy="460.5" r="1.8"/>
<circle cx="74.2" cy="449" r="1.8"/>
<circle cx="73.9" cy="446.4" r="1.8"/>
<circle cx="79.6" cy="460.8" r="1.8"/>
</g>
<line x1="76.6" y1="438.6" x2="76.6" y2="461.6" stroke="#f70f0f" stroke-width="1.3"/>
<line x1="72.1" y1="438.6" x2="81.1" y2="438.6" stroke="#f70f0f" stroke-width="1.3"/>
<line x1="72.1" y1="461.6" x2="81.1" y2="461.6" stroke="#f70f0f" stroke-width="1.3"/>
<rect x="72.1" y="445.3" width="9" height="10.2" fill="none" stroke="#f70f0f" stroke-width="1.3"/>
<line x1="72.1" y1="454.8" x2="81.1" y2="454.8" stroke="#f70f0f" stroke-width="1.3"/>
<g fill="#0f3fa6" fill-opacity="0.3">
<circle cx="96.9" cy="461.7" r="1.8"/>
<circle cx="98.1" cy="459.7" r="1.8"/>
<circle cx="97.2" cy="460.4" r="1.8"/>
<circle cx="97.9" cy="459.2" r="1.8"/>
<circle cx="101.8" cy="460.5" r="1.8"/>
<circle cx="93.9" cy="457.9" r="1.8"/>
<circle cx="93.4" cy="460.4" r="1.8"/>
<circle cx="96" cy="455.7" r="1.8"/>
<circle cx="94" cy="462.8" r="1.8"/>
<circle cx="93.2" cy="456.2" r="1.8"/>
<circle cx="99.6" cy="458.1" r="1.8"/>
<circle cx="100.4" cy="459.7" r="1.8"/>
<circle cx="93" cy="459.1" r="1.8"/>
<circle cx="94.6" cy="457.9" r="1.8"/>
<circle cx="94.8" cy="461" r="1.8"/>
<circle cx="96.3" cy="459.1" r="1.8"/>
<circle cx="101.8" cy="460" r="1.8"/>
<circle cx="93.6" cy="457.9" r="1.8"/>
<circle cx="96.4" cy="459.1" r="1.8"/>
<circle cx="97.6" cy="461.1" r="1.8"/>
<circle cx="94.7" cy="457.4" r="1.8"/>
<circle cx="95.9" cy="455.3" r="1.8"/>
<circle cx="99.2" cy="455.7" r="1.8"/>
<circle cx="99" cy="456.2" r="1.8"/>
<circle cx="100.1" cy="457.4" r="1.8"/>
<circle cx="99.2" cy="459.9" r="1.8"/>
<circle cx="95.9" cy="455.1" r="1.8"/>
<circle cx="94.1" cy="460.1" r="1.8"/>
<circle cx="93" cy="457.2" r="1.8"/>
<circle cx="98.9" cy="457.7" r="1.8"/>
<circle cx="100.1" cy="402.7" r="1.8"/>
<circle cx="99.2" cy="410.1" r="1.8"/>
<circle cx="98.3" cy="422.3" r="1.8"/>
<circle cx="96.6" cy="428.4" r="1.8"/>
<circle cx="93.3" cy="429.1" r="1.8"/>
<circle cx="96.9" cy="441.3" r="1.8"/>
<circle cx="93.9" cy="448" r="1.8"/>
</g>
<g fill="#0f3fa6" fill-opacity="0.45">
<circle cx="99.8" cy="460.2" r="1.8"/>
<circle cx="100.9" cy="456.9" r="1.8"/>
<circle cx="99.4" cy="453.7" r="1.8"/>
<circle cx="94.3" cy="452.8" r="1.8"/>
<circle cx="98.6" cy="455.1" r="1.8"/>
<circle cx="94" cy="457.3" r="1.8"/>
<circle cx="101" cy="457.9" r="1.8"/>
<circle cx="101.3" cy="455.4" r="1.8"/>
<circle cx="93.5" cy="454.6" r="1.8"/>
<circle cx="100.5" cy="459" r="1.8"/>
<circle cx="97.3" cy="455.3" r="1.8"/>
<circle cx="96.4" cy="458.4" r="1.8"/>
<circle cx="96.1" cy="459.4" r="1.8"/>
<circle cx="98.2" cy="458.2" r="1.8"/>
<circle cx="94.4" cy="461.8" r="1.8"/>
</g>
<line x1="97.4" y1="450.1" x2="97.4" y2="463.6" stroke="#0f3fa6" stroke-width="1.3"/>
<line x1="92.4" y1="450.1" x2="102.4" y2="450.1" stroke="#0f3fa6" stroke-width="1.3"/>
<line x1="92.4" y1="463.6" x2="102.4" y2="463.6" stroke="#0f3fa6" stroke-width="1.3"/>
<rect x="92.4" y="454.8" width="10" height="6.1" fill="none" stroke="#0f3fa6" stroke-width="1.3"/>
<line x1="92.4" y1="458.2" x2="102.4" y2="458.2" stroke="#0f3fa6" stroke-width="1.3"/>
<g fill="#f70f0f" fill-opacity="0.3">
<circle cx="107.6" cy="463.3" r="1.8"/>
<circle cx="107.6" cy="459.1" r="1.8"/>
<circle cx="112.5" cy="458.5" r="1.8"/>
<circle cx="104.6" cy="457" r="1.8"/>
<circle cx="107.9" cy="458.5" r="1.8"/>
<circle cx="110.5" cy="459.3" r="1.8"/>
<circle cx="109.6" cy="456.8" r="1.8"/>
<circle cx="104.5" cy="461.6" r="1.8"/>
<circle cx="110.9" cy="458.2" r="1.8"/>
<circle cx="112" cy="462.8" r="1.8"/>
<circle cx="110.3" cy="463" r="1.8"/>
<circle cx="105.2" cy="455.9" r="1.8"/>
<circle cx="111.7" cy="457.4" r="1.8"/>
<circle cx="104.9" cy="457.8" r="1.8"/>
<circle cx="103.7" cy="454.5" r="1.8"/>
<circle cx="109.9" cy="455.5" r="1.8"/>
<circle cx="109.8" cy="457.8" r="1.8"/>
<circle cx="110.6" cy="459.5" r="1.8"/>
<circle cx="108.4" cy="462.1" r="1.8"/>
<circle cx="104.2" cy="459.4" r="1.8"/>
<circle cx="103.9" cy="462.9" r="1.8"/>
<circle cx="109.4" cy="460.3" r="1.8"/>
<circle cx="110.4" cy="463.2" r="1.8"/>
<circle cx="106.7" cy="458.2" r="1.8"/>
<circle cx="110.5" cy="463.1" r="1.8"/>
</g>
<line x1="108.1" y1="449.4" x2="108.1" y2="464.3" stroke="#f70f0f" stroke-width="1.3"/>
<line x1="103.1" y1="449.4" x2="113.1" y2="449.4" stroke="#f70f0f" stroke-width="1.3"/>
<line x1="103.1" y1="464.3" x2="113.1" y2="464.3" stroke="#f70f0f" stroke-width="1.3"/>
<rect x="103.1" y="453.5" width="10" height="8.8" fill="none" stroke="#f70f0f" stroke-width="1.3"/>
<line x1="103.1" y1="458.9" x2="113.1" y2="458.9" stroke="#f70f0f" stroke-width="1.3"/>
<line x1="65.2" y1="427.7" x2="77.5" y2="427.7" stroke="#777" stroke-width="1.1"/>
<path d="M71.35 422.62 L72.07 423.98 L73.58 424.25 L72.51 425.35 L72.73 426.87 L71.35 426.19 L69.97 426.87 L70.19 425.35 L69.12 424.25 L70.63 423.98 Z" fill="#111"/>
<path d="M76.6 418.2 V413.9 H108.7 V425.8" fill="none" stroke="#444" stroke-width="0.9"/>
<path d="M88.50 408.82 L89.22 410.18 L90.73 410.45 L89.66 411.55 L89.88 413.07 L88.50 412.39 L87.12 413.07 L87.34 411.55 L86.27 410.45 L87.78 410.18 Z" fill="#111"/>
<rect x="148.6" y="398.1" width="69.7" height="68.7" fill="#fff" stroke="none" stroke-width="1"/>
<line x1="148.6" y1="464.4" x2="218.3" y2="464.4" stroke="#ececec" stroke-width="0.6"/>
<line x1="148.6" y1="455.3" x2="218.3" y2="455.3" stroke="#f4f4f4" stroke-width="0.5"/>
<line x1="148.6" y1="446.2" x2="218.3" y2="446.2" stroke="#ececec" stroke-width="0.6"/>
<line x1="148.6" y1="437.1" x2="218.3" y2="437.1" stroke="#f4f4f4" stroke-width="0.5"/>
<line x1="148.6" y1="428" x2="218.3" y2="428" stroke="#ececec" stroke-width="0.6"/>
<line x1="148.6" y1="418.9" x2="218.3" y2="418.9" stroke="#f4f4f4" stroke-width="0.5"/>
<line x1="148.6" y1="409.8" x2="218.3" y2="409.8" stroke="#ececec" stroke-width="0.6"/>
<line x1="167" y1="398.1" x2="167" y2="466.8" stroke="#ececec" stroke-width="0.6"/>
<line x1="199" y1="398.1" x2="199" y2="466.8" stroke="#ececec" stroke-width="0.6"/>
<rect x="148.6" y="398.1" width="69.7" height="68.7" fill="none" stroke="#b8b8b8" stroke-width="0.8"/>
<line x1="147.1" y1="464.4" x2="148.6" y2="464.4" stroke="#777" stroke-width="0.5"/>
<text x="146.4" y="466.8" font-size="6.6" text-anchor="end" fill="#4d4d4d">0</text>
<line x1="147.1" y1="446.2" x2="148.6" y2="446.2" stroke="#777" stroke-width="0.5"/>
<text x="146.4" y="448.6" font-size="6.6" text-anchor="end" fill="#4d4d4d">10</text>
<line x1="147.1" y1="428" x2="148.6" y2="428" stroke="#777" stroke-width="0.5"/>
<text x="146.4" y="430.4" font-size="6.6" text-anchor="end" fill="#4d4d4d">20</text>
<line x1="147.1" y1="409.8" x2="148.6" y2="409.8" stroke="#777" stroke-width="0.5"/>
<text x="146.4" y="412.2" font-size="6.6" text-anchor="end" fill="#4d4d4d">30</text>
<line x1="167" y1="466.8" x2="167" y2="468.3" stroke="#777" stroke-width="0.5"/>
<line x1="199" y1="466.8" x2="199" y2="468.3" stroke="#777" stroke-width="0.5"/>
<text transform="translate(134.4 432.5) rotate(-90) scale(0.940 1)" font-size="10" text-anchor="middle" fill="#111">Cluster 6 (%)</text>
<g fill="#0f3fa6" fill-opacity="0.3">
<circle cx="162.4" cy="462.2" r="1.8"/>
<circle cx="157.5" cy="463.8" r="1.8"/>
<circle cx="164.1" cy="461.6" r="1.8"/>
<circle cx="162.7" cy="463.8" r="1.8"/>
<circle cx="158.9" cy="462.8" r="1.8"/>
<circle cx="160.2" cy="464.2" r="1.8"/>
<circle cx="162.6" cy="464" r="1.8"/>
<circle cx="164.4" cy="462.5" r="1.8"/>
<circle cx="160.4" cy="461.3" r="1.8"/>
<circle cx="163.7" cy="460.8" r="1.8"/>
<circle cx="164.8" cy="460.8" r="1.8"/>
<circle cx="164.9" cy="464.3" r="1.8"/>
<circle cx="162.2" cy="462.1" r="1.8"/>
<circle cx="163.8" cy="461.8" r="1.8"/>
<circle cx="157.8" cy="461" r="1.8"/>
<circle cx="162.9" cy="456.2" r="1.8"/>
</g>
<g fill="#0f3fa6" fill-opacity="0.45">
<circle cx="160" cy="460.5" r="1.8"/>
<circle cx="160" cy="460.5" r="1.8"/>
<circle cx="159.8" cy="460.6" r="1.8"/>
<circle cx="162.2" cy="461.9" r="1.8"/>
<circle cx="157.8" cy="463.9" r="1.8"/>
<circle cx="160.6" cy="462.8" r="1.8"/>
<circle cx="164.9" cy="461.5" r="1.8"/>
<circle cx="158.2" cy="460.1" r="1.8"/>
<circle cx="158.1" cy="461.2" r="1.8"/>
<circle cx="158" cy="464.1" r="1.8"/>
<circle cx="162.9" cy="460.3" r="1.8"/>
<circle cx="161.8" cy="462" r="1.8"/>
<circle cx="158" cy="461.6" r="1.8"/>
<circle cx="164.5" cy="462.2" r="1.8"/>
<circle cx="162.9" cy="464.3" r="1.8"/>
<circle cx="161.5" cy="464.1" r="1.8"/>
<circle cx="157.8" cy="463.6" r="1.8"/>
<circle cx="160.6" cy="464.1" r="1.8"/>
<circle cx="158.3" cy="460" r="1.8"/>
</g>
<line x1="161.2" y1="458.9" x2="161.2" y2="464.4" stroke="#0f3fa6" stroke-width="1.3"/>
<line x1="156.7" y1="458.9" x2="165.7" y2="458.9" stroke="#0f3fa6" stroke-width="1.3"/>
<line x1="156.7" y1="464.4" x2="165.7" y2="464.4" stroke="#0f3fa6" stroke-width="1.3"/>
<rect x="156.7" y="460.8" width="9" height="2.7" fill="none" stroke="#0f3fa6" stroke-width="1.3"/>
<line x1="156.7" y1="462.6" x2="165.7" y2="462.6" stroke="#0f3fa6" stroke-width="1.3"/>
<g fill="#f70f0f" fill-opacity="0.3">
<circle cx="169.2" cy="459.2" r="1.8"/>
<circle cx="173.7" cy="459.9" r="1.8"/>
<circle cx="174.8" cy="453.6" r="1.8"/>
<circle cx="169.3" cy="454.9" r="1.8"/>
<circle cx="173.1" cy="452" r="1.8"/>
<circle cx="175.4" cy="453.6" r="1.8"/>
<circle cx="174.2" cy="455.5" r="1.8"/>
<circle cx="171.8" cy="461.7" r="1.8"/>
</g>
<line x1="172.8" y1="443.5" x2="172.8" y2="463.5" stroke="#f70f0f" stroke-width="1.3"/>
<line x1="168.3" y1="443.5" x2="177.3" y2="443.5" stroke="#f70f0f" stroke-width="1.3"/>
<line x1="168.3" y1="463.5" x2="177.3" y2="463.5" stroke="#f70f0f" stroke-width="1.3"/>
<rect x="168.3" y="453.5" width="9" height="8.2" fill="none" stroke="#f70f0f" stroke-width="1.3"/>
<line x1="168.3" y1="458.9" x2="177.3" y2="458.9" stroke="#f70f0f" stroke-width="1.3"/>
<g fill="#0f3fa6" fill-opacity="0.3">
<circle cx="190.7" cy="462.7" r="1.8"/>
<circle cx="191.6" cy="446.7" r="1.8"/>
<circle cx="190.4" cy="426.7" r="1.8"/>
<circle cx="191.1" cy="461.6" r="1.8"/>
<circle cx="189.7" cy="457" r="1.8"/>
<circle cx="194.1" cy="451.6" r="1.8"/>
<circle cx="196.7" cy="454.3" r="1.8"/>
<circle cx="191.8" cy="461.8" r="1.8"/>
<circle cx="196.3" cy="445.2" r="1.8"/>
<circle cx="196.6" cy="459.4" r="1.8"/>
<circle cx="194" cy="448.5" r="1.8"/>
<circle cx="196.6" cy="453" r="1.8"/>
<circle cx="191.1" cy="455.7" r="1.8"/>
<circle cx="194.3" cy="457.6" r="1.8"/>
<circle cx="194.6" cy="459.5" r="1.8"/>
<circle cx="188.8" cy="452.9" r="1.8"/>
<circle cx="197.7" cy="447.8" r="1.8"/>
<circle cx="191.1" cy="456.7" r="1.8"/>
<circle cx="193.5" cy="446.7" r="1.8"/>
<circle cx="195.9" cy="442" r="1.8"/>
<circle cx="193.1" cy="461.6" r="1.8"/>
<circle cx="189.9" cy="452.4" r="1.8"/>
<circle cx="197.7" cy="448.1" r="1.8"/>
<circle cx="196.6" cy="446.3" r="1.8"/>
<circle cx="193.2" cy="445.7" r="1.8"/>
<circle cx="191.7" cy="464.1" r="1.8"/>
<circle cx="188.8" cy="463.4" r="1.8"/>
<circle cx="191.6" cy="457.5" r="1.8"/>
<circle cx="197.6" cy="455.1" r="1.8"/>
<circle cx="195.6" cy="460.7" r="1.8"/>
<circle cx="190.1" cy="462.6" r="1.8"/>
<circle cx="194.6" cy="446.7" r="1.8"/>
<circle cx="189.6" cy="452.7" r="1.8"/>
<circle cx="193.2" cy="461.5" r="1.8"/>
<circle cx="197.4" cy="461" r="1.8"/>
<circle cx="189" cy="442.8" r="1.8"/>
<circle cx="193.3" cy="463.1" r="1.8"/>
<circle cx="197.5" cy="463.3" r="1.8"/>
<circle cx="189.7" cy="452.2" r="1.8"/>
<circle cx="192.8" cy="455.6" r="1.8"/>
<circle cx="196" cy="426.8" r="1.8"/>
<circle cx="196.4" cy="446.5" r="1.8"/>
<circle cx="193.6" cy="459.6" r="1.8"/>
<circle cx="194" cy="445.5" r="1.8"/>
<circle cx="193.7" cy="463.8" r="1.8"/>
<circle cx="194.9" cy="423.4" r="1.8"/>
<circle cx="197.6" cy="424.4" r="1.8"/>
</g>
<g fill="#0f3fa6" fill-opacity="0.45">
<circle cx="190.8" cy="447" r="1.8"/>
<circle cx="193.2" cy="457.1" r="1.8"/>
<circle cx="195.9" cy="446.8" r="1.8"/>
<circle cx="190.5" cy="456.1" r="1.8"/>
<circle cx="195.6" cy="460.5" r="1.8"/>
<circle cx="188.9" cy="461.9" r="1.8"/>
<circle cx="196.1" cy="452.2" r="1.8"/>
<circle cx="191.2" cy="439.4" r="1.8"/>
<circle cx="189.8" cy="454.3" r="1.8"/>
<circle cx="190.6" cy="459.4" r="1.8"/>
<circle cx="195.2" cy="443.8" r="1.8"/>
<circle cx="195.8" cy="446" r="1.8"/>
<circle cx="197.5" cy="457.8" r="1.8"/>
<circle cx="191.2" cy="450" r="1.8"/>
<circle cx="191" cy="443.5" r="1.8"/>
<circle cx="195.6" cy="462.2" r="1.8"/>
<circle cx="197.7" cy="459.5" r="1.8"/>
<circle cx="191.8" cy="442.7" r="1.8"/>
<circle cx="194.1" cy="439.7" r="1.8"/>
<circle cx="191.4" cy="449.7" r="1.8"/>
<circle cx="194.3" cy="441.3" r="1.8"/>
<circle cx="191.6" cy="455.7" r="1.8"/>
</g>
<line x1="193.3" y1="426.2" x2="193.3" y2="464.4" stroke="#0f3fa6" stroke-width="1.3"/>
<line x1="188.3" y1="426.2" x2="198.3" y2="426.2" stroke="#0f3fa6" stroke-width="1.3"/>
<line x1="188.3" y1="464.4" x2="198.3" y2="464.4" stroke="#0f3fa6" stroke-width="1.3"/>
<rect x="188.3" y="444.4" width="10" height="12.7" fill="none" stroke="#0f3fa6" stroke-width="1.3"/>
<line x1="188.3" y1="451.7" x2="198.3" y2="451.7" stroke="#0f3fa6" stroke-width="1.3"/>
<g fill="#f70f0f" fill-opacity="0.3">
<circle cx="202.2" cy="452.9" r="1.8"/>
<circle cx="206.4" cy="458" r="1.8"/>
<circle cx="200.7" cy="453.2" r="1.8"/>
<circle cx="201.9" cy="444.6" r="1.8"/>
<circle cx="203.3" cy="455.2" r="1.8"/>
<circle cx="201.2" cy="447.5" r="1.8"/>
<circle cx="207.8" cy="459.7" r="1.8"/>
<circle cx="205.7" cy="453.1" r="1.8"/>
<circle cx="208" cy="456" r="1.8"/>
<circle cx="204.7" cy="449.6" r="1.8"/>
<circle cx="205.5" cy="452.5" r="1.8"/>
<circle cx="200.8" cy="442.8" r="1.8"/>
<circle cx="208.9" cy="454.6" r="1.8"/>
<circle cx="203.3" cy="462.2" r="1.8"/>
<circle cx="206.3" cy="450" r="1.8"/>
<circle cx="208.1" cy="457.6" r="1.8"/>
<circle cx="204.2" cy="459.8" r="1.8"/>
<circle cx="203.6" cy="452.9" r="1.8"/>
<circle cx="207.4" cy="459.9" r="1.8"/>
<circle cx="207.7" cy="448.2" r="1.8"/>
<circle cx="208.7" cy="452.5" r="1.8"/>
<circle cx="204.1" cy="450.2" r="1.8"/>
<circle cx="203.5" cy="450.3" r="1.8"/>
<circle cx="205" cy="453.8" r="1.8"/>
<circle cx="205.9" cy="449.7" r="1.8"/>
<circle cx="206.6" cy="400.7" r="1.8"/>
<circle cx="208" cy="415.3" r="1.8"/>
<circle cx="206.2" cy="422.5" r="1.8"/>
<circle cx="202.8" cy="431.6" r="1.8"/>
<circle cx="207.5" cy="435.3" r="1.8"/>
</g>
<line x1="205" y1="442.6" x2="205" y2="462.6" stroke="#f70f0f" stroke-width="1.3"/>
<line x1="200" y1="442.6" x2="210" y2="442.6" stroke="#f70f0f" stroke-width="1.3"/>
<line x1="200" y1="462.6" x2="210" y2="462.6" stroke="#f70f0f" stroke-width="1.3"/>
<rect x="200" y="448" width="10" height="7.3" fill="none" stroke="#f70f0f" stroke-width="1.3"/>
<line x1="200" y1="451.7" x2="210" y2="451.7" stroke="#f70f0f" stroke-width="1.3"/>
<line x1="161.2" y1="437.6" x2="172.8" y2="437.6" stroke="#777" stroke-width="1.1"/>
<path d="M164.80 432.52 L165.52 433.88 L167.03 434.15 L165.96 435.25 L166.18 436.77 L164.80 436.09 L163.42 436.77 L163.64 435.25 L162.57 434.15 L164.08 433.88 Z" fill="#111"/>
<path d="M169.20 432.52 L169.92 433.88 L171.43 434.15 L170.36 435.25 L170.58 436.77 L169.20 436.09 L167.82 436.77 L168.04 435.25 L166.97 434.15 L168.48 433.88 Z" fill="#111"/>
<path d="M160.3 428.8 V418.6 H193.3 V421.5" fill="none" stroke="#444" stroke-width="0.9"/>
<path d="M170.20 413.52 L170.92 414.88 L172.43 415.15 L171.36 416.25 L171.58 417.77 L170.20 417.09 L168.82 417.77 L169.04 416.25 L167.97 415.15 L169.48 414.88 Z" fill="#111"/>
<path d="M174.60 413.52 L175.32 414.88 L176.83 415.15 L175.76 416.25 L175.98 417.77 L174.60 417.09 L173.22 417.77 L173.44 416.25 L172.37 415.15 L173.88 414.88 Z" fill="#111"/>
<path d="M179.00 413.52 L179.72 414.88 L181.23 415.15 L180.16 416.25 L180.38 417.77 L179.00 417.09 L177.62 417.77 L177.84 416.25 L176.77 415.15 L178.28 414.88 Z" fill="#111"/>
<path d="M183.40 413.52 L184.12 414.88 L185.63 415.15 L184.56 416.25 L184.78 417.77 L183.40 417.09 L182.02 417.77 L182.24 416.25 L181.17 415.15 L182.68 414.88 Z" fill="#111"/>
<path d="M172.3 412.7 V406.9 H205.8 V413.5" fill="none" stroke="#444" stroke-width="0.9"/>
<path d="M189.05 401.82 L189.77 403.18 L191.28 403.45 L190.21 404.55 L190.43 406.07 L189.05 405.39 L187.67 406.07 L187.89 404.55 L186.82 403.45 L188.33 403.18 Z" fill="#111"/>
<rect x="241.9" y="398" width="73.9" height="68.8" fill="#fff" stroke="none" stroke-width="1"/>
<line x1="241.9" y1="464" x2="315.8" y2="464" stroke="#ececec" stroke-width="0.6"/>
<line x1="241.9" y1="456" x2="315.8" y2="456" stroke="#f4f4f4" stroke-width="0.5"/>
<line x1="241.9" y1="447.9" x2="315.8" y2="447.9" stroke="#ececec" stroke-width="0.6"/>
<line x1="241.9" y1="439.9" x2="315.8" y2="439.9" stroke="#f4f4f4" stroke-width="0.5"/>
<line x1="241.9" y1="431.9" x2="315.8" y2="431.9" stroke="#ececec" stroke-width="0.6"/>
<line x1="241.9" y1="423.9" x2="315.8" y2="423.9" stroke="#f4f4f4" stroke-width="0.5"/>
<line x1="241.9" y1="415.9" x2="315.8" y2="415.9" stroke="#ececec" stroke-width="0.6"/>
<line x1="241.9" y1="407.8" x2="315.8" y2="407.8" stroke="#f4f4f4" stroke-width="0.5"/>
<line x1="241.9" y1="399.8" x2="315.8" y2="399.8" stroke="#ececec" stroke-width="0.6"/>
<line x1="261.7" y1="398" x2="261.7" y2="466.8" stroke="#ececec" stroke-width="0.6"/>
<line x1="295.2" y1="398" x2="295.2" y2="466.8" stroke="#ececec" stroke-width="0.6"/>
<rect x="241.9" y="398" width="73.9" height="68.8" fill="none" stroke="#b8b8b8" stroke-width="0.8"/>
<line x1="240.4" y1="464" x2="241.9" y2="464" stroke="#777" stroke-width="0.5"/>
<text x="239.7" y="466.4" font-size="6.6" text-anchor="end" fill="#4d4d4d">0</text>
<line x1="240.4" y1="447.9" x2="241.9" y2="447.9" stroke="#777" stroke-width="0.5"/>
<text x="239.7" y="450.3" font-size="6.6" text-anchor="end" fill="#4d4d4d">2</text>
<line x1="240.4" y1="431.9" x2="241.9" y2="431.9" stroke="#777" stroke-width="0.5"/>
<text x="239.7" y="434.3" font-size="6.6" text-anchor="end" fill="#4d4d4d">4</text>
<line x1="240.4" y1="415.9" x2="241.9" y2="415.9" stroke="#777" stroke-width="0.5"/>
<text x="239.7" y="418.2" font-size="6.6" text-anchor="end" fill="#4d4d4d">6</text>
<line x1="240.4" y1="399.8" x2="241.9" y2="399.8" stroke="#777" stroke-width="0.5"/>
<text x="239.7" y="402.2" font-size="6.6" text-anchor="end" fill="#4d4d4d">8</text>
<line x1="261.7" y1="466.8" x2="261.7" y2="468.3" stroke="#777" stroke-width="0.5"/>
<line x1="295.2" y1="466.8" x2="295.2" y2="468.3" stroke="#777" stroke-width="0.5"/>
<text transform="translate(231.4 432.4) rotate(-90) scale(0.940 1)" font-size="10" text-anchor="middle" fill="#111">Cluster 7 (%)</text>
<g fill="#0f3fa6" fill-opacity="0.3">
<circle cx="261.5" cy="464" r="1.8"/>
<circle cx="257.9" cy="462.6" r="1.8"/>
<circle cx="256.3" cy="463.4" r="1.8"/>
<circle cx="257.8" cy="462.8" r="1.8"/>
<circle cx="254.9" cy="463.2" r="1.8"/>
<circle cx="258.6" cy="463.4" r="1.8"/>
<circle cx="261.6" cy="462.7" r="1.8"/>
<circle cx="259.2" cy="463.2" r="1.8"/>
<circle cx="254" cy="463.8" r="1.8"/>
<circle cx="260.8" cy="463.2" r="1.8"/>
</g>
<g fill="#0f3fa6" fill-opacity="0.45">
<circle cx="254.2" cy="463.5" r="1.8"/>
<circle cx="258.3" cy="463.3" r="1.8"/>
<circle cx="262" cy="464" r="1.8"/>
<circle cx="254" cy="463" r="1.8"/>
<circle cx="261.9" cy="462.4" r="1.8"/>
<circle cx="255.2" cy="463.9" r="1.8"/>
<circle cx="256.9" cy="463.7" r="1.8"/>
<circle cx="254.2" cy="463.1" r="1.8"/>
<circle cx="260.2" cy="461.7" r="1.8"/>
<circle cx="259.1" cy="463.3" r="1.8"/>
<circle cx="260.4" cy="462.8" r="1.8"/>
<circle cx="261.7" cy="463.4" r="1.8"/>
<circle cx="259" cy="462.2" r="1.8"/>
<circle cx="259.2" cy="462.6" r="1.8"/>
<circle cx="261.2" cy="463.9" r="1.8"/>
<circle cx="255.6" cy="462.8" r="1.8"/>
<circle cx="259.8" cy="463.1" r="1.8"/>
<circle cx="255.7" cy="462.1" r="1.8"/>
<circle cx="262" cy="463.1" r="1.8"/>
</g>
<line x1="258" y1="461.6" x2="258" y2="464" stroke="#0f3fa6" stroke-width="1.3"/>
<line x1="258" y1="461.6" x2="258" y2="461.6" stroke="#0f3fa6" stroke-width="1.3"/>
<line x1="258" y1="464" x2="258" y2="464" stroke="#0f3fa6" stroke-width="1.3"/>
<rect x="253.5" y="462.4" width="9" height="1.2" fill="none" stroke="#0f3fa6" stroke-width="1.3"/>
<line x1="253.5" y1="463" x2="262.5" y2="463" stroke="#0f3fa6" stroke-width="1.3"/>
<g fill="#f70f0f" fill-opacity="0.3">
<circle cx="270.9" cy="458.1" r="1.8"/>
<circle cx="265.8" cy="463.6" r="1.8"/>
<circle cx="271.2" cy="462.3" r="1.8"/>
<circle cx="267.5" cy="463.4" r="1.8"/>
<circle cx="266.7" cy="454.2" r="1.8"/>
<circle cx="265.1" cy="463.7" r="1.8"/>
<circle cx="265.4" cy="446.1" r="1.8"/>
<circle cx="264.2" cy="450.8" r="1.8"/>
</g>
<line x1="268" y1="433.5" x2="268" y2="464" stroke="#f70f0f" stroke-width="1.3"/>
<line x1="263.5" y1="433.5" x2="272.5" y2="433.5" stroke="#f70f0f" stroke-width="1.3"/>
<line x1="263.5" y1="464" x2="272.5" y2="464" stroke="#f70f0f" stroke-width="1.3"/>
<rect x="263.5" y="450.4" width="9" height="12.8" fill="none" stroke="#f70f0f" stroke-width="1.3"/>
<line x1="263.5" y1="461.6" x2="272.5" y2="461.6" stroke="#f70f0f" stroke-width="1.3"/>
<g fill="#0f3fa6" fill-opacity="0.3">
<circle cx="291.6" cy="452.9" r="1.8"/>
<circle cx="289.7" cy="459.6" r="1.8"/>
<circle cx="286" cy="458.4" r="1.8"/>
<circle cx="289.9" cy="457.1" r="1.8"/>
<circle cx="293.4" cy="453.2" r="1.8"/>
<circle cx="293.2" cy="431.5" r="1.8"/>
<circle cx="285.7" cy="449.4" r="1.8"/>
<circle cx="290.8" cy="440" r="1.8"/>
<circle cx="285.3" cy="438" r="1.8"/>
<circle cx="292.3" cy="460.2" r="1.8"/>
<circle cx="287.4" cy="456.4" r="1.8"/>
<circle cx="290.2" cy="454" r="1.8"/>
<circle cx="292.7" cy="446.4" r="1.8"/>
<circle cx="288.5" cy="455.2" r="1.8"/>
<circle cx="287.4" cy="458.4" r="1.8"/>
<circle cx="285" cy="446.7" r="1.8"/>
<circle cx="290.5" cy="446.9" r="1.8"/>
<circle cx="290.5" cy="456.5" r="1.8"/>
<circle cx="290.6" cy="450.9" r="1.8"/>
<circle cx="285.3" cy="446.7" r="1.8"/>
<circle cx="287.5" cy="453.7" r="1.8"/>
<circle cx="287" cy="451.8" r="1.8"/>
<circle cx="285.9" cy="456.6" r="1.8"/>
<circle cx="285.5" cy="451.4" r="1.8"/>
<circle cx="286.6" cy="459.7" r="1.8"/>
<circle cx="292.2" cy="453.6" r="1.8"/>
<circle cx="292.3" cy="456.2" r="1.8"/>
<circle cx="290" cy="463.2" r="1.8"/>
<circle cx="287.4" cy="454.6" r="1.8"/>
<circle cx="287.5" cy="444.1" r="1.8"/>
<circle cx="292.6" cy="462.9" r="1.8"/>
<circle cx="285.7" cy="448.5" r="1.8"/>
<circle cx="285.5" cy="432" r="1.8"/>
<circle cx="293" cy="445.7" r="1.8"/>
<circle cx="287" cy="447.6" r="1.8"/>
<circle cx="293.1" cy="460.8" r="1.8"/>
<circle cx="287.1" cy="453.7" r="1.8"/>
<circle cx="285.4" cy="456.3" r="1.8"/>
<circle cx="287.4" cy="456.4" r="1.8"/>
<circle cx="292.2" cy="453.5" r="1.8"/>
<circle cx="292.2" cy="401.4" r="1.8"/>
<circle cx="290" cy="423.1" r="1.8"/>
</g>
<g fill="#0f3fa6" fill-opacity="0.45">
<circle cx="288.5" cy="448.4" r="1.8"/>
<circle cx="292.9" cy="453.3" r="1.8"/>
<circle cx="285.5" cy="452" r="1.8"/>
<circle cx="287.9" cy="446.9" r="1.8"/>
<circle cx="293" cy="454" r="1.8"/>
<circle cx="288.7" cy="444.8" r="1.8"/>
<circle cx="286.2" cy="437.9" r="1.8"/>
<circle cx="293.3" cy="457.6" r="1.8"/>
<circle cx="291.2" cy="459.4" r="1.8"/>
<circle cx="285.4" cy="454.8" r="1.8"/>
<circle cx="291" cy="437.3" r="1.8"/>
<circle cx="286.4" cy="453.9" r="1.8"/>
<circle cx="291.3" cy="443.4" r="1.8"/>
<circle cx="284.8" cy="454.6" r="1.8"/>
<circle cx="289.4" cy="453.1" r="1.8"/>
<circle cx="291.4" cy="454.3" r="1.8"/>
<circle cx="286.5" cy="449.9" r="1.8"/>
<circle cx="285.7" cy="448" r="1.8"/>
<circle cx="293.3" cy="443.6" r="1.8"/>
<circle cx="286.1" cy="456.3" r="1.8"/>
<circle cx="286.7" cy="447.1" r="1.8"/>
<circle cx="289" cy="459.4" r="1.8"/>
</g>
<line x1="289" y1="428.7" x2="289" y2="464" stroke="#0f3fa6" stroke-width="1.3"/>
<line x1="284" y1="428.7" x2="294" y2="428.7" stroke="#0f3fa6" stroke-width="1.3"/>
<line x1="284" y1="464" x2="294" y2="464" stroke="#0f3fa6" stroke-width="1.3"/>
<rect x="284" y="445.5" width="10" height="12" fill="none" stroke="#0f3fa6" stroke-width="1.3"/>
<line x1="284" y1="453.6" x2="294" y2="453.6" stroke="#0f3fa6" stroke-width="1.3"/>
<g fill="#f70f0f" fill-opacity="0.3">
<circle cx="301.2" cy="451.3" r="1.8"/>
<circle cx="304.3" cy="456.1" r="1.8"/>
<circle cx="305.8" cy="459.6" r="1.8"/>
<circle cx="298.2" cy="461.1" r="1.8"/>
<circle cx="305.7" cy="453" r="1.8"/>
<circle cx="299.4" cy="460.3" r="1.8"/>
<circle cx="305.7" cy="450" r="1.8"/>
<circle cx="300.6" cy="460.7" r="1.8"/>
<circle cx="304.1" cy="455" r="1.8"/>
<circle cx="302" cy="458.4" r="1.8"/>
<circle cx="302.7" cy="453.4" r="1.8"/>
<circle cx="297.5" cy="451.9" r="1.8"/>
<circle cx="298.1" cy="454.4" r="1.8"/>
<circle cx="305.1" cy="437.2" r="1.8"/>
<circle cx="297.4" cy="448.3" r="1.8"/>
<circle cx="302.4" cy="458.4" r="1.8"/>
<circle cx="305.5" cy="459.4" r="1.8"/>
<circle cx="302.6" cy="449.8" r="1.8"/>
<circle cx="302.1" cy="449.4" r="1.8"/>
<circle cx="303.3" cy="459.6" r="1.8"/>
<circle cx="304" cy="449.9" r="1.8"/>
<circle cx="299.5" cy="460.2" r="1.8"/>
<circle cx="297.9" cy="454.2" r="1.8"/>
<circle cx="299.7" cy="460.9" r="1.8"/>
<circle cx="302.6" cy="458.2" r="1.8"/>
<circle cx="298.8" cy="406.2" r="1.8"/>
<circle cx="300.1" cy="414.2" r="1.8"/>
</g>
<line x1="301.4" y1="436.7" x2="301.4" y2="464" stroke="#f70f0f" stroke-width="1.3"/>
<line x1="296.4" y1="436.7" x2="306.4" y2="436.7" stroke="#f70f0f" stroke-width="1.3"/>
<line x1="296.4" y1="464" x2="306.4" y2="464" stroke="#f70f0f" stroke-width="1.3"/>
<rect x="296.4" y="447.9" width="10" height="10.4" fill="none" stroke="#f70f0f" stroke-width="1.3"/>
<line x1="296.4" y1="456" x2="306.4" y2="456" stroke="#f70f0f" stroke-width="1.3"/>
<line x1="256.3" y1="427.6" x2="268" y2="427.6" stroke="#777" stroke-width="1.1"/>
<path d="M262.15 422.52 L262.87 423.88 L264.38 424.15 L263.31 425.25 L263.53 426.77 L262.15 426.09 L260.77 426.77 L260.99 425.25 L259.92 424.15 L261.43 423.88 Z" fill="#111"/>
<path d="M256.3 419.1 V413.4 H289.5 V419.1" fill="none" stroke="#444" stroke-width="0.9"/>
<path d="M266.30 408.32 L267.02 409.68 L268.53 409.95 L267.46 411.05 L267.68 412.57 L266.30 411.89 L264.92 412.57 L265.14 411.05 L264.07 409.95 L265.58 409.68 Z" fill="#111"/>
<path d="M270.70 408.32 L271.42 409.68 L272.93 409.95 L271.86 411.05 L272.08 412.57 L270.70 411.89 L269.32 412.57 L269.54 411.05 L268.47 409.95 L269.98 409.68 Z" fill="#111"/>
<path d="M275.10 408.32 L275.82 409.68 L277.33 409.95 L276.26 411.05 L276.48 412.57 L275.10 411.89 L273.72 412.57 L273.94 411.05 L272.87 409.95 L274.38 409.68 Z" fill="#111"/>
<path d="M279.50 408.32 L280.22 409.68 L281.73 409.95 L280.66 411.05 L280.88 412.57 L279.50 411.89 L278.12 412.57 L278.34 411.05 L277.27 409.95 L278.78 409.68 Z" fill="#111"/>
<rect x="50.9" y="474.5" width="70.2" height="68.7" fill="#fff" stroke="none" stroke-width="1"/>
<line x1="50.9" y1="527.6" x2="121.1" y2="527.6" stroke="#ececec" stroke-width="0.6"/>
<line x1="50.9" y1="517" x2="121.1" y2="517" stroke="#f4f4f4" stroke-width="0.5"/>
<line x1="50.9" y1="506.5" x2="121.1" y2="506.5" stroke="#ececec" stroke-width="0.6"/>
<line x1="50.9" y1="495.9" x2="121.1" y2="495.9" stroke="#f4f4f4" stroke-width="0.5"/>
<line x1="50.9" y1="485.4" x2="121.1" y2="485.4" stroke="#ececec" stroke-width="0.6"/>
<line x1="70.4" y1="474.5" x2="70.4" y2="543.2" stroke="#ececec" stroke-width="0.6"/>
<line x1="101.8" y1="474.5" x2="101.8" y2="543.2" stroke="#ececec" stroke-width="0.6"/>
<rect x="50.9" y="474.5" width="70.2" height="68.7" fill="none" stroke="#b8b8b8" stroke-width="0.8"/>
<line x1="49.4" y1="527.6" x2="50.9" y2="527.6" stroke="#777" stroke-width="0.5"/>
<text x="48.7" y="530" font-size="6.6" text-anchor="end" fill="#4d4d4d">5</text>
<line x1="49.4" y1="506.5" x2="50.9" y2="506.5" stroke="#777" stroke-width="0.5"/>
<text x="48.7" y="508.9" font-size="6.6" text-anchor="end" fill="#4d4d4d">10</text>
<line x1="49.4" y1="485.4" x2="50.9" y2="485.4" stroke="#777" stroke-width="0.5"/>
<text x="48.7" y="487.8" font-size="6.6" text-anchor="end" fill="#4d4d4d">15</text>
<line x1="70.4" y1="543.2" x2="70.4" y2="544.7" stroke="#777" stroke-width="0.5"/>
<line x1="101.8" y1="543.2" x2="101.8" y2="544.7" stroke="#777" stroke-width="0.5"/>
<text transform="translate(36.9 508.9) rotate(-90) scale(0.940 1)" font-size="10" text-anchor="middle" fill="#111">Cluster 9 (%)</text>
<g fill="#0f3fa6" fill-opacity="0.3">
<circle cx="60.1" cy="516.4" r="1.8"/>
<circle cx="62.5" cy="524.2" r="1.8"/>
<circle cx="63.7" cy="508.1" r="1.8"/>
<circle cx="64.3" cy="530.1" r="1.8"/>
<circle cx="67.2" cy="517.2" r="1.8"/>
<circle cx="65.7" cy="517.9" r="1.8"/>
<circle cx="62.7" cy="516.8" r="1.8"/>
<circle cx="67.9" cy="518.3" r="1.8"/>
<circle cx="64.9" cy="525.2" r="1.8"/>
<circle cx="60.5" cy="525.5" r="1.8"/>
<circle cx="64.2" cy="511.2" r="1.8"/>
<circle cx="62.3" cy="515.8" r="1.8"/>
<circle cx="63.2" cy="513.3" r="1.8"/>
<circle cx="64.9" cy="518.7" r="1.8"/>
<circle cx="66.8" cy="518.9" r="1.8"/>
<circle cx="65.8" cy="511.7" r="1.8"/>
<circle cx="67.6" cy="523.9" r="1.8"/>
<circle cx="64.6" cy="514.6" r="1.8"/>
<circle cx="60.9" cy="497.2" r="1.8"/>
<circle cx="64.7" cy="534.8" r="1.8"/>
</g>
<line x1="64" y1="504" x2="64" y2="530.1" stroke="#0f3fa6" stroke-width="1.3"/>
<line x1="59.5" y1="504" x2="68.5" y2="504" stroke="#0f3fa6" stroke-width="1.3"/>
<line x1="59.5" y1="530.1" x2="68.5" y2="530.1" stroke="#0f3fa6" stroke-width="1.3"/>
<rect x="59.5" y="511.1" width="9" height="8" fill="none" stroke="#0f3fa6" stroke-width="1.3"/>
<line x1="59.5" y1="515.4" x2="68.5" y2="515.4" stroke="#0f3fa6" stroke-width="1.3"/>
<g fill="#f70f0f" fill-opacity="0.3">
<circle cx="72.8" cy="507.7" r="1.8"/>
<circle cx="76.8" cy="521.7" r="1.8"/>
<circle cx="73.7" cy="522.2" r="1.8"/>
<circle cx="72.6" cy="523.1" r="1.8"/>
<circle cx="73.1" cy="516.6" r="1.8"/>
<circle cx="72" cy="535" r="1.8"/>
<circle cx="78.7" cy="528.5" r="1.8"/>
<circle cx="72.8" cy="535.2" r="1.8"/>
</g>
<line x1="75.7" y1="506.5" x2="75.7" y2="535.6" stroke="#f70f0f" stroke-width="1.3"/>
<line x1="71.2" y1="506.5" x2="80.2" y2="506.5" stroke="#f70f0f" stroke-width="1.3"/>
<line x1="71.2" y1="535.6" x2="80.2" y2="535.6" stroke="#f70f0f" stroke-width="1.3"/>
<rect x="71.2" y="515.4" width="9" height="16.5" fill="none" stroke="#f70f0f" stroke-width="1.3"/>
<line x1="71.2" y1="529.7" x2="80.2" y2="529.7" stroke="#f70f0f" stroke-width="1.3"/>
<g fill="#0f3fa6" fill-opacity="0.3">
<circle cx="96.1" cy="520.3" r="1.8"/>
<circle cx="94.8" cy="514.8" r="1.8"/>
<circle cx="98.1" cy="523.6" r="1.8"/>
<circle cx="97.8" cy="535.5" r="1.8"/>
<circle cx="91.8" cy="502.3" r="1.8"/>
<circle cx="95.6" cy="535.9" r="1.8"/>
<circle cx="94.5" cy="524.2" r="1.8"/>
<circle cx="97.7" cy="519.3" r="1.8"/>
<circle cx="99.3" cy="516.8" r="1.8"/>
<circle cx="98.8" cy="521.6" r="1.8"/>
<circle cx="99.9" cy="534.1" r="1.8"/>
<circle cx="100.1" cy="518.3" r="1.8"/>
<circle cx="96.7" cy="523.4" r="1.8"/>
<circle cx="92" cy="531.7" r="1.8"/>
<circle cx="98.2" cy="518.9" r="1.8"/>
<circle cx="99.7" cy="516.5" r="1.8"/>
<circle cx="100" cy="520.4" r="1.8"/>
<circle cx="95.7" cy="517.9" r="1.8"/>
<circle cx="92.9" cy="536" r="1.8"/>
<circle cx="96.2" cy="516" r="1.8"/>
<circle cx="93.2" cy="516.9" r="1.8"/>
<circle cx="94.5" cy="522.3" r="1.8"/>
<circle cx="93.4" cy="530.8" r="1.8"/>
<circle cx="99.4" cy="515.4" r="1.8"/>
<circle cx="100.5" cy="515.5" r="1.8"/>
<circle cx="99.2" cy="519.2" r="1.8"/>
<circle cx="97.1" cy="523.3" r="1.8"/>
<circle cx="99.7" cy="517.6" r="1.8"/>
<circle cx="100" cy="515.5" r="1.8"/>
<circle cx="95.6" cy="518.2" r="1.8"/>
<circle cx="95.2" cy="518.9" r="1.8"/>
<circle cx="94.5" cy="518.7" r="1.8"/>
<circle cx="93.5" cy="533.6" r="1.8"/>
<circle cx="99.1" cy="508.9" r="1.8"/>
<circle cx="94.7" cy="534.8" r="1.8"/>
<circle cx="95.5" cy="523" r="1.8"/>
<circle cx="99.5" cy="518" r="1.8"/>
<circle cx="97.1" cy="513.1" r="1.8"/>
<circle cx="92.2" cy="517.7" r="1.8"/>
<circle cx="97.4" cy="519.3" r="1.8"/>
<circle cx="92.7" cy="489.6" r="1.8"/>
<circle cx="96.3" cy="493.8" r="1.8"/>
</g>
<line x1="96.3" y1="499.7" x2="96.3" y2="537.7" stroke="#0f3fa6" stroke-width="1.3"/>
<line x1="91.3" y1="499.7" x2="101.3" y2="499.7" stroke="#0f3fa6" stroke-width="1.3"/>
<line x1="91.3" y1="537.7" x2="101.3" y2="537.7" stroke="#0f3fa6" stroke-width="1.3"/>
<rect x="91.3" y="512.4" width="10" height="11" fill="none" stroke="#0f3fa6" stroke-width="1.3"/>
<line x1="91.3" y1="519.6" x2="101.3" y2="519.6" stroke="#0f3fa6" stroke-width="1.3"/>
<g fill="#f70f0f" fill-opacity="0.3">
<circle cx="109.1" cy="507.5" r="1.8"/>
<circle cx="108.5" cy="512" r="1.8"/>
<circle cx="103.8" cy="527.4" r="1.8"/>
<circle cx="112.1" cy="492.1" r="1.8"/>
<circle cx="106.9" cy="509.3" r="1.8"/>
<circle cx="105.7" cy="516.9" r="1.8"/>
<circle cx="109.8" cy="512.8" r="1.8"/>
<circle cx="107.8" cy="511" r="1.8"/>
<circle cx="105.3" cy="520.2" r="1.8"/>
<circle cx="104.4" cy="515.8" r="1.8"/>
<circle cx="111.4" cy="510.4" r="1.8"/>
<circle cx="110.8" cy="508.9" r="1.8"/>
<circle cx="112.2" cy="514.4" r="1.8"/>
<circle cx="109.6" cy="526.9" r="1.8"/>
<circle cx="107.4" cy="517.5" r="1.8"/>
<circle cx="111.8" cy="503" r="1.8"/>
<circle cx="104.1" cy="517.1" r="1.8"/>
<circle cx="107.6" cy="528.1" r="1.8"/>
<circle cx="111.3" cy="510.9" r="1.8"/>
<circle cx="108.4" cy="504.7" r="1.8"/>
<circle cx="110.7" cy="533" r="1.8"/>
<circle cx="110.5" cy="518.3" r="1.8"/>
<circle cx="106.1" cy="511.6" r="1.8"/>
<circle cx="112.1" cy="511.7" r="1.8"/>
<circle cx="103.8" cy="492.7" r="1.8"/>
</g>
<line x1="108" y1="488.8" x2="108" y2="533.9" stroke="#f70f0f" stroke-width="1.3"/>
<line x1="103" y1="488.8" x2="113" y2="488.8" stroke="#f70f0f" stroke-width="1.3"/>
<line x1="103" y1="533.9" x2="113" y2="533.9" stroke="#f70f0f" stroke-width="1.3"/>
<rect x="103" y="504.4" width="10" height="13.9" fill="none" stroke="#f70f0f" stroke-width="1.3"/>
<line x1="103" y1="509.9" x2="113" y2="509.9" stroke="#f70f0f" stroke-width="1.3"/>
<line x1="64" y1="494.1" x2="75.7" y2="494.1" stroke="#777" stroke-width="1.1"/>
<path d="M69.85 489.02 L70.57 490.38 L72.08 490.65 L71.01 491.75 L71.23 493.27 L69.85 492.59 L68.47 493.27 L68.69 491.75 L67.62 490.65 L69.13 490.38 Z" fill="#111"/>
<path d="M75 484.9 V479.2 H108 V482.5" fill="none" stroke="#444" stroke-width="0.9"/>
<path d="M91.50 474.12 L92.22 475.48 L93.73 475.75 L92.66 476.85 L92.88 478.37 L91.50 477.69 L90.12 478.37 L90.34 476.85 L89.27 475.75 L90.78 475.48 Z" fill="#111"/>
<line x1="96.3" y1="484.4" x2="108" y2="484.4" stroke="#777" stroke-width="1.1"/>
<path d="M102.15 479.32 L102.87 480.68 L104.38 480.95 L103.31 482.05 L103.53 483.57 L102.15 482.89 L100.77 483.57 L100.99 482.05 L99.92 480.95 L101.43 480.68 Z" fill="#111"/>
<text x="70.4" y="555.6" font-size="10.6" text-anchor="middle" fill="#111">TP1</text>
<text x="101.8" y="555.6" font-size="10.6" text-anchor="middle" fill="#111">TP2</text>
<rect x="144.7" y="474.2" width="64.6" height="68.5" fill="#fff" stroke="none" stroke-width="1"/>
<line x1="144.7" y1="540.7" x2="209.3" y2="540.7" stroke="#ececec" stroke-width="0.6"/>
<line x1="144.7" y1="533.4" x2="209.3" y2="533.4" stroke="#f4f4f4" stroke-width="0.5"/>
<line x1="144.7" y1="526.2" x2="209.3" y2="526.2" stroke="#ececec" stroke-width="0.6"/>
<line x1="144.7" y1="518.9" x2="209.3" y2="518.9" stroke="#f4f4f4" stroke-width="0.5"/>
<line x1="144.7" y1="511.6" x2="209.3" y2="511.6" stroke="#ececec" stroke-width="0.6"/>
<line x1="144.7" y1="504.3" x2="209.3" y2="504.3" stroke="#f4f4f4" stroke-width="0.5"/>
<line x1="144.7" y1="497.1" x2="209.3" y2="497.1" stroke="#ececec" stroke-width="0.6"/>
<line x1="144.7" y1="489.8" x2="209.3" y2="489.8" stroke="#f4f4f4" stroke-width="0.5"/>
<line x1="144.7" y1="482.5" x2="209.3" y2="482.5" stroke="#ececec" stroke-width="0.6"/>
<line x1="166.4" y1="474.2" x2="166.4" y2="542.7" stroke="#ececec" stroke-width="0.6"/>
<line x1="196.9" y1="474.2" x2="196.9" y2="542.7" stroke="#ececec" stroke-width="0.6"/>
<rect x="144.7" y="474.2" width="64.6" height="68.5" fill="none" stroke="#b8b8b8" stroke-width="0.8"/>
<line x1="143.2" y1="540.7" x2="144.7" y2="540.7" stroke="#777" stroke-width="0.5"/>
<text x="142.5" y="543.1" font-size="6.6" text-anchor="end" fill="#4d4d4d">0</text>
<line x1="143.2" y1="526.2" x2="144.7" y2="526.2" stroke="#777" stroke-width="0.5"/>
<text x="142.5" y="528.5" font-size="6.6" text-anchor="end" fill="#4d4d4d">1</text>
<line x1="143.2" y1="511.6" x2="144.7" y2="511.6" stroke="#777" stroke-width="0.5"/>
<text x="142.5" y="514" font-size="6.6" text-anchor="end" fill="#4d4d4d">2</text>
<line x1="143.2" y1="497.1" x2="144.7" y2="497.1" stroke="#777" stroke-width="0.5"/>
<text x="142.5" y="499.4" font-size="6.6" text-anchor="end" fill="#4d4d4d">3</text>
<line x1="143.2" y1="482.5" x2="144.7" y2="482.5" stroke="#777" stroke-width="0.5"/>
<text x="142.5" y="484.9" font-size="6.6" text-anchor="end" fill="#4d4d4d">4</text>
<line x1="166.4" y1="542.7" x2="166.4" y2="544.2" stroke="#777" stroke-width="0.5"/>
<line x1="196.9" y1="542.7" x2="196.9" y2="544.2" stroke="#777" stroke-width="0.5"/>
<text transform="translate(134.9 508.5) rotate(-90) scale(0.940 1)" font-size="10" text-anchor="middle" fill="#111">Cluster 10 (%)</text>
<g fill="#0f3fa6" fill-opacity="0.3">
<circle cx="156.8" cy="540.7" r="1.8"/>
<circle cx="156.7" cy="540.6" r="1.8"/>
<circle cx="160.4" cy="540.4" r="1.8"/>
<circle cx="157.3" cy="540" r="1.8"/>
<circle cx="155.3" cy="540.7" r="1.8"/>
<circle cx="158.8" cy="540.7" r="1.8"/>
<circle cx="157.9" cy="540.7" r="1.8"/>
<circle cx="154.6" cy="540.7" r="1.8"/>
<circle cx="157.8" cy="540.7" r="1.8"/>
<circle cx="156.3" cy="540.5" r="1.8"/>
</g>
<g fill="#0f3fa6" fill-opacity="0.45">
<circle cx="161.2" cy="540.4" r="1.8"/>
<circle cx="157.9" cy="539.5" r="1.8"/>
<circle cx="157.4" cy="539.7" r="1.8"/>
<circle cx="158.1" cy="539.7" r="1.8"/>
<circle cx="156.5" cy="540.3" r="1.8"/>
<circle cx="161" cy="539.7" r="1.8"/>
<circle cx="161.4" cy="539.6" r="1.8"/>
<circle cx="154.2" cy="540.4" r="1.8"/>
<circle cx="158.7" cy="539.9" r="1.8"/>
<circle cx="155.9" cy="540.3" r="1.8"/>
<circle cx="160.2" cy="539.9" r="1.8"/>
<circle cx="156.6" cy="540.5" r="1.8"/>
<circle cx="156.2" cy="540.3" r="1.8"/>
<circle cx="154.1" cy="539.8" r="1.8"/>
<circle cx="160.4" cy="540.3" r="1.8"/>
<circle cx="157.4" cy="540.6" r="1.8"/>
<circle cx="161.8" cy="539.6" r="1.8"/>
<circle cx="160.3" cy="539.9" r="1.8"/>
<circle cx="157.3" cy="540" r="1.8"/>
</g>
<line x1="158" y1="539.8" x2="158" y2="540.7" stroke="#0f3fa6" stroke-width="1.3"/>
<line x1="158" y1="539.8" x2="158" y2="539.8" stroke="#0f3fa6" stroke-width="1.3"/>
<line x1="158" y1="540.7" x2="158" y2="540.7" stroke="#0f3fa6" stroke-width="1.3"/>
<rect x="153.5" y="540" width="9" height="0.7" fill="none" stroke="#0f3fa6" stroke-width="1.3"/>
<line x1="153.5" y1="540.4" x2="162.5" y2="540.4" stroke="#0f3fa6" stroke-width="1.3"/>
<g fill="#f70f0f" fill-opacity="0.3">
<circle cx="172.3" cy="536.8" r="1.8"/>
<circle cx="171.3" cy="539.4" r="1.8"/>
<circle cx="167.9" cy="534.1" r="1.8"/>
<circle cx="171.9" cy="536.6" r="1.8"/>
<circle cx="170.5" cy="535.9" r="1.8"/>
<circle cx="172" cy="540.7" r="1.8"/>
<circle cx="166.5" cy="536.9" r="1.8"/>
<circle cx="169.6" cy="534" r="1.8"/>
<circle cx="169.1" cy="518.1" r="1.8"/>
</g>
<line x1="170.5" y1="532.7" x2="170.5" y2="540.7" stroke="#f70f0f" stroke-width="1.3"/>
<line x1="166" y1="532.7" x2="175" y2="532.7" stroke="#f70f0f" stroke-width="1.3"/>
<line x1="166" y1="540.7" x2="175" y2="540.7" stroke="#f70f0f" stroke-width="1.3"/>
<rect x="166" y="533.4" width="9" height="6.5" fill="none" stroke="#f70f0f" stroke-width="1.3"/>
<line x1="166" y1="537.8" x2="175" y2="537.8" stroke="#f70f0f" stroke-width="1.3"/>
<g fill="#0f3fa6" fill-opacity="0.3">
<circle cx="194.5" cy="537.4" r="1.8"/>
<circle cx="194.6" cy="540.6" r="1.8"/>
<circle cx="192.6" cy="537.1" r="1.8"/>
<circle cx="195" cy="537" r="1.8"/>
<circle cx="193" cy="536.7" r="1.8"/>
<circle cx="190.1" cy="540.6" r="1.8"/>
<circle cx="191" cy="538.6" r="1.8"/>
<circle cx="191" cy="540.4" r="1.8"/>
<circle cx="191.5" cy="539.2" r="1.8"/>
<circle cx="189.6" cy="535.4" r="1.8"/>
<circle cx="196.3" cy="540" r="1.8"/>
<circle cx="191.3" cy="535.2" r="1.8"/>
<circle cx="189.9" cy="537" r="1.8"/>
<circle cx="189.3" cy="539.4" r="1.8"/>
<circle cx="192.5" cy="536.4" r="1.8"/>
<circle cx="188.8" cy="538.3" r="1.8"/>
<circle cx="192.2" cy="540.1" r="1.8"/>
<circle cx="189.5" cy="540.6" r="1.8"/>
<circle cx="192.5" cy="540.5" r="1.8"/>
<circle cx="189.4" cy="540.5" r="1.8"/>
<circle cx="190.4" cy="540.3" r="1.8"/>
<circle cx="196.8" cy="538.9" r="1.8"/>
<circle cx="188.6" cy="539.6" r="1.8"/>
<circle cx="192.8" cy="540.1" r="1.8"/>
<circle cx="195.6" cy="540.3" r="1.8"/>
<circle cx="195.1" cy="540.3" r="1.8"/>
<circle cx="189.5" cy="530.2" r="1.8"/>
<circle cx="191" cy="536.9" r="1.8"/>
<circle cx="193.3" cy="537.1" r="1.8"/>
<circle cx="194.8" cy="539.5" r="1.8"/>
<circle cx="196.5" cy="476.7" r="1.8"/>
<circle cx="193" cy="488.3" r="1.8"/>
<circle cx="189.4" cy="508.7" r="1.8"/>
<circle cx="188.5" cy="516" r="1.8"/>
<circle cx="193.3" cy="521.8" r="1.8"/>
</g>
<g fill="#0f3fa6" fill-opacity="0.45">
<circle cx="190.5" cy="533.1" r="1.8"/>
<circle cx="195" cy="534.6" r="1.8"/>
<circle cx="189.9" cy="540.7" r="1.8"/>
<circle cx="190.2" cy="536.4" r="1.8"/>
<circle cx="194.1" cy="539.8" r="1.8"/>
<circle cx="193.8" cy="539.4" r="1.8"/>
<circle cx="188.5" cy="532" r="1.8"/>
<circle cx="189.1" cy="538.5" r="1.8"/>
<circle cx="195.2" cy="536.5" r="1.8"/>
<circle cx="191" cy="534.1" r="1.8"/>
<circle cx="193.1" cy="537.9" r="1.8"/>
<circle cx="188.9" cy="536" r="1.8"/>
<circle cx="195.4" cy="532.7" r="1.8"/>
<circle cx="189" cy="534.3" r="1.8"/>
<circle cx="189.5" cy="535.9" r="1.8"/>
<circle cx="189.8" cy="532.6" r="1.8"/>
<circle cx="192.8" cy="539.8" r="1.8"/>
<circle cx="192.2" cy="536.4" r="1.8"/>
<circle cx="193.2" cy="534.3" r="1.8"/>
<circle cx="196.1" cy="537" r="1.8"/>
<circle cx="192.9" cy="538.9" r="1.8"/>
<circle cx="195.3" cy="540.1" r="1.8"/>
<circle cx="193.3" cy="538.9" r="1.8"/>
<circle cx="188.9" cy="534.6" r="1.8"/>
<circle cx="192.7" cy="539.9" r="1.8"/>
<circle cx="190" cy="535.4" r="1.8"/>
</g>
<line x1="192.7" y1="529.1" x2="192.7" y2="540.7" stroke="#0f3fa6" stroke-width="1.3"/>
<line x1="187.7" y1="529.1" x2="197.7" y2="529.1" stroke="#0f3fa6" stroke-width="1.3"/>
<line x1="187.7" y1="540.7" x2="197.7" y2="540.7" stroke="#0f3fa6" stroke-width="1.3"/>
<rect x="187.7" y="534.9" width="10" height="5.1" fill="none" stroke="#0f3fa6" stroke-width="1.3"/>
<line x1="187.7" y1="538.5" x2="197.7" y2="538.5" stroke="#0f3fa6" stroke-width="1.3"/>
<g fill="#f70f0f" fill-opacity="0.3">
<circle cx="207.6" cy="537.9" r="1.8"/>
<circle cx="207.1" cy="538.6" r="1.8"/>
<circle cx="206" cy="540.3" r="1.8"/>
<circle cx="203.8" cy="538.3" r="1.8"/>
<circle cx="201.2" cy="538" r="1.8"/>
<circle cx="200.8" cy="536.6" r="1.8"/>
<circle cx="203.1" cy="540.2" r="1.8"/>
<circle cx="205.5" cy="540.5" r="1.8"/>
<circle cx="207.8" cy="538.1" r="1.8"/>
<circle cx="203.3" cy="537.9" r="1.8"/>
<circle cx="206.2" cy="540.6" r="1.8"/>
<circle cx="205.3" cy="538.8" r="1.8"/>
<circle cx="208" cy="540.5" r="1.8"/>
<circle cx="208.2" cy="539.5" r="1.8"/>
<circle cx="200" cy="540.4" r="1.8"/>
<circle cx="206.5" cy="539.2" r="1.8"/>
<circle cx="202.5" cy="539.3" r="1.8"/>
<circle cx="208.4" cy="537.9" r="1.8"/>
<circle cx="200.5" cy="538" r="1.8"/>
<circle cx="203.3" cy="536.3" r="1.8"/>
<circle cx="200.2" cy="529.1" r="1.8"/>
<circle cx="205.4" cy="532" r="1.8"/>
</g>
<g fill="#f70f0f" fill-opacity="0.45">
<circle cx="200.7" cy="540.5" r="1.8"/>
<circle cx="201.3" cy="538.6" r="1.8"/>
<circle cx="207.8" cy="540.7" r="1.8"/>
<circle cx="204.4" cy="537.7" r="1.8"/>
<circle cx="205.2" cy="537.6" r="1.8"/>
<circle cx="200.8" cy="537.5" r="1.8"/>
<circle cx="206" cy="540.6" r="1.8"/>
<circle cx="205" cy="539.6" r="1.8"/>
<circle cx="204.5" cy="538" r="1.8"/>
<circle cx="208.4" cy="539.6" r="1.8"/>
<circle cx="203.9" cy="539.3" r="1.8"/>
<circle cx="200.2" cy="538.8" r="1.8"/>
<circle cx="205.4" cy="538.7" r="1.8"/>
<circle cx="206.2" cy="540.1" r="1.8"/>
<circle cx="208.4" cy="539.1" r="1.8"/>
<circle cx="200.7" cy="539.3" r="1.8"/>
<circle cx="202.4" cy="537.4" r="1.8"/>
<circle cx="205.9" cy="537.2" r="1.8"/>
<circle cx="204.4" cy="539.4" r="1.8"/>
</g>
<line x1="204.4" y1="536.3" x2="204.4" y2="540.7" stroke="#f70f0f" stroke-width="1.3"/>
<line x1="199.4" y1="536.3" x2="209.4" y2="536.3" stroke="#f70f0f" stroke-width="1.3"/>
<line x1="199.4" y1="540.7" x2="209.4" y2="540.7" stroke="#f70f0f" stroke-width="1.3"/>
<rect x="199.4" y="537.8" width="10" height="2.6" fill="none" stroke="#f70f0f" stroke-width="1.3"/>
<line x1="199.4" y1="539.5" x2="209.4" y2="539.5" stroke="#f70f0f" stroke-width="1.3"/>
<line x1="158" y1="510.2" x2="170.5" y2="510.2" stroke="#777" stroke-width="1.1"/>
<path d="M162.05 505.12 L162.77 506.48 L164.28 506.75 L163.21 507.85 L163.43 509.37 L162.05 508.69 L160.67 509.37 L160.89 507.85 L159.82 506.75 L161.33 506.48 Z" fill="#111"/>
<path d="M166.45 505.12 L167.17 506.48 L168.68 506.75 L167.61 507.85 L167.83 509.37 L166.45 508.69 L165.07 509.37 L165.29 507.85 L164.22 506.75 L165.73 506.48 Z" fill="#111"/>
<path d="M157.2 502.7 V495.8 H192.2 V500.4" fill="none" stroke="#444" stroke-width="0.9"/>
<path d="M168.10 490.72 L168.82 492.08 L170.33 492.35 L169.26 493.45 L169.48 494.97 L168.10 494.29 L166.72 494.97 L166.94 493.45 L165.87 492.35 L167.38 492.08 Z" fill="#111"/>
<path d="M172.50 490.72 L173.22 492.08 L174.73 492.35 L173.66 493.45 L173.88 494.97 L172.50 494.29 L171.12 494.97 L171.34 493.45 L170.27 492.35 L171.78 492.08 Z" fill="#111"/>
<path d="M176.90 490.72 L177.62 492.08 L179.13 492.35 L178.06 493.45 L178.28 494.97 L176.90 494.29 L175.52 494.97 L175.74 493.45 L174.67 492.35 L176.18 492.08 Z" fill="#111"/>
<path d="M181.30 490.72 L182.02 492.08 L183.53 492.35 L182.46 493.45 L182.68 494.97 L181.30 494.29 L179.92 494.97 L180.14 493.45 L179.07 492.35 L180.58 492.08 Z" fill="#111"/>
<line x1="192.7" y1="488" x2="204.4" y2="488" stroke="#777" stroke-width="1.1"/>
<path d="M198.55 482.92 L199.27 484.28 L200.78 484.55 L199.71 485.65 L199.93 487.17 L198.55 486.49 L197.17 487.17 L197.39 485.65 L196.32 484.55 L197.83 484.28 Z" fill="#111"/>
<text x="166.4" y="555.6" font-size="10.6" text-anchor="middle" fill="#111">TP1</text>
<text x="196.9" y="555.6" font-size="10.6" text-anchor="middle" fill="#111">TP2</text>
<rect x="242" y="474.2" width="73.3" height="68.5" fill="#fff" stroke="none" stroke-width="1"/>
<line x1="242" y1="540.7" x2="315.3" y2="540.7" stroke="#ececec" stroke-width="0.6"/>
<line x1="242" y1="530.1" x2="315.3" y2="530.1" stroke="#f4f4f4" stroke-width="0.5"/>
<line x1="242" y1="519.5" x2="315.3" y2="519.5" stroke="#ececec" stroke-width="0.6"/>
<line x1="242" y1="508.9" x2="315.3" y2="508.9" stroke="#f4f4f4" stroke-width="0.5"/>
<line x1="242" y1="498.2" x2="315.3" y2="498.2" stroke="#ececec" stroke-width="0.6"/>
<line x1="242" y1="487.6" x2="315.3" y2="487.6" stroke="#f4f4f4" stroke-width="0.5"/>
<line x1="242" y1="477" x2="315.3" y2="477" stroke="#ececec" stroke-width="0.6"/>
<line x1="263.4" y1="474.2" x2="263.4" y2="542.7" stroke="#ececec" stroke-width="0.6"/>
<line x1="294.8" y1="474.2" x2="294.8" y2="542.7" stroke="#ececec" stroke-width="0.6"/>
<rect x="242" y="474.2" width="73.3" height="68.5" fill="none" stroke="#b8b8b8" stroke-width="0.8"/>
<line x1="240.5" y1="540.7" x2="242" y2="540.7" stroke="#777" stroke-width="0.5"/>
<text x="239.8" y="543.1" font-size="6.6" text-anchor="end" fill="#4d4d4d">0</text>
<line x1="240.5" y1="519.5" x2="242" y2="519.5" stroke="#777" stroke-width="0.5"/>
<text x="239.8" y="521.8" font-size="6.6" text-anchor="end" fill="#4d4d4d">1</text>
<line x1="240.5" y1="498.2" x2="242" y2="498.2" stroke="#777" stroke-width="0.5"/>
<text x="239.8" y="500.6" font-size="6.6" text-anchor="end" fill="#4d4d4d">2</text>
<line x1="240.5" y1="477" x2="242" y2="477" stroke="#777" stroke-width="0.5"/>
<text x="239.8" y="479.4" font-size="6.6" text-anchor="end" fill="#4d4d4d">3</text>
<line x1="263.4" y1="542.7" x2="263.4" y2="544.2" stroke="#777" stroke-width="0.5"/>
<line x1="294.8" y1="542.7" x2="294.8" y2="544.2" stroke="#777" stroke-width="0.5"/>
<text transform="translate(231.3 508.5) rotate(-90) scale(0.940 1)" font-size="10" text-anchor="middle" fill="#111">Cluster 11 (%)</text>
<g fill="#0f3fa6" fill-opacity="0.3">
<circle cx="258.5" cy="540.2" r="1.8"/>
<circle cx="251.9" cy="539.3" r="1.8"/>
<circle cx="255.8" cy="538.8" r="1.8"/>
<circle cx="252.5" cy="537.5" r="1.8"/>
<circle cx="252.1" cy="538.4" r="1.8"/>
<circle cx="254.9" cy="537.8" r="1.8"/>
<circle cx="258.1" cy="539.1" r="1.8"/>
<circle cx="255.6" cy="536.7" r="1.8"/>
<circle cx="251.2" cy="536.6" r="1.8"/>
<circle cx="252.8" cy="539" r="1.8"/>
</g>
<g fill="#0f3fa6" fill-opacity="0.45">
<circle cx="257.4" cy="535.4" r="1.8"/>
<circle cx="253.7" cy="537.7" r="1.8"/>
<circle cx="251.3" cy="538.7" r="1.8"/>
<circle cx="257.9" cy="539.2" r="1.8"/>
<circle cx="258" cy="538.5" r="1.8"/>
<circle cx="256.6" cy="535.6" r="1.8"/>
<circle cx="254.6" cy="538.9" r="1.8"/>
<circle cx="252.9" cy="539.7" r="1.8"/>
<circle cx="251.4" cy="538.6" r="1.8"/>
<circle cx="255.1" cy="536.1" r="1.8"/>
<circle cx="256.1" cy="538.5" r="1.8"/>
<circle cx="253.6" cy="538.1" r="1.8"/>
<circle cx="254.6" cy="538.4" r="1.8"/>
<circle cx="254" cy="538.8" r="1.8"/>
<circle cx="258" cy="538" r="1.8"/>
<circle cx="258" cy="536.3" r="1.8"/>
<circle cx="258.8" cy="538" r="1.8"/>
<circle cx="257.9" cy="540" r="1.8"/>
<circle cx="251.3" cy="537" r="1.8"/>
</g>
<line x1="255.1" y1="535.4" x2="255.1" y2="540.3" stroke="#0f3fa6" stroke-width="1.3"/>
<line x1="250.6" y1="535.4" x2="259.6" y2="535.4" stroke="#0f3fa6" stroke-width="1.3"/>
<line x1="250.6" y1="540.3" x2="259.6" y2="540.3" stroke="#0f3fa6" stroke-width="1.3"/>
<rect x="250.6" y="536.5" width="9" height="3.2" fill="none" stroke="#0f3fa6" stroke-width="1.3"/>
<line x1="250.6" y1="538.6" x2="259.6" y2="538.6" stroke="#0f3fa6" stroke-width="1.3"/>
<g fill="#f70f0f" fill-opacity="0.3">
<circle cx="272.1" cy="522.6" r="1.8"/>
<circle cx="265.3" cy="528.9" r="1.8"/>
<circle cx="265.6" cy="533.3" r="1.8"/>
<circle cx="272" cy="540.7" r="1.8"/>
<circle cx="264.9" cy="530.8" r="1.8"/>
<circle cx="266.2" cy="533.7" r="1.8"/>
<circle cx="272.2" cy="526" r="1.8"/>
<circle cx="270.8" cy="509.6" r="1.8"/>
</g>
<line x1="268.2" y1="502.5" x2="268.2" y2="540.7" stroke="#f70f0f" stroke-width="1.3"/>
<line x1="263.7" y1="502.5" x2="272.7" y2="502.5" stroke="#f70f0f" stroke-width="1.3"/>
<line x1="263.7" y1="540.7" x2="272.7" y2="540.7" stroke="#f70f0f" stroke-width="1.3"/>
<rect x="263.7" y="523.7" width="9" height="14.9" fill="none" stroke="#f70f0f" stroke-width="1.3"/>
<line x1="263.7" y1="533.3" x2="272.7" y2="533.3" stroke="#f70f0f" stroke-width="1.3"/>
<g fill="#0f3fa6" fill-opacity="0.3">
<circle cx="292.6" cy="530" r="1.8"/>
<circle cx="290.7" cy="517.1" r="1.8"/>
<circle cx="287.6" cy="529.8" r="1.8"/>
<circle cx="287.9" cy="537.7" r="1.8"/>
<circle cx="289" cy="534.7" r="1.8"/>
<circle cx="289.1" cy="533" r="1.8"/>
<circle cx="290.8" cy="532.4" r="1.8"/>
<circle cx="286.8" cy="532.7" r="1.8"/>
<circle cx="290.8" cy="540.1" r="1.8"/>
<circle cx="291" cy="537.3" r="1.8"/>
<circle cx="293" cy="540" r="1.8"/>
<circle cx="292.6" cy="532.8" r="1.8"/>
<circle cx="292.2" cy="539.5" r="1.8"/>
<circle cx="290.6" cy="536.9" r="1.8"/>
<circle cx="285.8" cy="530.2" r="1.8"/>
<circle cx="293.4" cy="539.9" r="1.8"/>
<circle cx="291.2" cy="528.3" r="1.8"/>
<circle cx="290.7" cy="539" r="1.8"/>
<circle cx="288.6" cy="536.3" r="1.8"/>
<circle cx="286.1" cy="538.4" r="1.8"/>
<circle cx="286.3" cy="533.4" r="1.8"/>
<circle cx="293.5" cy="526" r="1.8"/>
<circle cx="289.5" cy="525.5" r="1.8"/>
<circle cx="288.9" cy="536.2" r="1.8"/>
<circle cx="293.4" cy="526.5" r="1.8"/>
<circle cx="289.7" cy="516.6" r="1.8"/>
<circle cx="288.2" cy="533.3" r="1.8"/>
<circle cx="288.9" cy="533.6" r="1.8"/>
<circle cx="289.8" cy="524.5" r="1.8"/>
<circle cx="290.8" cy="537.9" r="1.8"/>
<circle cx="291.7" cy="528.8" r="1.8"/>
<circle cx="285.7" cy="526.2" r="1.8"/>
<circle cx="292.1" cy="534.2" r="1.8"/>
<circle cx="291.7" cy="530.2" r="1.8"/>
<circle cx="293.6" cy="518" r="1.8"/>
<circle cx="288.5" cy="539.5" r="1.8"/>
<circle cx="286.4" cy="532.7" r="1.8"/>
<circle cx="294.1" cy="532.7" r="1.8"/>
<circle cx="287.9" cy="530.4" r="1.8"/>
<circle cx="292.9" cy="534.1" r="1.8"/>
<circle cx="293.6" cy="491.9" r="1.8"/>
<circle cx="291.9" cy="496.1" r="1.8"/>
<circle cx="287.9" cy="499.3" r="1.8"/>
</g>
<g fill="#0f3fa6" fill-opacity="0.45">
<circle cx="290.4" cy="527.2" r="1.8"/>
<circle cx="290.5" cy="533" r="1.8"/>
<circle cx="290.6" cy="515.6" r="1.8"/>
<circle cx="289.3" cy="525" r="1.8"/>
<circle cx="292.9" cy="533.4" r="1.8"/>
<circle cx="289.6" cy="537.4" r="1.8"/>
<circle cx="294.2" cy="524.6" r="1.8"/>
<circle cx="293.9" cy="535.4" r="1.8"/>
<circle cx="285.7" cy="523.9" r="1.8"/>
<circle cx="286.6" cy="531.8" r="1.8"/>
<circle cx="291.2" cy="518.2" r="1.8"/>
<circle cx="285.7" cy="517.9" r="1.8"/>
<circle cx="293" cy="528.9" r="1.8"/>
<circle cx="288.4" cy="536.2" r="1.8"/>
<circle cx="293.1" cy="524.6" r="1.8"/>
<circle cx="287.3" cy="534.3" r="1.8"/>
<circle cx="290.4" cy="538.6" r="1.8"/>
<circle cx="285.7" cy="523.9" r="1.8"/>
<circle cx="289.5" cy="536.5" r="1.8"/>
</g>
<line x1="289.8" y1="506.3" x2="289.8" y2="540.3" stroke="#0f3fa6" stroke-width="1.3"/>
<line x1="284.8" y1="506.3" x2="294.8" y2="506.3" stroke="#0f3fa6" stroke-width="1.3"/>
<line x1="284.8" y1="540.3" x2="294.8" y2="540.3" stroke="#0f3fa6" stroke-width="1.3"/>
<rect x="284.8" y="523.7" width="10" height="10.6" fill="none" stroke="#0f3fa6" stroke-width="1.3"/>
<line x1="284.8" y1="529" x2="294.8" y2="529" stroke="#0f3fa6" stroke-width="1.3"/>
<g fill="#f70f0f" fill-opacity="0.3">
<circle cx="300.3" cy="523.1" r="1.8"/>
<circle cx="303.6" cy="527.9" r="1.8"/>
<circle cx="298.5" cy="531" r="1.8"/>
<circle cx="306.5" cy="526.3" r="1.8"/>
<circle cx="306.3" cy="535.7" r="1.8"/>
<circle cx="306.4" cy="535.6" r="1.8"/>
<circle cx="303.9" cy="534.5" r="1.8"/>
<circle cx="301.9" cy="540.6" r="1.8"/>
<circle cx="303.4" cy="530.8" r="1.8"/>
<circle cx="305" cy="525" r="1.8"/>
<circle cx="305.8" cy="523.3" r="1.8"/>
<circle cx="302.2" cy="534.9" r="1.8"/>
<circle cx="300.8" cy="534.2" r="1.8"/>
<circle cx="299.5" cy="528.8" r="1.8"/>
<circle cx="300.4" cy="524.9" r="1.8"/>
<circle cx="304.1" cy="534.5" r="1.8"/>
<circle cx="298.6" cy="532.9" r="1.8"/>
<circle cx="303.3" cy="532.1" r="1.8"/>
<circle cx="298.2" cy="540.1" r="1.8"/>
<circle cx="304.8" cy="540.7" r="1.8"/>
<circle cx="299.8" cy="531.1" r="1.8"/>
<circle cx="301.8" cy="533.2" r="1.8"/>
<circle cx="305.5" cy="525.1" r="1.8"/>
<circle cx="304.5" cy="529.2" r="1.8"/>
<circle cx="298.9" cy="529.3" r="1.8"/>
<circle cx="303.8" cy="491.9" r="1.8"/>
</g>
<line x1="302.3" y1="519.5" x2="302.3" y2="540.7" stroke="#f70f0f" stroke-width="1.3"/>
<line x1="297.3" y1="519.5" x2="307.3" y2="519.5" stroke="#f70f0f" stroke-width="1.3"/>
<line x1="297.3" y1="540.7" x2="307.3" y2="540.7" stroke="#f70f0f" stroke-width="1.3"/>
<rect x="297.3" y="522.7" width="10" height="13.8" fill="none" stroke="#f70f0f" stroke-width="1.3"/>
<line x1="297.3" y1="532.2" x2="307.3" y2="532.2" stroke="#f70f0f" stroke-width="1.3"/>
<line x1="256" y1="497.7" x2="268.2" y2="497.7" stroke="#777" stroke-width="1.1"/>
<path d="M262.10 492.62 L262.82 493.98 L264.33 494.25 L263.26 495.35 L263.48 496.87 L262.10 496.19 L260.72 496.87 L260.94 495.35 L259.87 494.25 L261.38 493.98 Z" fill="#111"/>
<path d="M256 489.4 V485.3 H290.3 V487.5" fill="none" stroke="#444" stroke-width="0.9"/>
<path d="M266.55 480.22 L267.27 481.58 L268.78 481.85 L267.71 482.95 L267.93 484.47 L266.55 483.79 L265.17 484.47 L265.39 482.95 L264.32 481.85 L265.83 481.58 Z" fill="#111"/>
<path d="M270.95 480.22 L271.67 481.58 L273.18 481.85 L272.11 482.95 L272.33 484.47 L270.95 483.79 L269.57 484.47 L269.79 482.95 L268.72 481.85 L270.23 481.58 Z" fill="#111"/>
<path d="M275.35 480.22 L276.07 481.58 L277.58 481.85 L276.51 482.95 L276.73 484.47 L275.35 483.79 L273.97 484.47 L274.19 482.95 L273.12 481.85 L274.63 481.58 Z" fill="#111"/>
<path d="M279.75 480.22 L280.47 481.58 L281.98 481.85 L280.91 482.95 L281.13 484.47 L279.75 483.79 L278.37 484.47 L278.59 482.95 L277.52 481.85 L279.03 481.58 Z" fill="#111"/>
<text x="263.4" y="555.6" font-size="10.6" text-anchor="middle" fill="#111">TP1</text>
<text x="294.8" y="555.6" font-size="10.6" text-anchor="middle" fill="#111">TP2</text>
</svg></body></html>
